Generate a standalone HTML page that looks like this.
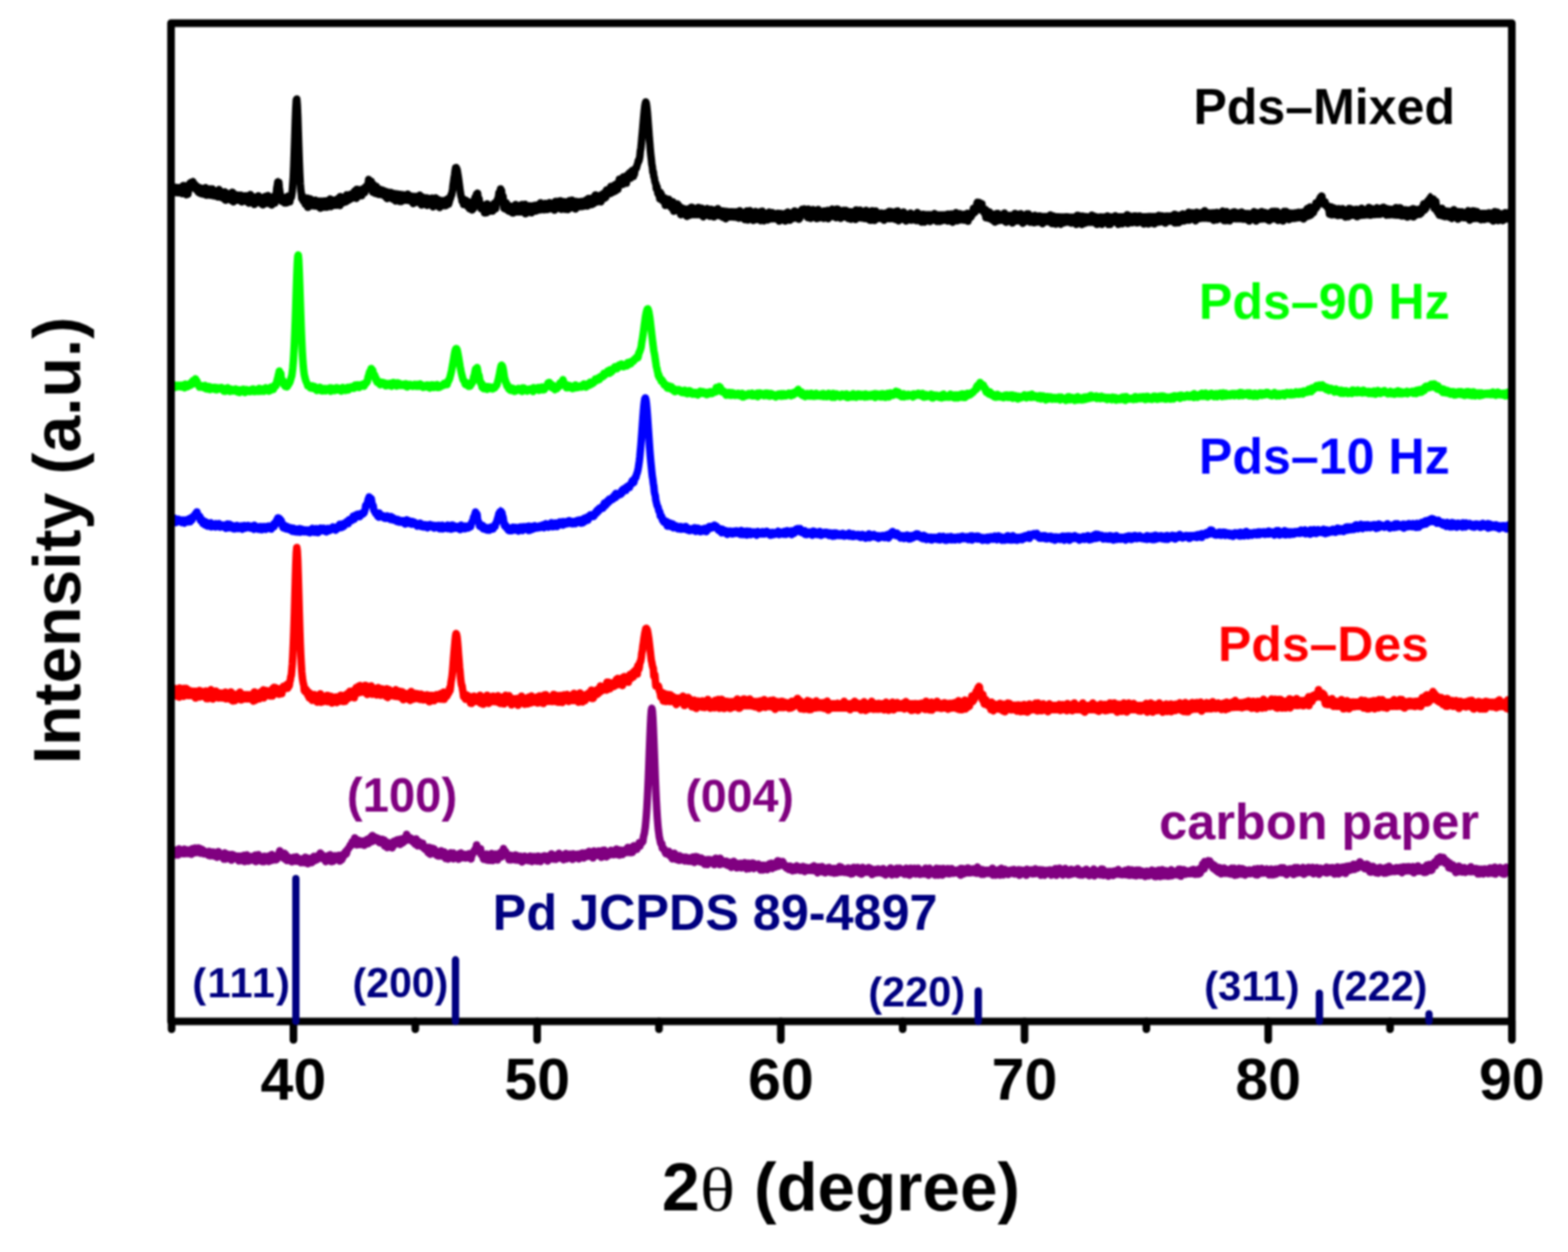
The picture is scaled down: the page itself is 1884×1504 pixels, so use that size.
<!DOCTYPE html>
<html><head><meta charset="utf-8"><title>XRD patterns</title>
<style>html,body{margin:0;padding:0;background:#fff;width:1884px;height:1504px;overflow:hidden}svg{display:block;filter:blur(1.0px)}</style>
</head><body>
<svg width="1884" height="1504" viewBox="0 0 1884 1504">
<rect width="1884" height="1504" fill="#ffffff"/>
<defs><clipPath id="pa"><rect x="206" y="27" width="1610.6" height="1200"/></clipPath></defs>
<g clip-path="url(#pa)">
<polygon fill="#800080" points="206.0,1017.4 207.2,1017.4 208.4,1017.5 209.6,1017.5 210.8,1017.5 212.0,1017.5 213.2,1017.5 214.4,1017.6 215.6,1017.6 216.8,1017.6 218.0,1017.6 219.2,1017.7 220.4,1017.7 221.6,1017.7 222.8,1017.7 224.0,1017.8 225.2,1017.8 226.4,1017.8 227.6,1017.8 228.8,1017.8 230.0,1017.7 231.2,1017.6 232.4,1017.4 233.6,1017.1 234.8,1016.6 236.0,1016.1 237.2,1015.5 238.4,1015.0 239.6,1014.7 240.8,1014.8 242.0,1015.2 243.2,1016.0 244.4,1016.8 245.6,1017.5 246.8,1018.2 248.0,1018.7 249.2,1019.1 250.4,1019.5 251.6,1019.7 252.8,1020.0 254.0,1020.1 255.2,1020.3 256.4,1020.4 257.6,1020.6 258.8,1020.7 260.0,1020.8 261.2,1021.0 262.4,1021.1 263.6,1021.2 264.8,1021.4 266.0,1021.5 267.2,1021.7 268.4,1021.8 269.6,1022.0 270.8,1022.2 272.0,1022.3 273.2,1022.5 274.4,1022.7 275.6,1022.8 276.8,1023.0 278.0,1023.1 279.2,1023.3 280.4,1023.4 281.6,1023.6 282.8,1023.7 284.0,1023.9 285.2,1024.0 286.4,1024.1 287.6,1024.3 288.8,1024.4 290.0,1024.5 291.2,1024.6 292.4,1024.7 293.6,1024.7 294.8,1024.8 296.0,1024.9 297.2,1024.9 298.4,1024.9 299.6,1024.9 300.8,1024.9 302.0,1024.9 303.2,1024.9 304.4,1024.9 305.6,1024.9 306.8,1024.9 308.0,1024.9 309.2,1024.9 310.4,1024.9 311.6,1024.9 312.8,1024.9 314.0,1024.9 315.2,1024.9 316.4,1024.9 317.6,1024.8 318.8,1024.8 320.0,1024.8 321.2,1024.8 322.4,1024.8 323.6,1024.7 324.8,1024.7 326.0,1024.7 327.2,1024.6 328.4,1024.5 329.6,1024.3 330.8,1023.9 332.0,1023.1 333.2,1021.8 334.4,1020.2 335.6,1018.5 336.8,1017.7 338.0,1018.2 339.2,1019.9 340.4,1021.8 341.6,1023.3 342.8,1024.4 344.0,1025.1 345.2,1025.5 346.4,1025.8 347.6,1026.0 348.8,1026.2 350.0,1026.3 351.2,1026.5 352.4,1026.6 353.6,1026.7 354.8,1026.8 356.0,1026.9 357.2,1027.0 358.4,1027.1 359.6,1027.2 360.8,1027.3 362.0,1027.4 363.2,1027.5 364.4,1027.6 365.6,1027.7 366.8,1027.7 368.0,1027.7 369.2,1027.8 370.4,1027.7 371.6,1027.7 372.8,1027.6 374.0,1027.5 375.2,1027.3 376.4,1027.1 377.6,1026.7 378.8,1026.2 380.0,1025.4 381.2,1024.5 382.4,1023.4 383.6,1022.4 384.8,1022.0 386.0,1022.2 387.2,1022.9 388.4,1023.7 389.6,1024.3 390.8,1024.8 392.0,1025.0 393.2,1025.1 394.4,1025.1 395.6,1025.1 396.8,1025.0 398.0,1024.9 399.2,1024.8 400.4,1024.7 401.6,1024.6 402.8,1024.5 404.0,1024.5 405.2,1024.4 406.4,1024.3 407.6,1024.2 408.8,1024.1 410.0,1024.0 411.2,1023.8 412.4,1023.5 413.6,1022.7 414.8,1021.3 416.0,1019.4 417.2,1017.3 418.4,1015.0 419.6,1012.6 420.8,1010.3 422.0,1008.3 423.2,1006.6 424.4,1005.3 425.6,1004.8 426.8,1005.0 428.0,1005.5 429.2,1006.1 430.4,1006.5 431.6,1006.7 432.8,1006.7 434.0,1006.5 435.2,1006.3 436.4,1006.1 437.6,1005.8 438.8,1005.4 440.0,1005.0 441.2,1004.5 442.4,1003.9 443.6,1003.2 444.8,1002.5 446.0,1001.7 447.2,1001.1 448.4,1000.7 449.6,1000.8 450.8,1001.1 452.0,1001.5 453.2,1002.0 454.4,1002.5 455.6,1002.9 456.8,1003.5 458.0,1004.3 459.2,1005.1 460.4,1006.1 461.6,1007.0 462.8,1007.9 464.0,1008.7 465.2,1009.3 466.4,1009.6 467.6,1009.6 468.8,1009.4 470.0,1008.9 471.2,1008.3 472.4,1007.7 473.6,1007.0 474.8,1006.3 476.0,1005.8 477.2,1005.4 478.4,1005.1 479.6,1004.9 480.8,1004.5 482.0,1003.9 483.2,1003.1 484.4,1002.2 485.6,1001.2 486.8,1000.3 488.0,999.7 489.2,999.7 490.4,1000.2 491.6,1001.1 492.8,1002.1 494.0,1003.0 495.2,1003.8 496.4,1004.4 497.6,1004.8 498.8,1005.1 500.0,1005.3 501.2,1005.7 502.4,1006.3 503.6,1007.3 504.8,1008.3 506.0,1009.5 507.2,1010.6 508.4,1011.7 509.6,1012.5 510.8,1013.2 512.0,1013.8 513.2,1014.4 514.4,1015.0 515.6,1015.5 516.8,1016.0 518.0,1016.5 519.2,1017.0 520.4,1017.4 521.6,1017.8 522.8,1018.2 524.0,1018.6 525.2,1018.9 526.4,1019.3 527.6,1019.6 528.8,1019.9 530.0,1020.3 531.2,1020.6 532.4,1020.9 533.6,1021.2 534.8,1021.5 536.0,1021.8 537.2,1022.0 538.4,1022.2 539.6,1022.4 540.8,1022.6 542.0,1022.7 543.2,1022.8 544.4,1022.8 545.6,1022.8 546.8,1022.8 548.0,1022.8 549.2,1022.8 550.4,1022.8 551.6,1022.8 552.8,1022.8 554.0,1022.8 555.2,1022.7 556.4,1022.7 557.6,1022.7 558.8,1022.6 560.0,1022.6 561.2,1022.5 562.4,1022.4 563.6,1022.3 564.8,1022.1 566.0,1021.8 567.2,1021.1 568.4,1020.0 569.6,1018.3 570.8,1015.9 572.0,1013.4 573.2,1011.6 574.4,1011.8 575.6,1013.9 576.8,1016.6 578.0,1018.9 579.2,1020.6 580.4,1021.7 581.6,1022.3 582.8,1022.7 584.0,1022.9 585.2,1023.1 586.4,1023.2 587.6,1023.3 588.8,1023.4 590.0,1023.5 591.2,1023.5 592.4,1023.6 593.6,1023.6 594.8,1023.6 596.0,1023.5 597.2,1023.4 598.4,1023.0 599.6,1022.4 600.8,1021.5 602.0,1020.3 603.2,1018.9 604.4,1017.8 605.6,1017.4 606.8,1018.1 608.0,1019.5 609.2,1021.1 610.4,1022.4 611.6,1023.5 612.8,1024.2 614.0,1024.6 615.2,1024.9 616.4,1025.1 617.6,1025.2 618.8,1025.3 620.0,1025.4 621.2,1025.4 622.4,1025.4 623.6,1025.4 624.8,1025.4 626.0,1025.4 627.2,1025.4 628.4,1025.4 629.6,1025.4 630.8,1025.4 632.0,1025.4 633.2,1025.4 634.4,1025.3 635.6,1025.3 636.8,1025.3 638.0,1025.2 639.2,1025.2 640.4,1025.1 641.6,1025.1 642.8,1025.0 644.0,1025.0 645.2,1024.9 646.4,1024.9 647.6,1024.8 648.8,1024.8 650.0,1024.7 651.2,1024.6 652.4,1024.6 653.6,1024.5 654.8,1024.4 656.0,1024.4 657.2,1024.3 658.4,1024.2 659.6,1024.1 660.8,1024.1 662.0,1024.0 663.2,1023.9 664.4,1023.8 665.6,1023.8 666.8,1023.7 668.0,1023.6 669.2,1023.5 670.4,1023.4 671.6,1023.3 672.8,1023.3 674.0,1023.2 675.2,1023.1 676.4,1023.0 677.6,1022.9 678.8,1022.8 680.0,1022.7 681.2,1022.7 682.4,1022.6 683.6,1022.5 684.8,1022.4 686.0,1022.3 687.2,1022.2 688.4,1022.1 689.6,1022.1 690.8,1022.0 692.0,1021.9 693.2,1021.8 694.4,1021.7 695.6,1021.6 696.8,1021.6 698.0,1021.5 699.2,1021.4 700.4,1021.3 701.6,1021.2 702.8,1021.2 704.0,1021.1 705.2,1021.0 706.4,1020.9 707.6,1020.9 708.8,1020.8 710.0,1020.7 711.2,1020.6 712.4,1020.6 713.6,1020.5 714.8,1020.4 716.0,1020.3 717.2,1020.3 718.4,1020.2 719.6,1020.1 720.8,1020.0 722.0,1019.9 723.2,1019.9 724.4,1019.8 725.6,1019.7 726.8,1019.6 728.0,1019.5 729.2,1019.4 730.4,1019.3 731.6,1019.2 732.8,1019.1 734.0,1019.0 735.2,1018.9 736.4,1018.8 737.6,1018.7 738.8,1018.6 740.0,1018.5 741.2,1018.4 742.4,1018.2 743.6,1018.1 744.8,1018.0 746.0,1017.8 747.2,1017.7 748.4,1017.5 749.6,1017.3 750.8,1017.1 752.0,1017.0 753.2,1016.8 754.4,1016.5 755.6,1016.3 756.8,1016.1 758.0,1015.8 759.2,1015.5 760.4,1015.2 761.6,1014.8 762.8,1014.4 764.0,1013.8 765.2,1013.2 766.4,1012.6 767.6,1011.9 768.8,1011.1 770.0,1010.2 771.2,1009.0 772.4,1007.3 773.6,1004.3 774.8,997.6 776.0,986.9 777.2,970.7 778.4,948.0 779.6,919.4 780.8,888.1 782.0,861.6 783.2,850.8 784.4,861.7 785.6,888.5 786.8,920.3 788.0,949.6 789.2,972.9 790.4,989.8 791.6,1001.2 792.8,1008.5 794.0,1012.1 795.2,1014.2 796.4,1015.8 797.6,1017.1 798.8,1018.2 800.0,1019.2 801.2,1020.1 802.4,1020.9 803.6,1021.5 804.8,1022.0 806.0,1022.5 807.2,1022.9 808.4,1023.2 809.6,1023.5 810.8,1023.8 812.0,1024.0 813.2,1024.2 814.4,1024.4 815.6,1024.6 816.8,1024.8 818.0,1025.0 819.2,1025.2 820.4,1025.4 821.6,1025.5 822.8,1025.7 824.0,1025.9 825.2,1026.0 826.4,1026.2 827.6,1026.3 828.8,1026.5 830.0,1026.6 831.2,1026.7 832.4,1026.9 833.6,1027.0 834.8,1027.1 836.0,1027.2 837.2,1027.4 838.4,1027.5 839.6,1027.6 840.8,1027.7 842.0,1027.8 843.2,1027.9 844.4,1028.1 845.6,1028.2 846.8,1028.3 848.0,1028.4 849.2,1028.5 850.4,1028.6 851.6,1028.8 852.8,1028.9 854.0,1029.0 855.2,1029.0 856.4,1029.1 857.6,1029.1 858.8,1029.1 860.0,1029.1 861.2,1029.0 862.4,1029.0 863.6,1029.0 864.8,1029.1 866.0,1029.3 867.2,1029.6 868.4,1030.0 869.6,1030.3 870.8,1030.6 872.0,1030.9 873.2,1031.1 874.4,1031.3 875.6,1031.5 876.8,1031.7 878.0,1031.9 879.2,1032.0 880.4,1032.2 881.6,1032.3 882.8,1032.4 884.0,1032.6 885.2,1032.7 886.4,1032.8 887.6,1033.0 888.8,1033.1 890.0,1033.2 891.2,1033.3 892.4,1033.4 893.6,1033.5 894.8,1033.6 896.0,1033.8 897.2,1033.8 898.4,1033.9 899.6,1034.0 900.8,1034.1 902.0,1034.2 903.2,1034.3 904.4,1034.4 905.6,1034.4 906.8,1034.5 908.0,1034.6 909.2,1034.7 910.4,1034.7 911.6,1034.8 912.8,1034.9 914.0,1035.0 915.2,1035.0 916.4,1035.1 917.6,1035.1 918.8,1035.2 920.0,1035.2 921.2,1035.3 922.4,1035.3 923.6,1035.3 924.8,1035.3 926.0,1035.2 927.2,1035.0 928.4,1034.7 929.6,1034.3 930.8,1033.7 932.0,1032.9 933.2,1032.0 934.4,1031.1 935.6,1030.4 936.8,1030.3 938.0,1030.7 939.2,1031.5 940.4,1032.5 941.6,1033.5 942.8,1034.4 944.0,1035.2 945.2,1035.7 946.4,1036.1 947.6,1036.4 948.8,1036.6 950.0,1036.7 951.2,1036.9 952.4,1037.0 953.6,1037.1 954.8,1037.2 956.0,1037.2 957.2,1037.3 958.4,1037.4 959.6,1037.4 960.8,1037.5 962.0,1037.6 963.2,1037.6 964.4,1037.7 965.6,1037.7 966.8,1037.8 968.0,1037.9 969.2,1037.9 970.4,1038.0 971.6,1038.0 972.8,1038.1 974.0,1038.1 975.2,1038.2 976.4,1038.2 977.6,1038.2 978.8,1038.3 980.0,1038.3 981.2,1038.4 982.4,1038.4 983.6,1038.5 984.8,1038.5 986.0,1038.5 987.2,1038.6 988.4,1038.6 989.6,1038.7 990.8,1038.7 992.0,1038.7 993.2,1038.8 994.4,1038.8 995.6,1038.9 996.8,1038.9 998.0,1039.0 999.2,1039.0 1000.4,1039.0 1001.6,1039.1 1002.8,1039.1 1004.0,1039.2 1005.2,1039.2 1006.4,1039.2 1007.6,1039.3 1008.8,1039.3 1010.0,1039.4 1011.2,1039.4 1012.4,1039.4 1013.6,1039.5 1014.8,1039.5 1016.0,1039.6 1017.2,1039.6 1018.4,1039.6 1019.6,1039.7 1020.8,1039.7 1022.0,1039.7 1023.2,1039.8 1024.4,1039.8 1025.6,1039.9 1026.8,1039.9 1028.0,1039.9 1029.2,1040.0 1030.4,1040.0 1031.6,1040.0 1032.8,1040.1 1034.0,1040.1 1035.2,1040.1 1036.4,1040.2 1037.6,1040.2 1038.8,1040.2 1040.0,1040.3 1041.2,1040.3 1042.4,1040.3 1043.6,1040.4 1044.8,1040.4 1046.0,1040.4 1047.2,1040.5 1048.4,1040.5 1049.6,1040.5 1050.8,1040.5 1052.0,1040.6 1053.2,1040.6 1054.4,1040.6 1055.6,1040.7 1056.8,1040.7 1058.0,1040.7 1059.2,1040.7 1060.4,1040.8 1061.6,1040.8 1062.8,1040.8 1064.0,1040.8 1065.2,1040.8 1066.4,1040.9 1067.6,1040.9 1068.8,1040.9 1070.0,1040.9 1071.2,1040.9 1072.4,1041.0 1073.6,1041.0 1074.8,1041.0 1076.0,1041.0 1077.2,1041.0 1078.4,1041.0 1079.6,1041.1 1080.8,1041.1 1082.0,1041.1 1083.2,1041.1 1084.4,1041.1 1085.6,1041.1 1086.8,1041.1 1088.0,1041.1 1089.2,1041.1 1090.4,1041.2 1091.6,1041.2 1092.8,1041.2 1094.0,1041.2 1095.2,1041.2 1096.4,1041.2 1097.6,1041.2 1098.8,1041.2 1100.0,1041.2 1101.2,1041.2 1102.4,1041.2 1103.6,1041.2 1104.8,1041.2 1106.0,1041.2 1107.2,1041.2 1108.4,1041.2 1109.6,1041.2 1110.8,1041.2 1112.0,1041.2 1113.2,1041.2 1114.4,1041.2 1115.6,1041.2 1116.8,1041.2 1118.0,1041.2 1119.2,1041.2 1120.4,1041.2 1121.6,1041.2 1122.8,1041.2 1124.0,1041.2 1125.2,1041.2 1126.4,1041.2 1127.6,1041.2 1128.8,1041.2 1130.0,1041.2 1131.2,1041.2 1132.4,1041.2 1133.6,1041.2 1134.8,1041.2 1136.0,1041.2 1137.2,1041.2 1138.4,1041.2 1139.6,1041.2 1140.8,1041.2 1142.0,1041.2 1143.2,1041.2 1144.4,1041.2 1145.6,1041.2 1146.8,1041.2 1148.0,1041.2 1149.2,1041.2 1150.4,1041.2 1151.6,1041.1 1152.8,1041.1 1154.0,1041.1 1155.2,1041.1 1156.4,1041.1 1157.6,1041.1 1158.8,1041.1 1160.0,1041.1 1161.2,1041.1 1162.4,1041.0 1163.6,1041.0 1164.8,1040.9 1166.0,1040.8 1167.2,1040.7 1168.4,1040.5 1169.6,1040.3 1170.8,1040.0 1172.0,1039.8 1173.2,1039.7 1174.4,1039.7 1175.6,1039.9 1176.8,1040.1 1178.0,1040.3 1179.2,1040.5 1180.4,1040.7 1181.6,1040.8 1182.8,1040.9 1184.0,1041.0 1185.2,1041.0 1186.4,1041.1 1187.6,1041.1 1188.8,1041.1 1190.0,1041.1 1191.2,1041.1 1192.4,1041.1 1193.6,1041.1 1194.8,1041.1 1196.0,1041.1 1197.2,1041.2 1198.4,1041.2 1199.6,1041.2 1200.8,1041.2 1202.0,1041.2 1203.2,1041.2 1204.4,1041.2 1205.6,1041.2 1206.8,1041.2 1208.0,1041.2 1209.2,1041.2 1210.4,1041.2 1211.6,1041.2 1212.8,1041.2 1214.0,1041.2 1215.2,1041.2 1216.4,1041.2 1217.6,1041.2 1218.8,1041.2 1220.0,1041.2 1221.2,1041.2 1222.4,1041.2 1223.6,1041.2 1224.8,1041.2 1226.0,1041.2 1227.2,1041.2 1228.4,1041.2 1229.6,1041.2 1230.8,1041.2 1232.0,1041.2 1233.2,1041.2 1234.4,1041.2 1235.6,1041.2 1236.8,1041.2 1238.0,1041.2 1239.2,1041.2 1240.4,1041.2 1241.6,1041.2 1242.8,1041.2 1244.0,1041.2 1245.2,1041.2 1246.4,1041.2 1247.6,1041.2 1248.8,1041.2 1250.0,1041.2 1251.2,1041.2 1252.4,1041.2 1253.6,1041.2 1254.8,1041.2 1256.0,1041.2 1257.2,1041.2 1258.4,1041.2 1259.6,1041.2 1260.8,1041.2 1262.0,1041.2 1263.2,1041.2 1264.4,1041.2 1265.6,1041.3 1266.8,1041.3 1268.0,1041.3 1269.2,1041.3 1270.4,1041.3 1271.6,1041.3 1272.8,1041.3 1274.0,1041.3 1275.2,1041.4 1276.4,1041.4 1277.6,1041.4 1278.8,1041.4 1280.0,1041.4 1281.2,1041.4 1282.4,1041.5 1283.6,1041.5 1284.8,1041.5 1286.0,1041.5 1287.2,1041.5 1288.4,1041.6 1289.6,1041.6 1290.8,1041.6 1292.0,1041.6 1293.2,1041.6 1294.4,1041.7 1295.6,1041.7 1296.8,1041.7 1298.0,1041.7 1299.2,1041.8 1300.4,1041.8 1301.6,1041.8 1302.8,1041.8 1304.0,1041.9 1305.2,1041.9 1306.4,1041.9 1307.6,1041.9 1308.8,1041.9 1310.0,1042.0 1311.2,1042.0 1312.4,1042.0 1313.6,1042.0 1314.8,1042.1 1316.0,1042.1 1317.2,1042.1 1318.4,1042.1 1319.6,1042.2 1320.8,1042.2 1322.0,1042.2 1323.2,1042.2 1324.4,1042.3 1325.6,1042.3 1326.8,1042.3 1328.0,1042.3 1329.2,1042.4 1330.4,1042.4 1331.6,1042.4 1332.8,1042.4 1334.0,1042.5 1335.2,1042.5 1336.4,1042.5 1337.6,1042.5 1338.8,1042.5 1340.0,1042.6 1341.2,1042.6 1342.4,1042.6 1343.6,1042.6 1344.8,1042.6 1346.0,1042.7 1347.2,1042.7 1348.4,1042.7 1349.6,1042.7 1350.8,1042.7 1352.0,1042.7 1353.2,1042.8 1354.4,1042.8 1355.6,1042.8 1356.8,1042.8 1358.0,1042.8 1359.2,1042.8 1360.4,1042.8 1361.6,1042.9 1362.8,1042.9 1364.0,1042.9 1365.2,1042.9 1366.4,1042.9 1367.6,1042.9 1368.8,1042.9 1370.0,1042.9 1371.2,1042.9 1372.4,1042.9 1373.6,1042.9 1374.8,1042.9 1376.0,1042.9 1377.2,1042.9 1378.4,1042.9 1379.6,1042.9 1380.8,1042.9 1382.0,1042.9 1383.2,1042.9 1384.4,1042.9 1385.6,1042.9 1386.8,1042.9 1388.0,1042.9 1389.2,1042.9 1390.4,1042.9 1391.6,1042.9 1392.8,1042.9 1394.0,1042.9 1395.2,1042.8 1396.4,1042.8 1397.6,1042.8 1398.8,1042.8 1400.0,1042.8 1401.2,1042.8 1402.4,1042.8 1403.6,1042.7 1404.8,1042.7 1406.0,1042.7 1407.2,1042.7 1408.4,1042.7 1409.6,1042.6 1410.8,1042.6 1412.0,1042.6 1413.2,1042.6 1414.4,1042.5 1415.6,1042.5 1416.8,1042.5 1418.0,1042.4 1419.2,1042.4 1420.4,1042.4 1421.6,1042.3 1422.8,1042.3 1424.0,1042.2 1425.2,1042.2 1426.4,1042.1 1427.6,1042.0 1428.8,1042.0 1430.0,1041.9 1431.2,1041.8 1432.4,1041.7 1433.6,1041.6 1434.8,1041.4 1436.0,1041.3 1437.2,1041.0 1438.4,1040.7 1439.6,1040.3 1440.8,1039.7 1442.0,1038.9 1443.2,1037.9 1444.4,1036.7 1445.6,1035.2 1446.8,1033.6 1448.0,1031.9 1449.2,1030.4 1450.4,1029.4 1451.6,1029.2 1452.8,1029.9 1454.0,1031.2 1455.2,1032.8 1456.4,1034.5 1457.6,1036.0 1458.8,1037.2 1460.0,1038.3 1461.2,1039.1 1462.4,1039.7 1463.6,1040.1 1464.8,1040.4 1466.0,1040.6 1467.2,1040.8 1468.4,1040.9 1469.6,1040.9 1470.8,1041.0 1472.0,1041.1 1473.2,1041.1 1474.4,1041.1 1475.6,1041.1 1476.8,1041.2 1478.0,1041.2 1479.2,1041.2 1480.4,1041.2 1481.6,1041.2 1482.8,1041.2 1484.0,1041.2 1485.2,1041.2 1486.4,1041.2 1487.6,1041.2 1488.8,1041.2 1490.0,1041.1 1491.2,1041.1 1492.4,1041.1 1493.6,1041.1 1494.8,1041.1 1496.0,1041.1 1497.2,1041.1 1498.4,1041.1 1499.6,1041.1 1500.8,1041.1 1502.0,1041.0 1503.2,1041.0 1504.4,1041.0 1505.6,1041.0 1506.8,1041.0 1508.0,1041.0 1509.2,1041.0 1510.4,1041.0 1511.6,1040.9 1512.8,1040.9 1514.0,1040.9 1515.2,1040.9 1516.4,1040.9 1517.6,1040.9 1518.8,1040.9 1520.0,1040.9 1521.2,1040.8 1522.4,1040.8 1523.6,1040.8 1524.8,1040.8 1526.0,1040.8 1527.2,1040.8 1528.4,1040.8 1529.6,1040.7 1530.8,1040.7 1532.0,1040.7 1533.2,1040.7 1534.4,1040.7 1535.6,1040.7 1536.8,1040.7 1538.0,1040.6 1539.2,1040.6 1540.4,1040.6 1541.6,1040.6 1542.8,1040.6 1544.0,1040.6 1545.2,1040.6 1546.4,1040.5 1547.6,1040.5 1548.8,1040.5 1550.0,1040.5 1551.2,1040.5 1552.4,1040.5 1553.6,1040.5 1554.8,1040.4 1556.0,1040.4 1557.2,1040.4 1558.4,1040.4 1559.6,1040.4 1560.8,1040.4 1562.0,1040.4 1563.2,1040.3 1564.4,1040.3 1565.6,1040.3 1566.8,1040.3 1568.0,1040.3 1569.2,1040.3 1570.4,1040.2 1571.6,1040.2 1572.8,1040.2 1574.0,1040.2 1575.2,1040.2 1576.4,1040.2 1577.6,1040.2 1578.8,1040.1 1580.0,1040.1 1581.2,1040.1 1582.4,1040.1 1583.6,1040.1 1584.8,1040.1 1586.0,1040.0 1587.2,1040.0 1588.4,1040.0 1589.6,1040.0 1590.8,1040.0 1592.0,1039.9 1593.2,1039.9 1594.4,1039.9 1595.6,1039.9 1596.8,1039.9 1598.0,1039.8 1599.2,1039.8 1600.4,1039.8 1601.6,1039.8 1602.8,1039.7 1604.0,1039.7 1605.2,1039.7 1606.4,1039.6 1607.6,1039.6 1608.8,1039.5 1610.0,1039.5 1611.2,1039.5 1612.4,1039.4 1613.6,1039.3 1614.8,1039.2 1616.0,1039.1 1617.2,1039.0 1618.4,1038.8 1619.6,1038.6 1620.8,1038.4 1622.0,1038.1 1623.2,1037.7 1624.4,1037.2 1625.6,1036.7 1626.8,1036.1 1628.0,1035.4 1629.2,1034.7 1630.4,1034.0 1631.6,1033.4 1632.8,1033.0 1634.0,1032.7 1635.2,1032.7 1636.4,1032.9 1637.6,1033.3 1638.8,1033.9 1640.0,1034.6 1641.2,1035.2 1642.4,1035.8 1643.6,1036.4 1644.8,1036.9 1646.0,1037.3 1647.2,1037.7 1648.4,1038.0 1649.6,1038.2 1650.8,1038.4 1652.0,1038.5 1653.2,1038.6 1654.4,1038.6 1655.6,1038.7 1656.8,1038.7 1658.0,1038.7 1659.2,1038.8 1660.4,1038.8 1661.6,1038.8 1662.8,1038.8 1664.0,1038.8 1665.2,1038.8 1666.4,1038.8 1667.6,1038.8 1668.8,1038.8 1670.0,1038.8 1671.2,1038.8 1672.4,1038.8 1673.6,1038.8 1674.8,1038.8 1676.0,1038.7 1677.2,1038.7 1678.4,1038.7 1679.6,1038.7 1680.8,1038.7 1682.0,1038.7 1683.2,1038.7 1684.4,1038.7 1685.6,1038.7 1686.8,1038.6 1688.0,1038.6 1689.2,1038.6 1690.4,1038.6 1691.6,1038.6 1692.8,1038.6 1694.0,1038.5 1695.2,1038.5 1696.4,1038.5 1697.6,1038.5 1698.8,1038.5 1700.0,1038.4 1701.2,1038.4 1702.4,1038.4 1703.6,1038.3 1704.8,1038.3 1706.0,1038.3 1707.2,1038.2 1708.4,1038.1 1709.6,1038.1 1710.8,1038.0 1712.0,1037.8 1713.2,1037.7 1714.4,1037.4 1715.6,1037.1 1716.8,1036.8 1718.0,1036.3 1719.2,1035.7 1720.4,1034.9 1721.6,1034.0 1722.8,1033.0 1724.0,1031.8 1725.2,1030.5 1726.4,1029.2 1727.6,1027.9 1728.8,1026.8 1730.0,1026.0 1731.2,1025.7 1732.4,1025.8 1733.6,1026.5 1734.8,1027.4 1736.0,1028.7 1737.2,1030.0 1738.4,1031.4 1739.6,1032.6 1740.8,1033.8 1742.0,1034.8 1743.2,1035.6 1744.4,1036.4 1745.6,1036.9 1746.8,1037.4 1748.0,1037.8 1749.2,1038.0 1750.4,1038.3 1751.6,1038.5 1752.8,1038.6 1754.0,1038.7 1755.2,1038.8 1756.4,1038.9 1757.6,1039.0 1758.8,1039.0 1760.0,1039.1 1761.2,1039.2 1762.4,1039.2 1763.6,1039.3 1764.8,1039.3 1766.0,1039.3 1767.2,1039.4 1768.4,1039.4 1769.6,1039.5 1770.8,1039.5 1772.0,1039.5 1773.2,1039.6 1774.4,1039.6 1775.6,1039.6 1776.8,1039.6 1778.0,1039.7 1779.2,1039.7 1780.4,1039.7 1781.6,1039.7 1782.8,1039.7 1784.0,1039.8 1785.2,1039.8 1786.4,1039.8 1787.6,1039.8 1788.8,1039.8 1790.0,1039.8 1791.2,1039.8 1792.4,1039.9 1793.6,1039.9 1794.8,1039.9 1796.0,1039.9 1797.2,1039.9 1798.4,1039.9 1799.6,1039.9 1800.8,1039.9 1802.0,1039.9 1803.2,1039.9 1804.4,1039.9 1805.6,1039.9 1806.8,1039.9 1808.0,1039.9 1809.2,1039.9 1810.4,1039.9 1811.6,1039.9 1812.8,1039.9 1814.0,1039.9 1815.2,1039.9 1816.4,1039.9 1816.4,1051.9 1815.2,1051.9 1814.0,1051.9 1812.8,1051.9 1811.6,1051.9 1810.4,1051.9 1809.2,1051.9 1808.0,1051.9 1806.8,1051.9 1805.6,1051.9 1804.4,1051.9 1803.2,1051.9 1802.0,1051.9 1800.8,1051.9 1799.6,1051.9 1798.4,1051.9 1797.2,1051.9 1796.0,1051.9 1794.8,1051.9 1793.6,1051.9 1792.4,1051.9 1791.2,1051.8 1790.0,1051.8 1788.8,1051.8 1787.6,1051.8 1786.4,1051.8 1785.2,1051.8 1784.0,1051.8 1782.8,1051.7 1781.6,1051.7 1780.4,1051.7 1779.2,1051.7 1778.0,1051.7 1776.8,1051.6 1775.6,1051.6 1774.4,1051.6 1773.2,1051.5 1772.0,1051.5 1770.8,1051.5 1769.6,1051.5 1768.4,1051.4 1767.2,1051.4 1766.0,1051.3 1764.8,1051.3 1763.6,1051.3 1762.4,1051.2 1761.2,1051.2 1760.0,1051.1 1758.8,1051.0 1757.6,1051.0 1756.4,1050.9 1755.2,1050.8 1754.0,1050.7 1752.8,1050.6 1751.6,1050.4 1750.4,1050.3 1749.2,1050.0 1748.0,1049.8 1746.8,1049.4 1745.6,1048.9 1744.4,1048.4 1743.2,1047.6 1742.0,1046.8 1740.8,1045.8 1739.6,1044.6 1738.4,1043.4 1737.2,1042.0 1736.0,1040.7 1734.8,1039.4 1733.6,1038.4 1732.4,1037.8 1731.2,1037.7 1730.0,1038.0 1728.8,1038.8 1727.6,1039.9 1726.4,1041.2 1725.2,1042.5 1724.0,1043.8 1722.8,1045.0 1721.6,1046.0 1720.4,1046.9 1719.2,1047.7 1718.0,1048.3 1716.8,1048.8 1715.6,1049.1 1714.4,1049.4 1713.2,1049.7 1712.0,1049.8 1710.8,1050.0 1709.6,1050.1 1708.4,1050.1 1707.2,1050.2 1706.0,1050.3 1704.8,1050.3 1703.6,1050.3 1702.4,1050.4 1701.2,1050.4 1700.0,1050.4 1698.8,1050.5 1697.6,1050.5 1696.4,1050.5 1695.2,1050.5 1694.0,1050.5 1692.8,1050.6 1691.6,1050.6 1690.4,1050.6 1689.2,1050.6 1688.0,1050.6 1686.8,1050.6 1685.6,1050.7 1684.4,1050.7 1683.2,1050.7 1682.0,1050.7 1680.8,1050.7 1679.6,1050.7 1678.4,1050.7 1677.2,1050.7 1676.0,1050.7 1674.8,1050.7 1673.6,1050.8 1672.4,1050.8 1671.2,1050.8 1670.0,1050.8 1668.8,1050.8 1667.6,1050.8 1666.4,1050.8 1665.2,1050.8 1664.0,1050.8 1662.8,1050.8 1661.6,1050.8 1660.4,1050.8 1659.2,1050.8 1658.0,1050.7 1656.8,1050.7 1655.6,1050.7 1654.4,1050.6 1653.2,1050.6 1652.0,1050.5 1650.8,1050.4 1649.6,1050.2 1648.4,1050.0 1647.2,1049.7 1646.0,1049.3 1644.8,1048.9 1643.6,1048.4 1642.4,1047.8 1641.2,1047.2 1640.0,1046.6 1638.8,1045.9 1637.6,1045.3 1636.4,1044.9 1635.2,1044.7 1634.0,1044.7 1632.8,1045.0 1631.6,1045.4 1630.4,1046.0 1629.2,1046.7 1628.0,1047.4 1626.8,1048.1 1625.6,1048.7 1624.4,1049.2 1623.2,1049.7 1622.0,1050.1 1620.8,1050.4 1619.6,1050.6 1618.4,1050.8 1617.2,1051.0 1616.0,1051.1 1614.8,1051.2 1613.6,1051.3 1612.4,1051.4 1611.2,1051.4 1610.0,1051.5 1608.8,1051.5 1607.6,1051.6 1606.4,1051.6 1605.2,1051.7 1604.0,1051.7 1602.8,1051.7 1601.6,1051.8 1600.4,1051.8 1599.2,1051.8 1598.0,1051.8 1596.8,1051.8 1595.6,1051.9 1594.4,1051.9 1593.2,1051.9 1592.0,1051.9 1590.8,1052.0 1589.6,1052.0 1588.4,1052.0 1587.2,1052.0 1586.0,1052.0 1584.8,1052.0 1583.6,1052.1 1582.4,1052.1 1581.2,1052.1 1580.0,1052.1 1578.8,1052.1 1577.6,1052.2 1576.4,1052.2 1575.2,1052.2 1574.0,1052.2 1572.8,1052.2 1571.6,1052.2 1570.4,1052.2 1569.2,1052.3 1568.0,1052.3 1566.8,1052.3 1565.6,1052.3 1564.4,1052.3 1563.2,1052.3 1562.0,1052.4 1560.8,1052.4 1559.6,1052.4 1558.4,1052.4 1557.2,1052.4 1556.0,1052.4 1554.8,1052.4 1553.6,1052.5 1552.4,1052.5 1551.2,1052.5 1550.0,1052.5 1548.8,1052.5 1547.6,1052.5 1546.4,1052.5 1545.2,1052.6 1544.0,1052.6 1542.8,1052.6 1541.6,1052.6 1540.4,1052.6 1539.2,1052.6 1538.0,1052.6 1536.8,1052.7 1535.6,1052.7 1534.4,1052.7 1533.2,1052.7 1532.0,1052.7 1530.8,1052.7 1529.6,1052.7 1528.4,1052.8 1527.2,1052.8 1526.0,1052.8 1524.8,1052.8 1523.6,1052.8 1522.4,1052.8 1521.2,1052.8 1520.0,1052.9 1518.8,1052.9 1517.6,1052.9 1516.4,1052.9 1515.2,1052.9 1514.0,1052.9 1512.8,1052.9 1511.6,1052.9 1510.4,1053.0 1509.2,1053.0 1508.0,1053.0 1506.8,1053.0 1505.6,1053.0 1504.4,1053.0 1503.2,1053.0 1502.0,1053.0 1500.8,1053.1 1499.6,1053.1 1498.4,1053.1 1497.2,1053.1 1496.0,1053.1 1494.8,1053.1 1493.6,1053.1 1492.4,1053.1 1491.2,1053.1 1490.0,1053.1 1488.8,1053.2 1487.6,1053.2 1486.4,1053.2 1485.2,1053.2 1484.0,1053.2 1482.8,1053.2 1481.6,1053.2 1480.4,1053.2 1479.2,1053.2 1478.0,1053.2 1476.8,1053.2 1475.6,1053.1 1474.4,1053.1 1473.2,1053.1 1472.0,1053.1 1470.8,1053.0 1469.6,1052.9 1468.4,1052.9 1467.2,1052.8 1466.0,1052.6 1464.8,1052.4 1463.6,1052.1 1462.4,1051.7 1461.2,1051.1 1460.0,1050.3 1458.8,1049.2 1457.6,1048.0 1456.4,1046.5 1455.2,1044.8 1454.0,1043.2 1452.8,1041.9 1451.6,1041.2 1450.4,1041.4 1449.2,1042.4 1448.0,1043.9 1446.8,1045.6 1445.6,1047.2 1444.4,1048.7 1443.2,1049.9 1442.0,1050.9 1440.8,1051.7 1439.6,1052.3 1438.4,1052.7 1437.2,1053.0 1436.0,1053.3 1434.8,1053.4 1433.6,1053.6 1432.4,1053.7 1431.2,1053.8 1430.0,1053.9 1428.8,1054.0 1427.6,1054.0 1426.4,1054.1 1425.2,1054.2 1424.0,1054.2 1422.8,1054.3 1421.6,1054.3 1420.4,1054.3 1419.2,1054.4 1418.0,1054.4 1416.8,1054.5 1415.6,1054.5 1414.4,1054.5 1413.2,1054.5 1412.0,1054.6 1410.8,1054.6 1409.6,1054.6 1408.4,1054.6 1407.2,1054.7 1406.0,1054.7 1404.8,1054.7 1403.6,1054.7 1402.4,1054.8 1401.2,1054.8 1400.0,1054.8 1398.8,1054.8 1397.6,1054.8 1396.4,1054.8 1395.2,1054.8 1394.0,1054.9 1392.8,1054.9 1391.6,1054.9 1390.4,1054.9 1389.2,1054.9 1388.0,1054.9 1386.8,1054.9 1385.6,1054.9 1384.4,1054.9 1383.2,1054.9 1382.0,1054.9 1380.8,1054.9 1379.6,1054.9 1378.4,1054.9 1377.2,1054.9 1376.0,1054.9 1374.8,1054.9 1373.6,1054.9 1372.4,1054.9 1371.2,1054.9 1370.0,1054.9 1368.8,1054.9 1367.6,1054.9 1366.4,1054.9 1365.2,1054.9 1364.0,1054.9 1362.8,1054.9 1361.6,1054.9 1360.4,1054.8 1359.2,1054.8 1358.0,1054.8 1356.8,1054.8 1355.6,1054.8 1354.4,1054.8 1353.2,1054.8 1352.0,1054.7 1350.8,1054.7 1349.6,1054.7 1348.4,1054.7 1347.2,1054.7 1346.0,1054.7 1344.8,1054.6 1343.6,1054.6 1342.4,1054.6 1341.2,1054.6 1340.0,1054.6 1338.8,1054.5 1337.6,1054.5 1336.4,1054.5 1335.2,1054.5 1334.0,1054.4 1332.8,1054.4 1331.6,1054.4 1330.4,1054.4 1329.2,1054.4 1328.0,1054.3 1326.8,1054.3 1325.6,1054.3 1324.4,1054.3 1323.2,1054.2 1322.0,1054.2 1320.8,1054.2 1319.6,1054.2 1318.4,1054.1 1317.2,1054.1 1316.0,1054.1 1314.8,1054.1 1313.6,1054.0 1312.4,1054.0 1311.2,1054.0 1310.0,1054.0 1308.8,1053.9 1307.6,1053.9 1306.4,1053.9 1305.2,1053.9 1304.0,1053.8 1302.8,1053.8 1301.6,1053.8 1300.4,1053.8 1299.2,1053.8 1298.0,1053.7 1296.8,1053.7 1295.6,1053.7 1294.4,1053.7 1293.2,1053.6 1292.0,1053.6 1290.8,1053.6 1289.6,1053.6 1288.4,1053.6 1287.2,1053.5 1286.0,1053.5 1284.8,1053.5 1283.6,1053.5 1282.4,1053.5 1281.2,1053.4 1280.0,1053.4 1278.8,1053.4 1277.6,1053.4 1276.4,1053.4 1275.2,1053.4 1274.0,1053.3 1272.8,1053.3 1271.6,1053.3 1270.4,1053.3 1269.2,1053.3 1268.0,1053.3 1266.8,1053.3 1265.6,1053.2 1264.4,1053.2 1263.2,1053.2 1262.0,1053.2 1260.8,1053.2 1259.6,1053.2 1258.4,1053.2 1257.2,1053.2 1256.0,1053.2 1254.8,1053.2 1253.6,1053.2 1252.4,1053.2 1251.2,1053.2 1250.0,1053.2 1248.8,1053.2 1247.6,1053.2 1246.4,1053.2 1245.2,1053.2 1244.0,1053.2 1242.8,1053.2 1241.6,1053.2 1240.4,1053.2 1239.2,1053.2 1238.0,1053.2 1236.8,1053.2 1235.6,1053.2 1234.4,1053.2 1233.2,1053.2 1232.0,1053.2 1230.8,1053.2 1229.6,1053.2 1228.4,1053.2 1227.2,1053.2 1226.0,1053.2 1224.8,1053.2 1223.6,1053.2 1222.4,1053.2 1221.2,1053.2 1220.0,1053.2 1218.8,1053.2 1217.6,1053.2 1216.4,1053.2 1215.2,1053.2 1214.0,1053.2 1212.8,1053.2 1211.6,1053.2 1210.4,1053.2 1209.2,1053.2 1208.0,1053.2 1206.8,1053.2 1205.6,1053.2 1204.4,1053.2 1203.2,1053.2 1202.0,1053.2 1200.8,1053.2 1199.6,1053.2 1198.4,1053.1 1197.2,1053.1 1196.0,1053.1 1194.8,1053.1 1193.6,1053.1 1192.4,1053.1 1191.2,1053.1 1190.0,1053.1 1188.8,1053.1 1187.6,1053.1 1186.4,1053.1 1185.2,1053.0 1184.0,1053.0 1182.8,1052.9 1181.6,1052.8 1180.4,1052.7 1179.2,1052.5 1178.0,1052.3 1176.8,1052.1 1175.6,1051.8 1174.4,1051.7 1173.2,1051.7 1172.0,1051.8 1170.8,1052.0 1169.6,1052.3 1168.4,1052.5 1167.2,1052.7 1166.0,1052.8 1164.8,1052.9 1163.6,1053.0 1162.4,1053.0 1161.2,1053.1 1160.0,1053.1 1158.8,1053.1 1157.6,1053.1 1156.4,1053.1 1155.2,1053.1 1154.0,1053.1 1152.8,1053.1 1151.6,1053.1 1150.4,1053.1 1149.2,1053.1 1148.0,1053.1 1146.8,1053.2 1145.6,1053.2 1144.4,1053.2 1143.2,1053.2 1142.0,1053.2 1140.8,1053.2 1139.6,1053.2 1138.4,1053.2 1137.2,1053.2 1136.0,1053.2 1134.8,1053.2 1133.6,1053.2 1132.4,1053.2 1131.2,1053.2 1130.0,1053.2 1128.8,1053.2 1127.6,1053.2 1126.4,1053.2 1125.2,1053.2 1124.0,1053.2 1122.8,1053.2 1121.6,1053.2 1120.4,1053.2 1119.2,1053.2 1118.0,1053.2 1116.8,1053.2 1115.6,1053.2 1114.4,1053.2 1113.2,1053.2 1112.0,1053.2 1110.8,1053.2 1109.6,1053.2 1108.4,1053.2 1107.2,1053.2 1106.0,1053.2 1104.8,1053.2 1103.6,1053.2 1102.4,1053.2 1101.2,1053.2 1100.0,1053.2 1098.8,1053.2 1097.6,1053.2 1096.4,1053.2 1095.2,1053.2 1094.0,1053.2 1092.8,1053.2 1091.6,1053.1 1090.4,1053.1 1089.2,1053.1 1088.0,1053.1 1086.8,1053.1 1085.6,1053.1 1084.4,1053.1 1083.2,1053.1 1082.0,1053.1 1080.8,1053.1 1079.6,1053.0 1078.4,1053.0 1077.2,1053.0 1076.0,1053.0 1074.8,1053.0 1073.6,1053.0 1072.4,1052.9 1071.2,1052.9 1070.0,1052.9 1068.8,1052.9 1067.6,1052.9 1066.4,1052.9 1065.2,1052.8 1064.0,1052.8 1062.8,1052.8 1061.6,1052.8 1060.4,1052.7 1059.2,1052.7 1058.0,1052.7 1056.8,1052.7 1055.6,1052.6 1054.4,1052.6 1053.2,1052.6 1052.0,1052.6 1050.8,1052.5 1049.6,1052.5 1048.4,1052.5 1047.2,1052.4 1046.0,1052.4 1044.8,1052.4 1043.6,1052.3 1042.4,1052.3 1041.2,1052.3 1040.0,1052.3 1038.8,1052.2 1037.6,1052.2 1036.4,1052.2 1035.2,1052.1 1034.0,1052.1 1032.8,1052.0 1031.6,1052.0 1030.4,1052.0 1029.2,1051.9 1028.0,1051.9 1026.8,1051.9 1025.6,1051.8 1024.4,1051.8 1023.2,1051.8 1022.0,1051.7 1020.8,1051.7 1019.6,1051.6 1018.4,1051.6 1017.2,1051.6 1016.0,1051.5 1014.8,1051.5 1013.6,1051.5 1012.4,1051.4 1011.2,1051.4 1010.0,1051.3 1008.8,1051.3 1007.6,1051.3 1006.4,1051.2 1005.2,1051.2 1004.0,1051.1 1002.8,1051.1 1001.6,1051.1 1000.4,1051.0 999.2,1051.0 998.0,1050.9 996.8,1050.9 995.6,1050.8 994.4,1050.8 993.2,1050.8 992.0,1050.7 990.8,1050.7 989.6,1050.6 988.4,1050.6 987.2,1050.6 986.0,1050.5 984.8,1050.5 983.6,1050.4 982.4,1050.4 981.2,1050.3 980.0,1050.3 978.8,1050.3 977.6,1050.2 976.4,1050.2 975.2,1050.1 974.0,1050.1 972.8,1050.0 971.6,1050.0 970.4,1049.9 969.2,1049.9 968.0,1049.8 966.8,1049.8 965.6,1049.7 964.4,1049.7 963.2,1049.6 962.0,1049.5 960.8,1049.5 959.6,1049.4 958.4,1049.3 957.2,1049.3 956.0,1049.2 954.8,1049.1 953.6,1049.0 952.4,1048.9 951.2,1048.8 950.0,1048.7 948.8,1048.5 947.6,1048.3 946.4,1048.0 945.2,1047.6 944.0,1047.1 942.8,1046.4 941.6,1045.5 940.4,1044.5 939.2,1043.5 938.0,1042.6 936.8,1042.2 935.6,1042.4 934.4,1043.0 933.2,1043.9 932.0,1044.8 930.8,1045.6 929.6,1046.2 928.4,1046.7 927.2,1046.9 926.0,1047.1 924.8,1047.2 923.6,1047.2 922.4,1047.2 921.2,1047.2 920.0,1047.2 918.8,1047.1 917.6,1047.1 916.4,1047.0 915.2,1046.9 914.0,1046.9 912.8,1046.8 911.6,1046.7 910.4,1046.7 909.2,1046.6 908.0,1046.5 906.8,1046.4 905.6,1046.4 904.4,1046.3 903.2,1046.2 902.0,1046.1 900.8,1046.0 899.6,1045.9 898.4,1045.8 897.2,1045.8 896.0,1045.7 894.8,1045.6 893.6,1045.4 892.4,1045.3 891.2,1045.2 890.0,1045.1 888.8,1045.0 887.6,1044.8 886.4,1044.7 885.2,1044.6 884.0,1044.5 882.8,1044.3 881.6,1044.2 880.4,1044.0 879.2,1043.9 878.0,1043.7 876.8,1043.6 875.6,1043.4 874.4,1043.2 873.2,1043.0 872.0,1042.7 870.8,1042.5 869.6,1042.2 868.4,1041.8 867.2,1041.5 866.0,1041.1 864.8,1040.9 863.6,1040.8 862.4,1040.8 861.2,1040.8 860.0,1040.9 858.8,1040.9 857.6,1040.9 856.4,1040.9 855.2,1040.8 854.0,1040.7 852.8,1040.6 851.6,1040.5 850.4,1040.4 849.2,1040.3 848.0,1040.1 846.8,1040.0 845.6,1039.9 844.4,1039.7 843.2,1039.6 842.0,1039.5 840.8,1039.3 839.6,1039.2 838.4,1039.1 837.2,1038.9 836.0,1038.8 834.8,1038.7 833.6,1038.5 832.4,1038.4 831.2,1038.2 830.0,1038.0 828.8,1037.9 827.6,1037.7 826.4,1037.5 825.2,1037.3 824.0,1037.1 822.8,1036.9 821.6,1036.7 820.4,1036.5 819.2,1036.3 818.0,1036.0 816.8,1035.8 815.6,1035.5 814.4,1035.2 813.2,1034.9 812.0,1034.6 810.8,1034.2 809.6,1033.8 808.4,1033.3 807.2,1032.8 806.0,1032.2 804.8,1031.5 803.6,1030.7 802.4,1029.7 801.2,1028.5 800.0,1027.2 798.8,1025.5 797.6,1023.7 796.4,1021.3 795.2,1018.4 794.0,1014.3 792.8,1008.5 791.6,1001.2 790.4,989.8 789.2,972.9 788.0,949.6 786.8,920.3 785.6,888.5 784.4,861.7 783.2,850.8 782.0,861.6 780.8,888.1 779.6,919.4 778.4,948.0 777.2,970.7 776.0,986.9 774.8,997.6 773.6,1004.3 772.4,1009.5 771.2,1013.2 770.0,1015.7 768.8,1017.6 767.6,1019.2 766.4,1020.5 765.2,1021.7 764.0,1022.7 762.8,1023.6 761.6,1024.3 760.4,1025.0 759.2,1025.5 758.0,1026.0 756.8,1026.4 755.6,1026.8 754.4,1027.1 753.2,1027.4 752.0,1027.7 750.8,1028.0 749.6,1028.3 748.4,1028.5 747.2,1028.7 746.0,1028.9 744.8,1029.1 743.6,1029.3 742.4,1029.5 741.2,1029.7 740.0,1029.8 738.8,1030.0 737.6,1030.1 736.4,1030.3 735.2,1030.4 734.0,1030.5 732.8,1030.7 731.6,1030.8 730.4,1030.9 729.2,1031.0 728.0,1031.1 726.8,1031.2 725.6,1031.3 724.4,1031.4 723.2,1031.5 722.0,1031.6 720.8,1031.7 719.6,1031.8 718.4,1031.9 717.2,1032.0 716.0,1032.1 714.8,1032.2 713.6,1032.2 712.4,1032.3 711.2,1032.4 710.0,1032.5 708.8,1032.6 707.6,1032.7 706.4,1032.7 705.2,1032.8 704.0,1032.9 702.8,1033.0 701.6,1033.1 700.4,1033.1 699.2,1033.2 698.0,1033.3 696.8,1033.4 695.6,1033.5 694.4,1033.6 693.2,1033.7 692.0,1033.7 690.8,1033.8 689.6,1033.9 688.4,1034.0 687.2,1034.1 686.0,1034.2 684.8,1034.3 683.6,1034.4 682.4,1034.5 681.2,1034.5 680.0,1034.6 678.8,1034.7 677.6,1034.8 676.4,1034.9 675.2,1035.0 674.0,1035.1 672.8,1035.2 671.6,1035.2 670.4,1035.3 669.2,1035.4 668.0,1035.5 666.8,1035.6 665.6,1035.7 664.4,1035.8 663.2,1035.8 662.0,1035.9 660.8,1036.0 659.6,1036.1 658.4,1036.1 657.2,1036.2 656.0,1036.3 654.8,1036.4 653.6,1036.4 652.4,1036.5 651.2,1036.6 650.0,1036.6 648.8,1036.7 647.6,1036.8 646.4,1036.8 645.2,1036.9 644.0,1036.9 642.8,1037.0 641.6,1037.0 640.4,1037.1 639.2,1037.1 638.0,1037.2 636.8,1037.2 635.6,1037.2 634.4,1037.3 633.2,1037.3 632.0,1037.3 630.8,1037.4 629.6,1037.4 628.4,1037.4 627.2,1037.4 626.0,1037.4 624.8,1037.4 623.6,1037.4 622.4,1037.4 621.2,1037.3 620.0,1037.3 618.8,1037.3 617.6,1037.2 616.4,1037.1 615.2,1036.9 614.0,1036.6 612.8,1036.1 611.6,1035.4 610.4,1034.4 609.2,1033.0 608.0,1031.5 606.8,1030.1 605.6,1029.4 604.4,1029.7 603.2,1030.9 602.0,1032.3 600.8,1033.5 599.6,1034.4 598.4,1035.0 597.2,1035.3 596.0,1035.5 594.8,1035.5 593.6,1035.5 592.4,1035.5 591.2,1035.5 590.0,1035.4 588.8,1035.4 587.6,1035.3 586.4,1035.2 585.2,1035.1 584.0,1034.9 582.8,1034.7 581.6,1034.3 580.4,1033.7 579.2,1032.6 578.0,1030.9 576.8,1028.5 575.6,1025.9 574.4,1023.8 573.2,1023.6 572.0,1025.3 570.8,1027.9 569.6,1030.3 568.4,1032.0 567.2,1033.1 566.0,1033.7 564.8,1034.1 563.6,1034.3 562.4,1034.4 561.2,1034.5 560.0,1034.5 558.8,1034.6 557.6,1034.6 556.4,1034.7 555.2,1034.7 554.0,1034.7 552.8,1034.7 551.6,1034.8 550.4,1034.8 549.2,1034.8 548.0,1034.8 546.8,1034.8 545.6,1034.8 544.4,1034.8 543.2,1034.8 542.0,1034.7 540.8,1034.6 539.6,1034.4 538.4,1034.2 537.2,1034.0 536.0,1033.8 534.8,1033.5 533.6,1033.2 532.4,1032.9 531.2,1032.6 530.0,1032.2 528.8,1031.9 527.6,1031.6 526.4,1031.2 525.2,1030.9 524.0,1030.6 522.8,1030.2 521.6,1029.8 520.4,1029.4 519.2,1029.0 518.0,1028.5 516.8,1028.0 515.6,1027.5 514.4,1026.9 513.2,1026.4 512.0,1025.8 510.8,1025.2 509.6,1024.5 508.4,1023.7 507.2,1022.6 506.0,1021.5 504.8,1020.3 503.6,1019.2 502.4,1018.3 501.2,1017.7 500.0,1017.3 498.8,1017.1 497.6,1016.8 496.4,1016.4 495.2,1015.8 494.0,1015.0 492.8,1014.1 491.6,1013.1 490.4,1012.2 489.2,1011.7 488.0,1011.7 486.8,1012.3 485.6,1013.2 484.4,1014.2 483.2,1015.1 482.0,1015.9 480.8,1016.4 479.6,1016.8 478.4,1017.1 477.2,1017.4 476.0,1017.8 474.8,1018.3 473.6,1019.0 472.4,1019.6 471.2,1020.3 470.0,1020.9 468.8,1021.4 467.6,1021.6 466.4,1021.6 465.2,1021.3 464.0,1020.7 462.8,1019.9 461.6,1019.0 460.4,1018.1 459.2,1017.1 458.0,1016.2 456.8,1015.5 455.6,1014.9 454.4,1014.4 453.2,1014.0 452.0,1013.5 450.8,1013.1 449.6,1012.7 448.4,1012.7 447.2,1013.1 446.0,1013.7 444.8,1014.5 443.6,1015.2 442.4,1015.9 441.2,1016.5 440.0,1017.0 438.8,1017.4 437.6,1017.8 436.4,1018.1 435.2,1018.3 434.0,1018.5 432.8,1018.7 431.6,1018.6 430.4,1018.5 429.2,1018.1 428.0,1017.5 426.8,1017.0 425.6,1016.8 424.4,1017.3 423.2,1018.6 422.0,1020.3 420.8,1022.3 419.6,1024.6 418.4,1027.0 417.2,1029.3 416.0,1031.4 414.8,1033.3 413.6,1034.7 412.4,1035.5 411.2,1035.8 410.0,1036.0 408.8,1036.1 407.6,1036.2 406.4,1036.3 405.2,1036.4 404.0,1036.5 402.8,1036.5 401.6,1036.6 400.4,1036.7 399.2,1036.8 398.0,1036.9 396.8,1037.0 395.6,1037.1 394.4,1037.1 393.2,1037.1 392.0,1037.0 390.8,1036.8 389.6,1036.3 388.4,1035.7 387.2,1034.9 386.0,1034.2 384.8,1034.0 383.6,1034.4 382.4,1035.4 381.2,1036.5 380.0,1037.4 378.8,1038.2 377.6,1038.7 376.4,1039.1 375.2,1039.3 374.0,1039.5 372.8,1039.6 371.6,1039.7 370.4,1039.7 369.2,1039.8 368.0,1039.7 366.8,1039.7 365.6,1039.6 364.4,1039.6 363.2,1039.5 362.0,1039.4 360.8,1039.3 359.6,1039.2 358.4,1039.1 357.2,1039.0 356.0,1038.9 354.8,1038.8 353.6,1038.7 352.4,1038.6 351.2,1038.4 350.0,1038.3 348.8,1038.2 347.6,1038.0 346.4,1037.8 345.2,1037.5 344.0,1037.1 342.8,1036.4 341.6,1035.3 340.4,1033.8 339.2,1031.9 338.0,1030.2 336.8,1029.7 335.6,1030.5 334.4,1032.2 333.2,1033.8 332.0,1035.0 330.8,1035.8 329.6,1036.3 328.4,1036.5 327.2,1036.6 326.0,1036.7 324.8,1036.7 323.6,1036.7 322.4,1036.8 321.2,1036.8 320.0,1036.8 318.8,1036.8 317.6,1036.8 316.4,1036.8 315.2,1036.9 314.0,1036.9 312.8,1036.9 311.6,1036.9 310.4,1036.9 309.2,1036.9 308.0,1036.9 306.8,1036.9 305.6,1036.9 304.4,1036.9 303.2,1036.9 302.0,1036.9 300.8,1036.9 299.6,1036.9 298.4,1036.9 297.2,1036.9 296.0,1036.9 294.8,1036.8 293.6,1036.7 292.4,1036.7 291.2,1036.6 290.0,1036.5 288.8,1036.4 287.6,1036.3 286.4,1036.1 285.2,1036.0 284.0,1035.9 282.8,1035.7 281.6,1035.6 280.4,1035.4 279.2,1035.3 278.0,1035.1 276.8,1035.0 275.6,1034.8 274.4,1034.6 273.2,1034.5 272.0,1034.3 270.8,1034.2 269.6,1034.0 268.4,1033.8 267.2,1033.7 266.0,1033.5 264.8,1033.4 263.6,1033.2 262.4,1033.1 261.2,1033.0 260.0,1032.8 258.8,1032.7 257.6,1032.6 256.4,1032.4 255.2,1032.3 254.0,1032.1 252.8,1031.9 251.6,1031.7 250.4,1031.5 249.2,1031.1 248.0,1030.7 246.8,1030.2 245.6,1029.5 244.4,1028.8 243.2,1028.0 242.0,1027.2 240.8,1026.8 239.6,1026.7 238.4,1027.0 237.2,1027.5 236.0,1028.1 234.8,1028.6 233.6,1029.1 232.4,1029.4 231.2,1029.6 230.0,1029.7 228.8,1029.8 227.6,1029.8 226.4,1029.8 225.2,1029.8 224.0,1029.8 222.8,1029.7 221.6,1029.7 220.4,1029.7 219.2,1029.7 218.0,1029.6 216.8,1029.6 215.6,1029.6 214.4,1029.5 213.2,1029.5 212.0,1029.5 210.8,1029.5 209.6,1029.5 208.4,1029.5 207.2,1029.4 206.0,1029.4"/>
<polyline fill="none" stroke="#800080" stroke-width="9.0" stroke-linejoin="round" stroke-linecap="round" points="206.0,1021.7 206.6,1020.5 207.2,1022.9 207.8,1024.4 208.4,1026.0 209.0,1023.7 209.6,1022.3 210.2,1021.8 210.8,1025.1 211.4,1027.1 212.0,1024.1 212.6,1020.8 213.2,1021.4 213.8,1027.1 214.4,1024.0 215.0,1019.8 215.6,1023.4 216.2,1021.0 216.8,1022.2 217.4,1022.5 218.0,1022.1 218.6,1024.9 219.2,1023.5 219.8,1022.4 220.4,1024.6 221.0,1025.5 221.6,1020.1 222.2,1023.2 222.8,1021.6 223.4,1023.4 224.0,1020.9 224.6,1023.8 225.2,1023.7 225.8,1023.1 226.4,1021.5 227.0,1022.9 227.6,1021.4 228.2,1020.8 228.8,1024.3 229.4,1021.3 230.0,1026.3 230.6,1025.2 231.2,1019.4 231.8,1024.1 232.4,1021.0 233.0,1023.3 233.6,1023.2 234.2,1018.7 234.8,1022.1 235.4,1021.8 236.0,1024.2 236.6,1019.2 237.2,1023.1 237.8,1018.8 238.4,1020.3 239.0,1019.0 239.6,1023.9 240.2,1021.9 240.8,1024.9 241.4,1022.4 242.0,1023.1 242.6,1023.4 243.2,1020.6 243.8,1022.2 244.4,1025.7 245.0,1022.3 245.6,1023.9 246.2,1023.8 246.8,1025.5 247.4,1023.7 248.0,1024.4 248.6,1025.5 249.2,1025.4 249.8,1023.4 250.4,1027.4 251.0,1022.8 251.6,1023.1 252.2,1023.0 252.8,1028.1 253.4,1025.2 254.0,1024.0 254.6,1023.7 255.2,1027.2 255.8,1024.0 256.4,1023.6 257.0,1027.9 257.6,1024.0 258.2,1025.9 258.8,1026.7 259.4,1025.8 260.0,1026.7 260.6,1029.9 261.2,1025.8 261.8,1024.3 262.4,1023.1 263.0,1026.7 263.6,1026.5 264.2,1027.9 264.8,1026.4 265.4,1026.4 266.0,1026.0 266.6,1026.5 267.2,1028.0 267.8,1026.9 268.4,1028.1 269.0,1032.1 269.6,1029.1 270.2,1024.6 270.8,1032.0 271.4,1029.0 272.0,1026.3 272.6,1030.4 273.2,1028.5 273.8,1027.2 274.4,1027.3 275.0,1026.5 275.6,1028.9 276.2,1031.2 276.8,1028.3 277.4,1030.0 278.0,1033.3 278.6,1026.5 279.2,1029.9 279.8,1028.7 280.4,1027.1 281.0,1027.3 281.6,1029.6 282.2,1030.6 282.8,1028.6 283.4,1029.9 284.0,1031.5 284.6,1030.6 285.2,1031.9 285.8,1031.1 286.4,1031.2 287.0,1034.2 287.6,1031.6 288.2,1030.6 288.8,1031.9 289.4,1028.4 290.0,1029.7 290.6,1032.3 291.2,1032.0 291.8,1034.0 292.4,1030.7 293.0,1027.5 293.6,1034.9 294.2,1033.2 294.8,1028.5 295.4,1033.9 296.0,1030.9 296.6,1026.9 297.2,1030.0 297.8,1029.8 298.4,1034.4 299.0,1029.2 299.6,1030.4 300.2,1030.3 300.8,1030.1 301.4,1028.9 302.0,1031.4 302.6,1033.3 303.2,1032.3 303.8,1028.9 304.4,1028.4 305.0,1031.2 305.6,1029.4 306.2,1029.5 306.8,1027.2 307.4,1035.1 308.0,1032.9 308.6,1028.8 309.2,1032.9 309.8,1033.9 310.4,1026.7 311.0,1029.7 311.6,1030.0 312.2,1032.3 312.8,1030.6 313.4,1030.4 314.0,1030.7 314.6,1034.9 315.2,1035.0 315.8,1029.7 316.4,1028.8 317.0,1035.0 317.6,1028.7 318.2,1029.6 318.8,1030.9 319.4,1031.9 320.0,1033.1 320.6,1031.6 321.2,1028.9 321.8,1031.9 322.4,1031.3 323.0,1034.9 323.6,1030.7 324.2,1027.8 324.8,1028.4 325.4,1033.9 326.0,1029.5 326.6,1026.5 327.2,1029.4 327.8,1030.6 328.4,1033.1 329.0,1028.2 329.6,1031.8 330.2,1031.9 330.8,1028.3 331.4,1029.1 332.0,1032.9 332.6,1032.3 333.2,1029.7 333.8,1027.8 334.4,1028.7 335.0,1025.0 335.6,1024.3 336.2,1022.0 336.8,1023.7 337.4,1023.6 338.0,1028.4 338.6,1024.6 339.2,1028.7 339.8,1029.7 340.4,1027.3 341.0,1031.2 341.6,1025.1 342.2,1030.1 342.8,1032.3 343.4,1026.6 344.0,1028.6 344.6,1033.7 345.2,1031.0 345.8,1029.3 346.4,1031.0 347.0,1030.7 347.6,1033.6 348.2,1033.1 348.8,1031.6 349.4,1030.8 350.0,1032.2 350.6,1035.3 351.2,1033.2 351.8,1033.9 352.4,1032.2 353.0,1029.8 353.6,1031.1 354.2,1034.1 354.8,1033.0 355.4,1030.8 356.0,1029.3 356.6,1033.1 357.2,1032.2 357.8,1032.2 358.4,1032.3 359.0,1033.7 359.6,1033.8 360.2,1035.3 360.8,1035.3 361.4,1036.3 362.0,1035.2 362.6,1032.7 363.2,1033.4 363.8,1034.6 364.4,1032.9 365.0,1034.8 365.6,1036.2 366.2,1031.9 366.8,1029.8 367.4,1036.4 368.0,1033.8 368.6,1035.3 369.2,1030.8 369.8,1037.6 370.4,1035.4 371.0,1033.4 371.6,1032.9 372.2,1033.9 372.8,1033.3 373.4,1033.0 374.0,1031.0 374.6,1036.2 375.2,1033.3 375.8,1033.4 376.4,1033.3 377.0,1028.7 377.6,1033.9 378.2,1031.8 378.8,1031.5 379.4,1032.0 380.0,1029.3 380.6,1032.8 381.2,1028.9 381.8,1027.9 382.4,1027.5 383.0,1029.2 383.6,1030.1 384.2,1026.8 384.8,1024.7 385.4,1030.4 386.0,1025.9 386.6,1031.2 387.2,1028.8 387.8,1027.8 388.4,1028.3 389.0,1031.1 389.6,1032.3 390.2,1030.2 390.8,1032.9 391.4,1035.1 392.0,1030.6 392.6,1028.6 393.2,1028.8 393.8,1028.1 394.4,1029.7 395.0,1029.5 395.6,1028.1 396.2,1032.2 396.8,1026.8 397.4,1028.0 398.0,1035.1 398.6,1033.1 399.2,1031.9 399.8,1031.7 400.4,1034.6 401.0,1031.8 401.6,1030.8 402.2,1027.9 402.8,1030.4 403.4,1028.9 404.0,1028.9 404.6,1028.9 405.2,1030.3 405.8,1029.6 406.4,1032.2 407.0,1027.4 407.6,1029.9 408.2,1034.3 408.8,1030.2 409.4,1032.7 410.0,1032.5 410.6,1032.8 411.2,1031.4 411.8,1026.6 412.4,1028.9 413.0,1028.4 413.6,1025.3 414.2,1027.0 414.8,1024.5 415.4,1022.7 416.0,1025.9 416.6,1024.3 417.2,1021.8 417.8,1020.1 418.4,1019.8 419.0,1018.9 419.6,1017.7 420.2,1017.3 420.8,1015.3 421.4,1016.1 422.0,1015.5 422.6,1014.2 423.2,1011.2 423.8,1010.6 424.4,1012.3 425.0,1010.5 425.6,1010.7 426.2,1006.6 426.8,1006.8 427.4,1012.0 428.0,1012.2 428.6,1014.9 429.2,1013.7 429.8,1012.8 430.4,1012.5 431.0,1009.4 431.6,1014.6 432.2,1011.3 432.8,1013.8 433.4,1013.0 434.0,1013.1 434.6,1014.4 435.2,1011.2 435.8,1011.3 436.4,1010.2 437.0,1011.1 437.6,1015.4 438.2,1010.8 438.8,1014.0 439.4,1013.0 440.0,1012.6 440.6,1012.6 441.2,1008.3 441.8,1011.1 442.4,1013.4 443.0,1008.1 443.6,1009.1 444.2,1007.3 444.8,1009.2 445.4,1005.7 446.0,1011.2 446.6,1006.5 447.2,1003.7 447.8,1010.8 448.4,1008.9 449.0,1007.8 449.6,1007.9 450.2,1006.1 450.8,1006.6 451.4,1008.9 452.0,1009.5 452.6,1009.8 453.2,1008.5 453.8,1007.2 454.4,1008.0 455.0,1011.1 455.6,1012.0 456.2,1008.4 456.8,1008.4 457.4,1012.6 458.0,1011.8 458.6,1012.2 459.2,1008.3 459.8,1010.8 460.4,1011.0 461.0,1013.0 461.6,1009.3 462.2,1016.3 462.8,1014.6 463.4,1015.3 464.0,1012.1 464.6,1015.0 465.2,1018.2 465.8,1012.0 466.4,1016.3 467.0,1017.2 467.6,1014.1 468.2,1017.3 468.8,1014.6 469.4,1017.9 470.0,1016.1 470.6,1015.1 471.2,1018.5 471.8,1015.8 472.4,1016.5 473.0,1010.7 473.6,1011.5 474.2,1014.5 474.8,1014.3 475.4,1011.9 476.0,1013.5 476.6,1009.2 477.2,1011.8 477.8,1008.7 478.4,1011.9 479.0,1009.9 479.6,1009.4 480.2,1010.8 480.8,1014.4 481.4,1008.0 482.0,1008.6 482.6,1011.9 483.2,1008.2 483.8,1012.6 484.4,1008.7 485.0,1007.9 485.6,1008.0 486.2,1010.6 486.8,1007.8 487.4,1007.1 488.0,1006.3 488.6,1002.2 489.2,1003.7 489.8,1009.1 490.4,1008.0 491.0,1007.7 491.6,1008.5 492.2,1006.4 492.8,1008.8 493.4,1006.6 494.0,1009.9 494.6,1007.8 495.2,1009.3 495.8,1011.1 496.4,1009.7 497.0,1012.0 497.6,1011.8 498.2,1011.8 498.8,1014.0 499.4,1008.0 500.0,1007.8 500.6,1012.8 501.2,1013.7 501.8,1016.1 502.4,1014.0 503.0,1014.6 503.6,1011.3 504.2,1015.4 504.8,1015.8 505.4,1012.6 506.0,1013.5 506.6,1015.8 507.2,1017.3 507.8,1013.0 508.4,1017.8 509.0,1018.6 509.6,1018.1 510.2,1019.5 510.8,1020.2 511.4,1017.3 512.0,1020.7 512.6,1019.5 513.2,1018.3 513.8,1021.1 514.4,1024.2 515.0,1018.0 515.6,1017.9 516.2,1018.1 516.8,1026.2 517.4,1021.7 518.0,1022.4 518.6,1021.0 519.2,1020.9 519.8,1019.0 520.4,1023.8 521.0,1024.2 521.6,1019.6 522.2,1021.7 522.8,1022.6 523.4,1024.3 524.0,1025.1 524.6,1027.2 525.2,1027.9 525.8,1027.4 526.4,1028.2 527.0,1022.9 527.6,1024.4 528.2,1028.3 528.8,1026.6 529.4,1026.1 530.0,1022.1 530.6,1022.3 531.2,1028.2 531.8,1027.5 532.4,1026.2 533.0,1026.1 533.6,1023.4 534.2,1028.2 534.8,1029.8 535.4,1031.2 536.0,1027.9 536.6,1027.4 537.2,1025.6 537.8,1030.8 538.4,1032.0 539.0,1027.0 539.6,1029.1 540.2,1028.7 540.8,1027.3 541.4,1024.5 542.0,1027.9 542.6,1030.1 543.2,1025.6 543.8,1027.0 544.4,1024.7 545.0,1031.7 545.6,1029.9 546.2,1028.9 546.8,1028.2 547.4,1027.4 548.0,1028.6 548.6,1028.1 549.2,1028.3 549.8,1028.7 550.4,1029.1 551.0,1032.2 551.6,1025.6 552.2,1029.3 552.8,1027.4 553.4,1026.2 554.0,1024.6 554.6,1030.1 555.2,1026.5 555.8,1027.0 556.4,1029.7 557.0,1026.3 557.6,1028.7 558.2,1028.4 558.8,1030.3 559.4,1030.8 560.0,1026.6 560.6,1030.5 561.2,1028.3 561.8,1028.7 562.4,1027.9 563.0,1030.0 563.6,1025.6 564.2,1028.8 564.8,1030.7 565.4,1027.3 566.0,1031.9 566.6,1025.8 567.2,1027.6 567.8,1025.6 568.4,1024.6 569.0,1022.8 569.6,1023.1 570.2,1023.0 570.8,1020.1 571.4,1022.5 572.0,1022.7 572.6,1014.9 573.2,1019.4 573.8,1017.8 574.4,1018.3 575.0,1022.9 575.6,1022.5 576.2,1021.9 576.8,1022.9 577.4,1019.6 578.0,1026.6 578.6,1024.2 579.2,1027.0 579.8,1027.4 580.4,1029.8 581.0,1032.2 581.6,1030.5 582.2,1031.3 582.8,1028.2 583.4,1029.8 584.0,1030.6 584.6,1025.9 585.2,1033.3 585.8,1027.6 586.4,1026.4 587.0,1032.9 587.6,1033.5 588.2,1027.8 588.8,1028.0 589.4,1033.6 590.0,1029.7 590.6,1025.3 591.2,1028.2 591.8,1033.7 592.4,1031.0 593.0,1031.2 593.6,1032.2 594.2,1031.0 594.8,1028.8 595.4,1026.0 596.0,1030.5 596.6,1027.0 597.2,1029.2 597.8,1033.1 598.4,1030.2 599.0,1028.9 599.6,1028.6 600.2,1029.6 600.8,1029.5 601.4,1024.0 602.0,1026.7 602.6,1029.4 603.2,1026.6 603.8,1022.6 604.4,1022.2 605.0,1019.3 605.6,1021.6 606.2,1027.1 606.8,1023.9 607.4,1022.9 608.0,1024.2 608.6,1026.1 609.2,1026.8 609.8,1027.0 610.4,1026.7 611.0,1030.4 611.6,1032.8 612.2,1028.6 612.8,1029.0 613.4,1033.0 614.0,1027.4 614.6,1029.5 615.2,1030.1 615.8,1031.4 616.4,1030.5 617.0,1029.2 617.6,1031.9 618.2,1028.6 618.8,1027.5 619.4,1027.1 620.0,1033.0 620.6,1027.5 621.2,1032.3 621.8,1032.9 622.4,1033.2 623.0,1031.0 623.6,1030.2 624.2,1031.6 624.8,1030.1 625.4,1028.6 626.0,1034.2 626.6,1029.5 627.2,1035.4 627.8,1032.5 628.4,1030.4 629.0,1032.4 629.6,1034.1 630.2,1028.4 630.8,1029.3 631.4,1029.1 632.0,1031.7 632.6,1032.2 633.2,1031.4 633.8,1029.7 634.4,1030.1 635.0,1033.9 635.6,1033.7 636.2,1031.5 636.8,1028.4 637.4,1032.6 638.0,1031.8 638.6,1031.7 639.2,1035.0 639.8,1032.9 640.4,1029.0 641.0,1029.0 641.6,1034.1 642.2,1031.5 642.8,1033.0 643.4,1030.8 644.0,1028.9 644.6,1031.6 645.2,1034.5 645.8,1031.8 646.4,1028.5 647.0,1030.3 647.6,1029.9 648.2,1031.3 648.8,1033.1 649.4,1034.9 650.0,1031.4 650.6,1029.9 651.2,1031.0 651.8,1030.8 652.4,1029.8 653.0,1030.8 653.6,1030.7 654.2,1028.1 654.8,1031.8 655.4,1029.8 656.0,1028.4 656.6,1031.6 657.2,1029.4 657.8,1034.3 658.4,1031.4 659.0,1030.5 659.6,1028.6 660.2,1029.4 660.8,1032.1 661.4,1028.7 662.0,1031.8 662.6,1025.8 663.2,1030.5 663.8,1031.8 664.4,1030.7 665.0,1029.9 665.6,1032.1 666.2,1028.0 666.8,1027.6 667.4,1030.0 668.0,1032.3 668.6,1030.6 669.2,1029.2 669.8,1030.2 670.4,1030.5 671.0,1026.8 671.6,1025.1 672.2,1027.2 672.8,1026.1 673.4,1028.1 674.0,1026.7 674.6,1027.3 675.2,1030.2 675.8,1029.4 676.4,1029.1 677.0,1032.7 677.6,1028.0 678.2,1028.2 678.8,1031.7 679.4,1026.5 680.0,1025.3 680.6,1031.7 681.2,1029.5 681.8,1030.1 682.4,1030.1 683.0,1030.7 683.6,1027.6 684.2,1028.4 684.8,1026.1 685.4,1028.8 686.0,1029.0 686.6,1027.4 687.2,1029.9 687.8,1032.3 688.4,1025.8 689.0,1030.1 689.6,1030.3 690.2,1030.5 690.8,1026.4 691.4,1030.7 692.0,1029.5 692.6,1027.8 693.2,1027.3 693.8,1028.5 694.4,1030.0 695.0,1029.8 695.6,1031.7 696.2,1027.1 696.8,1029.2 697.4,1026.8 698.0,1029.4 698.6,1028.0 699.2,1026.3 699.8,1024.7 700.4,1025.9 701.0,1028.1 701.6,1030.7 702.2,1029.1 702.8,1024.8 703.4,1026.3 704.0,1027.4 704.6,1027.0 705.2,1027.3 705.8,1028.8 706.4,1027.5 707.0,1025.5 707.6,1022.7 708.2,1026.1 708.8,1023.2 709.4,1026.4 710.0,1027.4 710.6,1023.7 711.2,1026.3 711.8,1025.8 712.4,1030.6 713.0,1027.4 713.6,1022.2 714.2,1027.2 714.8,1027.1 715.4,1025.7 716.0,1025.3 716.6,1027.4 717.2,1027.5 717.8,1026.9 718.4,1023.8 719.0,1025.3 719.6,1022.4 720.2,1022.5 720.8,1024.5 721.4,1023.4 722.0,1024.7 722.6,1029.9 723.2,1026.6 723.8,1023.5 724.4,1021.5 725.0,1023.5 725.6,1022.2 726.2,1021.3 726.8,1026.7 727.4,1024.1 728.0,1026.0 728.6,1029.4 729.2,1025.5 729.8,1025.2 730.4,1025.6 731.0,1024.2 731.6,1023.0 732.2,1024.2 732.8,1027.1 733.4,1024.0 734.0,1021.6 734.6,1021.8 735.2,1022.2 735.8,1024.4 736.4,1025.3 737.0,1025.3 737.6,1026.7 738.2,1023.7 738.8,1025.9 739.4,1024.7 740.0,1025.5 740.6,1020.0 741.2,1026.5 741.8,1020.5 742.4,1021.3 743.0,1025.3 743.6,1022.8 744.2,1027.3 744.8,1023.8 745.4,1021.2 746.0,1023.6 746.6,1022.4 747.2,1026.4 747.8,1026.5 748.4,1024.5 749.0,1022.0 749.6,1022.9 750.2,1024.9 750.8,1020.9 751.4,1020.8 752.0,1024.1 752.6,1023.7 753.2,1021.6 753.8,1021.4 754.4,1017.9 755.0,1024.1 755.6,1021.3 756.2,1018.4 756.8,1018.9 757.4,1019.2 758.0,1024.3 758.6,1022.1 759.2,1017.8 759.8,1024.0 760.4,1022.7 761.0,1017.8 761.6,1015.9 762.2,1021.2 762.8,1017.8 763.4,1018.4 764.0,1017.3 764.6,1020.2 765.2,1020.2 765.8,1018.5 766.4,1016.3 767.0,1016.5 767.6,1016.6 768.2,1012.2 768.8,1016.5 769.4,1013.2 770.0,1013.4 770.6,1012.3 771.2,1012.4 771.8,1011.4 772.4,1010.8 773.0,1006.2 773.6,1003.4 774.2,1001.4 774.8,997.3 775.4,993.1 776.0,986.7 776.6,979.6 777.2,971.0 777.8,960.5 778.4,948.1 779.0,934.8 779.6,919.8 780.2,903.1 780.8,888.2 781.4,873.6 782.0,861.5 782.6,853.4 783.2,850.8 783.8,853.8 784.4,861.8 785.0,874.3 785.6,888.9 786.2,904.2 786.8,920.1 787.4,935.9 788.0,949.4 788.6,962.1 789.2,973.1 789.8,982.5 790.4,990.0 791.0,996.6 791.6,1001.0 792.2,1005.8 792.8,1007.9 793.4,1011.3 794.0,1013.4 794.6,1013.7 795.2,1013.5 795.8,1019.0 796.4,1019.2 797.0,1019.8 797.6,1019.3 798.2,1020.7 798.8,1022.8 799.4,1022.7 800.0,1025.4 800.6,1024.1 801.2,1022.9 801.8,1026.0 802.4,1024.2 803.0,1026.2 803.6,1022.7 804.2,1025.9 804.8,1028.0 805.4,1025.9 806.0,1027.4 806.6,1028.8 807.2,1028.0 807.8,1031.7 808.4,1027.8 809.0,1028.1 809.6,1028.4 810.2,1024.9 810.8,1025.9 811.4,1030.3 812.0,1028.7 812.6,1032.4 813.2,1029.5 813.8,1029.4 814.4,1032.0 815.0,1030.6 815.6,1033.5 816.2,1028.0 816.8,1031.3 817.4,1031.9 818.0,1031.7 818.6,1033.1 819.2,1033.0 819.8,1031.0 820.4,1029.8 821.0,1033.2 821.6,1031.3 822.2,1033.4 822.8,1034.3 823.4,1032.0 824.0,1029.7 824.6,1031.2 825.2,1033.5 825.8,1031.4 826.4,1034.5 827.0,1032.2 827.6,1032.5 828.2,1030.9 828.8,1032.1 829.4,1034.8 830.0,1031.8 830.6,1031.9 831.2,1031.0 831.8,1034.4 832.4,1029.5 833.0,1031.4 833.6,1034.9 834.2,1036.0 834.8,1032.6 835.4,1035.2 836.0,1028.9 836.6,1034.9 837.2,1033.9 837.8,1030.7 838.4,1029.6 839.0,1032.4 839.6,1034.1 840.2,1034.4 840.8,1033.9 841.4,1035.4 842.0,1035.3 842.6,1030.8 843.2,1033.1 843.8,1032.9 844.4,1036.2 845.0,1033.0 845.6,1036.3 846.2,1034.4 846.8,1038.3 847.4,1034.2 848.0,1034.4 848.6,1034.2 849.2,1034.8 849.8,1038.6 850.4,1033.5 851.0,1032.8 851.6,1034.3 852.2,1036.3 852.8,1032.7 853.4,1036.6 854.0,1036.6 854.6,1034.6 855.2,1034.5 855.8,1033.3 856.4,1034.5 857.0,1033.4 857.6,1037.8 858.2,1038.7 858.8,1034.5 859.4,1035.0 860.0,1030.9 860.6,1033.9 861.2,1035.7 861.8,1035.6 862.4,1035.2 863.0,1036.8 863.6,1035.2 864.2,1034.1 864.8,1038.6 865.4,1031.0 866.0,1032.8 866.6,1033.8 867.2,1034.0 867.8,1034.1 868.4,1035.5 869.0,1034.6 869.6,1036.2 870.2,1037.7 870.8,1036.7 871.4,1037.0 872.0,1034.8 872.6,1034.5 873.2,1036.5 873.8,1039.2 874.4,1038.1 875.0,1039.8 875.6,1039.7 876.2,1040.0 876.8,1035.9 877.4,1040.4 878.0,1039.5 878.6,1042.0 879.2,1039.3 879.8,1038.8 880.4,1037.8 881.0,1038.5 881.6,1034.7 882.2,1037.8 882.8,1038.3 883.4,1040.6 884.0,1037.1 884.6,1038.9 885.2,1042.6 885.8,1037.6 886.4,1040.6 887.0,1037.7 887.6,1038.7 888.2,1040.0 888.8,1041.0 889.4,1038.0 890.0,1037.0 890.6,1042.5 891.2,1039.7 891.8,1041.1 892.4,1041.4 893.0,1041.1 893.6,1039.0 894.2,1039.3 894.8,1036.3 895.4,1040.1 896.0,1038.7 896.6,1039.7 897.2,1043.9 897.8,1041.4 898.4,1040.0 899.0,1037.0 899.6,1041.6 900.2,1043.4 900.8,1038.3 901.4,1041.1 902.0,1039.1 902.6,1039.9 903.2,1039.5 903.8,1036.8 904.4,1039.2 905.0,1036.9 905.6,1043.4 906.2,1042.7 906.8,1040.6 907.4,1041.1 908.0,1040.7 908.6,1041.1 909.2,1041.1 909.8,1040.2 910.4,1040.4 911.0,1037.9 911.6,1038.6 912.2,1039.5 912.8,1041.3 913.4,1040.1 914.0,1045.1 914.6,1040.6 915.2,1040.2 915.8,1042.0 916.4,1043.3 917.0,1045.1 917.6,1043.2 918.2,1039.9 918.8,1040.8 919.4,1043.5 920.0,1041.8 920.6,1043.0 921.2,1041.1 921.8,1044.7 922.4,1044.4 923.0,1043.7 923.6,1041.6 924.2,1037.8 924.8,1038.4 925.4,1041.9 926.0,1042.6 926.6,1036.9 927.2,1040.0 927.8,1043.4 928.4,1042.8 929.0,1039.5 929.6,1041.7 930.2,1040.1 930.8,1039.2 931.4,1041.7 932.0,1041.4 932.6,1037.3 933.2,1036.0 933.8,1034.8 934.4,1034.1 935.0,1039.6 935.6,1040.5 936.2,1036.8 936.8,1038.6 937.4,1035.0 938.0,1036.6 938.6,1039.1 939.2,1038.2 939.8,1038.0 940.4,1035.0 941.0,1036.0 941.6,1038.7 942.2,1038.9 942.8,1040.3 943.4,1039.5 944.0,1040.7 944.6,1041.6 945.2,1042.9 945.8,1042.1 946.4,1041.0 947.0,1041.7 947.6,1044.4 948.2,1042.1 948.8,1040.6 949.4,1040.6 950.0,1043.4 950.6,1044.1 951.2,1045.5 951.8,1042.3 952.4,1046.0 953.0,1042.3 953.6,1042.6 954.2,1041.9 954.8,1044.3 955.4,1045.5 956.0,1043.2 956.6,1042.2 957.2,1040.1 957.8,1043.7 958.4,1042.7 959.0,1043.0 959.6,1042.1 960.2,1041.6 960.8,1042.6 961.4,1044.5 962.0,1045.7 962.6,1043.6 963.2,1044.4 963.8,1043.3 964.4,1043.5 965.0,1040.8 965.6,1045.7 966.2,1045.1 966.8,1046.9 967.4,1042.6 968.0,1044.2 968.6,1041.9 969.2,1044.4 969.8,1043.7 970.4,1045.4 971.0,1043.7 971.6,1045.4 972.2,1043.0 972.8,1045.4 973.4,1043.5 974.0,1043.2 974.6,1044.3 975.2,1045.0 975.8,1041.2 976.4,1041.0 977.0,1044.7 977.6,1044.2 978.2,1040.1 978.8,1040.7 979.4,1042.7 980.0,1045.0 980.6,1044.8 981.2,1046.6 981.8,1046.9 982.4,1048.6 983.0,1041.4 983.6,1044.4 984.2,1046.8 984.8,1041.9 985.4,1041.6 986.0,1045.0 986.6,1046.9 987.2,1047.3 987.8,1040.9 988.4,1042.1 989.0,1044.5 989.6,1043.6 990.2,1045.4 990.8,1045.0 991.4,1048.5 992.0,1044.7 992.6,1045.2 993.2,1045.0 993.8,1047.2 994.4,1042.5 995.0,1045.7 995.6,1043.3 996.2,1041.9 996.8,1047.5 997.4,1046.1 998.0,1048.0 998.6,1045.6 999.2,1046.4 999.8,1045.4 1000.4,1046.3 1001.0,1044.3 1001.6,1048.8 1002.2,1043.3 1002.8,1048.9 1003.4,1044.8 1004.0,1047.1 1004.6,1045.6 1005.2,1046.2 1005.8,1048.5 1006.4,1045.6 1007.0,1043.3 1007.6,1045.9 1008.2,1046.8 1008.8,1041.1 1009.4,1047.5 1010.0,1047.8 1010.6,1041.7 1011.2,1045.2 1011.8,1047.3 1012.4,1043.1 1013.0,1044.7 1013.6,1044.9 1014.2,1046.8 1014.8,1048.0 1015.4,1045.6 1016.0,1045.8 1016.6,1047.7 1017.2,1046.9 1017.8,1045.5 1018.4,1048.6 1019.0,1042.7 1019.6,1046.1 1020.2,1044.9 1020.8,1044.7 1021.4,1046.3 1022.0,1045.9 1022.6,1049.9 1023.2,1047.3 1023.8,1046.7 1024.4,1049.5 1025.0,1048.1 1025.6,1041.9 1026.2,1046.2 1026.8,1047.6 1027.4,1044.7 1028.0,1046.7 1028.6,1045.1 1029.2,1046.9 1029.8,1042.5 1030.4,1041.9 1031.0,1044.9 1031.6,1046.6 1032.2,1049.0 1032.8,1045.5 1033.4,1044.5 1034.0,1048.2 1034.6,1046.3 1035.2,1050.1 1035.8,1046.0 1036.4,1042.0 1037.0,1044.5 1037.6,1044.2 1038.2,1043.3 1038.8,1044.6 1039.4,1044.8 1040.0,1045.7 1040.6,1045.2 1041.2,1047.2 1041.8,1047.3 1042.4,1046.8 1043.0,1046.8 1043.6,1042.3 1044.2,1042.8 1044.8,1044.5 1045.4,1047.0 1046.0,1043.3 1046.6,1045.6 1047.2,1047.0 1047.8,1050.6 1048.4,1047.1 1049.0,1045.4 1049.6,1048.9 1050.2,1047.0 1050.8,1045.9 1051.4,1049.0 1052.0,1044.6 1052.6,1047.0 1053.2,1046.8 1053.8,1048.6 1054.4,1044.1 1055.0,1043.8 1055.6,1045.8 1056.2,1046.1 1056.8,1046.8 1057.4,1045.9 1058.0,1047.6 1058.6,1048.2 1059.2,1047.2 1059.8,1044.4 1060.4,1049.3 1061.0,1043.4 1061.6,1046.3 1062.2,1048.7 1062.8,1045.4 1063.4,1049.6 1064.0,1051.0 1064.6,1050.2 1065.2,1047.8 1065.8,1049.0 1066.4,1045.7 1067.0,1047.7 1067.6,1047.9 1068.2,1047.1 1068.8,1047.2 1069.4,1046.4 1070.0,1042.7 1070.6,1047.8 1071.2,1047.6 1071.8,1051.1 1072.4,1048.5 1073.0,1047.1 1073.6,1048.9 1074.2,1048.3 1074.8,1046.9 1075.4,1046.1 1076.0,1043.8 1076.6,1047.3 1077.2,1050.6 1077.8,1042.9 1078.4,1044.9 1079.0,1048.7 1079.6,1047.5 1080.2,1048.0 1080.8,1043.0 1081.4,1045.8 1082.0,1048.2 1082.6,1048.4 1083.2,1047.7 1083.8,1045.1 1084.4,1048.3 1085.0,1044.5 1085.6,1045.0 1086.2,1044.5 1086.8,1050.3 1087.4,1046.2 1088.0,1047.2 1088.6,1043.0 1089.2,1049.5 1089.8,1048.1 1090.4,1043.5 1091.0,1043.6 1091.6,1050.8 1092.2,1045.1 1092.8,1051.2 1093.4,1046.1 1094.0,1043.0 1094.6,1049.6 1095.2,1048.2 1095.8,1048.6 1096.4,1046.0 1097.0,1046.7 1097.6,1049.2 1098.2,1045.3 1098.8,1043.0 1099.4,1049.1 1100.0,1045.8 1100.6,1049.9 1101.2,1046.1 1101.8,1046.2 1102.4,1046.6 1103.0,1043.0 1103.6,1049.7 1104.2,1045.8 1104.8,1046.7 1105.4,1050.4 1106.0,1047.4 1106.6,1049.1 1107.2,1047.9 1107.8,1048.8 1108.4,1047.7 1109.0,1049.7 1109.6,1046.7 1110.2,1048.2 1110.8,1045.6 1111.4,1049.7 1112.0,1043.0 1112.6,1047.6 1113.2,1047.9 1113.8,1047.9 1114.4,1047.1 1115.0,1050.1 1115.6,1051.4 1116.2,1045.8 1116.8,1043.0 1117.4,1044.8 1118.0,1045.4 1118.6,1046.8 1119.2,1047.0 1119.8,1049.5 1120.4,1046.2 1121.0,1047.1 1121.6,1047.4 1122.2,1045.2 1122.8,1046.4 1123.4,1051.3 1124.0,1046.9 1124.6,1045.0 1125.2,1043.0 1125.8,1049.4 1126.4,1046.4 1127.0,1045.7 1127.6,1051.3 1128.2,1050.3 1128.8,1043.4 1129.4,1046.4 1130.0,1049.3 1130.6,1049.0 1131.2,1044.7 1131.8,1051.0 1132.4,1051.2 1133.0,1044.7 1133.6,1043.3 1134.2,1044.1 1134.8,1048.6 1135.4,1049.5 1136.0,1047.5 1136.6,1045.8 1137.2,1046.9 1137.8,1048.4 1138.4,1044.5 1139.0,1043.4 1139.6,1046.9 1140.2,1049.8 1140.8,1047.5 1141.4,1047.5 1142.0,1045.6 1142.6,1049.1 1143.2,1043.4 1143.8,1047.0 1144.4,1045.8 1145.0,1046.8 1145.6,1045.1 1146.2,1048.7 1146.8,1046.9 1147.4,1045.8 1148.0,1048.2 1148.6,1047.0 1149.2,1045.9 1149.8,1045.8 1150.4,1048.8 1151.0,1045.0 1151.6,1046.6 1152.2,1046.5 1152.8,1047.8 1153.4,1046.6 1154.0,1051.3 1154.6,1043.2 1155.2,1048.4 1155.8,1047.0 1156.4,1049.5 1157.0,1043.5 1157.6,1049.7 1158.2,1044.0 1158.8,1048.5 1159.4,1048.1 1160.0,1047.1 1160.6,1045.4 1161.2,1045.2 1161.8,1047.2 1162.4,1045.3 1163.0,1042.8 1163.6,1042.9 1164.2,1048.6 1164.8,1048.6 1165.4,1047.9 1166.0,1046.8 1166.6,1047.5 1167.2,1047.7 1167.8,1047.1 1168.4,1044.7 1169.0,1044.7 1169.6,1043.7 1170.2,1046.4 1170.8,1043.8 1171.4,1045.5 1172.0,1048.7 1172.6,1044.9 1173.2,1047.8 1173.8,1049.1 1174.4,1041.6 1175.0,1042.6 1175.6,1046.8 1176.2,1044.4 1176.8,1047.2 1177.4,1047.7 1178.0,1045.1 1178.6,1048.2 1179.2,1050.3 1179.8,1048.7 1180.4,1044.8 1181.0,1046.4 1181.6,1045.6 1182.2,1050.3 1182.8,1046.5 1183.4,1045.4 1184.0,1047.1 1184.6,1048.2 1185.2,1046.2 1185.8,1047.3 1186.4,1047.1 1187.0,1048.7 1187.6,1049.2 1188.2,1047.7 1188.8,1046.1 1189.4,1048.0 1190.0,1045.2 1190.6,1049.5 1191.2,1047.9 1191.8,1047.7 1192.4,1043.0 1193.0,1051.3 1193.6,1050.4 1194.2,1050.0 1194.8,1047.5 1195.4,1048.7 1196.0,1051.3 1196.6,1045.7 1197.2,1048.9 1197.8,1048.5 1198.4,1047.5 1199.0,1048.0 1199.6,1045.1 1200.2,1048.7 1200.8,1044.4 1201.4,1051.3 1202.0,1049.0 1202.6,1045.4 1203.2,1043.0 1203.8,1047.5 1204.4,1048.4 1205.0,1045.1 1205.6,1051.0 1206.2,1047.9 1206.8,1046.3 1207.4,1044.3 1208.0,1047.1 1208.6,1046.9 1209.2,1048.8 1209.8,1049.6 1210.4,1047.4 1211.0,1048.4 1211.6,1050.5 1212.2,1048.7 1212.8,1046.8 1213.4,1048.7 1214.0,1046.2 1214.6,1048.3 1215.2,1047.5 1215.8,1044.9 1216.4,1048.7 1217.0,1047.5 1217.6,1049.0 1218.2,1044.4 1218.8,1049.8 1219.4,1049.9 1220.0,1046.6 1220.6,1047.1 1221.2,1047.4 1221.8,1047.3 1222.4,1049.2 1223.0,1045.8 1223.6,1044.8 1224.2,1046.8 1224.8,1051.4 1225.4,1046.5 1226.0,1045.1 1226.6,1045.3 1227.2,1047.7 1227.8,1049.9 1228.4,1045.7 1229.0,1047.7 1229.6,1047.7 1230.2,1048.3 1230.8,1047.6 1231.4,1049.6 1232.0,1048.8 1232.6,1045.9 1233.2,1051.4 1233.8,1044.3 1234.4,1044.4 1235.0,1049.5 1235.6,1047.7 1236.2,1046.7 1236.8,1047.7 1237.4,1048.8 1238.0,1046.3 1238.6,1045.9 1239.2,1045.0 1239.8,1045.4 1240.4,1045.5 1241.0,1049.8 1241.6,1047.9 1242.2,1048.4 1242.8,1046.0 1243.4,1049.6 1244.0,1043.8 1244.6,1048.3 1245.2,1048.8 1245.8,1046.0 1246.4,1045.0 1247.0,1048.4 1247.6,1045.7 1248.2,1045.3 1248.8,1047.2 1249.4,1044.8 1250.0,1046.9 1250.6,1051.4 1251.2,1046.3 1251.8,1049.2 1252.4,1044.9 1253.0,1047.4 1253.6,1046.6 1254.2,1046.9 1254.8,1048.9 1255.4,1051.4 1256.0,1047.0 1256.6,1050.1 1257.2,1048.0 1257.8,1048.9 1258.4,1046.2 1259.0,1045.7 1259.6,1046.8 1260.2,1045.6 1260.8,1047.2 1261.4,1044.9 1262.0,1047.3 1262.6,1047.7 1263.2,1051.3 1263.8,1051.1 1264.4,1048.4 1265.0,1046.2 1265.6,1048.6 1266.2,1049.1 1266.8,1046.9 1267.4,1045.4 1268.0,1043.4 1268.6,1047.2 1269.2,1051.5 1269.8,1046.9 1270.4,1048.2 1271.0,1048.2 1271.6,1048.4 1272.2,1049.1 1272.8,1043.1 1273.4,1047.0 1274.0,1048.2 1274.6,1047.2 1275.2,1050.1 1275.8,1046.6 1276.4,1049.5 1277.0,1051.3 1277.6,1046.9 1278.2,1047.5 1278.8,1046.8 1279.4,1049.2 1280.0,1043.2 1280.6,1044.3 1281.2,1046.9 1281.8,1049.4 1282.4,1048.8 1283.0,1045.7 1283.6,1051.1 1284.2,1047.8 1284.8,1046.2 1285.4,1048.8 1286.0,1050.5 1286.6,1047.5 1287.2,1044.3 1287.8,1046.4 1288.4,1047.9 1289.0,1049.7 1289.6,1045.5 1290.2,1048.3 1290.8,1045.1 1291.4,1047.9 1292.0,1044.8 1292.6,1046.7 1293.2,1044.4 1293.8,1045.6 1294.4,1044.3 1295.0,1043.5 1295.6,1050.5 1296.2,1050.4 1296.8,1048.9 1297.4,1047.0 1298.0,1051.1 1298.6,1047.2 1299.2,1048.8 1299.8,1050.4 1300.4,1048.4 1301.0,1051.2 1301.6,1047.6 1302.2,1047.6 1302.8,1048.2 1303.4,1045.4 1304.0,1045.6 1304.6,1049.7 1305.2,1044.2 1305.8,1050.5 1306.4,1048.6 1307.0,1050.7 1307.6,1049.7 1308.2,1049.4 1308.8,1051.9 1309.4,1047.9 1310.0,1047.9 1310.6,1050.6 1311.2,1046.7 1311.8,1050.7 1312.4,1049.7 1313.0,1047.1 1313.6,1045.4 1314.2,1043.9 1314.8,1052.2 1315.4,1044.9 1316.0,1045.6 1316.6,1050.2 1317.2,1049.3 1317.8,1048.7 1318.4,1048.5 1319.0,1047.4 1319.6,1046.3 1320.2,1046.7 1320.8,1049.6 1321.4,1050.7 1322.0,1050.9 1322.6,1048.3 1323.2,1044.1 1323.8,1049.5 1324.4,1048.0 1325.0,1044.1 1325.6,1051.5 1326.2,1048.9 1326.8,1048.3 1327.4,1048.9 1328.0,1048.7 1328.6,1049.0 1329.2,1048.7 1329.8,1048.5 1330.4,1049.8 1331.0,1049.3 1331.6,1052.6 1332.2,1048.9 1332.8,1047.4 1333.4,1047.3 1334.0,1049.5 1334.6,1048.9 1335.2,1049.2 1335.8,1048.2 1336.4,1048.3 1337.0,1050.3 1337.6,1051.7 1338.2,1049.5 1338.8,1048.5 1339.4,1046.2 1340.0,1046.2 1340.6,1048.8 1341.2,1048.2 1341.8,1048.5 1342.4,1046.3 1343.0,1048.5 1343.6,1044.5 1344.2,1046.1 1344.8,1047.0 1345.4,1050.1 1346.0,1047.4 1346.6,1046.7 1347.2,1049.4 1347.8,1048.5 1348.4,1050.8 1349.0,1049.5 1349.6,1049.2 1350.2,1048.4 1350.8,1050.2 1351.4,1047.2 1352.0,1045.4 1352.6,1050.8 1353.2,1047.7 1353.8,1048.9 1354.4,1050.2 1355.0,1051.0 1355.6,1044.6 1356.2,1046.5 1356.8,1051.5 1357.4,1045.1 1358.0,1049.9 1358.6,1048.0 1359.2,1046.9 1359.8,1048.5 1360.4,1045.1 1361.0,1049.7 1361.6,1051.4 1362.2,1045.7 1362.8,1047.4 1363.4,1051.5 1364.0,1049.7 1364.6,1048.2 1365.2,1052.0 1365.8,1045.2 1366.4,1048.3 1367.0,1049.1 1367.6,1048.2 1368.2,1050.7 1368.8,1045.2 1369.4,1049.0 1370.0,1047.2 1370.6,1051.6 1371.2,1051.2 1371.8,1047.3 1372.4,1046.5 1373.0,1048.8 1373.6,1047.0 1374.2,1047.7 1374.8,1049.9 1375.4,1047.9 1376.0,1052.9 1376.6,1049.1 1377.2,1047.8 1377.8,1046.4 1378.4,1047.8 1379.0,1051.4 1379.6,1050.1 1380.2,1052.1 1380.8,1051.8 1381.4,1050.1 1382.0,1047.4 1382.6,1048.6 1383.2,1049.1 1383.8,1045.3 1384.4,1049.6 1385.0,1046.6 1385.6,1048.7 1386.2,1047.8 1386.8,1050.2 1387.4,1053.1 1388.0,1046.2 1388.6,1048.8 1389.2,1053.1 1389.8,1046.8 1390.4,1048.4 1391.0,1048.6 1391.6,1049.6 1392.2,1045.3 1392.8,1049.5 1393.4,1050.2 1394.0,1053.0 1394.6,1048.7 1395.2,1047.6 1395.8,1049.1 1396.4,1044.7 1397.0,1049.6 1397.6,1052.3 1398.2,1048.7 1398.8,1048.7 1399.4,1048.3 1400.0,1049.1 1400.6,1046.0 1401.2,1052.2 1401.8,1047.8 1402.4,1047.8 1403.0,1052.4 1403.6,1048.8 1404.2,1047.8 1404.8,1052.4 1405.4,1049.1 1406.0,1050.8 1406.6,1047.5 1407.2,1044.8 1407.8,1049.1 1408.4,1051.9 1409.0,1047.7 1409.6,1049.5 1410.2,1050.3 1410.8,1049.2 1411.4,1048.8 1412.0,1050.3 1412.6,1049.1 1413.2,1047.4 1413.8,1050.9 1414.4,1050.4 1415.0,1049.4 1415.6,1050.2 1416.2,1044.3 1416.8,1049.1 1417.4,1048.6 1418.0,1044.2 1418.6,1052.6 1419.2,1049.2 1419.8,1047.5 1420.4,1047.6 1421.0,1049.0 1421.6,1048.4 1422.2,1044.8 1422.8,1047.5 1423.4,1049.3 1424.0,1049.7 1424.6,1050.2 1425.2,1045.9 1425.8,1046.8 1426.4,1049.0 1427.0,1046.8 1427.6,1048.6 1428.2,1046.3 1428.8,1049.4 1429.4,1048.2 1430.0,1049.3 1430.6,1048.1 1431.2,1046.2 1431.8,1045.2 1432.4,1047.9 1433.0,1046.4 1433.6,1044.4 1434.2,1046.5 1434.8,1049.3 1435.4,1050.2 1436.0,1049.1 1436.6,1050.3 1437.2,1046.4 1437.8,1046.7 1438.4,1044.8 1439.0,1045.0 1439.6,1050.0 1440.2,1047.1 1440.8,1047.3 1441.4,1049.5 1442.0,1049.1 1442.6,1042.7 1443.2,1046.3 1443.8,1041.9 1444.4,1045.1 1445.0,1038.0 1445.6,1039.3 1446.2,1038.6 1446.8,1043.8 1447.4,1035.0 1448.0,1040.5 1448.6,1039.7 1449.2,1036.8 1449.8,1037.8 1450.4,1039.6 1451.0,1036.0 1451.6,1034.8 1452.2,1038.7 1452.8,1037.9 1453.4,1034.2 1454.0,1037.9 1454.6,1038.9 1455.2,1036.5 1455.8,1037.8 1456.4,1039.2 1457.0,1038.8 1457.6,1043.3 1458.2,1043.5 1458.8,1039.1 1459.4,1043.0 1460.0,1044.8 1460.6,1041.9 1461.2,1044.6 1461.8,1046.2 1462.4,1042.0 1463.0,1045.4 1463.6,1041.9 1464.2,1048.1 1464.8,1044.9 1465.4,1043.4 1466.0,1042.6 1466.6,1043.1 1467.2,1049.7 1467.8,1045.0 1468.4,1045.7 1469.0,1046.1 1469.6,1043.7 1470.2,1048.7 1470.8,1042.8 1471.4,1049.1 1472.0,1045.4 1472.6,1047.2 1473.2,1047.8 1473.8,1049.0 1474.4,1044.4 1475.0,1048.5 1475.6,1047.0 1476.2,1046.8 1476.8,1046.5 1477.4,1049.7 1478.0,1048.2 1478.6,1050.0 1479.2,1049.2 1479.8,1043.0 1480.4,1047.0 1481.0,1049.4 1481.6,1045.2 1482.2,1043.4 1482.8,1043.0 1483.4,1051.4 1484.0,1045.1 1484.6,1047.5 1485.2,1044.8 1485.8,1048.1 1486.4,1050.9 1487.0,1043.9 1487.6,1047.0 1488.2,1045.4 1488.8,1043.0 1489.4,1045.1 1490.0,1047.2 1490.6,1049.9 1491.2,1050.0 1491.8,1047.1 1492.4,1043.4 1493.0,1048.6 1493.6,1047.1 1494.2,1047.1 1494.8,1044.5 1495.4,1046.7 1496.0,1051.3 1496.6,1050.4 1497.2,1049.9 1497.8,1048.6 1498.4,1046.2 1499.0,1047.1 1499.6,1047.4 1500.2,1047.9 1500.8,1046.3 1501.4,1045.1 1502.0,1049.6 1502.6,1046.2 1503.2,1048.9 1503.8,1046.6 1504.4,1048.5 1505.0,1048.2 1505.6,1048.7 1506.2,1048.6 1506.8,1044.9 1507.4,1043.9 1508.0,1046.9 1508.6,1050.7 1509.2,1045.1 1509.8,1044.9 1510.4,1051.1 1511.0,1043.5 1511.6,1045.7 1512.2,1046.0 1512.8,1045.4 1513.4,1045.5 1514.0,1049.3 1514.6,1047.4 1515.2,1047.3 1515.8,1043.2 1516.4,1048.7 1517.0,1047.3 1517.6,1047.2 1518.2,1048.7 1518.8,1047.6 1519.4,1046.8 1520.0,1047.8 1520.6,1045.3 1521.2,1044.8 1521.8,1043.8 1522.4,1049.0 1523.0,1045.4 1523.6,1047.2 1524.2,1049.3 1524.8,1050.9 1525.4,1046.0 1526.0,1047.2 1526.6,1047.0 1527.2,1043.9 1527.8,1045.7 1528.4,1050.9 1529.0,1046.6 1529.6,1050.7 1530.2,1048.5 1530.8,1050.7 1531.4,1049.7 1532.0,1047.2 1532.6,1044.0 1533.2,1049.9 1533.8,1048.3 1534.4,1047.8 1535.0,1048.6 1535.6,1044.9 1536.2,1047.0 1536.8,1046.7 1537.4,1043.3 1538.0,1044.0 1538.6,1046.4 1539.2,1042.5 1539.8,1048.3 1540.4,1048.4 1541.0,1046.4 1541.6,1047.2 1542.2,1042.5 1542.8,1047.0 1543.4,1048.3 1544.0,1047.7 1544.6,1048.6 1545.2,1046.4 1545.8,1050.7 1546.4,1047.5 1547.0,1048.3 1547.6,1048.9 1548.2,1044.8 1548.8,1044.0 1549.4,1048.2 1550.0,1043.7 1550.6,1045.1 1551.2,1048.7 1551.8,1044.0 1552.4,1044.3 1553.0,1043.7 1553.6,1044.1 1554.2,1050.6 1554.8,1047.7 1555.4,1048.6 1556.0,1042.2 1556.6,1042.2 1557.2,1043.8 1557.8,1048.7 1558.4,1049.0 1559.0,1042.2 1559.6,1042.4 1560.2,1047.8 1560.8,1046.9 1561.4,1047.3 1562.0,1047.8 1562.6,1044.0 1563.2,1046.6 1563.8,1045.7 1564.4,1049.0 1565.0,1045.6 1565.6,1042.1 1566.2,1049.1 1566.8,1050.3 1567.4,1048.4 1568.0,1045.5 1568.6,1044.1 1569.2,1048.5 1569.8,1045.0 1570.4,1047.4 1571.0,1047.9 1571.6,1045.9 1572.2,1042.0 1572.8,1047.3 1573.4,1043.9 1574.0,1042.6 1574.6,1046.0 1575.2,1046.4 1575.8,1045.9 1576.4,1047.5 1577.0,1042.0 1577.6,1047.4 1578.2,1049.7 1578.8,1045.9 1579.4,1044.9 1580.0,1045.7 1580.6,1048.8 1581.2,1045.6 1581.8,1044.2 1582.4,1042.2 1583.0,1049.2 1583.6,1049.2 1584.2,1046.0 1584.8,1050.2 1585.4,1045.1 1586.0,1047.6 1586.6,1043.0 1587.2,1043.7 1587.8,1045.9 1588.4,1047.0 1589.0,1047.3 1589.6,1043.9 1590.2,1044.7 1590.8,1045.7 1591.4,1045.3 1592.0,1045.3 1592.6,1047.7 1593.2,1048.5 1593.8,1041.7 1594.4,1048.8 1595.0,1046.3 1595.6,1046.6 1596.2,1046.6 1596.8,1047.9 1597.4,1047.4 1598.0,1042.4 1598.6,1047.7 1599.2,1043.3 1599.8,1046.6 1600.4,1046.2 1601.0,1042.3 1601.6,1045.8 1602.2,1045.2 1602.8,1044.2 1603.4,1049.9 1604.0,1046.0 1604.6,1044.8 1605.2,1049.5 1605.8,1045.6 1606.4,1045.3 1607.0,1041.4 1607.6,1046.9 1608.2,1047.8 1608.8,1049.7 1609.4,1043.3 1610.0,1047.8 1610.6,1048.6 1611.2,1047.1 1611.8,1045.4 1612.4,1041.7 1613.0,1045.8 1613.6,1044.1 1614.2,1041.4 1614.8,1046.6 1615.4,1044.9 1616.0,1044.6 1616.6,1049.3 1617.2,1043.8 1617.8,1040.8 1618.4,1040.7 1619.0,1045.9 1619.6,1044.1 1620.2,1042.8 1620.8,1040.2 1621.4,1042.4 1622.0,1041.5 1622.6,1043.6 1623.2,1041.7 1623.8,1041.5 1624.4,1043.1 1625.0,1041.2 1625.6,1043.4 1626.2,1038.2 1626.8,1039.3 1627.4,1044.4 1628.0,1041.8 1628.6,1038.6 1629.2,1040.2 1629.8,1039.0 1630.4,1039.1 1631.0,1042.8 1631.6,1038.4 1632.2,1039.6 1632.8,1037.0 1633.4,1037.1 1634.0,1035.2 1634.6,1037.1 1635.2,1037.7 1635.8,1038.0 1636.4,1038.9 1637.0,1039.2 1637.6,1040.7 1638.2,1039.1 1638.8,1042.8 1639.4,1041.5 1640.0,1043.6 1640.6,1040.7 1641.2,1043.8 1641.8,1041.7 1642.4,1038.1 1643.0,1042.0 1643.6,1041.9 1644.2,1039.4 1644.8,1040.6 1645.4,1041.7 1646.0,1047.5 1646.6,1044.1 1647.2,1047.7 1647.8,1045.9 1648.4,1046.3 1649.0,1045.8 1649.6,1040.8 1650.2,1047.0 1650.8,1042.1 1651.4,1045.4 1652.0,1044.2 1652.6,1048.1 1653.2,1047.2 1653.8,1048.6 1654.4,1045.7 1655.0,1044.7 1655.6,1046.4 1656.2,1048.9 1656.8,1045.9 1657.4,1044.8 1658.0,1042.0 1658.6,1043.1 1659.2,1044.6 1659.8,1046.3 1660.4,1046.1 1661.0,1044.5 1661.6,1045.1 1662.2,1048.2 1662.8,1048.9 1663.4,1047.4 1664.0,1048.2 1664.6,1047.5 1665.2,1048.8 1665.8,1042.0 1666.4,1043.7 1667.0,1045.3 1667.6,1045.6 1668.2,1047.8 1668.8,1040.7 1669.4,1045.1 1670.0,1045.4 1670.6,1043.3 1671.2,1044.5 1671.8,1047.0 1672.4,1045.8 1673.0,1044.5 1673.6,1045.2 1674.2,1044.5 1674.8,1046.8 1675.4,1044.5 1676.0,1046.9 1676.6,1043.5 1677.2,1044.7 1677.8,1042.3 1678.4,1044.3 1679.0,1046.6 1679.6,1042.5 1680.2,1044.0 1680.8,1045.0 1681.4,1043.9 1682.0,1046.6 1682.6,1042.0 1683.2,1046.6 1683.8,1047.6 1684.4,1048.4 1685.0,1044.6 1685.6,1042.9 1686.2,1041.2 1686.8,1046.2 1687.4,1046.5 1688.0,1045.3 1688.6,1045.4 1689.2,1046.1 1689.8,1043.9 1690.4,1041.4 1691.0,1041.5 1691.6,1042.9 1692.2,1042.6 1692.8,1041.1 1693.4,1043.6 1694.0,1042.3 1694.6,1046.0 1695.2,1044.4 1695.8,1046.3 1696.4,1041.6 1697.0,1042.1 1697.6,1041.0 1698.2,1045.2 1698.8,1048.6 1699.4,1045.0 1700.0,1043.5 1700.6,1044.9 1701.2,1044.4 1701.8,1046.6 1702.4,1044.4 1703.0,1042.5 1703.6,1040.2 1704.2,1045.2 1704.8,1046.6 1705.4,1044.7 1706.0,1042.3 1706.6,1043.3 1707.2,1043.5 1707.8,1045.5 1708.4,1044.1 1709.0,1046.7 1709.6,1043.7 1710.2,1042.6 1710.8,1048.1 1711.4,1041.7 1712.0,1042.1 1712.6,1047.9 1713.2,1044.3 1713.8,1047.6 1714.4,1039.2 1715.0,1046.1 1715.6,1043.2 1716.2,1043.2 1716.8,1043.9 1717.4,1038.4 1718.0,1040.3 1718.6,1043.0 1719.2,1045.8 1719.8,1039.7 1720.4,1045.1 1721.0,1041.9 1721.6,1042.3 1722.2,1037.4 1722.8,1040.4 1723.4,1036.5 1724.0,1035.2 1724.6,1040.0 1725.2,1035.0 1725.8,1034.8 1726.4,1036.8 1727.0,1032.8 1727.6,1031.2 1728.2,1033.9 1728.8,1033.5 1729.4,1035.8 1730.0,1029.6 1730.6,1033.4 1731.2,1033.3 1731.8,1030.8 1732.4,1031.5 1733.0,1032.2 1733.6,1030.2 1734.2,1030.0 1734.8,1035.1 1735.4,1031.7 1736.0,1032.6 1736.6,1037.1 1737.2,1034.8 1737.8,1035.8 1738.4,1034.3 1739.0,1035.3 1739.6,1035.6 1740.2,1036.2 1740.8,1042.5 1741.4,1038.2 1742.0,1036.6 1742.6,1038.8 1743.2,1043.2 1743.8,1039.4 1744.4,1042.2 1745.0,1040.5 1745.6,1039.0 1746.2,1041.9 1746.8,1041.0 1747.4,1043.9 1748.0,1045.2 1748.6,1043.7 1749.2,1048.2 1749.8,1041.7 1750.4,1047.2 1751.0,1045.2 1751.6,1047.5 1752.2,1045.6 1752.8,1040.4 1753.4,1043.9 1754.0,1046.9 1754.6,1044.7 1755.2,1041.8 1755.8,1043.5 1756.4,1045.5 1757.0,1047.5 1757.6,1043.5 1758.2,1045.1 1758.8,1042.8 1759.4,1042.3 1760.0,1043.8 1760.6,1048.0 1761.2,1046.6 1761.8,1044.4 1762.4,1045.0 1763.0,1046.3 1763.6,1044.8 1764.2,1044.1 1764.8,1044.5 1765.4,1046.6 1766.0,1044.3 1766.6,1046.9 1767.2,1041.2 1767.8,1043.5 1768.4,1044.3 1769.0,1046.5 1769.6,1043.2 1770.2,1044.1 1770.8,1046.0 1771.4,1045.1 1772.0,1043.8 1772.6,1044.6 1773.2,1043.3 1773.8,1047.1 1774.4,1046.3 1775.0,1047.3 1775.6,1049.8 1776.2,1048.2 1776.8,1046.6 1777.4,1045.3 1778.0,1049.8 1778.6,1046.1 1779.2,1045.1 1779.8,1048.5 1780.4,1046.6 1781.0,1045.1 1781.6,1046.7 1782.2,1049.9 1782.8,1046.1 1783.4,1046.7 1784.0,1043.9 1784.6,1044.8 1785.2,1047.9 1785.8,1045.7 1786.4,1046.2 1787.0,1048.4 1787.6,1045.3 1788.2,1049.4 1788.8,1044.6 1789.4,1044.4 1790.0,1044.3 1790.6,1042.7 1791.2,1047.3 1791.8,1046.1 1792.4,1049.1 1793.0,1044.4 1793.6,1047.7 1794.2,1049.0 1794.8,1045.5 1795.4,1045.7 1796.0,1041.7 1796.6,1050.1 1797.2,1045.7 1797.8,1047.5 1798.4,1044.9 1799.0,1046.8 1799.6,1043.5 1800.2,1047.7 1800.8,1046.2 1801.4,1045.2 1802.0,1047.0 1802.6,1042.1 1803.2,1046.4 1803.8,1045.0 1804.4,1049.2 1805.0,1047.7 1805.6,1045.6 1806.2,1045.4 1806.8,1050.1 1807.4,1043.8 1808.0,1050.1 1808.6,1048.0 1809.2,1047.7 1809.8,1041.8 1810.4,1047.8 1811.0,1044.9 1811.6,1044.0 1812.2,1047.3 1812.8,1044.4 1813.4,1047.2 1814.0,1043.9 1814.6,1047.3 1815.2,1046.9 1815.8,1044.1 1816.4,1043.8"/>
<polygon fill="#ff0000" points="206.0,824.6 207.2,824.6 208.4,824.7 209.6,824.7 210.8,824.8 212.0,824.9 213.2,824.9 214.4,825.0 215.6,825.0 216.8,825.1 218.0,825.2 219.2,825.2 220.4,825.3 221.6,825.3 222.8,825.4 224.0,825.5 225.2,825.5 226.4,825.6 227.6,825.7 228.8,825.7 230.0,825.8 231.2,825.9 232.4,825.9 233.6,826.0 234.8,826.1 236.0,826.1 237.2,826.2 238.4,826.3 239.6,826.3 240.8,826.4 242.0,826.5 243.2,826.5 244.4,826.6 245.6,826.7 246.8,826.8 248.0,826.8 249.2,826.9 250.4,827.0 251.6,827.1 252.8,827.1 254.0,827.2 255.2,827.3 256.4,827.4 257.6,827.5 258.8,827.6 260.0,827.7 261.2,827.8 262.4,827.9 263.6,828.0 264.8,828.1 266.0,828.2 267.2,828.3 268.4,828.5 269.6,828.6 270.8,828.7 272.0,828.8 273.2,828.9 274.4,829.0 275.6,829.1 276.8,829.2 278.0,829.3 279.2,829.4 280.4,829.5 281.6,829.6 282.8,829.7 284.0,829.8 285.2,829.8 286.4,829.9 287.6,830.0 288.8,830.1 290.0,830.1 291.2,830.2 292.4,830.2 293.6,830.3 294.8,830.3 296.0,830.3 297.2,830.3 298.4,830.3 299.6,830.3 300.8,830.3 302.0,830.3 303.2,830.2 304.4,830.0 305.6,829.9 306.8,829.7 308.0,829.5 309.2,829.2 310.4,829.0 311.6,828.7 312.8,828.4 314.0,828.1 315.2,827.8 316.4,827.5 317.6,827.2 318.8,826.9 320.0,826.6 321.2,826.3 322.4,826.0 323.6,825.8 324.8,825.5 326.0,825.3 327.2,825.1 328.4,824.8 329.6,824.5 330.8,824.3 332.0,824.0 333.2,823.7 334.4,823.4 335.6,823.2 336.8,822.9 338.0,822.7 339.2,822.4 340.4,822.2 341.6,821.9 342.8,821.7 344.0,821.3 345.2,820.9 346.4,820.3 347.6,819.3 348.8,817.4 350.0,810.8 351.2,797.6 352.4,774.5 353.6,739.9 354.8,697.9 356.0,663.8 357.2,660.9 358.4,692.1 359.6,734.9 360.8,772.0 362.0,797.7 363.2,813.1 364.4,821.5 365.6,824.2 366.8,825.9 368.0,827.1 369.2,828.1 370.4,828.8 371.6,829.5 372.8,830.0 374.0,830.5 375.2,830.9 376.4,831.2 377.6,831.4 378.8,831.6 380.0,831.8 381.2,832.0 382.4,832.1 383.6,832.3 384.8,832.4 386.0,832.5 387.2,832.6 388.4,832.7 389.6,832.8 390.8,832.9 392.0,833.0 393.2,833.1 394.4,833.1 395.6,833.2 396.8,833.2 398.0,833.3 399.2,833.3 400.4,833.3 401.6,833.3 402.8,833.3 404.0,833.2 405.2,833.0 406.4,832.8 407.6,832.6 408.8,832.3 410.0,832.0 411.2,831.7 412.4,831.3 413.6,830.9 414.8,830.6 416.0,830.2 417.2,829.8 418.4,829.4 419.6,829.0 420.8,828.6 422.0,828.0 423.2,827.4 424.4,826.7 425.6,826.0 426.8,825.2 428.0,824.5 429.2,823.8 430.4,823.1 431.6,822.6 432.8,822.2 434.0,822.0 435.2,821.9 436.4,821.9 437.6,821.9 438.8,822.0 440.0,822.1 441.2,822.1 442.4,822.2 443.6,822.3 444.8,822.4 446.0,822.5 447.2,822.6 448.4,822.8 449.6,822.9 450.8,823.0 452.0,823.1 453.2,823.3 454.4,823.4 455.6,823.6 456.8,823.8 458.0,824.0 459.2,824.2 460.4,824.4 461.6,824.7 462.8,824.9 464.0,825.1 465.2,825.4 466.4,825.6 467.6,825.8 468.8,826.0 470.0,826.3 471.2,826.5 472.4,826.7 473.6,826.9 474.8,827.0 476.0,827.2 477.2,827.3 478.4,827.5 479.6,827.6 480.8,827.8 482.0,827.9 483.2,828.1 484.4,828.2 485.6,828.4 486.8,828.5 488.0,828.7 489.2,828.8 490.4,828.9 491.6,829.1 492.8,829.2 494.0,829.3 495.2,829.4 496.4,829.6 497.6,829.7 498.8,829.8 500.0,829.9 501.2,830.0 502.4,830.1 503.6,830.2 504.8,830.3 506.0,830.4 507.2,830.5 508.4,830.6 509.6,830.7 510.8,830.8 512.0,830.8 513.2,830.9 514.4,831.0 515.6,831.0 516.8,831.1 518.0,831.1 519.2,831.1 520.4,831.2 521.6,831.2 522.8,831.2 524.0,831.2 525.2,831.2 526.4,831.1 527.6,831.1 528.8,831.1 530.0,831.0 531.2,830.9 532.4,830.8 533.6,830.7 534.8,830.5 536.0,830.3 537.2,829.9 538.4,829.2 539.6,828.1 540.8,826.0 542.0,820.7 543.2,811.1 544.4,798.1 545.6,782.8 546.8,768.7 548.0,761.4 549.2,765.4 550.4,778.2 551.6,793.8 552.8,808.0 554.0,819.0 555.2,826.4 556.4,829.0 557.6,830.6 558.8,831.6 560.0,832.2 561.2,832.7 562.4,833.0 563.6,833.3 564.8,833.5 566.0,833.6 567.2,833.8 568.4,833.9 569.6,834.0 570.8,834.0 572.0,834.1 573.2,834.1 574.4,834.1 575.6,834.1 576.8,834.1 578.0,834.1 579.2,834.0 580.4,834.0 581.6,834.0 582.8,833.9 584.0,833.9 585.2,833.8 586.4,833.8 587.6,833.7 588.8,833.7 590.0,833.6 591.2,833.6 592.4,833.6 593.6,833.5 594.8,833.5 596.0,833.5 597.2,833.5 598.4,833.5 599.6,833.5 600.8,833.5 602.0,833.5 603.2,833.6 604.4,833.6 605.6,833.7 606.8,833.9 608.0,834.0 609.2,834.1 610.4,834.2 611.6,834.4 612.8,834.5 614.0,834.6 615.2,834.7 616.4,834.8 617.6,834.9 618.8,834.9 620.0,834.9 621.2,834.9 622.4,834.9 623.6,834.9 624.8,834.9 626.0,834.8 627.2,834.8 628.4,834.8 629.6,834.7 630.8,834.7 632.0,834.6 633.2,834.6 634.4,834.5 635.6,834.5 636.8,834.4 638.0,834.3 639.2,834.2 640.4,834.2 641.6,834.1 642.8,834.0 644.0,833.9 645.2,833.9 646.4,833.8 647.6,833.7 648.8,833.6 650.0,833.5 651.2,833.5 652.4,833.4 653.6,833.3 654.8,833.2 656.0,833.2 657.2,833.1 658.4,833.0 659.6,833.0 660.8,832.9 662.0,832.8 663.2,832.8 664.4,832.7 665.6,832.7 666.8,832.6 668.0,832.6 669.2,832.5 670.4,832.5 671.6,832.4 672.8,832.4 674.0,832.3 675.2,832.3 676.4,832.2 677.6,832.2 678.8,832.1 680.0,832.1 681.2,832.0 682.4,832.0 683.6,831.9 684.8,831.9 686.0,831.8 687.2,831.7 688.4,831.7 689.6,831.6 690.8,831.5 692.0,831.4 693.2,831.3 694.4,831.2 695.6,831.1 696.8,831.0 698.0,830.9 699.2,830.8 700.4,830.7 701.6,830.5 702.8,830.3 704.0,830.0 705.2,829.6 706.4,829.2 707.6,828.8 708.8,828.3 710.0,827.8 711.2,827.3 712.4,826.7 713.6,826.1 714.8,825.5 716.0,824.8 717.2,824.2 718.4,823.5 719.6,822.9 720.8,822.3 722.0,821.6 723.2,821.0 724.4,820.4 725.6,819.8 726.8,819.2 728.0,818.7 729.2,818.2 730.4,817.7 731.6,817.3 732.8,816.8 734.0,816.4 735.2,816.0 736.4,815.6 737.6,815.2 738.8,814.8 740.0,814.4 741.2,814.0 742.4,813.6 743.6,813.1 744.8,812.7 746.0,812.3 747.2,811.8 748.4,811.3 749.6,810.8 750.8,810.2 752.0,809.6 753.2,809.0 754.4,808.4 755.6,807.7 756.8,807.0 758.0,806.3 759.2,805.5 760.4,804.8 761.6,804.0 762.8,803.1 764.0,802.1 765.2,801.0 766.4,799.6 767.6,797.8 768.8,795.6 770.0,791.8 771.2,785.0 772.4,776.8 773.6,768.2 774.8,760.5 776.0,755.5 777.2,755.1 778.4,759.8 779.6,768.0 780.8,777.9 782.0,787.6 783.2,796.2 784.4,802.1 785.6,806.5 786.8,810.8 788.0,814.6 789.2,817.8 790.4,820.2 791.6,822.4 792.8,824.5 794.0,826.4 795.2,828.2 796.4,829.8 797.6,831.1 798.8,832.0 800.0,832.5 801.2,832.8 802.4,833.0 803.6,833.2 804.8,833.4 806.0,833.5 807.2,833.7 808.4,833.8 809.6,833.9 810.8,834.0 812.0,834.1 813.2,834.2 814.4,834.3 815.6,834.4 816.8,834.5 818.0,834.6 819.2,834.7 820.4,834.9 821.6,835.1 822.8,835.3 824.0,835.6 825.2,835.9 826.4,836.2 827.6,836.6 828.8,836.9 830.0,837.2 831.2,837.5 832.4,837.8 833.6,838.1 834.8,838.4 836.0,838.6 837.2,838.7 838.4,838.9 839.6,838.9 840.8,838.9 842.0,838.9 843.2,838.9 844.4,838.9 845.6,838.9 846.8,838.9 848.0,838.9 849.2,838.9 850.4,838.9 851.6,838.9 852.8,838.9 854.0,838.8 855.2,838.8 856.4,838.8 857.6,838.8 858.8,838.8 860.0,838.8 861.2,838.7 862.4,838.7 863.6,838.7 864.8,838.7 866.0,838.7 867.2,838.7 868.4,838.6 869.6,838.6 870.8,838.6 872.0,838.6 873.2,838.5 874.4,838.5 875.6,838.5 876.8,838.5 878.0,838.5 879.2,838.5 880.4,838.4 881.6,838.4 882.8,838.4 884.0,838.4 885.2,838.4 886.4,838.4 887.6,838.3 888.8,838.3 890.0,838.3 891.2,838.3 892.4,838.3 893.6,838.3 894.8,838.3 896.0,838.3 897.2,838.3 898.4,838.3 899.6,838.3 900.8,838.3 902.0,838.3 903.2,838.3 904.4,838.3 905.6,838.3 906.8,838.4 908.0,838.4 909.2,838.5 910.4,838.5 911.6,838.6 912.8,838.6 914.0,838.7 915.2,838.8 916.4,838.8 917.6,838.9 918.8,839.0 920.0,839.0 921.2,839.1 922.4,839.2 923.6,839.2 924.8,839.3 926.0,839.4 927.2,839.4 928.4,839.5 929.6,839.6 930.8,839.6 932.0,839.7 933.2,839.7 934.4,839.8 935.6,839.8 936.8,839.8 938.0,839.9 939.2,839.9 940.4,839.9 941.6,839.9 942.8,839.9 944.0,839.9 945.2,839.9 946.4,839.9 947.6,839.8 948.8,839.8 950.0,839.6 951.2,839.3 952.4,838.8 953.6,837.8 954.8,836.6 956.0,835.3 957.2,835.0 958.4,835.9 959.6,837.3 960.8,838.4 962.0,839.2 963.2,839.6 964.4,839.8 965.6,839.9 966.8,840.0 968.0,840.1 969.2,840.1 970.4,840.1 971.6,840.2 972.8,840.2 974.0,840.2 975.2,840.2 976.4,840.3 977.6,840.3 978.8,840.3 980.0,840.3 981.2,840.4 982.4,840.4 983.6,840.4 984.8,840.5 986.0,840.5 987.2,840.6 988.4,840.6 989.6,840.7 990.8,840.7 992.0,840.8 993.2,840.8 994.4,840.9 995.6,840.9 996.8,840.9 998.0,840.9 999.2,841.0 1000.4,841.0 1001.6,841.0 1002.8,841.0 1004.0,841.0 1005.2,841.0 1006.4,841.0 1007.6,841.0 1008.8,841.0 1010.0,841.0 1011.2,841.0 1012.4,841.0 1013.6,841.0 1014.8,841.0 1016.0,841.0 1017.2,841.0 1018.4,841.0 1019.6,841.0 1020.8,841.0 1022.0,841.0 1023.2,841.0 1024.4,841.0 1025.6,841.0 1026.8,841.0 1028.0,841.0 1029.2,841.0 1030.4,841.0 1031.6,841.0 1032.8,841.0 1034.0,841.0 1035.2,841.0 1036.4,841.0 1037.6,841.0 1038.8,841.0 1040.0,841.0 1041.2,841.0 1042.4,841.0 1043.6,841.0 1044.8,841.0 1046.0,841.0 1047.2,841.0 1048.4,841.0 1049.6,841.0 1050.8,841.0 1052.0,841.0 1053.2,841.0 1054.4,841.0 1055.6,841.0 1056.8,841.0 1058.0,841.0 1059.2,841.0 1060.4,841.0 1061.6,841.0 1062.8,841.0 1064.0,841.0 1065.2,841.0 1066.4,841.0 1067.6,841.0 1068.8,841.0 1070.0,841.0 1071.2,841.0 1072.4,840.9 1073.6,840.9 1074.8,840.9 1076.0,840.9 1077.2,840.9 1078.4,840.9 1079.6,840.9 1080.8,840.9 1082.0,840.9 1083.2,840.9 1084.4,840.9 1085.6,840.9 1086.8,840.9 1088.0,840.9 1089.2,840.9 1090.4,840.9 1091.6,840.9 1092.8,840.9 1094.0,840.9 1095.2,840.9 1096.4,840.9 1097.6,840.9 1098.8,840.9 1100.0,840.9 1101.2,840.9 1102.4,840.9 1103.6,840.9 1104.8,840.9 1106.0,840.9 1107.2,840.9 1108.4,840.9 1109.6,840.9 1110.8,840.9 1112.0,840.9 1113.2,840.9 1114.4,840.9 1115.6,840.9 1116.8,840.9 1118.0,840.9 1119.2,840.9 1120.4,840.8 1121.6,840.8 1122.8,840.8 1124.0,840.8 1125.2,840.8 1126.4,840.8 1127.6,840.8 1128.8,840.8 1130.0,840.8 1131.2,840.8 1132.4,840.8 1133.6,840.7 1134.8,840.7 1136.0,840.7 1137.2,840.7 1138.4,840.7 1139.6,840.7 1140.8,840.6 1142.0,840.6 1143.2,840.6 1144.4,840.6 1145.6,840.5 1146.8,840.5 1148.0,840.4 1149.2,840.4 1150.4,840.3 1151.6,840.3 1152.8,840.2 1154.0,840.1 1155.2,840.0 1156.4,839.9 1157.6,839.8 1158.8,839.6 1160.0,839.4 1161.2,839.1 1162.4,838.8 1163.6,838.3 1164.8,837.6 1166.0,836.6 1167.2,835.4 1168.4,833.8 1169.6,831.8 1170.8,829.4 1172.0,826.8 1173.2,824.3 1174.4,822.2 1175.6,821.1 1176.8,821.5 1178.0,823.1 1179.2,825.5 1180.4,828.3 1181.6,831.0 1182.8,833.4 1184.0,835.4 1185.2,837.1 1186.4,838.3 1187.6,839.3 1188.8,840.0 1190.0,840.6 1191.2,841.0 1192.4,841.3 1193.6,841.5 1194.8,841.7 1196.0,841.9 1197.2,842.0 1198.4,842.2 1199.6,842.2 1200.8,842.3 1202.0,842.4 1203.2,842.4 1204.4,842.5 1205.6,842.5 1206.8,842.5 1208.0,842.6 1209.2,842.6 1210.4,842.6 1211.6,842.7 1212.8,842.7 1214.0,842.7 1215.2,842.7 1216.4,842.7 1217.6,842.7 1218.8,842.8 1220.0,842.8 1221.2,842.8 1222.4,842.8 1223.6,842.8 1224.8,842.8 1226.0,842.8 1227.2,842.8 1228.4,842.8 1229.6,842.8 1230.8,842.8 1232.0,842.9 1233.2,842.9 1234.4,842.9 1235.6,842.9 1236.8,842.9 1238.0,842.9 1239.2,842.9 1240.4,842.9 1241.6,842.9 1242.8,842.9 1244.0,842.9 1245.2,842.9 1246.4,842.9 1247.6,842.9 1248.8,842.9 1250.0,842.9 1251.2,842.9 1252.4,842.9 1253.6,842.9 1254.8,842.9 1256.0,842.9 1257.2,842.9 1258.4,842.9 1259.6,842.9 1260.8,842.9 1262.0,842.9 1263.2,842.9 1264.4,842.9 1265.6,842.9 1266.8,842.9 1268.0,842.9 1269.2,842.9 1270.4,842.9 1271.6,842.9 1272.8,842.9 1274.0,842.9 1275.2,842.9 1276.4,842.9 1277.6,842.9 1278.8,842.9 1280.0,843.0 1281.2,843.0 1282.4,843.0 1283.6,843.0 1284.8,843.0 1286.0,843.0 1287.2,843.0 1288.4,843.0 1289.6,843.0 1290.8,843.0 1292.0,843.0 1293.2,843.0 1294.4,843.0 1295.6,843.0 1296.8,843.0 1298.0,843.0 1299.2,843.0 1300.4,843.0 1301.6,843.0 1302.8,843.0 1304.0,843.0 1305.2,843.0 1306.4,843.0 1307.6,843.0 1308.8,843.0 1310.0,843.0 1311.2,843.0 1312.4,843.0 1313.6,843.0 1314.8,843.0 1316.0,843.0 1317.2,843.0 1318.4,843.0 1319.6,843.0 1320.8,843.0 1322.0,843.0 1323.2,843.0 1324.4,843.0 1325.6,843.0 1326.8,843.0 1328.0,843.0 1329.2,843.0 1330.4,843.0 1331.6,843.0 1332.8,843.0 1334.0,843.0 1335.2,843.0 1336.4,843.0 1337.6,843.0 1338.8,843.0 1340.0,843.0 1341.2,843.0 1342.4,843.0 1343.6,843.0 1344.8,843.0 1346.0,843.0 1347.2,843.0 1348.4,843.0 1349.6,843.0 1350.8,843.0 1352.0,843.0 1353.2,843.0 1354.4,843.0 1355.6,843.0 1356.8,843.0 1358.0,843.0 1359.2,843.0 1360.4,843.0 1361.6,843.0 1362.8,843.0 1364.0,843.0 1365.2,843.0 1366.4,843.0 1367.6,843.0 1368.8,843.0 1370.0,843.0 1371.2,843.0 1372.4,843.0 1373.6,843.0 1374.8,843.0 1376.0,843.0 1377.2,843.0 1378.4,843.0 1379.6,843.0 1380.8,843.0 1382.0,843.0 1383.2,843.0 1384.4,843.0 1385.6,843.0 1386.8,843.0 1388.0,843.0 1389.2,843.0 1390.4,843.0 1391.6,843.0 1392.8,843.0 1394.0,843.0 1395.2,843.0 1396.4,843.0 1397.6,843.0 1398.8,843.0 1400.0,843.0 1401.2,843.0 1402.4,843.0 1403.6,843.0 1404.8,843.0 1406.0,843.0 1407.2,842.9 1408.4,842.9 1409.6,842.9 1410.8,842.9 1412.0,842.9 1413.2,842.9 1414.4,842.8 1415.6,842.8 1416.8,842.8 1418.0,842.8 1419.2,842.8 1420.4,842.7 1421.6,842.7 1422.8,842.7 1424.0,842.6 1425.2,842.6 1426.4,842.6 1427.6,842.5 1428.8,842.5 1430.0,842.5 1431.2,842.4 1432.4,842.4 1433.6,842.4 1434.8,842.3 1436.0,842.3 1437.2,842.2 1438.4,842.2 1439.6,842.1 1440.8,842.1 1442.0,842.0 1443.2,842.0 1444.4,842.0 1445.6,841.9 1446.8,841.9 1448.0,841.8 1449.2,841.8 1450.4,841.7 1451.6,841.7 1452.8,841.6 1454.0,841.5 1455.2,841.5 1456.4,841.4 1457.6,841.4 1458.8,841.3 1460.0,841.3 1461.2,841.2 1462.4,841.2 1463.6,841.1 1464.8,841.0 1466.0,841.0 1467.2,840.9 1468.4,840.9 1469.6,840.8 1470.8,840.8 1472.0,840.7 1473.2,840.6 1474.4,840.6 1475.6,840.5 1476.8,840.5 1478.0,840.4 1479.2,840.4 1480.4,840.3 1481.6,840.2 1482.8,840.2 1484.0,840.1 1485.2,840.1 1486.4,840.0 1487.6,839.9 1488.8,839.9 1490.0,839.8 1491.2,839.8 1492.4,839.7 1493.6,839.7 1494.8,839.6 1496.0,839.6 1497.2,839.5 1498.4,839.4 1499.6,839.4 1500.8,839.3 1502.0,839.3 1503.2,839.2 1504.4,839.2 1505.6,839.1 1506.8,839.1 1508.0,839.0 1509.2,839.0 1510.4,838.9 1511.6,838.9 1512.8,838.9 1514.0,838.8 1515.2,838.8 1516.4,838.7 1517.6,838.7 1518.8,838.6 1520.0,838.6 1521.2,838.6 1522.4,838.5 1523.6,838.5 1524.8,838.4 1526.0,838.4 1527.2,838.4 1528.4,838.3 1529.6,838.3 1530.8,838.3 1532.0,838.2 1533.2,838.2 1534.4,838.2 1535.6,838.1 1536.8,838.1 1538.0,838.1 1539.2,838.1 1540.4,838.0 1541.6,838.0 1542.8,838.0 1544.0,838.0 1545.2,838.0 1546.4,837.9 1547.6,837.9 1548.8,837.9 1550.0,837.9 1551.2,837.9 1552.4,837.8 1553.6,837.8 1554.8,837.8 1556.0,837.8 1557.2,837.8 1558.4,837.7 1559.6,837.7 1560.8,837.7 1562.0,837.6 1563.2,837.6 1564.4,837.5 1565.6,837.4 1566.8,837.2 1568.0,837.0 1569.2,836.7 1570.4,836.3 1571.6,835.9 1572.8,835.3 1574.0,834.5 1575.2,833.7 1576.4,832.7 1577.6,831.6 1578.8,830.4 1580.0,829.3 1581.2,828.3 1582.4,827.5 1583.6,827.0 1584.8,827.0 1586.0,827.5 1587.2,828.3 1588.4,829.4 1589.6,830.6 1590.8,831.8 1592.0,832.9 1593.2,834.0 1594.4,835.0 1595.6,835.8 1596.8,836.5 1598.0,837.0 1599.2,837.5 1600.4,837.8 1601.6,838.1 1602.8,838.3 1604.0,838.4 1605.2,838.5 1606.4,838.6 1607.6,838.7 1608.8,838.8 1610.0,838.8 1611.2,838.9 1612.4,838.9 1613.6,838.9 1614.8,839.0 1616.0,839.0 1617.2,839.0 1618.4,839.0 1619.6,839.0 1620.8,839.0 1622.0,839.1 1623.2,839.1 1624.4,839.1 1625.6,839.1 1626.8,839.1 1628.0,839.1 1629.2,839.1 1630.4,839.1 1631.6,839.1 1632.8,839.1 1634.0,839.1 1635.2,839.1 1636.4,839.1 1637.6,839.1 1638.8,839.1 1640.0,839.1 1641.2,839.1 1642.4,839.1 1643.6,839.1 1644.8,839.1 1646.0,839.1 1647.2,839.1 1648.4,839.0 1649.6,839.0 1650.8,839.0 1652.0,839.0 1653.2,839.0 1654.4,839.0 1655.6,839.0 1656.8,839.0 1658.0,839.0 1659.2,839.0 1660.4,839.0 1661.6,839.0 1662.8,839.0 1664.0,838.9 1665.2,838.9 1666.4,838.9 1667.6,838.9 1668.8,838.9 1670.0,838.9 1671.2,838.9 1672.4,838.9 1673.6,838.9 1674.8,838.8 1676.0,838.8 1677.2,838.8 1678.4,838.8 1679.6,838.8 1680.8,838.8 1682.0,838.8 1683.2,838.7 1684.4,838.7 1685.6,838.7 1686.8,838.7 1688.0,838.7 1689.2,838.6 1690.4,838.6 1691.6,838.6 1692.8,838.5 1694.0,838.5 1695.2,838.5 1696.4,838.4 1697.6,838.4 1698.8,838.3 1700.0,838.2 1701.2,838.1 1702.4,838.0 1703.6,837.8 1704.8,837.6 1706.0,837.3 1707.2,836.9 1708.4,836.5 1709.6,836.0 1710.8,835.5 1712.0,834.8 1713.2,834.1 1714.4,833.2 1715.6,832.4 1716.8,831.6 1718.0,830.8 1719.2,830.1 1720.4,829.6 1721.6,829.3 1722.8,829.3 1724.0,829.6 1725.2,830.2 1726.4,830.9 1727.6,831.7 1728.8,832.6 1730.0,833.5 1731.2,834.3 1732.4,835.0 1733.6,835.7 1734.8,836.2 1736.0,836.7 1737.2,837.1 1738.4,837.5 1739.6,837.7 1740.8,838.0 1742.0,838.1 1743.2,838.3 1744.4,838.4 1745.6,838.5 1746.8,838.6 1748.0,838.6 1749.2,838.7 1750.4,838.7 1751.6,838.8 1752.8,838.8 1754.0,838.8 1755.2,838.9 1756.4,838.9 1757.6,838.9 1758.8,839.0 1760.0,839.0 1761.2,839.0 1762.4,839.0 1763.6,839.0 1764.8,839.1 1766.0,839.1 1767.2,839.1 1768.4,839.1 1769.6,839.1 1770.8,839.1 1772.0,839.2 1773.2,839.2 1774.4,839.2 1775.6,839.2 1776.8,839.2 1778.0,839.2 1779.2,839.2 1780.4,839.2 1781.6,839.2 1782.8,839.3 1784.0,839.3 1785.2,839.3 1786.4,839.3 1787.6,839.3 1788.8,839.3 1790.0,839.3 1791.2,839.3 1792.4,839.3 1793.6,839.3 1794.8,839.3 1796.0,839.3 1797.2,839.3 1798.4,839.3 1799.6,839.3 1800.8,839.3 1802.0,839.3 1803.2,839.3 1804.4,839.3 1805.6,839.3 1806.8,839.3 1808.0,839.3 1809.2,839.3 1810.4,839.3 1811.6,839.3 1812.8,839.3 1814.0,839.3 1815.2,839.3 1816.4,839.3 1816.4,853.3 1815.2,853.3 1814.0,853.3 1812.8,853.3 1811.6,853.3 1810.4,853.3 1809.2,853.3 1808.0,853.3 1806.8,853.3 1805.6,853.3 1804.4,853.3 1803.2,853.3 1802.0,853.3 1800.8,853.3 1799.6,853.3 1798.4,853.3 1797.2,853.3 1796.0,853.3 1794.8,853.3 1793.6,853.3 1792.4,853.3 1791.2,853.3 1790.0,853.3 1788.8,853.3 1787.6,853.3 1786.4,853.3 1785.2,853.3 1784.0,853.3 1782.8,853.3 1781.6,853.2 1780.4,853.2 1779.2,853.2 1778.0,853.2 1776.8,853.2 1775.6,853.2 1774.4,853.2 1773.2,853.2 1772.0,853.2 1770.8,853.1 1769.6,853.1 1768.4,853.1 1767.2,853.1 1766.0,853.1 1764.8,853.1 1763.6,853.0 1762.4,853.0 1761.2,853.0 1760.0,853.0 1758.8,853.0 1757.6,852.9 1756.4,852.9 1755.2,852.9 1754.0,852.8 1752.8,852.8 1751.6,852.8 1750.4,852.7 1749.2,852.7 1748.0,852.6 1746.8,852.6 1745.6,852.5 1744.4,852.4 1743.2,852.3 1742.0,852.1 1740.8,852.0 1739.6,851.7 1738.4,851.5 1737.2,851.1 1736.0,850.7 1734.8,850.2 1733.6,849.7 1732.4,849.0 1731.2,848.3 1730.0,847.5 1728.8,846.6 1727.6,845.7 1726.4,844.9 1725.2,844.2 1724.0,843.6 1722.8,843.3 1721.6,843.3 1720.4,843.6 1719.2,844.1 1718.0,844.7 1716.8,845.6 1715.6,846.4 1714.4,847.2 1713.2,848.1 1712.0,848.8 1710.8,849.5 1709.6,850.0 1708.4,850.5 1707.2,850.9 1706.0,851.3 1704.8,851.6 1703.6,851.8 1702.4,852.0 1701.2,852.1 1700.0,852.2 1698.8,852.3 1697.6,852.4 1696.4,852.4 1695.2,852.5 1694.0,852.5 1692.8,852.5 1691.6,852.6 1690.4,852.6 1689.2,852.6 1688.0,852.7 1686.8,852.7 1685.6,852.7 1684.4,852.7 1683.2,852.7 1682.0,852.8 1680.8,852.8 1679.6,852.8 1678.4,852.8 1677.2,852.8 1676.0,852.8 1674.8,852.8 1673.6,852.9 1672.4,852.9 1671.2,852.9 1670.0,852.9 1668.8,852.9 1667.6,852.9 1666.4,852.9 1665.2,852.9 1664.0,852.9 1662.8,853.0 1661.6,853.0 1660.4,853.0 1659.2,853.0 1658.0,853.0 1656.8,853.0 1655.6,853.0 1654.4,853.0 1653.2,853.0 1652.0,853.0 1650.8,853.0 1649.6,853.0 1648.4,853.0 1647.2,853.1 1646.0,853.1 1644.8,853.1 1643.6,853.1 1642.4,853.1 1641.2,853.1 1640.0,853.1 1638.8,853.1 1637.6,853.1 1636.4,853.1 1635.2,853.1 1634.0,853.1 1632.8,853.1 1631.6,853.1 1630.4,853.1 1629.2,853.1 1628.0,853.1 1626.8,853.1 1625.6,853.1 1624.4,853.1 1623.2,853.1 1622.0,853.1 1620.8,853.0 1619.6,853.0 1618.4,853.0 1617.2,853.0 1616.0,853.0 1614.8,853.0 1613.6,852.9 1612.4,852.9 1611.2,852.9 1610.0,852.8 1608.8,852.8 1607.6,852.7 1606.4,852.6 1605.2,852.5 1604.0,852.4 1602.8,852.3 1601.6,852.1 1600.4,851.8 1599.2,851.5 1598.0,851.0 1596.8,850.5 1595.6,849.8 1594.4,849.0 1593.2,848.0 1592.0,846.9 1590.8,845.8 1589.6,844.5 1588.4,843.4 1587.2,842.3 1586.0,841.5 1584.8,841.0 1583.6,841.0 1582.4,841.5 1581.2,842.3 1580.0,843.3 1578.8,844.4 1577.6,845.6 1576.4,846.7 1575.2,847.7 1574.0,848.5 1572.8,849.3 1571.6,849.9 1570.4,850.3 1569.2,850.7 1568.0,851.0 1566.8,851.2 1565.6,851.4 1564.4,851.5 1563.2,851.6 1562.0,851.6 1560.8,851.7 1559.6,851.7 1558.4,851.7 1557.2,851.8 1556.0,851.8 1554.8,851.8 1553.6,851.8 1552.4,851.8 1551.2,851.8 1550.0,851.9 1548.8,851.9 1547.6,851.9 1546.4,851.9 1545.2,852.0 1544.0,852.0 1542.8,852.0 1541.6,852.0 1540.4,852.0 1539.2,852.1 1538.0,852.1 1536.8,852.1 1535.6,852.1 1534.4,852.2 1533.2,852.2 1532.0,852.2 1530.8,852.3 1529.6,852.3 1528.4,852.3 1527.2,852.4 1526.0,852.4 1524.8,852.4 1523.6,852.5 1522.4,852.5 1521.2,852.6 1520.0,852.6 1518.8,852.6 1517.6,852.7 1516.4,852.7 1515.2,852.8 1514.0,852.8 1512.8,852.8 1511.6,852.9 1510.4,852.9 1509.2,853.0 1508.0,853.0 1506.8,853.1 1505.6,853.1 1504.4,853.2 1503.2,853.2 1502.0,853.3 1500.8,853.3 1499.6,853.4 1498.4,853.4 1497.2,853.5 1496.0,853.6 1494.8,853.6 1493.6,853.7 1492.4,853.7 1491.2,853.8 1490.0,853.8 1488.8,853.9 1487.6,853.9 1486.4,854.0 1485.2,854.1 1484.0,854.1 1482.8,854.2 1481.6,854.2 1480.4,854.3 1479.2,854.3 1478.0,854.4 1476.8,854.5 1475.6,854.5 1474.4,854.6 1473.2,854.6 1472.0,854.7 1470.8,854.8 1469.6,854.8 1468.4,854.9 1467.2,854.9 1466.0,855.0 1464.8,855.0 1463.6,855.1 1462.4,855.2 1461.2,855.2 1460.0,855.3 1458.8,855.3 1457.6,855.4 1456.4,855.4 1455.2,855.5 1454.0,855.5 1452.8,855.6 1451.6,855.6 1450.4,855.7 1449.2,855.8 1448.0,855.8 1446.8,855.9 1445.6,855.9 1444.4,856.0 1443.2,856.0 1442.0,856.0 1440.8,856.1 1439.6,856.1 1438.4,856.2 1437.2,856.2 1436.0,856.3 1434.8,856.3 1433.6,856.4 1432.4,856.4 1431.2,856.4 1430.0,856.5 1428.8,856.5 1427.6,856.5 1426.4,856.6 1425.2,856.6 1424.0,856.6 1422.8,856.7 1421.6,856.7 1420.4,856.7 1419.2,856.8 1418.0,856.8 1416.8,856.8 1415.6,856.8 1414.4,856.8 1413.2,856.9 1412.0,856.9 1410.8,856.9 1409.6,856.9 1408.4,856.9 1407.2,856.9 1406.0,856.9 1404.8,857.0 1403.6,857.0 1402.4,857.0 1401.2,857.0 1400.0,857.0 1398.8,857.0 1397.6,857.0 1396.4,857.0 1395.2,857.0 1394.0,857.0 1392.8,857.0 1391.6,857.0 1390.4,857.0 1389.2,857.0 1388.0,857.0 1386.8,857.0 1385.6,857.0 1384.4,857.0 1383.2,857.0 1382.0,857.0 1380.8,857.0 1379.6,857.0 1378.4,857.0 1377.2,857.0 1376.0,857.0 1374.8,857.0 1373.6,857.0 1372.4,857.0 1371.2,857.0 1370.0,857.0 1368.8,857.0 1367.6,857.0 1366.4,857.0 1365.2,857.0 1364.0,857.0 1362.8,857.0 1361.6,857.0 1360.4,857.0 1359.2,857.0 1358.0,857.0 1356.8,857.0 1355.6,857.0 1354.4,857.0 1353.2,857.0 1352.0,857.0 1350.8,857.0 1349.6,857.0 1348.4,857.0 1347.2,857.0 1346.0,857.0 1344.8,857.0 1343.6,857.0 1342.4,857.0 1341.2,857.0 1340.0,857.0 1338.8,857.0 1337.6,857.0 1336.4,857.0 1335.2,857.0 1334.0,857.0 1332.8,857.0 1331.6,857.0 1330.4,857.0 1329.2,857.0 1328.0,857.0 1326.8,857.0 1325.6,857.0 1324.4,857.0 1323.2,857.0 1322.0,857.0 1320.8,857.0 1319.6,857.0 1318.4,857.0 1317.2,857.0 1316.0,857.0 1314.8,857.0 1313.6,857.0 1312.4,857.0 1311.2,857.0 1310.0,857.0 1308.8,857.0 1307.6,857.0 1306.4,857.0 1305.2,857.0 1304.0,857.0 1302.8,857.0 1301.6,857.0 1300.4,857.0 1299.2,857.0 1298.0,857.0 1296.8,857.0 1295.6,857.0 1294.4,857.0 1293.2,857.0 1292.0,857.0 1290.8,857.0 1289.6,857.0 1288.4,857.0 1287.2,857.0 1286.0,857.0 1284.8,856.9 1283.6,856.9 1282.4,856.9 1281.2,856.9 1280.0,856.9 1278.8,856.9 1277.6,856.9 1276.4,856.9 1275.2,856.9 1274.0,856.9 1272.8,856.9 1271.6,856.9 1270.4,856.9 1269.2,856.9 1268.0,856.9 1266.8,856.9 1265.6,856.9 1264.4,856.9 1263.2,856.9 1262.0,856.9 1260.8,856.9 1259.6,856.9 1258.4,856.9 1257.2,856.9 1256.0,856.9 1254.8,856.9 1253.6,856.9 1252.4,856.9 1251.2,856.9 1250.0,856.9 1248.8,856.9 1247.6,856.9 1246.4,856.9 1245.2,856.9 1244.0,856.9 1242.8,856.9 1241.6,856.9 1240.4,856.9 1239.2,856.9 1238.0,856.9 1236.8,856.9 1235.6,856.9 1234.4,856.9 1233.2,856.9 1232.0,856.8 1230.8,856.8 1229.6,856.8 1228.4,856.8 1227.2,856.8 1226.0,856.8 1224.8,856.8 1223.6,856.8 1222.4,856.8 1221.2,856.8 1220.0,856.8 1218.8,856.7 1217.6,856.7 1216.4,856.7 1215.2,856.7 1214.0,856.7 1212.8,856.7 1211.6,856.6 1210.4,856.6 1209.2,856.6 1208.0,856.6 1206.8,856.5 1205.6,856.5 1204.4,856.5 1203.2,856.4 1202.0,856.4 1200.8,856.3 1199.6,856.2 1198.4,856.1 1197.2,856.0 1196.0,855.9 1194.8,855.7 1193.6,855.5 1192.4,855.3 1191.2,855.0 1190.0,854.6 1188.8,854.0 1187.6,853.3 1186.4,852.3 1185.2,851.1 1184.0,849.4 1182.8,847.4 1181.6,845.0 1180.4,842.3 1179.2,839.5 1178.0,837.1 1176.8,835.5 1175.6,835.1 1174.4,836.2 1173.2,838.3 1172.0,840.8 1170.8,843.4 1169.6,845.7 1168.4,847.8 1167.2,849.4 1166.0,850.6 1164.8,851.6 1163.6,852.3 1162.4,852.8 1161.2,853.1 1160.0,853.4 1158.8,853.6 1157.6,853.8 1156.4,853.9 1155.2,854.0 1154.0,854.1 1152.8,854.2 1151.6,854.3 1150.4,854.3 1149.2,854.4 1148.0,854.4 1146.8,854.5 1145.6,854.5 1144.4,854.6 1143.2,854.6 1142.0,854.6 1140.8,854.6 1139.6,854.7 1138.4,854.7 1137.2,854.7 1136.0,854.7 1134.8,854.7 1133.6,854.7 1132.4,854.8 1131.2,854.8 1130.0,854.8 1128.8,854.8 1127.6,854.8 1126.4,854.8 1125.2,854.8 1124.0,854.8 1122.8,854.8 1121.6,854.8 1120.4,854.8 1119.2,854.8 1118.0,854.9 1116.8,854.9 1115.6,854.9 1114.4,854.9 1113.2,854.9 1112.0,854.9 1110.8,854.9 1109.6,854.9 1108.4,854.9 1107.2,854.9 1106.0,854.9 1104.8,854.9 1103.6,854.9 1102.4,854.9 1101.2,854.9 1100.0,854.9 1098.8,854.9 1097.6,854.9 1096.4,854.9 1095.2,854.9 1094.0,854.9 1092.8,854.9 1091.6,854.9 1090.4,854.9 1089.2,854.9 1088.0,854.9 1086.8,854.9 1085.6,854.9 1084.4,854.9 1083.2,854.9 1082.0,854.9 1080.8,854.9 1079.6,854.9 1078.4,854.9 1077.2,854.9 1076.0,854.9 1074.8,854.9 1073.6,854.9 1072.4,854.9 1071.2,854.9 1070.0,854.9 1068.8,854.9 1067.6,854.9 1066.4,854.9 1065.2,854.9 1064.0,854.9 1062.8,854.9 1061.6,854.9 1060.4,854.9 1059.2,854.9 1058.0,854.9 1056.8,854.9 1055.6,854.9 1054.4,854.9 1053.2,854.9 1052.0,854.9 1050.8,855.0 1049.6,855.0 1048.4,855.0 1047.2,855.0 1046.0,855.0 1044.8,855.0 1043.6,855.0 1042.4,855.0 1041.2,855.0 1040.0,855.0 1038.8,855.0 1037.6,855.0 1036.4,855.0 1035.2,855.0 1034.0,855.0 1032.8,855.0 1031.6,855.0 1030.4,855.0 1029.2,855.0 1028.0,855.0 1026.8,855.0 1025.6,855.0 1024.4,855.0 1023.2,855.0 1022.0,855.0 1020.8,855.0 1019.6,855.0 1018.4,855.0 1017.2,855.0 1016.0,855.0 1014.8,855.0 1013.6,855.0 1012.4,855.0 1011.2,855.0 1010.0,855.0 1008.8,855.0 1007.6,855.0 1006.4,855.0 1005.2,855.0 1004.0,855.0 1002.8,854.9 1001.6,854.9 1000.4,854.9 999.2,854.9 998.0,854.9 996.8,854.9 995.6,854.9 994.4,854.8 993.2,854.8 992.0,854.8 990.8,854.7 989.6,854.7 988.4,854.6 987.2,854.6 986.0,854.5 984.8,854.5 983.6,854.4 982.4,854.4 981.2,854.3 980.0,854.3 978.8,854.3 977.6,854.3 976.4,854.2 975.2,854.2 974.0,854.2 972.8,854.2 971.6,854.1 970.4,854.1 969.2,854.1 968.0,854.0 966.8,854.0 965.6,853.9 964.4,853.8 963.2,853.6 962.0,853.2 960.8,852.4 959.6,851.2 958.4,849.9 957.2,849.0 956.0,849.3 954.8,850.5 953.6,851.8 952.4,852.8 951.2,853.3 950.0,853.6 948.8,853.7 947.6,853.8 946.4,853.8 945.2,853.9 944.0,853.9 942.8,853.9 941.6,853.9 940.4,853.9 939.2,853.9 938.0,853.8 936.8,853.8 935.6,853.8 934.4,853.7 933.2,853.7 932.0,853.7 930.8,853.6 929.6,853.5 928.4,853.5 927.2,853.4 926.0,853.3 924.8,853.3 923.6,853.2 922.4,853.1 921.2,853.1 920.0,853.0 918.8,852.9 917.6,852.9 916.4,852.8 915.2,852.7 914.0,852.7 912.8,852.6 911.6,852.5 910.4,852.5 909.2,852.4 908.0,852.4 906.8,852.3 905.6,852.3 904.4,852.3 903.2,852.3 902.0,852.2 900.8,852.2 899.6,852.2 898.4,852.2 897.2,852.2 896.0,852.2 894.8,852.2 893.6,852.2 892.4,852.2 891.2,852.3 890.0,852.3 888.8,852.3 887.6,852.3 886.4,852.3 885.2,852.3 884.0,852.3 882.8,852.3 881.6,852.4 880.4,852.4 879.2,852.4 878.0,852.4 876.8,852.4 875.6,852.5 874.4,852.5 873.2,852.5 872.0,852.5 870.8,852.5 869.6,852.5 868.4,852.6 867.2,852.6 866.0,852.6 864.8,852.6 863.6,852.6 862.4,852.7 861.2,852.7 860.0,852.7 858.8,852.7 857.6,852.7 856.4,852.7 855.2,852.7 854.0,852.8 852.8,852.8 851.6,852.8 850.4,852.8 849.2,852.8 848.0,852.8 846.8,852.8 845.6,852.8 844.4,852.8 843.2,852.8 842.0,852.8 840.8,852.8 839.6,852.8 838.4,852.7 837.2,852.6 836.0,852.4 834.8,852.2 833.6,852.0 832.4,851.7 831.2,851.4 830.0,851.0 828.8,850.7 827.6,850.4 826.4,850.0 825.2,849.7 824.0,849.4 822.8,849.1 821.6,848.9 820.4,848.6 819.2,848.5 818.0,848.3 816.8,848.2 815.6,848.0 814.4,847.9 813.2,847.8 812.0,847.7 810.8,847.6 809.6,847.4 808.4,847.3 807.2,847.1 806.0,847.0 804.8,846.8 803.6,846.5 802.4,846.3 801.2,846.0 800.0,845.6 798.8,845.0 797.6,844.0 796.4,842.6 795.2,840.9 794.0,838.9 792.8,836.7 791.6,834.3 790.4,831.7 789.2,828.7 788.0,824.5 786.8,819.2 785.6,812.6 784.4,804.6 783.2,796.2 782.0,787.6 780.8,777.9 779.6,768.0 778.4,759.8 777.2,755.1 776.0,755.5 774.8,760.5 773.6,768.2 772.4,776.8 771.2,785.0 770.0,791.8 768.8,798.8 767.6,804.4 766.4,808.3 765.2,811.1 764.0,813.1 762.8,814.7 761.6,816.0 760.4,817.1 759.2,818.0 758.0,818.9 756.8,819.8 755.6,820.6 754.4,821.4 753.2,822.2 752.0,822.9 750.8,823.5 749.6,824.1 748.4,824.7 747.2,825.2 746.0,825.7 744.8,826.2 743.6,826.7 742.4,827.1 741.2,827.6 740.0,828.0 738.8,828.4 737.6,828.8 736.4,829.3 735.2,829.7 734.0,830.1 732.8,830.5 731.6,831.0 730.4,831.5 729.2,831.9 728.0,832.5 726.8,833.0 725.6,833.6 724.4,834.2 723.2,834.8 722.0,835.4 720.8,836.1 719.6,836.7 718.4,837.4 717.2,838.0 716.0,838.7 714.8,839.3 713.6,839.9 712.4,840.5 711.2,841.1 710.0,841.7 708.8,842.2 707.6,842.7 706.4,843.1 705.2,843.5 704.0,843.9 702.8,844.2 701.6,844.4 700.4,844.6 699.2,844.7 698.0,844.8 696.8,844.9 695.6,845.0 694.4,845.1 693.2,845.2 692.0,845.3 690.8,845.4 689.6,845.5 688.4,845.6 687.2,845.6 686.0,845.7 684.8,845.8 683.6,845.8 682.4,845.9 681.2,845.9 680.0,846.0 678.8,846.0 677.6,846.1 676.4,846.1 675.2,846.2 674.0,846.2 672.8,846.3 671.6,846.3 670.4,846.4 669.2,846.4 668.0,846.5 666.8,846.5 665.6,846.6 664.4,846.6 663.2,846.7 662.0,846.8 660.8,846.8 659.6,846.9 658.4,846.9 657.2,847.0 656.0,847.1 654.8,847.1 653.6,847.2 652.4,847.3 651.2,847.4 650.0,847.5 648.8,847.5 647.6,847.6 646.4,847.7 645.2,847.8 644.0,847.8 642.8,847.9 641.6,848.0 640.4,848.1 639.2,848.1 638.0,848.2 636.8,848.3 635.6,848.3 634.4,848.4 633.2,848.5 632.0,848.5 630.8,848.6 629.6,848.6 628.4,848.6 627.2,848.7 626.0,848.7 624.8,848.7 623.6,848.8 622.4,848.8 621.2,848.8 620.0,848.8 618.8,848.7 617.6,848.7 616.4,848.6 615.2,848.5 614.0,848.4 612.8,848.3 611.6,848.2 610.4,848.1 609.2,847.9 608.0,847.8 606.8,847.7 605.6,847.5 604.4,847.4 603.2,847.3 602.0,847.3 600.8,847.2 599.6,847.2 598.4,847.2 597.2,847.2 596.0,847.2 594.8,847.2 593.6,847.2 592.4,847.2 591.2,847.3 590.0,847.3 588.8,847.3 587.6,847.3 586.4,847.3 585.2,847.4 584.0,847.4 582.8,847.4 581.6,847.4 580.4,847.4 579.2,847.4 578.0,847.4 576.8,847.3 575.6,847.3 574.4,847.2 573.2,847.1 572.0,847.0 570.8,846.9 569.6,846.7 568.4,846.5 567.2,846.2 566.0,845.8 564.8,845.4 563.6,844.9 562.4,844.2 561.2,843.4 560.0,842.3 558.8,840.6 557.6,838.1 556.4,833.8 555.2,826.8 554.0,819.0 552.8,808.0 551.6,793.8 550.4,778.2 549.2,765.4 548.0,761.4 546.8,768.7 545.6,782.8 544.4,798.1 543.2,811.1 542.0,820.7 540.8,828.2 539.6,834.0 538.4,837.3 537.2,839.3 536.0,840.6 534.8,841.5 533.6,842.1 532.4,842.6 531.2,843.0 530.0,843.3 528.8,843.5 527.6,843.7 526.4,843.9 525.2,844.0 524.0,844.1 522.8,844.2 521.6,844.3 520.4,844.4 519.2,844.4 518.0,844.4 516.8,844.4 515.6,844.4 514.4,844.4 513.2,844.4 512.0,844.3 510.8,844.3 509.6,844.3 508.4,844.2 507.2,844.1 506.0,844.1 504.8,844.0 503.6,843.9 502.4,843.8 501.2,843.7 500.0,843.6 498.8,843.5 497.6,843.4 496.4,843.3 495.2,843.2 494.0,843.1 492.8,842.9 491.6,842.8 490.4,842.7 489.2,842.6 488.0,842.4 486.8,842.3 485.6,842.2 484.4,842.0 483.2,841.9 482.0,841.7 480.8,841.6 479.6,841.5 478.4,841.3 477.2,841.2 476.0,841.0 474.8,840.9 473.6,840.7 472.4,840.5 471.2,840.3 470.0,840.1 468.8,839.9 467.6,839.7 466.4,839.4 465.2,839.2 464.0,839.0 462.8,838.7 461.6,838.5 460.4,838.3 459.2,838.1 458.0,837.8 456.8,837.6 455.6,837.5 454.4,837.3 453.2,837.1 452.0,837.0 450.8,836.8 449.6,836.7 448.4,836.6 447.2,836.5 446.0,836.4 444.8,836.2 443.6,836.1 442.4,836.0 441.2,836.0 440.0,835.9 438.8,835.8 437.6,835.8 436.4,835.7 435.2,835.7 434.0,835.8 432.8,836.0 431.6,836.4 430.4,836.9 429.2,837.6 428.0,838.2 426.8,839.0 425.6,839.7 424.4,840.5 423.2,841.2 422.0,841.8 420.8,842.3 419.6,842.7 418.4,843.1 417.2,843.5 416.0,843.9 414.8,844.3 413.6,844.6 412.4,845.0 411.2,845.3 410.0,845.7 408.8,846.0 407.6,846.2 406.4,846.4 405.2,846.6 404.0,846.8 402.8,846.8 401.6,846.9 400.4,846.8 399.2,846.8 398.0,846.7 396.8,846.7 395.6,846.6 394.4,846.5 393.2,846.4 392.0,846.3 390.8,846.1 389.6,846.0 388.4,845.9 387.2,845.7 386.0,845.5 384.8,845.3 383.6,845.1 382.4,844.8 381.2,844.5 380.0,844.2 378.8,843.9 377.6,843.5 376.4,843.0 375.2,842.4 374.0,841.7 372.8,840.8 371.6,839.7 370.4,838.4 369.2,836.8 368.0,834.8 366.8,832.0 365.6,828.0 364.4,821.5 363.2,813.1 362.0,797.7 360.8,772.0 359.6,734.9 358.4,692.1 357.2,660.9 356.0,663.8 354.8,697.9 353.6,739.9 352.4,774.5 351.2,797.6 350.0,810.8 348.8,818.1 347.6,823.5 346.4,826.7 345.2,828.7 344.0,830.2 342.8,831.4 341.6,832.3 340.4,833.0 339.2,833.7 338.0,834.2 336.8,834.8 335.6,835.2 334.4,835.7 333.2,836.1 332.0,836.6 330.8,837.0 329.6,837.4 328.4,837.7 327.2,838.1 326.0,838.4 324.8,838.7 323.6,839.0 322.4,839.3 321.2,839.6 320.0,839.9 318.8,840.3 317.6,840.6 316.4,840.9 315.2,841.3 314.0,841.6 312.8,841.9 311.6,842.2 310.4,842.5 309.2,842.8 308.0,843.1 306.8,843.3 305.6,843.5 304.4,843.7 303.2,843.9 302.0,844.0 300.8,844.0 299.6,844.1 298.4,844.1 297.2,844.1 296.0,844.1 294.8,844.0 293.6,844.0 292.4,844.0 291.2,844.0 290.0,843.9 288.8,843.9 287.6,843.8 286.4,843.7 285.2,843.7 284.0,843.6 282.8,843.5 281.6,843.4 280.4,843.3 279.2,843.3 278.0,843.2 276.8,843.1 275.6,843.0 274.4,842.9 273.2,842.8 272.0,842.7 270.8,842.5 269.6,842.4 268.4,842.3 267.2,842.2 266.0,842.1 264.8,842.0 263.6,841.9 262.4,841.8 261.2,841.7 260.0,841.6 258.8,841.5 257.6,841.4 256.4,841.3 255.2,841.2 254.0,841.1 252.8,841.0 251.6,841.0 250.4,840.9 249.2,840.8 248.0,840.7 246.8,840.7 245.6,840.6 244.4,840.5 243.2,840.5 242.0,840.4 240.8,840.3 239.6,840.3 238.4,840.2 237.2,840.1 236.0,840.1 234.8,840.0 233.6,839.9 232.4,839.9 231.2,839.8 230.0,839.7 228.8,839.7 227.6,839.6 226.4,839.5 225.2,839.5 224.0,839.4 222.8,839.4 221.6,839.3 220.4,839.2 219.2,839.2 218.0,839.1 216.8,839.0 215.6,839.0 214.4,838.9 213.2,838.9 212.0,838.8 210.8,838.8 209.6,838.7 208.4,838.6 207.2,838.6 206.0,838.5"/>
<polyline fill="none" stroke="#ff0000" stroke-width="9.0" stroke-linejoin="round" stroke-linecap="round" points="206.0,829.7 206.6,831.1 207.2,836.4 207.8,833.5 208.4,826.9 209.0,831.7 209.6,829.9 210.2,832.2 210.8,827.1 211.4,832.5 212.0,832.5 212.6,836.4 213.2,832.8 213.8,833.4 214.4,827.6 215.0,837.5 215.6,826.5 216.2,835.2 216.8,831.1 217.4,829.6 218.0,830.2 218.6,830.2 219.2,833.3 219.8,831.9 220.4,836.5 221.0,827.0 221.6,832.3 222.2,829.8 222.8,834.6 223.4,826.9 224.0,831.5 224.6,833.1 225.2,828.2 225.8,835.4 226.4,833.1 227.0,835.5 227.6,835.4 228.2,829.8 228.8,830.4 229.4,832.1 230.0,834.9 230.6,835.3 231.2,830.8 231.8,831.1 232.4,830.6 233.0,831.2 233.6,832.3 234.2,832.6 234.8,838.5 235.4,831.6 236.0,832.3 236.6,834.5 237.2,830.4 237.8,832.1 238.4,833.3 239.0,835.5 239.6,829.5 240.2,837.3 240.8,832.4 241.4,833.9 242.0,835.9 242.6,835.4 243.2,836.6 243.8,834.0 244.4,833.5 245.0,834.5 245.6,830.8 246.2,837.2 246.8,831.5 247.4,830.1 248.0,839.3 248.6,833.4 249.2,830.5 249.8,839.3 250.4,833.0 251.0,837.0 251.6,831.6 252.2,833.3 252.8,829.2 253.4,828.6 254.0,831.3 254.6,834.0 255.2,836.6 255.8,839.8 256.4,831.4 257.0,837.3 257.6,832.7 258.2,834.1 258.8,830.3 259.4,830.3 260.0,832.4 260.6,831.2 261.2,834.7 261.8,832.8 262.4,838.5 263.0,835.3 263.6,835.4 264.2,838.3 264.8,836.6 265.4,835.0 266.0,834.9 266.6,834.9 267.2,838.4 267.8,837.6 268.4,836.4 269.0,837.8 269.6,833.9 270.2,837.0 270.8,831.5 271.4,839.6 272.0,836.0 272.6,836.3 273.2,837.6 273.8,835.8 274.4,835.2 275.0,839.4 275.6,836.4 276.2,833.4 276.8,837.4 277.4,831.3 278.0,841.0 278.6,835.8 279.2,836.5 279.8,841.9 280.4,841.9 281.0,836.8 281.6,838.3 282.2,839.7 282.8,841.4 283.4,836.3 284.0,837.1 284.6,840.2 285.2,837.5 285.8,839.0 286.4,838.6 287.0,833.6 287.6,834.4 288.2,831.5 288.8,836.2 289.4,840.8 290.0,833.8 290.6,840.6 291.2,839.9 291.8,836.9 292.4,837.1 293.0,837.4 293.6,834.7 294.2,836.3 294.8,837.0 295.4,838.9 296.0,839.5 296.6,835.1 297.2,839.6 297.8,835.0 298.4,836.7 299.0,838.3 299.6,837.1 300.2,836.8 300.8,838.0 301.4,835.6 302.0,835.2 302.6,836.5 303.2,839.8 303.8,836.7 304.4,842.3 305.0,837.4 305.6,831.3 306.2,835.3 306.8,841.3 307.4,836.4 308.0,835.0 308.6,833.6 309.2,839.8 309.8,838.7 310.4,837.7 311.0,836.8 311.6,839.6 312.2,837.7 312.8,831.6 313.4,837.2 314.0,835.3 314.6,834.4 315.2,836.7 315.8,834.4 316.4,828.8 317.0,838.5 317.6,836.8 318.2,833.4 318.8,832.5 319.4,834.0 320.0,829.6 320.6,834.0 321.2,832.3 321.8,831.8 322.4,830.0 323.0,830.6 323.6,835.5 324.2,836.0 324.8,833.5 325.4,831.9 326.0,829.4 326.6,833.7 327.2,836.1 327.8,826.9 328.4,834.5 329.0,825.8 329.6,830.0 330.2,831.8 330.8,826.8 331.4,826.3 332.0,830.8 332.6,832.5 333.2,828.6 333.8,833.4 334.4,827.5 335.0,834.1 335.6,829.5 336.2,829.7 336.8,830.5 337.4,829.5 338.0,833.3 338.6,833.2 339.2,829.5 339.8,827.4 340.4,824.6 341.0,825.4 341.6,827.1 342.2,826.6 342.8,826.4 343.4,826.2 344.0,827.0 344.6,822.2 345.2,822.5 345.8,826.7 346.4,825.2 347.0,821.5 347.6,823.8 348.2,818.7 348.8,817.4 349.4,812.7 350.0,811.5 350.6,805.2 351.2,798.0 351.8,787.8 352.4,774.5 353.0,758.6 353.6,740.4 354.2,719.1 354.8,697.8 355.4,678.4 356.0,664.1 356.6,657.8 357.2,661.7 357.8,673.4 358.4,692.7 359.0,713.2 359.6,735.2 360.2,754.8 360.8,772.8 361.4,786.6 362.0,797.6 362.6,806.8 363.2,813.3 363.8,817.6 364.4,821.1 365.0,822.7 365.6,829.6 366.2,828.1 366.8,831.1 367.4,827.6 368.0,828.6 368.6,831.5 369.2,832.2 369.8,835.1 370.4,831.3 371.0,835.6 371.6,838.5 372.2,832.8 372.8,837.9 373.4,833.4 374.0,837.1 374.6,837.4 375.2,841.3 375.8,835.2 376.4,837.7 377.0,840.2 377.6,834.4 378.2,837.7 378.8,835.5 379.4,836.1 380.0,840.0 380.6,840.2 381.2,843.5 381.8,842.3 382.4,842.2 383.0,838.3 383.6,838.0 384.2,839.3 384.8,833.6 385.4,843.7 386.0,837.3 386.6,836.2 387.2,838.0 387.8,841.8 388.4,842.9 389.0,838.4 389.6,840.7 390.2,839.4 390.8,836.8 391.4,840.2 392.0,839.8 392.6,835.4 393.2,842.9 393.8,835.4 394.4,840.5 395.0,836.9 395.6,837.6 396.2,838.0 396.8,842.0 397.4,836.5 398.0,839.5 398.6,844.5 399.2,838.1 399.8,840.0 400.4,842.0 401.0,838.5 401.6,841.5 402.2,838.3 402.8,842.1 403.4,840.2 404.0,837.3 404.6,844.0 405.2,839.6 405.8,839.0 406.4,837.0 407.0,838.2 407.6,839.2 408.2,839.8 408.8,842.3 409.4,835.3 410.0,837.9 410.6,842.1 411.2,839.1 411.8,839.5 412.4,842.8 413.0,839.0 413.6,839.2 414.2,837.5 414.8,842.5 415.4,840.3 416.0,835.0 416.6,838.4 417.2,833.4 417.8,839.6 418.4,838.2 419.0,835.6 419.6,834.7 420.2,830.5 420.8,837.7 421.4,834.9 422.0,834.0 422.6,836.7 423.2,832.4 423.8,832.3 424.4,831.6 425.0,829.3 425.6,838.3 426.2,831.9 426.8,831.1 427.4,834.3 428.0,825.9 428.6,830.9 429.2,830.7 429.8,827.5 430.4,831.3 431.0,824.3 431.6,829.5 432.2,831.8 432.8,823.6 433.4,824.7 434.0,828.2 434.6,828.6 435.2,826.7 435.8,829.6 436.4,829.2 437.0,824.6 437.6,828.2 438.2,824.8 438.8,823.4 439.4,823.5 440.0,831.5 440.6,828.2 441.2,834.2 441.8,824.4 442.4,827.6 443.0,829.7 443.6,828.3 444.2,830.2 444.8,829.3 445.4,827.1 446.0,824.0 446.6,826.3 447.2,834.1 447.8,831.4 448.4,833.2 449.0,827.6 449.6,828.8 450.2,826.9 450.8,830.6 451.4,829.8 452.0,831.0 452.6,834.8 453.2,827.4 453.8,832.0 454.4,825.9 455.0,833.3 455.6,828.9 456.2,830.1 456.8,830.8 457.4,835.2 458.0,830.5 458.6,829.2 459.2,827.4 459.8,831.7 460.4,828.5 461.0,829.7 461.6,831.2 462.2,833.3 462.8,829.4 463.4,833.5 464.0,836.8 464.6,827.5 465.2,835.9 465.8,837.9 466.4,830.5 467.0,834.1 467.6,828.4 468.2,833.5 468.8,831.7 469.4,833.6 470.0,830.2 470.6,830.6 471.2,831.7 471.8,831.1 472.4,831.4 473.0,832.7 473.6,830.2 474.2,833.0 474.8,834.9 475.4,828.6 476.0,834.3 476.6,831.6 477.2,830.6 477.8,830.0 478.4,831.5 479.0,831.9 479.6,835.1 480.2,830.5 480.8,837.2 481.4,831.9 482.0,836.3 482.6,837.6 483.2,831.0 483.8,837.7 484.4,840.6 485.0,833.6 485.6,836.6 486.2,834.7 486.8,835.4 487.4,834.7 488.0,833.9 488.6,837.5 489.2,838.0 489.8,835.6 490.4,840.0 491.0,838.9 491.6,837.8 492.2,833.8 492.8,841.4 493.4,839.8 494.0,830.7 494.6,833.0 495.2,834.9 495.8,839.0 496.4,840.0 497.0,835.6 497.6,837.2 498.2,838.6 498.8,833.0 499.4,838.4 500.0,835.9 500.6,837.3 501.2,836.7 501.8,833.5 502.4,834.1 503.0,837.1 503.6,837.4 504.2,836.4 504.8,840.2 505.4,836.2 506.0,833.8 506.6,836.3 507.2,836.8 507.8,837.0 508.4,840.7 509.0,838.9 509.6,840.5 510.2,839.3 510.8,837.1 511.4,840.5 512.0,836.9 512.6,838.3 513.2,834.8 513.8,838.0 514.4,836.8 515.0,838.8 515.6,842.9 516.2,843.1 516.8,840.7 517.4,837.7 518.0,840.1 518.6,838.4 519.2,836.1 519.8,837.6 520.4,837.1 521.0,836.1 521.6,841.7 522.2,836.2 522.8,836.3 523.4,839.7 524.0,835.7 524.6,834.5 525.2,835.3 525.8,838.9 526.4,838.6 527.0,838.3 527.6,836.2 528.2,834.9 528.8,839.8 529.4,833.3 530.0,836.6 530.6,833.5 531.2,835.9 531.8,836.5 532.4,840.0 533.0,831.5 533.6,840.0 534.2,834.0 534.8,836.8 535.4,837.8 536.0,833.6 536.6,834.9 537.2,835.9 537.8,833.8 538.4,831.7 539.0,832.8 539.6,831.3 540.2,826.6 540.8,829.4 541.4,824.6 542.0,818.8 542.6,815.9 543.2,811.9 543.8,805.7 544.4,798.2 545.0,789.9 545.6,782.7 546.2,775.8 546.8,768.9 547.4,763.7 548.0,761.1 548.6,762.3 549.2,765.3 549.8,771.2 550.4,778.4 551.0,786.7 551.6,793.9 552.2,801.4 552.8,807.2 553.4,814.5 554.0,819.7 554.6,823.2 555.2,823.8 555.8,828.4 556.4,831.6 557.0,837.0 557.6,835.7 558.2,837.3 558.8,838.2 559.4,840.1 560.0,834.5 560.6,835.6 561.2,835.1 561.8,837.7 562.4,837.8 563.0,839.2 563.6,836.5 564.2,839.6 564.8,837.2 565.4,844.7 566.0,838.4 566.6,845.0 567.2,844.5 567.8,836.9 568.4,842.9 569.0,842.0 569.6,836.2 570.2,842.2 570.8,840.3 571.4,841.5 572.0,838.2 572.6,840.5 573.2,841.8 573.8,840.2 574.4,839.0 575.0,840.3 575.6,838.0 576.2,841.7 576.8,835.3 577.4,845.0 578.0,841.0 578.6,842.1 579.2,843.2 579.8,837.3 580.4,846.1 581.0,837.6 581.6,842.1 582.2,841.7 582.8,844.5 583.4,840.7 584.0,836.7 584.6,841.6 585.2,835.2 585.8,840.1 586.4,839.3 587.0,845.1 587.6,839.8 588.2,839.3 588.8,838.4 589.4,838.1 590.0,838.9 590.6,842.2 591.2,836.7 591.8,839.9 592.4,836.2 593.0,839.9 593.6,840.9 594.2,836.8 594.8,838.7 595.4,840.7 596.0,842.6 596.6,843.1 597.2,840.0 597.8,837.5 598.4,835.7 599.0,842.6 599.6,844.3 600.2,841.4 600.8,844.9 601.4,839.1 602.0,839.3 602.6,844.9 603.2,837.5 603.8,842.2 604.4,841.7 605.0,841.0 605.6,845.6 606.2,838.2 606.8,839.5 607.4,835.3 608.0,837.8 608.6,839.5 609.2,839.9 609.8,840.5 610.4,842.0 611.0,839.3 611.6,835.8 612.2,841.8 612.8,842.6 613.4,838.1 614.0,839.2 614.6,846.7 615.2,844.6 615.8,844.8 616.4,843.6 617.0,842.2 617.6,840.3 618.2,843.5 618.8,841.2 619.4,840.6 620.0,841.8 620.6,841.6 621.2,844.4 621.8,839.1 622.4,847.3 623.0,838.9 623.6,840.6 624.2,844.5 624.8,839.4 625.4,840.4 626.0,841.9 626.6,836.3 627.2,840.3 627.8,838.9 628.4,841.0 629.0,843.1 629.6,843.5 630.2,846.0 630.8,845.8 631.4,844.6 632.0,841.5 632.6,844.6 633.2,838.6 633.8,841.2 634.4,845.6 635.0,843.7 635.6,837.3 636.2,839.6 636.8,844.0 637.4,843.1 638.0,844.4 638.6,836.1 639.2,837.5 639.8,840.4 640.4,838.3 641.0,841.0 641.6,841.1 642.2,842.1 642.8,840.6 643.4,842.6 644.0,843.2 644.6,841.4 645.2,837.3 645.8,844.6 646.4,841.4 647.0,842.0 647.6,841.2 648.2,836.0 648.8,842.3 649.4,838.7 650.0,837.0 650.6,844.3 651.2,839.6 651.8,841.3 652.4,843.0 653.0,845.1 653.6,835.0 654.2,838.1 654.8,842.2 655.4,838.3 656.0,834.6 656.6,840.6 657.2,840.8 657.8,842.4 658.4,840.7 659.0,838.7 659.6,840.6 660.2,839.8 660.8,838.4 661.4,840.6 662.0,840.9 662.6,836.9 663.2,842.8 663.8,842.2 664.4,842.0 665.0,834.2 665.6,840.0 666.2,839.3 666.8,836.7 667.4,841.3 668.0,835.2 668.6,843.1 669.2,840.7 669.8,838.0 670.4,843.6 671.0,840.8 671.6,840.4 672.2,835.6 672.8,840.9 673.4,843.5 674.0,842.5 674.6,835.5 675.2,843.3 675.8,843.9 676.4,841.7 677.0,838.1 677.6,834.8 678.2,836.5 678.8,837.4 679.4,839.9 680.0,840.6 680.6,836.8 681.2,834.2 681.8,837.7 682.4,835.0 683.0,842.7 683.6,835.2 684.2,840.2 684.8,841.1 685.4,835.8 686.0,841.6 686.6,838.2 687.2,836.3 687.8,835.8 688.4,838.8 689.0,841.6 689.6,833.0 690.2,840.1 690.8,837.9 691.4,836.1 692.0,837.9 692.6,838.1 693.2,838.0 693.8,840.5 694.4,835.4 695.0,843.6 695.6,840.6 696.2,836.2 696.8,832.5 697.4,837.7 698.0,836.6 698.6,839.9 699.2,839.8 699.8,843.2 700.4,837.2 701.0,839.8 701.6,836.1 702.2,836.2 702.8,841.6 703.4,836.6 704.0,836.5 704.6,835.7 705.2,837.5 705.8,838.1 706.4,835.8 707.0,832.6 707.6,836.7 708.2,833.1 708.8,834.2 709.4,835.6 710.0,835.5 710.6,829.0 711.2,839.1 711.8,836.2 712.4,839.1 713.0,838.8 713.6,830.3 714.2,831.0 714.8,833.1 715.4,834.8 716.0,830.2 716.6,830.5 717.2,834.2 717.8,828.2 718.4,831.0 719.0,833.2 719.6,829.0 720.2,831.7 720.8,828.7 721.4,824.1 722.0,826.8 722.6,827.5 723.2,826.8 723.8,827.5 724.4,828.3 725.0,827.6 725.6,827.0 726.2,824.9 726.8,825.3 727.4,824.5 728.0,823.6 728.6,829.0 729.2,819.6 729.8,825.2 730.4,819.5 731.0,822.3 731.6,826.1 732.2,822.7 732.8,827.4 733.4,820.3 734.0,822.0 734.6,820.8 735.2,822.4 735.8,821.3 736.4,820.9 737.0,822.0 737.6,824.7 738.2,821.7 738.8,821.2 739.4,820.0 740.0,818.6 740.6,816.2 741.2,817.2 741.8,820.0 742.4,814.9 743.0,821.4 743.6,818.0 744.2,816.3 744.8,817.2 745.4,820.4 746.0,819.4 746.6,818.8 747.2,822.9 747.8,823.6 748.4,813.8 749.0,819.7 749.6,814.8 750.2,812.8 750.8,814.9 751.4,819.1 752.0,815.0 752.6,814.3 753.2,819.3 753.8,816.4 754.4,814.5 755.0,819.5 755.6,815.4 756.2,811.6 756.8,810.3 757.4,811.8 758.0,813.0 758.6,814.8 759.2,814.1 759.8,811.7 760.4,807.8 761.0,813.0 761.6,810.3 762.2,806.6 762.8,805.6 763.4,808.9 764.0,808.5 764.6,808.9 765.2,802.9 765.8,809.7 766.4,799.6 767.0,802.5 767.6,803.9 768.2,801.3 768.8,795.4 769.4,795.6 770.0,793.4 770.6,789.3 771.2,784.3 771.8,781.7 772.4,776.1 773.0,772.5 773.6,767.7 774.2,763.9 774.8,760.3 775.4,757.7 776.0,755.0 776.6,754.8 777.2,755.7 777.8,756.9 778.4,760.0 779.0,763.7 779.6,767.7 780.2,772.7 780.8,777.9 781.4,783.0 782.0,788.6 782.6,793.4 783.2,795.6 783.8,799.3 784.4,801.5 785.0,803.0 785.6,812.1 786.2,813.4 786.8,810.6 787.4,817.2 788.0,824.2 788.6,822.6 789.2,824.4 789.8,825.1 790.4,823.8 791.0,823.9 791.6,825.9 792.2,829.7 792.8,829.8 793.4,833.4 794.0,837.4 794.6,835.2 795.2,836.8 795.8,834.3 796.4,832.4 797.0,842.2 797.6,839.5 798.2,841.3 798.8,837.3 799.4,833.9 800.0,842.7 800.6,833.9 801.2,838.8 801.8,837.9 802.4,840.2 803.0,842.0 803.6,842.1 804.2,834.6 804.8,842.8 805.4,834.8 806.0,842.1 806.6,839.0 807.2,837.0 807.8,838.8 808.4,836.6 809.0,840.5 809.6,843.3 810.2,842.9 810.8,840.8 811.4,843.9 812.0,842.2 812.6,846.4 813.2,842.4 813.8,839.2 814.4,840.1 815.0,838.8 815.6,840.2 816.2,840.7 816.8,843.2 817.4,843.6 818.0,841.5 818.6,842.7 819.2,839.4 819.8,840.0 820.4,836.3 821.0,839.5 821.6,840.4 822.2,847.6 822.8,838.2 823.4,842.5 824.0,841.4 824.6,837.9 825.2,843.5 825.8,842.9 826.4,838.8 827.0,837.8 827.6,843.2 828.2,839.3 828.8,845.7 829.4,843.1 830.0,845.6 830.6,843.3 831.2,848.9 831.8,846.6 832.4,849.2 833.0,845.2 833.6,842.0 834.2,841.0 834.8,843.8 835.4,846.2 836.0,843.6 836.6,851.1 837.2,845.5 837.8,847.1 838.4,846.0 839.0,842.1 839.6,849.0 840.2,847.8 840.8,848.4 841.4,843.1 842.0,846.0 842.6,845.8 843.2,849.4 843.8,841.9 844.4,847.9 845.0,849.7 845.6,844.7 846.2,843.5 846.8,849.9 847.4,846.7 848.0,849.3 848.6,848.2 849.2,849.1 849.8,845.4 850.4,840.3 851.0,847.7 851.6,843.9 852.2,847.8 852.8,844.4 853.4,850.8 854.0,845.2 854.6,848.4 855.2,849.2 855.8,845.7 856.4,846.9 857.0,845.9 857.6,843.2 858.2,850.3 858.8,843.2 859.4,841.2 860.0,844.4 860.6,846.2 861.2,846.0 861.8,844.8 862.4,844.5 863.0,840.2 863.6,847.6 864.2,850.9 864.8,843.6 865.4,840.4 866.0,848.0 866.6,845.2 867.2,840.1 867.8,843.5 868.4,841.4 869.0,842.2 869.6,851.1 870.2,848.6 870.8,845.2 871.4,845.7 872.0,850.4 872.6,842.4 873.2,847.9 873.8,843.8 874.4,848.1 875.0,846.3 875.6,843.4 876.2,848.8 876.8,847.2 877.4,851.0 878.0,844.4 878.6,846.0 879.2,843.5 879.8,849.2 880.4,843.3 881.0,845.5 881.6,849.5 882.2,847.1 882.8,846.4 883.4,846.3 884.0,846.5 884.6,847.4 885.2,844.6 885.8,839.8 886.4,849.5 887.0,842.3 887.6,850.8 888.2,846.3 888.8,850.8 889.4,849.0 890.0,846.7 890.6,848.2 891.2,841.2 891.8,845.9 892.4,844.3 893.0,845.4 893.6,839.8 894.2,839.8 894.8,847.5 895.4,845.5 896.0,844.0 896.6,845.0 897.2,843.3 897.8,843.8 898.4,847.3 899.0,844.6 899.6,847.4 900.2,843.1 900.8,839.8 901.4,843.3 902.0,844.8 902.6,841.9 903.2,844.1 903.8,843.8 904.4,848.1 905.0,847.8 905.6,848.6 906.2,843.0 906.8,846.3 907.4,849.2 908.0,845.9 908.6,845.2 909.2,843.1 909.8,847.9 910.4,846.0 911.0,848.5 911.6,845.1 912.2,851.1 912.8,845.5 913.4,841.9 914.0,846.2 914.6,847.1 915.2,849.6 915.8,844.3 916.4,844.1 917.0,845.0 917.6,844.7 918.2,840.4 918.8,848.1 919.4,849.7 920.0,843.7 920.6,843.0 921.2,845.6 921.8,843.6 922.4,848.5 923.0,844.3 923.6,848.0 924.2,842.5 924.8,842.0 925.4,841.6 926.0,842.1 926.6,847.7 927.2,849.0 927.8,846.9 928.4,847.1 929.0,841.0 929.6,849.9 930.2,842.9 930.8,850.5 931.4,852.1 932.0,846.8 932.6,848.6 933.2,848.6 933.8,842.8 934.4,843.4 935.0,844.7 935.6,847.3 936.2,849.3 936.8,847.2 937.4,850.1 938.0,845.3 938.6,842.6 939.2,847.0 939.8,846.7 940.4,842.6 941.0,850.0 941.6,844.0 942.2,844.7 942.8,847.6 943.4,843.7 944.0,848.7 944.6,848.1 945.2,848.2 945.8,846.9 946.4,845.5 947.0,844.6 947.6,847.8 948.2,850.9 948.8,849.1 949.4,847.8 950.0,849.7 950.6,850.5 951.2,842.6 951.8,846.0 952.4,849.5 953.0,843.5 953.6,843.5 954.2,846.1 954.8,843.0 955.4,846.6 956.0,841.5 956.6,843.9 957.2,847.5 957.8,845.9 958.4,839.0 959.0,840.6 959.6,841.4 960.2,844.9 960.8,841.4 961.4,847.6 962.0,851.4 962.6,851.2 963.2,844.4 963.8,846.0 964.4,846.0 965.0,844.5 965.6,852.1 966.2,845.0 966.8,843.8 967.4,848.2 968.0,848.1 968.6,851.7 969.2,851.7 969.8,846.6 970.4,841.6 971.0,849.2 971.6,849.6 972.2,852.6 972.8,842.6 973.4,843.8 974.0,851.9 974.6,852.1 975.2,851.1 975.8,847.2 976.4,851.1 977.0,845.6 977.6,843.6 978.2,847.1 978.8,847.6 979.4,849.7 980.0,850.5 980.6,842.1 981.2,848.1 981.8,848.8 982.4,843.6 983.0,846.6 983.6,847.5 984.2,848.7 984.8,844.8 985.4,845.6 986.0,844.2 986.6,848.5 987.2,846.5 987.8,845.7 988.4,849.4 989.0,847.0 989.6,844.0 990.2,851.0 990.8,850.5 991.4,849.0 992.0,844.6 992.6,851.0 993.2,846.0 993.8,842.3 994.4,847.4 995.0,853.1 995.6,846.4 996.2,849.5 996.8,851.8 997.4,848.4 998.0,846.9 998.6,847.9 999.2,849.5 999.8,846.3 1000.4,848.9 1001.0,849.5 1001.6,846.7 1002.2,850.0 1002.8,849.5 1003.4,846.9 1004.0,847.3 1004.6,848.2 1005.2,847.4 1005.8,847.2 1006.4,844.8 1007.0,848.2 1007.6,850.0 1008.2,849.7 1008.8,845.4 1009.4,849.5 1010.0,849.6 1010.6,845.2 1011.2,849.4 1011.8,847.3 1012.4,846.8 1013.0,848.5 1013.6,847.2 1014.2,842.5 1014.8,848.5 1015.4,844.6 1016.0,847.6 1016.6,849.8 1017.2,847.2 1017.8,846.5 1018.4,848.2 1019.0,849.3 1019.6,845.4 1020.2,846.0 1020.8,849.3 1021.4,852.5 1022.0,847.8 1022.6,850.4 1023.2,845.7 1023.8,847.9 1024.4,848.0 1025.0,844.1 1025.6,847.8 1026.2,847.3 1026.8,842.5 1027.4,847.5 1028.0,848.6 1028.6,848.5 1029.2,848.7 1029.8,844.5 1030.4,845.6 1031.0,847.2 1031.6,845.2 1032.2,846.4 1032.8,851.3 1033.4,845.2 1034.0,846.7 1034.6,853.0 1035.2,847.4 1035.8,844.9 1036.4,848.5 1037.0,848.3 1037.6,848.2 1038.2,843.0 1038.8,848.6 1039.4,848.9 1040.0,853.5 1040.6,849.8 1041.2,846.6 1041.8,848.8 1042.4,849.8 1043.0,847.5 1043.6,847.8 1044.2,851.9 1044.8,849.4 1045.4,849.4 1046.0,845.2 1046.6,849.2 1047.2,842.6 1047.8,851.6 1048.4,846.7 1049.0,849.9 1049.6,852.1 1050.2,845.0 1050.8,851.4 1051.4,848.8 1052.0,851.4 1052.6,847.1 1053.2,846.2 1053.8,851.9 1054.4,849.4 1055.0,848.3 1055.6,844.9 1056.2,851.9 1056.8,847.2 1057.4,847.5 1058.0,846.2 1058.6,848.2 1059.2,849.9 1059.8,848.0 1060.4,847.9 1061.0,846.6 1061.6,852.4 1062.2,852.8 1062.8,847.3 1063.4,845.6 1064.0,848.9 1064.6,843.5 1065.2,848.8 1065.8,848.9 1066.4,848.6 1067.0,852.7 1067.6,853.3 1068.2,849.4 1068.8,847.1 1069.4,851.0 1070.0,851.4 1070.6,844.7 1071.2,846.0 1071.8,847.4 1072.4,843.4 1073.0,844.9 1073.6,852.8 1074.2,844.5 1074.8,850.5 1075.4,845.8 1076.0,850.9 1076.6,849.0 1077.2,850.7 1077.8,844.1 1078.4,848.9 1079.0,846.5 1079.6,850.3 1080.2,850.1 1080.8,848.6 1081.4,847.7 1082.0,848.1 1082.6,848.8 1083.2,846.6 1083.8,846.8 1084.4,846.2 1085.0,845.1 1085.6,851.0 1086.2,844.3 1086.8,851.8 1087.4,850.1 1088.0,843.2 1088.6,842.8 1089.2,848.1 1089.8,845.0 1090.4,848.5 1091.0,850.8 1091.6,849.1 1092.2,847.4 1092.8,847.5 1093.4,852.3 1094.0,847.0 1094.6,853.0 1095.2,853.4 1095.8,847.0 1096.4,848.9 1097.0,853.0 1097.6,846.1 1098.2,849.3 1098.8,851.1 1099.4,845.2 1100.0,849.2 1100.6,848.5 1101.2,846.7 1101.8,852.6 1102.4,847.8 1103.0,853.4 1103.6,850.2 1104.2,846.2 1104.8,848.9 1105.4,846.0 1106.0,850.5 1106.6,850.1 1107.2,844.8 1107.8,847.0 1108.4,849.5 1109.0,848.3 1109.6,845.4 1110.2,851.3 1110.8,852.0 1111.4,843.9 1112.0,852.3 1112.6,842.4 1113.2,847.7 1113.8,846.2 1114.4,846.5 1115.0,848.6 1115.6,844.8 1116.2,847.8 1116.8,852.8 1117.4,849.3 1118.0,852.3 1118.6,850.5 1119.2,843.4 1119.8,853.1 1120.4,850.5 1121.0,849.9 1121.6,847.0 1122.2,846.6 1122.8,845.1 1123.4,847.6 1124.0,848.3 1124.6,847.6 1125.2,847.6 1125.8,842.5 1126.4,845.9 1127.0,845.8 1127.6,848.8 1128.2,846.7 1128.8,846.7 1129.4,848.2 1130.0,846.6 1130.6,847.1 1131.2,851.0 1131.8,847.5 1132.4,845.3 1133.0,849.6 1133.6,850.2 1134.2,849.7 1134.8,844.2 1135.4,850.5 1136.0,848.0 1136.6,848.2 1137.2,848.1 1137.8,849.1 1138.4,849.2 1139.0,852.0 1139.6,848.5 1140.2,847.6 1140.8,849.6 1141.4,847.5 1142.0,850.9 1142.6,848.2 1143.2,849.9 1143.8,846.3 1144.4,850.5 1145.0,849.5 1145.6,845.3 1146.2,846.6 1146.8,847.9 1147.4,844.0 1148.0,844.6 1148.6,849.0 1149.2,849.0 1149.8,851.3 1150.4,843.9 1151.0,846.5 1151.6,841.8 1152.2,852.3 1152.8,843.7 1153.4,846.6 1154.0,852.6 1154.6,851.2 1155.2,844.8 1155.8,852.5 1156.4,848.3 1157.0,844.1 1157.6,847.7 1158.2,848.6 1158.8,848.5 1159.4,841.0 1160.0,851.7 1160.6,841.9 1161.2,845.6 1161.8,850.1 1162.4,847.0 1163.0,845.5 1163.6,843.7 1164.2,846.7 1164.8,848.5 1165.4,842.7 1166.0,844.9 1166.6,842.1 1167.2,841.3 1167.8,836.1 1168.4,841.6 1169.0,842.6 1169.6,838.5 1170.2,840.7 1170.8,837.0 1171.4,838.7 1172.0,834.4 1172.6,831.7 1173.2,830.1 1173.8,830.6 1174.4,830.2 1175.0,826.5 1175.6,827.9 1176.2,824.6 1176.8,824.9 1177.4,831.1 1178.0,831.3 1178.6,833.9 1179.2,833.1 1179.8,834.8 1180.4,840.7 1181.0,834.6 1181.6,839.0 1182.2,843.9 1182.8,845.9 1183.4,843.3 1184.0,842.3 1184.6,840.6 1185.2,843.8 1185.8,845.4 1186.4,845.6 1187.0,847.5 1187.6,848.1 1188.2,845.6 1188.8,844.7 1189.4,846.7 1190.0,849.0 1190.6,852.5 1191.2,843.6 1191.8,851.3 1192.4,847.7 1193.0,851.6 1193.6,853.9 1194.2,850.2 1194.8,845.7 1195.4,847.8 1196.0,850.1 1196.6,848.2 1197.2,849.0 1197.8,847.1 1198.4,848.7 1199.0,847.6 1199.6,851.7 1200.2,850.2 1200.8,851.5 1201.4,844.9 1202.0,848.2 1202.6,847.4 1203.2,848.3 1203.8,847.1 1204.4,847.6 1205.0,854.0 1205.6,848.9 1206.2,846.1 1206.8,848.8 1207.4,855.1 1208.0,851.6 1208.6,847.1 1209.2,849.0 1209.8,849.5 1210.4,849.8 1211.0,844.6 1211.6,847.1 1212.2,849.3 1212.8,845.0 1213.4,849.3 1214.0,850.0 1214.6,851.9 1215.2,852.7 1215.8,849.3 1216.4,850.4 1217.0,851.7 1217.6,852.6 1218.2,850.0 1218.8,847.8 1219.4,851.5 1220.0,852.2 1220.6,850.3 1221.2,851.4 1221.8,854.3 1222.4,848.5 1223.0,847.9 1223.6,846.9 1224.2,850.9 1224.8,852.5 1225.4,848.5 1226.0,854.9 1226.6,848.3 1227.2,850.7 1227.8,849.6 1228.4,853.8 1229.0,848.2 1229.6,854.5 1230.2,849.5 1230.8,846.3 1231.4,848.4 1232.0,849.5 1232.6,854.6 1233.2,848.6 1233.8,850.0 1234.4,855.4 1235.0,850.4 1235.6,848.2 1236.2,847.9 1236.8,845.7 1237.4,851.0 1238.0,853.3 1238.6,849.0 1239.2,847.0 1239.8,850.7 1240.4,850.0 1241.0,849.6 1241.6,851.2 1242.2,850.0 1242.8,848.9 1243.4,852.7 1244.0,844.8 1244.6,846.8 1245.2,849.1 1245.8,846.1 1246.4,854.1 1247.0,844.4 1247.6,851.8 1248.2,851.5 1248.8,850.8 1249.4,851.1 1250.0,848.3 1250.6,847.9 1251.2,853.8 1251.8,849.5 1252.4,845.8 1253.0,846.4 1253.6,845.6 1254.2,850.6 1254.8,853.0 1255.4,849.0 1256.0,850.3 1256.6,848.5 1257.2,852.3 1257.8,852.3 1258.4,852.5 1259.0,854.9 1259.6,846.5 1260.2,852.2 1260.8,845.6 1261.4,852.0 1262.0,852.2 1262.6,852.0 1263.2,852.2 1263.8,849.7 1264.4,848.3 1265.0,852.2 1265.6,848.3 1266.2,852.0 1266.8,847.7 1267.4,851.0 1268.0,850.9 1268.6,847.8 1269.2,849.2 1269.8,852.6 1270.4,850.2 1271.0,851.5 1271.6,848.6 1272.2,850.4 1272.8,846.1 1273.4,848.0 1274.0,853.6 1274.6,851.6 1275.2,850.2 1275.8,850.5 1276.4,846.4 1277.0,851.3 1277.6,846.7 1278.2,848.1 1278.8,852.0 1279.4,848.1 1280.0,848.7 1280.6,849.8 1281.2,850.3 1281.8,853.7 1282.4,845.3 1283.0,848.9 1283.6,851.6 1284.2,848.7 1284.8,848.9 1285.4,847.8 1286.0,849.2 1286.6,851.8 1287.2,853.4 1287.8,851.0 1288.4,853.8 1289.0,850.3 1289.6,845.4 1290.2,852.1 1290.8,844.4 1291.4,849.8 1292.0,850.0 1292.6,846.9 1293.2,849.4 1293.8,848.5 1294.4,850.4 1295.0,849.2 1295.6,851.7 1296.2,848.9 1296.8,851.7 1297.4,850.0 1298.0,850.7 1298.6,850.3 1299.2,848.7 1299.8,853.1 1300.4,851.6 1301.0,844.5 1301.6,846.6 1302.2,854.7 1302.8,849.2 1303.4,855.5 1304.0,851.2 1304.6,851.2 1305.2,848.7 1305.8,849.4 1306.4,850.4 1307.0,852.5 1307.6,850.3 1308.2,849.9 1308.8,847.3 1309.4,848.7 1310.0,848.8 1310.6,849.6 1311.2,847.9 1311.8,846.9 1312.4,849.1 1313.0,844.5 1313.6,845.7 1314.2,847.6 1314.8,850.9 1315.4,847.9 1316.0,846.8 1316.6,851.6 1317.2,849.4 1317.8,853.4 1318.4,849.1 1319.0,847.8 1319.6,848.7 1320.2,854.5 1320.8,853.8 1321.4,850.1 1322.0,852.5 1322.6,845.8 1323.2,853.0 1323.8,850.6 1324.4,849.4 1325.0,849.7 1325.6,850.3 1326.2,848.4 1326.8,848.5 1327.4,846.3 1328.0,853.8 1328.6,847.1 1329.2,849.1 1329.8,852.3 1330.4,852.8 1331.0,853.3 1331.6,847.8 1332.2,848.2 1332.8,849.2 1333.4,844.5 1334.0,851.7 1334.6,844.8 1335.2,848.9 1335.8,851.7 1336.4,851.5 1337.0,848.0 1337.6,851.7 1338.2,852.2 1338.8,844.6 1339.4,848.5 1340.0,851.0 1340.6,850.4 1341.2,848.6 1341.8,848.9 1342.4,855.5 1343.0,848.2 1343.6,852.1 1344.2,846.0 1344.8,850.7 1345.4,852.1 1346.0,848.1 1346.6,847.6 1347.2,854.4 1347.8,848.8 1348.4,852.2 1349.0,845.5 1349.6,854.1 1350.2,844.5 1350.8,847.0 1351.4,847.9 1352.0,849.4 1352.6,850.1 1353.2,854.0 1353.8,855.3 1354.4,854.8 1355.0,851.9 1355.6,850.3 1356.2,844.5 1356.8,849.5 1357.4,848.2 1358.0,851.5 1358.6,847.0 1359.2,847.5 1359.8,847.7 1360.4,851.5 1361.0,850.2 1361.6,847.0 1362.2,845.1 1362.8,848.2 1363.4,848.0 1364.0,848.3 1364.6,850.0 1365.2,851.8 1365.8,851.9 1366.4,848.0 1367.0,847.7 1367.6,853.9 1368.2,849.2 1368.8,851.8 1369.4,850.4 1370.0,850.9 1370.6,854.2 1371.2,849.2 1371.8,852.9 1372.4,851.3 1373.0,849.5 1373.6,848.6 1374.2,848.5 1374.8,853.1 1375.4,852.7 1376.0,847.6 1376.6,851.0 1377.2,845.0 1377.8,850.1 1378.4,855.5 1379.0,846.7 1379.6,850.8 1380.2,848.3 1380.8,850.2 1381.4,847.1 1382.0,850.5 1382.6,844.5 1383.2,849.2 1383.8,849.1 1384.4,849.7 1385.0,855.5 1385.6,846.7 1386.2,848.0 1386.8,846.2 1387.4,851.3 1388.0,849.9 1388.6,846.7 1389.2,852.5 1389.8,850.6 1390.4,853.8 1391.0,852.0 1391.6,850.1 1392.2,847.7 1392.8,844.5 1393.4,848.2 1394.0,853.0 1394.6,849.2 1395.2,847.5 1395.8,850.5 1396.4,851.8 1397.0,855.5 1397.6,847.1 1398.2,848.8 1398.8,846.7 1399.4,847.8 1400.0,852.3 1400.6,849.5 1401.2,845.7 1401.8,853.5 1402.4,854.7 1403.0,851.9 1403.6,847.0 1404.2,846.8 1404.8,853.3 1405.4,846.9 1406.0,848.1 1406.6,845.7 1407.2,855.0 1407.8,847.8 1408.4,849.2 1409.0,847.6 1409.6,847.8 1410.2,846.4 1410.8,852.7 1411.4,847.7 1412.0,853.6 1412.6,846.0 1413.2,850.9 1413.8,852.2 1414.4,846.3 1415.0,850.2 1415.6,847.9 1416.2,846.4 1416.8,848.3 1417.4,844.3 1418.0,848.6 1418.6,845.1 1419.2,851.2 1419.8,853.6 1420.4,853.3 1421.0,847.3 1421.6,848.9 1422.2,854.8 1422.8,852.9 1423.4,851.1 1424.0,844.1 1424.6,848.3 1425.2,855.1 1425.8,850.5 1426.4,848.0 1427.0,849.5 1427.6,855.1 1428.2,852.8 1428.8,845.6 1429.4,846.0 1430.0,849.3 1430.6,852.8 1431.2,847.0 1431.8,847.5 1432.4,843.9 1433.0,847.3 1433.6,850.7 1434.2,850.7 1434.8,844.8 1435.4,851.1 1436.0,846.5 1436.6,844.8 1437.2,850.2 1437.8,844.1 1438.4,847.3 1439.0,846.1 1439.6,848.2 1440.2,849.2 1440.8,847.2 1441.4,846.1 1442.0,847.0 1442.6,843.5 1443.2,848.1 1443.8,854.2 1444.4,849.4 1445.0,851.7 1445.6,848.5 1446.2,848.5 1446.8,849.7 1447.4,850.4 1448.0,850.3 1448.6,846.1 1449.2,848.5 1449.8,844.1 1450.4,851.3 1451.0,848.3 1451.6,847.5 1452.2,844.7 1452.8,849.6 1453.4,851.1 1454.0,849.7 1454.6,851.4 1455.2,846.0 1455.8,850.8 1456.4,848.2 1457.0,842.9 1457.6,848.9 1458.2,845.3 1458.8,847.7 1459.4,846.2 1460.0,845.6 1460.6,851.1 1461.2,846.5 1461.8,848.5 1462.4,850.0 1463.0,846.9 1463.6,844.4 1464.2,848.1 1464.8,847.7 1465.4,845.4 1466.0,848.2 1466.6,851.6 1467.2,850.7 1467.8,852.3 1468.4,851.8 1469.0,848.4 1469.6,847.9 1470.2,844.7 1470.8,851.2 1471.4,846.1 1472.0,849.4 1472.6,852.5 1473.2,848.0 1473.8,843.4 1474.4,844.7 1475.0,846.6 1475.6,851.4 1476.2,846.6 1476.8,847.1 1477.4,844.4 1478.0,848.4 1478.6,847.7 1479.2,849.7 1479.8,844.6 1480.4,849.0 1481.0,843.2 1481.6,845.3 1482.2,845.6 1482.8,846.5 1483.4,848.2 1484.0,841.6 1484.6,846.8 1485.2,845.8 1485.8,843.1 1486.4,846.0 1487.0,848.2 1487.6,845.5 1488.2,845.4 1488.8,848.8 1489.4,844.6 1490.0,849.8 1490.6,847.8 1491.2,848.0 1491.8,848.4 1492.4,850.3 1493.0,844.6 1493.6,849.9 1494.2,844.1 1494.8,847.7 1495.4,848.3 1496.0,847.0 1496.6,843.3 1497.2,843.0 1497.8,843.3 1498.4,846.3 1499.0,846.9 1499.6,848.0 1500.2,842.0 1500.8,847.3 1501.4,849.3 1502.0,846.8 1502.6,846.3 1503.2,848.6 1503.8,850.8 1504.4,850.5 1505.0,850.6 1505.6,842.6 1506.2,850.3 1506.8,845.3 1507.4,848.6 1508.0,844.4 1508.6,847.2 1509.2,844.5 1509.8,845.3 1510.4,851.5 1511.0,842.6 1511.6,848.8 1512.2,846.2 1512.8,842.8 1513.4,849.7 1514.0,846.1 1514.6,844.3 1515.2,846.9 1515.8,843.6 1516.4,850.7 1517.0,841.6 1517.6,844.4 1518.2,840.1 1518.8,846.5 1519.4,848.1 1520.0,848.4 1520.6,850.2 1521.2,845.7 1521.8,844.4 1522.4,848.4 1523.0,844.0 1523.6,846.7 1524.2,844.3 1524.8,843.6 1525.4,845.5 1526.0,848.9 1526.6,848.2 1527.2,846.0 1527.8,839.8 1528.4,845.6 1529.0,846.7 1529.6,847.2 1530.2,843.5 1530.8,848.5 1531.4,846.5 1532.0,840.1 1532.6,847.7 1533.2,850.2 1533.8,846.3 1534.4,843.2 1535.0,850.7 1535.6,848.4 1536.2,840.2 1536.8,848.5 1537.4,846.6 1538.0,846.2 1538.6,840.3 1539.2,840.5 1539.8,845.8 1540.4,850.6 1541.0,845.8 1541.6,845.5 1542.2,843.5 1542.8,844.1 1543.4,848.2 1544.0,843.0 1544.6,850.5 1545.2,846.5 1545.8,846.0 1546.4,844.7 1547.0,842.9 1547.6,844.3 1548.2,840.8 1548.8,845.1 1549.4,839.4 1550.0,850.4 1550.6,844.6 1551.2,840.3 1551.8,845.5 1552.4,845.0 1553.0,843.1 1553.6,845.4 1554.2,842.3 1554.8,844.2 1555.4,844.0 1556.0,846.0 1556.6,842.9 1557.2,845.4 1557.8,839.2 1558.4,847.6 1559.0,845.0 1559.6,846.1 1560.2,843.8 1560.8,847.0 1561.4,844.4 1562.0,845.1 1562.6,844.7 1563.2,842.9 1563.8,841.8 1564.4,845.9 1565.0,846.1 1565.6,844.1 1566.2,847.8 1566.8,844.5 1567.4,845.5 1568.0,847.1 1568.6,845.9 1569.2,843.1 1569.8,840.4 1570.4,841.1 1571.0,840.0 1571.6,845.1 1572.2,837.1 1572.8,847.8 1573.4,839.3 1574.0,844.6 1574.6,842.0 1575.2,842.2 1575.8,836.4 1576.4,842.6 1577.0,838.9 1577.6,840.4 1578.2,835.3 1578.8,837.3 1579.4,834.8 1580.0,837.2 1580.6,837.8 1581.2,834.6 1581.8,836.1 1582.4,836.0 1583.0,834.0 1583.6,833.3 1584.2,828.5 1584.8,837.1 1585.4,834.7 1586.0,833.8 1586.6,835.5 1587.2,833.8 1587.8,834.9 1588.4,837.8 1589.0,832.6 1589.6,836.7 1590.2,838.9 1590.8,834.3 1591.4,836.3 1592.0,843.6 1592.6,846.0 1593.2,842.0 1593.8,843.5 1594.4,839.6 1595.0,846.4 1595.6,842.7 1596.2,843.5 1596.8,844.8 1597.4,842.2 1598.0,842.1 1598.6,844.3 1599.2,841.5 1599.8,843.1 1600.4,839.3 1601.0,842.1 1601.6,846.5 1602.2,848.4 1602.8,847.1 1603.4,843.0 1604.0,845.7 1604.6,842.8 1605.2,842.5 1605.8,848.5 1606.4,844.6 1607.0,844.8 1607.6,846.3 1608.2,848.5 1608.8,846.2 1609.4,845.2 1610.0,846.9 1610.6,845.7 1611.2,845.1 1611.8,840.4 1612.4,843.5 1613.0,845.7 1613.6,843.2 1614.2,851.5 1614.8,851.5 1615.4,851.1 1616.0,843.7 1616.6,847.7 1617.2,847.5 1617.8,847.3 1618.4,841.8 1619.0,849.0 1619.6,851.2 1620.2,848.7 1620.8,851.6 1621.4,845.6 1622.0,848.4 1622.6,850.2 1623.2,843.9 1623.8,846.2 1624.4,844.4 1625.0,849.1 1625.6,843.3 1626.2,847.4 1626.8,845.0 1627.4,849.1 1628.0,845.1 1628.6,846.1 1629.2,847.3 1629.8,844.4 1630.4,845.3 1631.0,845.9 1631.6,845.1 1632.2,847.3 1632.8,844.3 1633.4,846.7 1634.0,845.6 1634.6,844.6 1635.2,843.2 1635.8,841.0 1636.4,844.3 1637.0,847.8 1637.6,845.3 1638.2,850.5 1638.8,843.4 1639.4,845.1 1640.0,841.6 1640.6,849.3 1641.2,842.3 1641.8,847.3 1642.4,846.9 1643.0,851.6 1643.6,849.9 1644.2,848.3 1644.8,846.5 1645.4,851.4 1646.0,845.1 1646.6,842.6 1647.2,848.6 1647.8,845.9 1648.4,844.1 1649.0,847.1 1649.6,847.5 1650.2,841.7 1650.8,848.9 1651.4,851.5 1652.0,845.0 1652.6,841.8 1653.2,846.8 1653.8,845.7 1654.4,848.3 1655.0,848.7 1655.6,845.7 1656.2,850.4 1656.8,840.6 1657.4,844.1 1658.0,846.6 1658.6,847.2 1659.2,845.8 1659.8,847.4 1660.4,842.4 1661.0,840.5 1661.6,848.4 1662.2,849.9 1662.8,846.1 1663.4,842.7 1664.0,844.1 1664.6,847.8 1665.2,846.7 1665.8,849.9 1666.4,850.8 1667.0,849.6 1667.6,845.4 1668.2,849.1 1668.8,847.5 1669.4,846.7 1670.0,846.6 1670.6,845.8 1671.2,843.1 1671.8,847.1 1672.4,843.8 1673.0,845.9 1673.6,848.3 1674.2,848.2 1674.8,840.6 1675.4,844.0 1676.0,842.8 1676.6,846.7 1677.2,843.8 1677.8,848.6 1678.4,844.6 1679.0,847.2 1679.6,843.0 1680.2,843.7 1680.8,845.0 1681.4,847.0 1682.0,840.2 1682.6,846.0 1683.2,841.6 1683.8,846.2 1684.4,840.5 1685.0,844.4 1685.6,849.1 1686.2,849.8 1686.8,842.7 1687.4,850.5 1688.0,844.3 1688.6,845.6 1689.2,847.0 1689.8,845.8 1690.4,846.5 1691.0,846.0 1691.6,847.9 1692.2,846.0 1692.8,844.1 1693.4,842.5 1694.0,842.3 1694.6,845.1 1695.2,847.3 1695.8,846.2 1696.4,844.3 1697.0,846.4 1697.6,843.5 1698.2,845.4 1698.8,846.4 1699.4,843.9 1700.0,848.8 1700.6,848.1 1701.2,844.0 1701.8,846.6 1702.4,845.3 1703.0,845.6 1703.6,845.5 1704.2,848.2 1704.8,845.3 1705.4,845.1 1706.0,846.8 1706.6,846.6 1707.2,848.7 1707.8,841.4 1708.4,845.4 1709.0,838.0 1709.6,843.1 1710.2,839.1 1710.8,838.7 1711.4,841.8 1712.0,838.7 1712.6,840.6 1713.2,835.5 1713.8,844.5 1714.4,834.7 1715.0,837.9 1715.6,844.2 1716.2,835.1 1716.8,843.4 1717.4,841.3 1718.0,837.5 1718.6,836.3 1719.2,836.2 1719.8,837.6 1720.4,839.3 1721.0,840.2 1721.6,830.8 1722.2,838.8 1722.8,838.1 1723.4,833.0 1724.0,839.2 1724.6,839.6 1725.2,839.8 1725.8,837.4 1726.4,840.2 1727.0,841.8 1727.6,836.9 1728.2,837.8 1728.8,838.0 1729.4,843.4 1730.0,840.5 1730.6,838.8 1731.2,838.4 1731.8,838.0 1732.4,842.6 1733.0,844.7 1733.6,846.3 1734.2,840.1 1734.8,840.5 1735.4,840.8 1736.0,841.3 1736.6,839.6 1737.2,848.5 1737.8,845.6 1738.4,843.0 1739.0,839.1 1739.6,848.5 1740.2,847.0 1740.8,845.2 1741.4,847.0 1742.0,843.1 1742.6,846.9 1743.2,843.6 1743.8,846.5 1744.4,844.8 1745.0,841.6 1745.6,842.3 1746.2,848.5 1746.8,848.3 1747.4,844.9 1748.0,843.5 1748.6,844.2 1749.2,846.6 1749.8,841.6 1750.4,848.3 1751.0,843.3 1751.6,842.4 1752.2,845.6 1752.8,851.1 1753.4,843.7 1754.0,844.6 1754.6,842.4 1755.2,846.4 1755.8,846.5 1756.4,845.7 1757.0,844.7 1757.6,846.8 1758.2,848.1 1758.8,844.5 1759.4,845.1 1760.0,844.0 1760.6,844.2 1761.2,849.2 1761.8,843.0 1762.4,846.3 1763.0,848.8 1763.6,844.4 1764.2,847.5 1764.8,848.0 1765.4,841.7 1766.0,848.6 1766.6,843.0 1767.2,846.2 1767.8,841.5 1768.4,841.3 1769.0,845.2 1769.6,850.5 1770.2,851.6 1770.8,851.7 1771.4,849.8 1772.0,849.4 1772.6,848.2 1773.2,847.9 1773.8,845.0 1774.4,844.8 1775.0,847.3 1775.6,847.4 1776.2,844.3 1776.8,842.7 1777.4,844.0 1778.0,851.7 1778.6,844.1 1779.2,850.3 1779.8,849.6 1780.4,849.2 1781.0,844.4 1781.6,851.8 1782.2,847.0 1782.8,844.4 1783.4,844.1 1784.0,845.8 1784.6,851.8 1785.2,842.5 1785.8,844.2 1786.4,846.2 1787.0,847.6 1787.6,843.1 1788.2,843.3 1788.8,844.6 1789.4,848.1 1790.0,845.7 1790.6,845.5 1791.2,846.7 1791.8,846.5 1792.4,848.9 1793.0,844.1 1793.6,846.2 1794.2,844.3 1794.8,848.3 1795.4,848.6 1796.0,845.5 1796.6,849.6 1797.2,845.7 1797.8,850.2 1798.4,845.1 1799.0,845.0 1799.6,841.9 1800.2,843.3 1800.8,845.1 1801.4,840.8 1802.0,846.1 1802.6,848.7 1803.2,847.8 1803.8,846.8 1804.4,848.1 1805.0,844.6 1805.6,844.8 1806.2,848.6 1806.8,845.8 1807.4,849.1 1808.0,844.8 1808.6,848.2 1809.2,849.8 1809.8,846.0 1810.4,851.1 1811.0,850.7 1811.6,840.8 1812.2,851.9 1812.8,841.6 1813.4,851.9 1814.0,843.7 1814.6,840.8 1815.2,842.3 1815.8,847.6 1816.4,843.3"/>
<polygon fill="#0000ff" points="206.0,619.9 207.2,619.9 208.4,620.0 209.6,620.1 210.8,620.1 212.0,620.2 213.2,620.2 214.4,620.3 215.6,620.4 216.8,620.5 218.0,620.5 219.2,620.6 220.4,620.6 221.6,620.7 222.8,620.8 224.0,620.8 225.2,620.8 226.4,620.7 227.6,620.5 228.8,620.1 230.0,619.2 231.2,617.8 232.4,615.9 233.6,613.7 234.8,611.8 236.0,611.0 237.2,611.9 238.4,614.2 239.6,616.8 240.8,619.1 242.0,621.0 243.2,622.3 244.4,623.2 245.6,623.8 246.8,624.2 248.0,624.6 249.2,624.8 250.4,625.1 251.6,625.3 252.8,625.4 254.0,625.6 255.2,625.7 256.4,625.9 257.6,626.0 258.8,626.1 260.0,626.2 261.2,626.3 262.4,626.4 263.6,626.5 264.8,626.6 266.0,626.7 267.2,626.8 268.4,626.9 269.6,626.9 270.8,627.0 272.0,627.1 273.2,627.2 274.4,627.2 275.6,627.3 276.8,627.4 278.0,627.5 279.2,627.5 280.4,627.6 281.6,627.6 282.8,627.7 284.0,627.8 285.2,627.8 286.4,627.9 287.6,627.9 288.8,628.0 290.0,628.0 291.2,628.1 292.4,628.1 293.6,628.2 294.8,628.2 296.0,628.3 297.2,628.3 298.4,628.3 299.6,628.4 300.8,628.4 302.0,628.4 303.2,628.5 304.4,628.5 305.6,628.5 306.8,628.5 308.0,628.6 309.2,628.6 310.4,628.6 311.6,628.6 312.8,628.6 314.0,628.6 315.2,628.6 316.4,628.6 317.6,628.6 318.8,628.6 320.0,628.6 321.2,628.6 322.4,628.6 323.6,628.6 324.8,628.5 326.0,628.3 327.2,628.0 328.4,627.3 329.6,626.2 330.8,624.3 332.0,621.8 333.2,619.2 334.4,617.5 335.6,617.9 336.8,620.3 338.0,623.2 339.2,625.6 340.4,627.4 341.6,628.6 342.8,629.3 344.0,629.7 345.2,630.0 346.4,630.2 347.6,630.3 348.8,630.5 350.0,630.6 351.2,630.8 352.4,630.9 353.6,631.0 354.8,631.2 356.0,631.3 357.2,631.5 358.4,631.6 359.6,631.7 360.8,631.8 362.0,632.0 363.2,632.1 364.4,632.1 365.6,632.2 366.8,632.3 368.0,632.3 369.2,632.4 370.4,632.4 371.6,632.4 372.8,632.4 374.0,632.4 375.2,632.3 376.4,632.3 377.6,632.3 378.8,632.3 380.0,632.3 381.2,632.2 382.4,632.2 383.6,632.2 384.8,632.1 386.0,632.1 387.2,632.0 388.4,632.0 389.6,631.9 390.8,631.9 392.0,631.8 393.2,631.7 394.4,631.5 395.6,631.3 396.8,631.1 398.0,630.8 399.2,630.5 400.4,630.1 401.6,629.8 402.8,629.4 404.0,629.0 405.2,628.6 406.4,628.1 407.6,627.7 408.8,627.2 410.0,626.7 411.2,626.2 412.4,625.6 413.6,624.8 414.8,624.0 416.0,623.2 417.2,622.3 418.4,621.5 419.6,620.6 420.8,619.8 422.0,619.0 423.2,618.3 424.4,617.5 425.6,616.8 426.8,615.9 428.0,615.2 429.2,614.5 430.4,613.9 431.6,613.4 432.8,613.1 434.0,612.5 435.2,611.8 436.4,610.5 437.6,608.8 438.8,606.3 440.0,603.0 441.2,599.3 442.4,595.6 443.6,593.2 444.8,593.2 446.0,595.7 447.2,599.5 448.4,603.3 449.6,606.7 450.8,609.3 452.0,611.1 453.2,612.4 454.4,613.3 455.6,613.9 456.8,614.3 458.0,614.7 459.2,615.0 460.4,615.3 461.6,615.6 462.8,615.9 464.0,616.3 465.2,616.6 466.4,617.0 467.6,617.4 468.8,617.8 470.0,618.1 471.2,618.5 472.4,618.8 473.6,619.1 474.8,619.4 476.0,619.7 477.2,619.9 478.4,620.2 479.6,620.4 480.8,620.7 482.0,620.9 483.2,621.1 484.4,621.4 485.6,621.6 486.8,621.8 488.0,622.1 489.2,622.3 490.4,622.5 491.6,622.8 492.8,623.0 494.0,623.2 495.2,623.4 496.4,623.7 497.6,623.9 498.8,624.1 500.0,624.3 501.2,624.5 502.4,624.7 503.6,624.9 504.8,625.1 506.0,625.3 507.2,625.5 508.4,625.7 509.6,625.8 510.8,626.0 512.0,626.2 513.2,626.3 514.4,626.5 515.6,626.6 516.8,626.8 518.0,626.9 519.2,627.1 520.4,627.2 521.6,627.3 522.8,627.4 524.0,627.5 525.2,627.6 526.4,627.7 527.6,627.8 528.8,627.8 530.0,627.9 531.2,628.0 532.4,628.0 533.6,628.1 534.8,628.1 536.0,628.2 537.2,628.2 538.4,628.2 539.6,628.3 540.8,628.3 542.0,628.3 543.2,628.4 544.4,628.4 545.6,628.4 546.8,628.4 548.0,628.4 549.2,628.5 550.4,628.5 551.6,628.5 552.8,628.5 554.0,628.5 555.2,628.5 556.4,628.5 557.6,628.5 558.8,628.5 560.0,628.4 561.2,628.3 562.4,628.1 563.6,627.7 564.8,626.9 566.0,625.4 567.2,622.9 568.4,619.5 569.6,615.5 570.8,612.5 572.0,612.3 573.2,615.1 574.4,619.2 575.6,623.0 576.8,625.7 578.0,627.5 579.2,628.6 580.4,629.1 581.6,629.5 582.8,629.7 584.0,629.8 585.2,629.9 586.4,629.9 587.6,629.9 588.8,629.8 590.0,629.6 591.2,629.4 592.4,629.0 593.6,628.3 594.8,627.1 596.0,624.8 597.2,621.4 598.4,616.7 599.6,611.8 600.8,608.6 602.0,609.3 603.2,613.4 604.4,618.4 605.6,622.7 606.8,625.8 608.0,627.7 609.2,628.8 610.4,629.4 611.6,629.7 612.8,630.0 614.0,630.1 615.2,630.2 616.4,630.3 617.6,630.4 618.8,630.5 620.0,630.5 621.2,630.6 622.4,630.6 623.6,630.6 624.8,630.5 626.0,630.5 627.2,630.4 628.4,630.4 629.6,630.3 630.8,630.2 632.0,630.0 633.2,629.9 634.4,629.8 635.6,629.6 636.8,629.4 638.0,629.3 639.2,629.1 640.4,628.9 641.6,628.7 642.8,628.6 644.0,628.4 645.2,628.2 646.4,628.0 647.6,627.8 648.8,627.6 650.0,627.4 651.2,627.2 652.4,627.0 653.6,626.8 654.8,626.6 656.0,626.4 657.2,626.3 658.4,626.1 659.6,625.9 660.8,625.8 662.0,625.6 663.2,625.5 664.4,625.4 665.6,625.2 666.8,625.1 668.0,625.0 669.2,624.8 670.4,624.7 671.6,624.6 672.8,624.5 674.0,624.3 675.2,624.2 676.4,624.1 677.6,624.0 678.8,623.8 680.0,623.7 681.2,623.5 682.4,623.4 683.6,623.3 684.8,623.1 686.0,622.9 687.2,622.8 688.4,622.6 689.6,622.4 690.8,622.2 692.0,622.0 693.2,621.8 694.4,621.6 695.6,621.4 696.8,621.2 698.0,620.9 699.2,620.6 700.4,620.4 701.6,620.0 702.8,619.6 704.0,619.1 705.2,618.6 706.4,617.9 707.6,617.3 708.8,616.5 710.0,615.7 711.2,614.9 712.4,614.0 713.6,613.1 714.8,612.2 716.0,611.2 717.2,610.1 718.4,609.1 719.6,608.0 720.8,607.0 722.0,605.9 723.2,604.8 724.4,603.7 725.6,602.6 726.8,601.4 728.0,600.3 729.2,599.3 730.4,598.2 731.6,597.1 732.8,596.1 734.0,595.1 735.2,594.1 736.4,593.1 737.6,592.2 738.8,591.3 740.0,590.5 741.2,589.7 742.4,589.0 743.6,588.2 744.8,587.5 746.0,586.7 747.2,586.0 748.4,585.2 749.6,584.4 750.8,583.5 752.0,582.6 753.2,581.6 754.4,580.6 755.6,579.6 756.8,578.6 758.0,577.5 759.2,576.4 760.4,575.3 761.6,573.9 762.8,572.4 764.0,570.5 765.2,568.0 766.4,564.5 767.6,557.8 768.8,548.0 770.0,535.0 771.2,519.4 772.4,502.6 773.6,487.7 774.8,479.0 776.0,479.8 777.2,490.0 778.4,506.2 779.6,524.1 780.8,540.9 782.0,555.2 783.2,566.3 784.4,575.3 785.6,582.8 786.8,589.9 788.0,596.4 789.2,601.7 790.4,605.6 791.6,608.9 792.8,612.0 794.0,614.9 795.2,617.5 796.4,619.8 797.6,621.7 798.8,623.1 800.0,624.0 801.2,624.7 802.4,625.2 803.6,625.8 804.8,626.2 806.0,626.6 807.2,627.0 808.4,627.4 809.6,627.7 810.8,628.0 812.0,628.3 813.2,628.5 814.4,628.7 815.6,628.9 816.8,629.1 818.0,629.3 819.2,629.5 820.4,629.7 821.6,629.9 822.8,630.1 824.0,630.2 825.2,630.4 826.4,630.5 827.6,630.7 828.8,630.8 830.0,630.9 831.2,631.1 832.4,631.2 833.6,631.3 834.8,631.4 836.0,631.5 837.2,631.6 838.4,631.7 839.6,631.8 840.8,631.8 842.0,631.9 843.2,631.9 844.4,632.0 845.6,632.0 846.8,631.9 848.0,631.8 849.2,631.5 850.4,631.1 851.6,630.5 852.8,629.7 854.0,628.7 855.2,627.7 856.4,626.8 857.6,626.4 858.8,626.6 860.0,627.4 861.2,628.6 862.4,629.8 863.6,631.0 864.8,631.9 866.0,632.6 867.2,633.2 868.4,633.6 869.6,633.8 870.8,634.0 872.0,634.2 873.2,634.3 874.4,634.4 875.6,634.5 876.8,634.6 878.0,634.7 879.2,634.7 880.4,634.8 881.6,634.8 882.8,634.8 884.0,634.9 885.2,634.9 886.4,634.9 887.6,635.0 888.8,635.0 890.0,635.0 891.2,635.0 892.4,635.0 893.6,635.1 894.8,635.1 896.0,635.1 897.2,635.1 898.4,635.1 899.6,635.2 900.8,635.2 902.0,635.2 903.2,635.2 904.4,635.2 905.6,635.2 906.8,635.2 908.0,635.3 909.2,635.3 910.4,635.3 911.6,635.3 912.8,635.3 914.0,635.3 915.2,635.3 916.4,635.3 917.6,635.3 918.8,635.4 920.0,635.4 921.2,635.4 922.4,635.4 923.6,635.4 924.8,635.4 926.0,635.4 927.2,635.4 928.4,635.4 929.6,635.4 930.8,635.4 932.0,635.4 933.2,635.4 934.4,635.4 935.6,635.4 936.8,635.4 938.0,635.4 939.2,635.4 940.4,635.3 941.6,635.3 942.8,635.3 944.0,635.3 945.2,635.2 946.4,635.2 947.6,635.1 948.8,635.0 950.0,634.8 951.2,634.5 952.4,634.1 953.6,633.4 954.8,632.5 956.0,631.6 957.2,630.9 958.4,630.8 959.6,631.3 960.8,632.2 962.0,633.1 963.2,633.9 964.4,634.4 965.6,634.8 966.8,635.0 968.0,635.1 969.2,635.2 970.4,635.2 971.6,635.3 972.8,635.3 974.0,635.3 975.2,635.3 976.4,635.4 977.6,635.4 978.8,635.4 980.0,635.4 981.2,635.4 982.4,635.4 983.6,635.5 984.8,635.5 986.0,635.5 987.2,635.6 988.4,635.7 989.6,635.7 990.8,635.8 992.0,635.9 993.2,635.9 994.4,636.0 995.6,636.1 996.8,636.2 998.0,636.3 999.2,636.4 1000.4,636.5 1001.6,636.6 1002.8,636.7 1004.0,636.8 1005.2,636.9 1006.4,637.0 1007.6,637.1 1008.8,637.2 1010.0,637.3 1011.2,637.4 1012.4,637.5 1013.6,637.6 1014.8,637.7 1016.0,637.7 1017.2,637.8 1018.4,637.9 1019.6,637.9 1020.8,638.0 1022.0,638.0 1023.2,638.1 1024.4,638.1 1025.6,638.2 1026.8,638.3 1028.0,638.3 1029.2,638.4 1030.4,638.4 1031.6,638.5 1032.8,638.5 1034.0,638.6 1035.2,638.6 1036.4,638.7 1037.6,638.7 1038.8,638.8 1040.0,638.8 1041.2,638.9 1042.4,638.9 1043.6,639.0 1044.8,639.0 1046.0,639.1 1047.2,639.1 1048.4,639.2 1049.6,639.2 1050.8,639.2 1052.0,639.3 1053.2,639.3 1054.4,639.4 1055.6,639.4 1056.8,639.4 1058.0,639.5 1059.2,639.5 1060.4,639.5 1061.6,639.5 1062.8,639.5 1064.0,639.5 1065.2,639.5 1066.4,639.3 1067.6,639.1 1068.8,638.6 1070.0,638.0 1071.2,637.2 1072.4,636.3 1073.6,635.7 1074.8,635.6 1076.0,636.2 1077.2,637.1 1078.4,638.0 1079.6,638.8 1080.8,639.4 1082.0,639.7 1083.2,640.0 1084.4,640.1 1085.6,640.2 1086.8,640.3 1088.0,640.3 1089.2,640.4 1090.4,640.4 1091.6,640.4 1092.8,640.3 1094.0,640.1 1095.2,639.8 1096.4,639.3 1097.6,638.6 1098.8,637.8 1100.0,637.1 1101.2,636.8 1102.4,637.1 1103.6,637.8 1104.8,638.7 1106.0,639.4 1107.2,640.0 1108.4,640.4 1109.6,640.7 1110.8,640.8 1112.0,641.0 1113.2,641.0 1114.4,641.1 1115.6,641.1 1116.8,641.2 1118.0,641.2 1119.2,641.2 1120.4,641.2 1121.6,641.3 1122.8,641.3 1124.0,641.3 1125.2,641.3 1126.4,641.3 1127.6,641.3 1128.8,641.3 1130.0,641.3 1131.2,641.3 1132.4,641.3 1133.6,641.3 1134.8,641.3 1136.0,641.3 1137.2,641.3 1138.4,641.3 1139.6,641.4 1140.8,641.4 1142.0,641.4 1143.2,641.4 1144.4,641.4 1145.6,641.4 1146.8,641.4 1148.0,641.4 1149.2,641.4 1150.4,641.4 1151.6,641.4 1152.8,641.4 1154.0,641.4 1155.2,641.4 1156.4,641.4 1157.6,641.4 1158.8,641.4 1160.0,641.4 1161.2,641.4 1162.4,641.4 1163.6,641.4 1164.8,641.4 1166.0,641.4 1167.2,641.4 1168.4,641.4 1169.6,641.4 1170.8,641.4 1172.0,641.4 1173.2,641.4 1174.4,641.4 1175.6,641.4 1176.8,641.4 1178.0,641.4 1179.2,641.4 1180.4,641.4 1181.6,641.4 1182.8,641.4 1184.0,641.4 1185.2,641.4 1186.4,641.4 1187.6,641.4 1188.8,641.4 1190.0,641.4 1191.2,641.4 1192.4,641.4 1193.6,641.4 1194.8,641.3 1196.0,641.3 1197.2,641.3 1198.4,641.3 1199.6,641.3 1200.8,641.3 1202.0,641.3 1203.2,641.3 1204.4,641.3 1205.6,641.3 1206.8,641.3 1208.0,641.3 1209.2,641.3 1210.4,641.3 1211.6,641.3 1212.8,641.3 1214.0,641.3 1215.2,641.3 1216.4,641.3 1217.6,641.3 1218.8,641.3 1220.0,641.2 1221.2,641.2 1222.4,641.2 1223.6,641.2 1224.8,641.2 1226.0,641.1 1227.2,641.1 1228.4,641.1 1229.6,641.0 1230.8,640.9 1232.0,640.8 1233.2,640.6 1234.4,640.3 1235.6,639.9 1236.8,639.5 1238.0,639.0 1239.2,638.4 1240.4,637.8 1241.6,637.3 1242.8,637.0 1244.0,636.9 1245.2,637.1 1246.4,637.6 1247.6,638.1 1248.8,638.7 1250.0,639.3 1251.2,639.7 1252.4,640.1 1253.6,640.4 1254.8,640.7 1256.0,640.8 1257.2,640.9 1258.4,641.0 1259.6,641.1 1260.8,641.1 1262.0,641.2 1263.2,641.2 1264.4,641.2 1265.6,641.2 1266.8,641.2 1268.0,641.2 1269.2,641.3 1270.4,641.3 1271.6,641.3 1272.8,641.3 1274.0,641.3 1275.2,641.3 1276.4,641.3 1277.6,641.3 1278.8,641.3 1280.0,641.3 1281.2,641.3 1282.4,641.3 1283.6,641.3 1284.8,641.3 1286.0,641.3 1287.2,641.3 1288.4,641.3 1289.6,641.3 1290.8,641.3 1292.0,641.3 1293.2,641.3 1294.4,641.3 1295.6,641.3 1296.8,641.3 1298.0,641.3 1299.2,641.3 1300.4,641.3 1301.6,641.2 1302.8,641.2 1304.0,641.2 1305.2,641.2 1306.4,641.1 1307.6,641.0 1308.8,640.9 1310.0,640.8 1311.2,640.6 1312.4,640.4 1313.6,640.1 1314.8,639.8 1316.0,639.5 1317.2,639.2 1318.4,639.0 1319.6,638.9 1320.8,639.0 1322.0,639.2 1323.2,639.5 1324.4,639.8 1325.6,640.1 1326.8,640.3 1328.0,640.6 1329.2,640.7 1330.4,640.9 1331.6,640.9 1332.8,641.0 1334.0,641.0 1335.2,641.1 1336.4,641.1 1337.6,641.1 1338.8,641.1 1340.0,641.1 1341.2,641.1 1342.4,641.1 1343.6,641.1 1344.8,641.1 1346.0,641.1 1347.2,641.1 1348.4,641.1 1349.6,641.1 1350.8,641.1 1352.0,641.1 1353.2,641.0 1354.4,641.0 1355.6,641.0 1356.8,641.0 1358.0,641.0 1359.2,641.0 1360.4,641.0 1361.6,641.0 1362.8,641.0 1364.0,640.9 1365.2,640.9 1366.4,640.9 1367.6,640.9 1368.8,640.9 1370.0,640.9 1371.2,640.9 1372.4,640.9 1373.6,640.8 1374.8,640.8 1376.0,640.8 1377.2,640.8 1378.4,640.8 1379.6,640.8 1380.8,640.8 1382.0,640.7 1383.2,640.7 1384.4,640.7 1385.6,640.7 1386.8,640.7 1388.0,640.6 1389.2,640.6 1390.4,640.6 1391.6,640.6 1392.8,640.5 1394.0,640.5 1395.2,640.5 1396.4,640.4 1397.6,640.4 1398.8,640.4 1400.0,640.3 1401.2,640.3 1402.4,640.3 1403.6,640.2 1404.8,640.2 1406.0,640.1 1407.2,640.1 1408.4,640.1 1409.6,640.0 1410.8,640.0 1412.0,639.9 1413.2,639.9 1414.4,639.8 1415.6,639.8 1416.8,639.7 1418.0,639.7 1419.2,639.6 1420.4,639.6 1421.6,639.5 1422.8,639.5 1424.0,639.4 1425.2,639.3 1426.4,639.3 1427.6,639.2 1428.8,639.2 1430.0,639.1 1431.2,639.0 1432.4,639.0 1433.6,638.9 1434.8,638.8 1436.0,638.7 1437.2,638.7 1438.4,638.6 1439.6,638.5 1440.8,638.4 1442.0,638.2 1443.2,638.1 1444.4,637.8 1445.6,637.6 1446.8,637.2 1448.0,636.8 1449.2,636.3 1450.4,635.8 1451.6,635.3 1452.8,634.9 1454.0,634.6 1455.2,634.5 1456.4,634.6 1457.6,634.9 1458.8,635.3 1460.0,635.7 1461.2,636.1 1462.4,636.4 1463.6,636.6 1464.8,636.8 1466.0,636.9 1467.2,637.0 1468.4,637.0 1469.6,637.0 1470.8,637.0 1472.0,637.0 1473.2,636.9 1474.4,636.9 1475.6,636.9 1476.8,636.8 1478.0,636.8 1479.2,636.7 1480.4,636.7 1481.6,636.6 1482.8,636.6 1484.0,636.5 1485.2,636.5 1486.4,636.4 1487.6,636.4 1488.8,636.4 1490.0,636.3 1491.2,636.3 1492.4,636.2 1493.6,636.2 1494.8,636.1 1496.0,636.1 1497.2,636.1 1498.4,636.0 1499.6,636.0 1500.8,635.9 1502.0,635.9 1503.2,635.9 1504.4,635.8 1505.6,635.8 1506.8,635.7 1508.0,635.7 1509.2,635.7 1510.4,635.6 1511.6,635.6 1512.8,635.6 1514.0,635.6 1515.2,635.5 1516.4,635.5 1517.6,635.5 1518.8,635.4 1520.0,635.4 1521.2,635.4 1522.4,635.3 1523.6,635.3 1524.8,635.3 1526.0,635.3 1527.2,635.2 1528.4,635.2 1529.6,635.2 1530.8,635.2 1532.0,635.1 1533.2,635.1 1534.4,635.1 1535.6,635.1 1536.8,635.0 1538.0,635.0 1539.2,635.0 1540.4,635.0 1541.6,634.9 1542.8,634.9 1544.0,634.9 1545.2,634.9 1546.4,634.8 1547.6,634.8 1548.8,634.8 1550.0,634.7 1551.2,634.7 1552.4,634.7 1553.6,634.7 1554.8,634.6 1556.0,634.6 1557.2,634.6 1558.4,634.6 1559.6,634.5 1560.8,634.5 1562.0,634.5 1563.2,634.4 1564.4,634.4 1565.6,634.4 1566.8,634.3 1568.0,634.3 1569.2,634.3 1570.4,634.2 1571.6,634.2 1572.8,634.1 1574.0,634.1 1575.2,634.1 1576.4,634.0 1577.6,634.0 1578.8,633.9 1580.0,633.9 1581.2,633.8 1582.4,633.8 1583.6,633.8 1584.8,633.7 1586.0,633.7 1587.2,633.6 1588.4,633.6 1589.6,633.5 1590.8,633.4 1592.0,633.4 1593.2,633.3 1594.4,633.3 1595.6,633.2 1596.8,633.1 1598.0,633.1 1599.2,633.0 1600.4,633.0 1601.6,632.9 1602.8,632.8 1604.0,632.6 1605.2,632.5 1606.4,632.3 1607.6,632.1 1608.8,631.9 1610.0,631.7 1611.2,631.5 1612.4,631.2 1613.6,631.0 1614.8,630.8 1616.0,630.5 1617.2,630.3 1618.4,630.0 1619.6,629.8 1620.8,629.5 1622.0,629.3 1623.2,629.0 1624.4,628.8 1625.6,628.6 1626.8,628.4 1628.0,628.2 1629.2,628.0 1630.4,627.9 1631.6,627.7 1632.8,627.6 1634.0,627.5 1635.2,627.4 1636.4,627.4 1637.6,627.3 1638.8,627.3 1640.0,627.3 1641.2,627.3 1642.4,627.3 1643.6,627.2 1644.8,627.2 1646.0,627.2 1647.2,627.2 1648.4,627.2 1649.6,627.2 1650.8,627.2 1652.0,627.1 1653.2,627.1 1654.4,627.1 1655.6,627.1 1656.8,627.1 1658.0,627.1 1659.2,627.1 1660.4,627.1 1661.6,627.1 1662.8,627.0 1664.0,627.0 1665.2,627.0 1666.4,627.0 1667.6,627.0 1668.8,627.0 1670.0,627.0 1671.2,627.0 1672.4,626.9 1673.6,626.9 1674.8,626.9 1676.0,626.9 1677.2,626.9 1678.4,626.9 1679.6,626.8 1680.8,626.8 1682.0,626.8 1683.2,626.8 1684.4,626.8 1685.6,626.7 1686.8,626.7 1688.0,626.7 1689.2,626.6 1690.4,626.6 1691.6,626.6 1692.8,626.5 1694.0,626.5 1695.2,626.4 1696.4,626.4 1697.6,626.3 1698.8,626.2 1700.0,626.1 1701.2,626.0 1702.4,625.9 1703.6,625.7 1704.8,625.5 1706.0,625.3 1707.2,625.0 1708.4,624.7 1709.6,624.4 1710.8,624.0 1712.0,623.6 1713.2,623.1 1714.4,622.6 1715.6,622.1 1716.8,621.7 1718.0,621.2 1719.2,620.8 1720.4,620.6 1721.6,620.4 1722.8,620.4 1724.0,620.5 1725.2,620.8 1726.4,621.2 1727.6,621.6 1728.8,622.0 1730.0,622.5 1731.2,622.9 1732.4,623.3 1733.6,623.7 1734.8,624.1 1736.0,624.4 1737.2,624.6 1738.4,624.8 1739.6,625.0 1740.8,625.2 1742.0,625.3 1743.2,625.4 1744.4,625.5 1745.6,625.5 1746.8,625.6 1748.0,625.6 1749.2,625.7 1750.4,625.7 1751.6,625.7 1752.8,625.7 1754.0,625.7 1755.2,625.8 1756.4,625.8 1757.6,625.8 1758.8,625.8 1760.0,625.8 1761.2,625.8 1762.4,625.8 1763.6,625.8 1764.8,625.9 1766.0,625.9 1767.2,625.9 1768.4,625.9 1769.6,626.0 1770.8,626.0 1772.0,626.0 1773.2,626.1 1774.4,626.1 1775.6,626.2 1776.8,626.2 1778.0,626.2 1779.2,626.3 1780.4,626.3 1781.6,626.4 1782.8,626.5 1784.0,626.5 1785.2,626.6 1786.4,626.6 1787.6,626.7 1788.8,626.8 1790.0,626.8 1791.2,626.9 1792.4,626.9 1793.6,627.0 1794.8,627.1 1796.0,627.2 1797.2,627.2 1798.4,627.3 1799.6,627.4 1800.8,627.5 1802.0,627.5 1803.2,627.6 1804.4,627.7 1805.6,627.8 1806.8,627.9 1808.0,627.9 1809.2,628.0 1810.4,628.1 1811.6,628.2 1812.8,628.3 1814.0,628.4 1815.2,628.4 1816.4,628.5 1816.4,638.5 1815.2,638.4 1814.0,638.4 1812.8,638.3 1811.6,638.2 1810.4,638.1 1809.2,638.0 1808.0,637.9 1806.8,637.9 1805.6,637.8 1804.4,637.7 1803.2,637.6 1802.0,637.5 1800.8,637.5 1799.6,637.4 1798.4,637.3 1797.2,637.2 1796.0,637.2 1794.8,637.1 1793.6,637.0 1792.4,636.9 1791.2,636.9 1790.0,636.8 1788.8,636.7 1787.6,636.7 1786.4,636.6 1785.2,636.6 1784.0,636.5 1782.8,636.5 1781.6,636.4 1780.4,636.3 1779.2,636.3 1778.0,636.2 1776.8,636.2 1775.6,636.2 1774.4,636.1 1773.2,636.1 1772.0,636.0 1770.8,636.0 1769.6,636.0 1768.4,635.9 1767.2,635.9 1766.0,635.9 1764.8,635.9 1763.6,635.8 1762.4,635.8 1761.2,635.8 1760.0,635.8 1758.8,635.8 1757.6,635.8 1756.4,635.8 1755.2,635.8 1754.0,635.7 1752.8,635.7 1751.6,635.7 1750.4,635.7 1749.2,635.7 1748.0,635.6 1746.8,635.6 1745.6,635.5 1744.4,635.5 1743.2,635.4 1742.0,635.3 1740.8,635.2 1739.6,635.0 1738.4,634.8 1737.2,634.6 1736.0,634.4 1734.8,634.1 1733.6,633.7 1732.4,633.3 1731.2,632.9 1730.0,632.5 1728.8,632.0 1727.6,631.6 1726.4,631.2 1725.2,630.8 1724.0,630.5 1722.8,630.4 1721.6,630.4 1720.4,630.6 1719.2,630.8 1718.0,631.2 1716.8,631.7 1715.6,632.1 1714.4,632.6 1713.2,633.1 1712.0,633.6 1710.8,634.0 1709.6,634.4 1708.4,634.7 1707.2,635.0 1706.0,635.3 1704.8,635.5 1703.6,635.7 1702.4,635.9 1701.2,636.0 1700.0,636.1 1698.8,636.2 1697.6,636.3 1696.4,636.4 1695.2,636.4 1694.0,636.5 1692.8,636.5 1691.6,636.6 1690.4,636.6 1689.2,636.6 1688.0,636.7 1686.8,636.7 1685.6,636.7 1684.4,636.7 1683.2,636.8 1682.0,636.8 1680.8,636.8 1679.6,636.8 1678.4,636.9 1677.2,636.9 1676.0,636.9 1674.8,636.9 1673.6,636.9 1672.4,636.9 1671.2,637.0 1670.0,637.0 1668.8,637.0 1667.6,637.0 1666.4,637.0 1665.2,637.0 1664.0,637.0 1662.8,637.0 1661.6,637.1 1660.4,637.1 1659.2,637.1 1658.0,637.1 1656.8,637.1 1655.6,637.1 1654.4,637.1 1653.2,637.1 1652.0,637.1 1650.8,637.2 1649.6,637.2 1648.4,637.2 1647.2,637.2 1646.0,637.2 1644.8,637.2 1643.6,637.2 1642.4,637.3 1641.2,637.3 1640.0,637.3 1638.8,637.3 1637.6,637.3 1636.4,637.4 1635.2,637.4 1634.0,637.5 1632.8,637.6 1631.6,637.7 1630.4,637.9 1629.2,638.0 1628.0,638.2 1626.8,638.4 1625.6,638.6 1624.4,638.8 1623.2,639.0 1622.0,639.3 1620.8,639.5 1619.6,639.8 1618.4,640.0 1617.2,640.3 1616.0,640.5 1614.8,640.8 1613.6,641.0 1612.4,641.2 1611.2,641.5 1610.0,641.7 1608.8,641.9 1607.6,642.1 1606.4,642.3 1605.2,642.5 1604.0,642.6 1602.8,642.8 1601.6,642.9 1600.4,642.9 1599.2,643.0 1598.0,643.1 1596.8,643.1 1595.6,643.2 1594.4,643.3 1593.2,643.3 1592.0,643.4 1590.8,643.4 1589.6,643.5 1588.4,643.6 1587.2,643.6 1586.0,643.7 1584.8,643.7 1583.6,643.8 1582.4,643.8 1581.2,643.8 1580.0,643.9 1578.8,643.9 1577.6,644.0 1576.4,644.0 1575.2,644.1 1574.0,644.1 1572.8,644.1 1571.6,644.2 1570.4,644.2 1569.2,644.3 1568.0,644.3 1566.8,644.3 1565.6,644.4 1564.4,644.4 1563.2,644.4 1562.0,644.5 1560.8,644.5 1559.6,644.5 1558.4,644.6 1557.2,644.6 1556.0,644.6 1554.8,644.6 1553.6,644.7 1552.4,644.7 1551.2,644.7 1550.0,644.7 1548.8,644.8 1547.6,644.8 1546.4,644.8 1545.2,644.9 1544.0,644.9 1542.8,644.9 1541.6,644.9 1540.4,645.0 1539.2,645.0 1538.0,645.0 1536.8,645.0 1535.6,645.1 1534.4,645.1 1533.2,645.1 1532.0,645.1 1530.8,645.2 1529.6,645.2 1528.4,645.2 1527.2,645.2 1526.0,645.3 1524.8,645.3 1523.6,645.3 1522.4,645.3 1521.2,645.4 1520.0,645.4 1518.8,645.4 1517.6,645.5 1516.4,645.5 1515.2,645.5 1514.0,645.6 1512.8,645.6 1511.6,645.6 1510.4,645.6 1509.2,645.7 1508.0,645.7 1506.8,645.7 1505.6,645.8 1504.4,645.8 1503.2,645.9 1502.0,645.9 1500.8,645.9 1499.6,646.0 1498.4,646.0 1497.2,646.1 1496.0,646.1 1494.8,646.1 1493.6,646.2 1492.4,646.2 1491.2,646.3 1490.0,646.3 1488.8,646.4 1487.6,646.4 1486.4,646.4 1485.2,646.5 1484.0,646.5 1482.8,646.6 1481.6,646.6 1480.4,646.7 1479.2,646.7 1478.0,646.8 1476.8,646.8 1475.6,646.8 1474.4,646.9 1473.2,646.9 1472.0,647.0 1470.8,647.0 1469.6,647.0 1468.4,647.0 1467.2,647.0 1466.0,646.9 1464.8,646.8 1463.6,646.6 1462.4,646.4 1461.2,646.1 1460.0,645.7 1458.8,645.3 1457.6,644.9 1456.4,644.6 1455.2,644.5 1454.0,644.6 1452.8,644.9 1451.6,645.3 1450.4,645.8 1449.2,646.3 1448.0,646.8 1446.8,647.2 1445.6,647.6 1444.4,647.8 1443.2,648.0 1442.0,648.2 1440.8,648.4 1439.6,648.5 1438.4,648.6 1437.2,648.7 1436.0,648.7 1434.8,648.8 1433.6,648.9 1432.4,649.0 1431.2,649.0 1430.0,649.1 1428.8,649.2 1427.6,649.2 1426.4,649.3 1425.2,649.3 1424.0,649.4 1422.8,649.5 1421.6,649.5 1420.4,649.6 1419.2,649.6 1418.0,649.7 1416.8,649.7 1415.6,649.8 1414.4,649.8 1413.2,649.9 1412.0,649.9 1410.8,650.0 1409.6,650.0 1408.4,650.1 1407.2,650.1 1406.0,650.1 1404.8,650.2 1403.6,650.2 1402.4,650.3 1401.2,650.3 1400.0,650.3 1398.8,650.4 1397.6,650.4 1396.4,650.4 1395.2,650.5 1394.0,650.5 1392.8,650.5 1391.6,650.6 1390.4,650.6 1389.2,650.6 1388.0,650.6 1386.8,650.7 1385.6,650.7 1384.4,650.7 1383.2,650.7 1382.0,650.7 1380.8,650.8 1379.6,650.8 1378.4,650.8 1377.2,650.8 1376.0,650.8 1374.8,650.8 1373.6,650.8 1372.4,650.9 1371.2,650.9 1370.0,650.9 1368.8,650.9 1367.6,650.9 1366.4,650.9 1365.2,650.9 1364.0,650.9 1362.8,651.0 1361.6,651.0 1360.4,651.0 1359.2,651.0 1358.0,651.0 1356.8,651.0 1355.6,651.0 1354.4,651.0 1353.2,651.0 1352.0,651.1 1350.8,651.1 1349.6,651.1 1348.4,651.1 1347.2,651.1 1346.0,651.1 1344.8,651.1 1343.6,651.1 1342.4,651.1 1341.2,651.1 1340.0,651.1 1338.8,651.1 1337.6,651.1 1336.4,651.1 1335.2,651.1 1334.0,651.0 1332.8,651.0 1331.6,650.9 1330.4,650.8 1329.2,650.7 1328.0,650.6 1326.8,650.3 1325.6,650.1 1324.4,649.8 1323.2,649.5 1322.0,649.2 1320.8,648.9 1319.6,648.9 1318.4,649.0 1317.2,649.2 1316.0,649.5 1314.8,649.8 1313.6,650.1 1312.4,650.4 1311.2,650.6 1310.0,650.8 1308.8,650.9 1307.6,651.0 1306.4,651.1 1305.2,651.2 1304.0,651.2 1302.8,651.2 1301.6,651.2 1300.4,651.3 1299.2,651.3 1298.0,651.3 1296.8,651.3 1295.6,651.3 1294.4,651.3 1293.2,651.3 1292.0,651.3 1290.8,651.3 1289.6,651.3 1288.4,651.3 1287.2,651.3 1286.0,651.3 1284.8,651.3 1283.6,651.3 1282.4,651.3 1281.2,651.3 1280.0,651.3 1278.8,651.3 1277.6,651.3 1276.4,651.3 1275.2,651.3 1274.0,651.3 1272.8,651.3 1271.6,651.3 1270.4,651.3 1269.2,651.3 1268.0,651.2 1266.8,651.2 1265.6,651.2 1264.4,651.2 1263.2,651.2 1262.0,651.2 1260.8,651.1 1259.6,651.1 1258.4,651.0 1257.2,650.9 1256.0,650.8 1254.8,650.7 1253.6,650.4 1252.4,650.1 1251.2,649.7 1250.0,649.3 1248.8,648.7 1247.6,648.1 1246.4,647.6 1245.2,647.1 1244.0,646.9 1242.8,647.0 1241.6,647.3 1240.4,647.8 1239.2,648.4 1238.0,649.0 1236.8,649.5 1235.6,649.9 1234.4,650.3 1233.2,650.6 1232.0,650.8 1230.8,650.9 1229.6,651.0 1228.4,651.1 1227.2,651.1 1226.0,651.1 1224.8,651.2 1223.6,651.2 1222.4,651.2 1221.2,651.2 1220.0,651.2 1218.8,651.3 1217.6,651.3 1216.4,651.3 1215.2,651.3 1214.0,651.3 1212.8,651.3 1211.6,651.3 1210.4,651.3 1209.2,651.3 1208.0,651.3 1206.8,651.3 1205.6,651.3 1204.4,651.3 1203.2,651.3 1202.0,651.3 1200.8,651.3 1199.6,651.3 1198.4,651.3 1197.2,651.3 1196.0,651.3 1194.8,651.3 1193.6,651.3 1192.4,651.3 1191.2,651.3 1190.0,651.4 1188.8,651.4 1187.6,651.4 1186.4,651.4 1185.2,651.4 1184.0,651.4 1182.8,651.4 1181.6,651.4 1180.4,651.4 1179.2,651.4 1178.0,651.4 1176.8,651.4 1175.6,651.4 1174.4,651.4 1173.2,651.4 1172.0,651.4 1170.8,651.4 1169.6,651.4 1168.4,651.4 1167.2,651.4 1166.0,651.4 1164.8,651.4 1163.6,651.4 1162.4,651.4 1161.2,651.4 1160.0,651.4 1158.8,651.4 1157.6,651.4 1156.4,651.4 1155.2,651.4 1154.0,651.4 1152.8,651.4 1151.6,651.4 1150.4,651.4 1149.2,651.4 1148.0,651.4 1146.8,651.4 1145.6,651.4 1144.4,651.4 1143.2,651.3 1142.0,651.3 1140.8,651.3 1139.6,651.3 1138.4,651.3 1137.2,651.3 1136.0,651.3 1134.8,651.3 1133.6,651.3 1132.4,651.3 1131.2,651.3 1130.0,651.3 1128.8,651.3 1127.6,651.3 1126.4,651.3 1125.2,651.3 1124.0,651.3 1122.8,651.3 1121.6,651.3 1120.4,651.2 1119.2,651.2 1118.0,651.2 1116.8,651.2 1115.6,651.1 1114.4,651.1 1113.2,651.0 1112.0,650.9 1110.8,650.8 1109.6,650.7 1108.4,650.4 1107.2,650.0 1106.0,649.4 1104.8,648.7 1103.6,647.8 1102.4,647.1 1101.2,646.8 1100.0,647.1 1098.8,647.8 1097.6,648.6 1096.4,649.3 1095.2,649.8 1094.0,650.1 1092.8,650.3 1091.6,650.3 1090.4,650.4 1089.2,650.4 1088.0,650.3 1086.8,650.3 1085.6,650.2 1084.4,650.1 1083.2,650.0 1082.0,649.7 1080.8,649.3 1079.6,648.8 1078.4,648.0 1077.2,647.1 1076.0,646.1 1074.8,645.6 1073.6,645.7 1072.4,646.3 1071.2,647.2 1070.0,648.0 1068.8,648.6 1067.6,649.1 1066.4,649.3 1065.2,649.5 1064.0,649.5 1062.8,649.5 1061.6,649.5 1060.4,649.5 1059.2,649.5 1058.0,649.5 1056.8,649.4 1055.6,649.4 1054.4,649.4 1053.2,649.3 1052.0,649.3 1050.8,649.2 1049.6,649.2 1048.4,649.2 1047.2,649.1 1046.0,649.1 1044.8,649.0 1043.6,649.0 1042.4,648.9 1041.2,648.9 1040.0,648.8 1038.8,648.8 1037.6,648.7 1036.4,648.7 1035.2,648.6 1034.0,648.6 1032.8,648.5 1031.6,648.5 1030.4,648.4 1029.2,648.3 1028.0,648.3 1026.8,648.2 1025.6,648.2 1024.4,648.1 1023.2,648.1 1022.0,648.0 1020.8,648.0 1019.6,647.9 1018.4,647.9 1017.2,647.8 1016.0,647.7 1014.8,647.7 1013.6,647.6 1012.4,647.5 1011.2,647.4 1010.0,647.3 1008.8,647.2 1007.6,647.1 1006.4,647.0 1005.2,646.9 1004.0,646.8 1002.8,646.7 1001.6,646.6 1000.4,646.5 999.2,646.4 998.0,646.3 996.8,646.2 995.6,646.1 994.4,646.0 993.2,645.9 992.0,645.9 990.8,645.8 989.6,645.7 988.4,645.6 987.2,645.6 986.0,645.5 984.8,645.5 983.6,645.4 982.4,645.4 981.2,645.4 980.0,645.4 978.8,645.4 977.6,645.4 976.4,645.3 975.2,645.3 974.0,645.3 972.8,645.3 971.6,645.3 970.4,645.2 969.2,645.2 968.0,645.1 966.8,645.0 965.6,644.7 964.4,644.4 963.2,643.8 962.0,643.1 960.8,642.2 959.6,641.3 958.4,640.8 957.2,640.9 956.0,641.6 954.8,642.5 953.6,643.4 952.4,644.0 951.2,644.5 950.0,644.8 948.8,645.0 947.6,645.1 946.4,645.2 945.2,645.2 944.0,645.3 942.8,645.3 941.6,645.3 940.4,645.3 939.2,645.3 938.0,645.3 936.8,645.3 935.6,645.4 934.4,645.4 933.2,645.4 932.0,645.4 930.8,645.4 929.6,645.4 928.4,645.4 927.2,645.4 926.0,645.4 924.8,645.4 923.6,645.3 922.4,645.3 921.2,645.3 920.0,645.3 918.8,645.3 917.6,645.3 916.4,645.3 915.2,645.3 914.0,645.3 912.8,645.3 911.6,645.3 910.4,645.3 909.2,645.2 908.0,645.2 906.8,645.2 905.6,645.2 904.4,645.2 903.2,645.2 902.0,645.2 900.8,645.1 899.6,645.1 898.4,645.1 897.2,645.1 896.0,645.1 894.8,645.0 893.6,645.0 892.4,645.0 891.2,645.0 890.0,645.0 888.8,644.9 887.6,644.9 886.4,644.9 885.2,644.9 884.0,644.8 882.8,644.8 881.6,644.8 880.4,644.7 879.2,644.7 878.0,644.6 876.8,644.6 875.6,644.5 874.4,644.4 873.2,644.3 872.0,644.1 870.8,644.0 869.6,643.8 868.4,643.5 867.2,643.1 866.0,642.5 864.8,641.8 863.6,640.9 862.4,639.8 861.2,638.5 860.0,637.4 858.8,636.5 857.6,636.3 856.4,636.8 855.2,637.6 854.0,638.6 852.8,639.6 851.6,640.4 850.4,641.0 849.2,641.4 848.0,641.7 846.8,641.8 845.6,641.8 844.4,641.8 843.2,641.8 842.0,641.8 840.8,641.7 839.6,641.6 838.4,641.5 837.2,641.4 836.0,641.3 834.8,641.2 833.6,641.1 832.4,641.0 831.2,640.9 830.0,640.7 828.8,640.6 827.6,640.5 826.4,640.3 825.2,640.1 824.0,640.0 822.8,639.8 821.6,639.6 820.4,639.4 819.2,639.2 818.0,639.0 816.8,638.8 815.6,638.6 814.4,638.3 813.2,638.1 812.0,637.8 810.8,637.5 809.6,637.2 808.4,636.9 807.2,636.5 806.0,636.0 804.8,635.6 803.6,635.0 802.4,634.5 801.2,633.8 800.0,633.1 798.8,632.1 797.6,630.5 796.4,628.5 795.2,626.1 794.0,623.3 792.8,620.2 791.6,616.8 790.4,613.2 789.2,608.9 788.0,602.9 786.8,595.4 785.6,586.7 784.4,576.6 783.2,566.3 782.0,555.2 780.8,540.9 779.6,524.1 778.4,506.2 777.2,490.0 776.0,479.8 774.8,479.0 773.6,487.7 772.4,502.6 771.2,519.4 770.0,535.0 768.8,548.0 767.6,557.8 766.4,565.2 765.2,571.5 764.0,575.8 762.8,578.8 761.6,581.0 760.4,582.8 759.2,584.3 758.0,585.7 756.8,587.0 755.6,588.2 754.4,589.4 753.2,590.5 752.0,591.5 750.8,592.6 749.6,593.5 748.4,594.4 747.2,595.2 746.0,596.1 744.8,596.9 743.6,597.6 742.4,598.4 741.2,599.2 740.0,600.0 738.8,600.9 737.6,601.8 736.4,602.8 735.2,603.7 734.0,604.7 732.8,605.8 731.6,606.8 730.4,607.9 729.2,609.0 728.0,610.1 726.8,611.2 725.6,612.3 724.4,613.4 723.2,614.6 722.0,615.7 720.8,616.8 719.6,617.9 718.4,618.9 717.2,620.0 716.0,621.0 714.8,622.0 713.6,623.0 712.4,623.9 711.2,624.8 710.0,625.6 708.8,626.4 707.6,627.1 706.4,627.8 705.2,628.4 704.0,629.0 702.8,629.5 701.6,629.9 700.4,630.3 699.2,630.5 698.0,630.8 696.8,631.1 695.6,631.3 694.4,631.5 693.2,631.8 692.0,632.0 690.8,632.2 689.6,632.4 688.4,632.5 687.2,632.7 686.0,632.9 684.8,633.0 683.6,633.2 682.4,633.3 681.2,633.5 680.0,633.6 678.8,633.8 677.6,633.9 676.4,634.0 675.2,634.1 674.0,634.3 672.8,634.4 671.6,634.5 670.4,634.7 669.2,634.8 668.0,634.9 666.8,635.0 665.6,635.2 664.4,635.3 663.2,635.5 662.0,635.6 660.8,635.7 659.6,635.9 658.4,636.1 657.2,636.2 656.0,636.4 654.8,636.6 653.6,636.8 652.4,637.0 651.2,637.2 650.0,637.3 648.8,637.5 647.6,637.7 646.4,637.9 645.2,638.1 644.0,638.3 642.8,638.5 641.6,638.7 640.4,638.9 639.2,639.1 638.0,639.3 636.8,639.4 635.6,639.6 634.4,639.7 633.2,639.9 632.0,640.0 630.8,640.1 629.6,640.2 628.4,640.3 627.2,640.4 626.0,640.5 624.8,640.5 623.6,640.6 622.4,640.6 621.2,640.5 620.0,640.5 618.8,640.5 617.6,640.4 616.4,640.3 615.2,640.2 614.0,640.1 612.8,639.9 611.6,639.7 610.4,639.4 609.2,638.8 608.0,637.7 606.8,635.8 605.6,632.7 604.4,628.4 603.2,623.4 602.0,619.3 600.8,618.6 599.6,621.8 598.4,626.7 597.2,631.4 596.0,634.8 594.8,637.0 593.6,638.3 592.4,639.0 591.2,639.4 590.0,639.6 588.8,639.8 587.6,639.8 586.4,639.9 585.2,639.9 584.0,639.8 582.8,639.7 581.6,639.5 580.4,639.1 579.2,638.5 578.0,637.5 576.8,635.7 575.6,632.9 574.4,629.2 573.2,625.1 572.0,622.2 570.8,622.4 569.6,625.5 568.4,629.4 567.2,632.9 566.0,635.3 564.8,636.8 563.6,637.7 562.4,638.1 561.2,638.3 560.0,638.4 558.8,638.4 557.6,638.5 556.4,638.5 555.2,638.5 554.0,638.5 552.8,638.5 551.6,638.5 550.4,638.5 549.2,638.4 548.0,638.4 546.8,638.4 545.6,638.4 544.4,638.4 543.2,638.3 542.0,638.3 540.8,638.3 539.6,638.3 538.4,638.2 537.2,638.2 536.0,638.2 534.8,638.1 533.6,638.1 532.4,638.0 531.2,638.0 530.0,637.9 528.8,637.8 527.6,637.8 526.4,637.7 525.2,637.6 524.0,637.5 522.8,637.4 521.6,637.3 520.4,637.2 519.2,637.0 518.0,636.9 516.8,636.8 515.6,636.6 514.4,636.5 513.2,636.3 512.0,636.2 510.8,636.0 509.6,635.8 508.4,635.6 507.2,635.5 506.0,635.3 504.8,635.1 503.6,634.9 502.4,634.7 501.2,634.5 500.0,634.3 498.8,634.1 497.6,633.9 496.4,633.6 495.2,633.4 494.0,633.2 492.8,633.0 491.6,632.8 490.4,632.5 489.2,632.3 488.0,632.1 486.8,631.8 485.6,631.6 484.4,631.4 483.2,631.1 482.0,630.9 480.8,630.7 479.6,630.4 478.4,630.2 477.2,629.9 476.0,629.7 474.8,629.4 473.6,629.1 472.4,628.8 471.2,628.5 470.0,628.1 468.8,627.8 467.6,627.4 466.4,627.0 465.2,626.6 464.0,626.3 462.8,625.9 461.6,625.6 460.4,625.3 459.2,625.0 458.0,624.7 456.8,624.3 455.6,623.9 454.4,623.3 453.2,622.4 452.0,621.1 450.8,619.3 449.6,616.7 448.4,613.3 447.2,609.5 446.0,605.7 444.8,603.2 443.6,603.2 442.4,605.6 441.2,609.3 440.0,613.0 438.8,616.3 437.6,618.8 436.4,620.5 435.2,621.7 434.0,622.5 432.8,623.1 431.6,623.4 430.4,623.9 429.2,624.5 428.0,625.2 426.8,625.9 425.6,626.7 424.4,627.5 423.2,628.3 422.0,629.0 420.8,629.8 419.6,630.6 418.4,631.5 417.2,632.3 416.0,633.2 414.8,634.0 413.6,634.8 412.4,635.6 411.2,636.2 410.0,636.7 408.8,637.2 407.6,637.7 406.4,638.1 405.2,638.6 404.0,639.0 402.8,639.4 401.6,639.8 400.4,640.1 399.2,640.5 398.0,640.8 396.8,641.1 395.6,641.3 394.4,641.5 393.2,641.7 392.0,641.8 390.8,641.9 389.6,641.9 388.4,642.0 387.2,642.0 386.0,642.1 384.8,642.1 383.6,642.2 382.4,642.2 381.2,642.2 380.0,642.3 378.8,642.3 377.6,642.3 376.4,642.3 375.2,642.3 374.0,642.4 372.8,642.4 371.6,642.4 370.4,642.4 369.2,642.4 368.0,642.3 366.8,642.3 365.6,642.2 364.4,642.1 363.2,642.1 362.0,641.9 360.8,641.8 359.6,641.7 358.4,641.6 357.2,641.4 356.0,641.3 354.8,641.2 353.6,641.0 352.4,640.9 351.2,640.8 350.0,640.6 348.8,640.5 347.6,640.3 346.4,640.2 345.2,640.0 344.0,639.7 342.8,639.2 341.6,638.6 340.4,637.4 339.2,635.6 338.0,633.2 336.8,630.3 335.6,627.9 334.4,627.5 333.2,629.2 332.0,631.8 330.8,634.3 329.6,636.2 328.4,637.3 327.2,638.0 326.0,638.3 324.8,638.5 323.6,638.6 322.4,638.6 321.2,638.6 320.0,638.6 318.8,638.6 317.6,638.6 316.4,638.6 315.2,638.6 314.0,638.6 312.8,638.6 311.6,638.6 310.4,638.6 309.2,638.6 308.0,638.6 306.8,638.5 305.6,638.5 304.4,638.5 303.2,638.5 302.0,638.4 300.8,638.4 299.6,638.4 298.4,638.3 297.2,638.3 296.0,638.3 294.8,638.2 293.6,638.2 292.4,638.1 291.2,638.1 290.0,638.0 288.8,638.0 287.6,637.9 286.4,637.9 285.2,637.8 284.0,637.8 282.8,637.7 281.6,637.6 280.4,637.6 279.2,637.5 278.0,637.5 276.8,637.4 275.6,637.3 274.4,637.2 273.2,637.2 272.0,637.1 270.8,637.0 269.6,636.9 268.4,636.9 267.2,636.8 266.0,636.7 264.8,636.6 263.6,636.5 262.4,636.4 261.2,636.3 260.0,636.2 258.8,636.1 257.6,636.0 256.4,635.9 255.2,635.7 254.0,635.6 252.8,635.4 251.6,635.3 250.4,635.1 249.2,634.8 248.0,634.6 246.8,634.2 245.6,633.8 244.4,633.2 243.2,632.3 242.0,631.0 240.8,629.1 239.6,626.8 238.4,624.2 237.2,621.9 236.0,621.0 234.8,621.8 233.6,623.7 232.4,625.9 231.2,627.8 230.0,629.2 228.8,630.1 227.6,630.5 226.4,630.7 225.2,630.8 224.0,630.8 222.8,630.8 221.6,630.7 220.4,630.6 219.2,630.6 218.0,630.5 216.8,630.5 215.6,630.4 214.4,630.3 213.2,630.2 212.0,630.2 210.8,630.1 209.6,630.1 208.4,630.0 207.2,629.9 206.0,629.9"/>
<polyline fill="none" stroke="#0000ff" stroke-width="9.0" stroke-linejoin="round" stroke-linecap="round" points="206.0,627.5 206.6,622.2 207.2,625.5 207.8,624.2 208.4,624.4 209.0,624.7 209.6,622.4 210.2,624.8 210.8,623.9 211.4,627.8 212.0,625.5 212.6,624.7 213.2,624.9 213.8,624.3 214.4,623.8 215.0,624.8 215.6,626.1 216.2,625.1 216.8,626.8 217.4,625.2 218.0,625.6 218.6,627.7 219.2,626.3 219.8,624.9 220.4,625.4 221.0,626.4 221.6,628.4 222.2,625.4 222.8,625.4 223.4,627.2 224.0,624.6 224.6,625.4 225.2,627.0 225.8,626.6 226.4,625.9 227.0,626.6 227.6,622.9 228.2,626.8 228.8,623.7 229.4,622.3 230.0,624.6 230.6,624.6 231.2,622.2 231.8,620.4 232.4,621.0 233.0,619.8 233.6,620.7 234.2,618.7 234.8,617.1 235.4,617.7 236.0,615.7 236.6,614.9 237.2,617.7 237.8,618.8 238.4,618.9 239.0,619.4 239.6,622.1 240.2,620.4 240.8,625.1 241.4,625.8 242.0,623.7 242.6,626.8 243.2,625.9 243.8,628.9 244.4,625.5 245.0,627.2 245.6,629.8 246.2,630.6 246.8,626.6 247.4,628.7 248.0,630.0 248.6,628.8 249.2,632.1 249.8,628.3 250.4,630.6 251.0,628.7 251.6,632.2 252.2,630.3 252.8,629.9 253.4,628.1 254.0,632.9 254.6,631.7 255.2,631.8 255.8,632.4 256.4,631.3 257.0,630.0 257.6,629.9 258.2,629.9 258.8,633.0 259.4,629.1 260.0,630.4 260.6,630.8 261.2,631.6 261.8,632.2 262.4,629.7 263.0,629.0 263.6,631.5 264.2,633.2 264.8,632.6 265.4,631.9 266.0,631.2 266.6,632.1 267.2,631.4 267.8,633.0 268.4,630.7 269.0,632.1 269.6,631.8 270.2,632.7 270.8,632.3 271.4,634.7 272.0,634.2 272.6,634.2 273.2,629.5 273.8,631.7 274.4,631.4 275.0,633.0 275.6,629.7 276.2,634.0 276.8,633.9 277.4,630.6 278.0,631.1 278.6,631.4 279.2,632.6 279.8,633.5 280.4,635.2 281.0,632.3 281.6,633.7 282.2,632.9 282.8,635.2 283.4,633.8 284.0,634.7 284.6,631.3 285.2,632.6 285.8,631.7 286.4,635.0 287.0,633.8 287.6,632.5 288.2,632.3 288.8,633.7 289.4,632.0 290.0,631.7 290.6,633.7 291.2,635.7 291.8,632.8 292.4,632.4 293.0,631.5 293.6,631.3 294.2,633.9 294.8,634.4 295.4,633.3 296.0,633.7 296.6,633.4 297.2,633.5 297.8,631.2 298.4,632.7 299.0,633.5 299.6,632.3 300.2,632.7 300.8,632.3 301.4,633.0 302.0,634.6 302.6,632.9 303.2,633.3 303.8,634.6 304.4,634.4 305.0,635.9 305.6,630.9 306.2,634.7 306.8,632.9 307.4,633.7 308.0,634.7 308.6,635.1 309.2,635.0 309.8,633.8 310.4,635.8 311.0,633.2 311.6,633.4 312.2,634.7 312.8,632.8 313.4,636.3 314.0,635.0 314.6,636.3 315.2,633.6 315.8,633.1 316.4,633.9 317.0,634.7 317.6,632.8 318.2,634.2 318.8,633.6 319.4,635.9 320.0,632.7 320.6,635.1 321.2,632.7 321.8,632.3 322.4,632.6 323.0,631.9 323.6,633.8 324.2,635.0 324.8,633.7 325.4,634.3 326.0,635.6 326.6,633.5 327.2,633.3 327.8,632.3 328.4,630.1 329.0,632.9 329.6,628.7 330.2,631.2 330.8,629.3 331.4,629.7 332.0,626.7 332.6,624.3 333.2,624.7 333.8,622.3 334.4,622.2 335.0,622.5 335.6,622.8 336.2,623.7 336.8,624.1 337.4,626.5 338.0,625.5 338.6,629.3 339.2,629.0 339.8,633.2 340.4,634.2 341.0,630.4 341.6,633.8 342.2,633.8 342.8,632.8 343.4,635.2 344.0,634.0 344.6,632.3 345.2,634.6 345.8,634.9 346.4,635.3 347.0,633.5 347.6,636.2 348.2,636.5 348.8,633.9 349.4,634.6 350.0,635.5 350.6,634.9 351.2,638.2 351.8,636.1 352.4,634.5 353.0,634.9 353.6,636.0 354.2,638.8 354.8,635.9 355.4,636.4 356.0,637.0 356.6,636.3 357.2,639.1 357.8,635.8 358.4,637.6 359.0,636.9 359.6,637.6 360.2,635.1 360.8,639.3 361.4,636.7 362.0,637.0 362.6,635.7 363.2,636.0 363.8,637.9 364.4,638.5 365.0,638.2 365.6,638.9 366.2,638.3 366.8,637.3 367.4,638.5 368.0,638.2 368.6,637.2 369.2,638.4 369.8,639.2 370.4,637.7 371.0,636.9 371.6,638.4 372.2,640.0 372.8,637.1 373.4,637.2 374.0,637.2 374.6,639.1 375.2,634.8 375.8,637.9 376.4,639.0 377.0,636.2 377.6,639.4 378.2,638.0 378.8,636.5 379.4,637.6 380.0,635.1 380.6,636.5 381.2,639.8 381.8,636.0 382.4,639.8 383.0,637.1 383.6,638.5 384.2,637.2 384.8,634.5 385.4,636.3 386.0,637.3 386.6,635.4 387.2,635.1 387.8,637.5 388.4,636.1 389.0,634.6 389.6,636.0 390.2,638.1 390.8,636.2 391.4,638.1 392.0,638.9 392.6,636.8 393.2,635.1 393.8,634.8 394.4,636.5 395.0,637.7 395.6,636.7 396.2,637.0 396.8,635.4 397.4,636.4 398.0,635.1 398.6,635.2 399.2,633.7 399.8,633.1 400.4,634.5 401.0,633.4 401.6,633.4 402.2,635.5 402.8,634.2 403.4,636.9 404.0,635.3 404.6,632.9 405.2,634.6 405.8,633.8 406.4,632.2 407.0,634.4 407.6,631.6 408.2,629.8 408.8,633.3 409.4,631.1 410.0,633.8 410.6,630.6 411.2,629.6 411.8,633.1 412.4,629.1 413.0,630.5 413.6,631.9 414.2,629.6 414.8,628.9 415.4,628.8 416.0,629.4 416.6,626.6 417.2,628.2 417.8,627.7 418.4,629.1 419.0,625.5 419.6,624.3 420.2,626.2 420.8,624.2 421.4,624.8 422.0,624.2 422.6,625.3 423.2,622.4 423.8,622.8 424.4,619.9 425.0,620.9 425.6,623.9 426.2,620.4 426.8,620.0 427.4,618.8 428.0,621.0 428.6,620.1 429.2,617.8 429.8,620.1 430.4,619.2 431.0,619.7 431.6,617.5 432.2,620.7 432.8,618.6 433.4,617.7 434.0,616.8 434.6,616.8 435.2,618.0 435.8,615.8 436.4,617.1 437.0,615.5 437.6,615.6 438.2,613.7 438.8,611.2 439.4,607.1 440.0,608.4 440.6,607.3 441.2,604.5 441.8,603.1 442.4,599.9 443.0,598.6 443.6,596.9 444.2,599.8 444.8,598.5 445.4,598.5 446.0,598.9 446.6,602.3 447.2,606.5 447.8,607.1 448.4,607.3 449.0,612.1 449.6,613.7 450.2,614.4 450.8,615.4 451.4,616.9 452.0,616.9 452.6,617.9 453.2,616.3 453.8,620.0 454.4,618.6 455.0,621.3 455.6,616.2 456.2,620.1 456.8,620.7 457.4,619.0 458.0,620.3 458.6,620.9 459.2,620.8 459.8,619.4 460.4,620.1 461.0,621.9 461.6,622.4 462.2,620.9 462.8,621.0 463.4,621.4 464.0,622.7 464.6,620.0 465.2,619.8 465.8,622.0 466.4,620.5 467.0,621.4 467.6,622.5 468.2,623.2 468.8,621.3 469.4,624.1 470.0,620.6 470.6,624.1 471.2,621.3 471.8,621.9 472.4,624.7 473.0,623.4 473.6,623.0 474.2,623.7 474.8,625.1 475.4,624.5 476.0,624.7 476.6,626.3 477.2,623.9 477.8,624.4 478.4,624.4 479.0,626.9 479.6,626.8 480.2,627.3 480.8,625.6 481.4,625.6 482.0,627.1 482.6,625.5 483.2,627.3 483.8,627.3 484.4,625.4 485.0,626.4 485.6,626.4 486.2,629.1 486.8,629.5 487.4,626.8 488.0,627.1 488.6,624.5 489.2,627.6 489.8,627.4 490.4,626.0 491.0,628.7 491.6,625.6 492.2,627.6 492.8,628.2 493.4,626.4 494.0,629.4 494.6,629.8 495.2,626.5 495.8,626.6 496.4,629.5 497.0,628.7 497.6,627.2 498.2,628.6 498.8,628.9 499.4,629.0 500.0,630.4 500.6,629.9 501.2,632.0 501.8,631.5 502.4,630.6 503.0,631.3 503.6,631.8 504.2,631.0 504.8,628.4 505.4,631.4 506.0,630.4 506.6,632.6 507.2,630.6 507.8,631.3 508.4,631.1 509.0,633.1 509.6,631.1 510.2,630.5 510.8,631.4 511.4,630.5 512.0,631.4 512.6,631.2 513.2,631.7 513.8,634.1 514.4,630.9 515.0,631.6 515.6,631.4 516.2,632.7 516.8,630.1 517.4,630.9 518.0,631.9 518.6,632.8 519.2,632.0 519.8,631.4 520.4,631.0 521.0,633.0 521.6,634.3 522.2,632.8 522.8,632.7 523.4,633.1 524.0,631.2 524.6,632.1 525.2,632.2 525.8,633.1 526.4,632.6 527.0,631.0 527.6,634.3 528.2,635.2 528.8,632.5 529.4,633.4 530.0,633.3 530.6,634.0 531.2,630.9 531.8,635.3 532.4,632.4 533.0,634.8 533.6,633.2 534.2,632.5 534.8,632.9 535.4,634.4 536.0,631.9 536.6,632.7 537.2,632.5 537.8,630.8 538.4,635.1 539.0,634.1 539.6,633.2 540.2,634.9 540.8,632.0 541.4,633.2 542.0,635.7 542.6,634.7 543.2,630.7 543.8,630.7 544.4,631.9 545.0,634.9 545.6,632.7 546.2,633.1 546.8,634.3 547.4,632.2 548.0,633.7 548.6,634.6 549.2,634.1 549.8,634.0 550.4,632.6 551.0,634.2 551.6,632.9 552.2,635.3 552.8,636.2 553.4,632.5 554.0,630.8 554.6,632.9 555.2,634.0 555.8,635.0 556.4,635.0 557.0,632.4 557.6,632.4 558.2,635.2 558.8,631.9 559.4,635.0 560.0,633.1 560.6,634.4 561.2,634.3 561.8,634.3 562.4,634.2 563.0,631.5 563.6,633.1 564.2,632.3 564.8,632.3 565.4,632.9 566.0,630.0 566.6,628.3 567.2,626.9 567.8,625.9 568.4,625.5 569.0,621.3 569.6,622.1 570.2,619.1 570.8,617.1 571.4,615.0 572.0,617.6 572.6,619.4 573.2,617.6 573.8,623.8 574.4,626.5 575.0,626.6 575.6,628.6 576.2,632.1 576.8,632.4 577.4,630.5 578.0,632.5 578.6,632.9 579.2,633.3 579.8,631.2 580.4,635.2 581.0,633.4 581.6,634.7 582.2,634.4 582.8,635.9 583.4,634.3 584.0,633.7 584.6,635.6 585.2,636.8 585.8,634.4 586.4,636.8 587.0,635.2 587.6,634.1 588.2,636.9 588.8,633.6 589.4,636.1 590.0,633.9 590.6,635.2 591.2,632.7 591.8,633.1 592.4,635.5 593.0,634.0 593.6,633.4 594.2,632.2 594.8,632.7 595.4,629.1 596.0,628.3 596.6,628.0 597.2,625.2 597.8,623.2 598.4,621.6 599.0,619.0 599.6,616.5 600.2,617.1 600.8,615.0 601.4,615.1 602.0,614.3 602.6,615.4 603.2,616.4 603.8,620.4 604.4,620.8 605.0,624.9 605.6,628.8 606.2,631.7 606.8,632.1 607.4,630.7 608.0,633.4 608.6,632.2 609.2,634.9 609.8,634.0 610.4,635.6 611.0,637.2 611.6,636.0 612.2,637.5 612.8,635.2 613.4,634.6 614.0,637.0 614.6,637.6 615.2,634.5 615.8,635.4 616.4,633.3 617.0,635.1 617.6,636.7 618.2,635.3 618.8,634.7 619.4,633.5 620.0,636.0 620.6,636.7 621.2,636.4 621.8,635.9 622.4,633.8 623.0,638.0 623.6,635.5 624.2,635.3 624.8,636.6 625.4,632.9 626.0,635.4 626.6,635.3 627.2,635.9 627.8,637.3 628.4,636.0 629.0,632.7 629.6,634.8 630.2,635.5 630.8,635.3 631.4,633.3 632.0,632.7 632.6,635.7 633.2,635.4 633.8,634.8 634.4,632.3 635.0,637.2 635.6,631.9 636.2,634.0 636.8,637.1 637.4,634.1 638.0,634.6 638.6,632.5 639.2,636.0 639.8,632.2 640.4,634.3 641.0,634.0 641.6,632.3 642.2,634.9 642.8,631.6 643.4,632.5 644.0,633.3 644.6,632.7 645.2,633.8 645.8,634.3 646.4,632.5 647.0,632.1 647.6,632.0 648.2,632.2 648.8,633.7 649.4,632.2 650.0,632.9 650.6,632.1 651.2,631.0 651.8,633.3 652.4,630.5 653.0,631.9 653.6,633.9 654.2,630.2 654.8,631.5 655.4,629.3 656.0,630.7 656.6,629.3 657.2,630.7 657.8,630.4 658.4,631.3 659.0,633.2 659.6,631.3 660.2,631.8 660.8,630.7 661.4,630.4 662.0,629.5 662.6,628.0 663.2,630.6 663.8,632.7 664.4,631.0 665.0,629.5 665.6,632.5 666.2,629.5 666.8,629.2 667.4,628.3 668.0,628.6 668.6,629.5 669.2,632.5 669.8,629.5 670.4,628.2 671.0,628.8 671.6,629.2 672.2,627.1 672.8,629.6 673.4,630.3 674.0,629.8 674.6,630.1 675.2,627.4 675.8,626.7 676.4,630.8 677.0,630.5 677.6,626.8 678.2,629.1 678.8,628.8 679.4,629.5 680.0,628.9 680.6,627.9 681.2,628.8 681.8,628.7 682.4,628.3 683.0,625.7 683.6,625.6 684.2,627.0 684.8,625.8 685.4,628.3 686.0,628.9 686.6,628.2 687.2,627.2 687.8,627.8 688.4,629.2 689.0,626.5 689.6,628.7 690.2,628.3 690.8,627.6 691.4,629.1 692.0,626.0 692.6,628.2 693.2,625.5 693.8,625.6 694.4,625.1 695.0,627.1 695.6,625.0 696.2,626.3 696.8,624.5 697.4,627.5 698.0,628.4 698.6,626.0 699.2,627.9 699.8,626.2 700.4,628.0 701.0,625.3 701.6,622.8 702.2,626.8 702.8,624.4 703.4,622.9 704.0,623.1 704.6,621.5 705.2,623.3 705.8,621.7 706.4,624.9 707.0,623.5 707.6,619.9 708.2,619.7 708.8,620.7 709.4,618.4 710.0,620.5 710.6,620.2 711.2,618.8 711.8,618.6 712.4,619.6 713.0,620.5 713.6,620.1 714.2,617.6 714.8,618.3 715.4,615.6 716.0,616.7 716.6,614.2 717.2,616.1 717.8,612.8 718.4,612.7 719.0,613.5 719.6,613.7 720.2,610.4 720.8,611.1 721.4,611.5 722.0,611.1 722.6,609.1 723.2,609.8 723.8,608.7 724.4,610.5 725.0,608.8 725.6,605.6 726.2,604.3 726.8,606.5 727.4,607.4 728.0,605.5 728.6,605.9 729.2,603.5 729.8,601.7 730.4,604.1 731.0,602.6 731.6,602.9 732.2,599.5 732.8,601.2 733.4,599.5 734.0,601.0 734.6,598.6 735.2,598.1 735.8,597.6 736.4,599.7 737.0,597.5 737.6,596.0 738.2,595.2 738.8,594.7 739.4,597.7 740.0,592.8 740.6,593.7 741.2,595.3 741.8,595.7 742.4,593.5 743.0,594.4 743.6,594.0 744.2,593.9 744.8,592.2 745.4,594.0 746.0,591.7 746.6,593.1 747.2,589.1 747.8,591.5 748.4,588.1 749.0,587.4 749.6,589.6 750.2,587.4 750.8,588.7 751.4,586.2 752.0,589.2 752.6,586.6 753.2,584.6 753.8,585.8 754.4,586.2 755.0,583.5 755.6,584.6 756.2,585.8 756.8,583.9 757.4,582.2 758.0,580.9 758.6,581.8 759.2,578.5 759.8,577.4 760.4,578.3 761.0,577.0 761.6,579.6 762.2,576.8 762.8,574.5 763.4,573.2 764.0,573.7 764.6,570.8 765.2,569.2 765.8,567.5 766.4,565.0 767.0,561.7 767.6,557.9 768.2,553.6 768.8,548.4 769.4,541.6 770.0,535.4 770.6,527.5 771.2,519.6 771.8,510.8 772.4,502.7 773.0,494.7 773.6,487.8 774.2,482.5 774.8,479.1 775.4,477.9 776.0,479.8 776.6,484.0 777.2,490.2 777.8,497.6 778.4,506.1 779.0,515.1 779.6,523.9 780.2,532.5 780.8,541.3 781.4,548.4 782.0,555.2 782.6,560.9 783.2,567.0 783.8,572.4 784.4,575.8 785.0,580.9 785.6,584.1 786.2,590.7 786.8,593.7 787.4,595.4 788.0,601.1 788.6,603.2 789.2,605.9 789.8,608.1 790.4,608.7 791.0,610.6 791.6,613.7 792.2,614.5 792.8,615.0 793.4,620.0 794.0,618.9 794.6,619.8 795.2,621.0 795.8,624.0 796.4,625.5 797.0,625.6 797.6,627.3 798.2,625.0 798.8,627.2 799.4,627.6 800.0,628.7 800.6,629.7 801.2,626.7 801.8,632.1 802.4,628.8 803.0,630.7 803.6,631.6 804.2,631.9 804.8,631.3 805.4,628.5 806.0,629.9 806.6,632.7 807.2,630.6 807.8,630.6 808.4,629.5 809.0,634.0 809.6,633.2 810.2,631.5 810.8,632.6 811.4,632.8 812.0,631.6 812.6,632.8 813.2,633.7 813.8,634.2 814.4,635.3 815.0,633.7 815.6,633.2 816.2,634.4 816.8,633.1 817.4,632.4 818.0,635.8 818.6,633.8 819.2,634.6 819.8,635.4 820.4,633.1 821.0,635.6 821.6,635.4 822.2,634.7 822.8,635.5 823.4,634.0 824.0,632.5 824.6,634.8 825.2,634.0 825.8,636.6 826.4,635.8 827.0,634.8 827.6,635.7 828.2,637.5 828.8,637.3 829.4,636.3 830.0,636.5 830.6,635.5 831.2,635.8 831.8,636.9 832.4,635.9 833.0,636.6 833.6,634.7 834.2,634.0 834.8,634.0 835.4,635.8 836.0,638.3 836.6,638.1 837.2,635.2 837.8,634.4 838.4,637.7 839.0,637.3 839.6,634.8 840.2,638.2 840.8,637.0 841.4,638.7 842.0,637.3 842.6,638.1 843.2,637.3 843.8,635.6 844.4,636.6 845.0,636.0 845.6,638.1 846.2,635.5 846.8,634.7 847.4,637.8 848.0,638.3 848.6,638.6 849.2,638.0 849.8,634.2 850.4,635.1 851.0,635.0 851.6,635.4 852.2,632.4 852.8,634.7 853.4,634.6 854.0,632.4 854.6,633.4 855.2,634.3 855.8,632.3 856.4,633.3 857.0,632.9 857.6,632.0 858.2,631.9 858.8,631.1 859.4,633.7 860.0,631.8 860.6,632.0 861.2,634.6 861.8,633.2 862.4,635.4 863.0,636.9 863.6,636.0 864.2,636.6 864.8,638.1 865.4,638.3 866.0,635.4 866.6,636.1 867.2,640.0 867.8,638.9 868.4,635.9 869.0,636.8 869.6,638.9 870.2,637.6 870.8,639.7 871.4,639.2 872.0,639.9 872.6,637.6 873.2,640.2 873.8,642.0 874.4,638.3 875.0,641.3 875.6,640.9 876.2,640.5 876.8,639.5 877.4,638.0 878.0,638.5 878.6,640.8 879.2,641.1 879.8,641.5 880.4,641.1 881.0,641.1 881.6,639.2 882.2,638.1 882.8,640.1 883.4,640.6 884.0,640.0 884.6,637.8 885.2,639.2 885.8,637.9 886.4,640.1 887.0,638.5 887.6,639.7 888.2,640.4 888.8,640.2 889.4,641.9 890.0,638.5 890.6,637.3 891.2,641.4 891.8,642.0 892.4,642.1 893.0,640.5 893.6,640.8 894.2,640.3 894.8,638.3 895.4,639.3 896.0,640.8 896.6,639.3 897.2,642.8 897.8,638.0 898.4,639.6 899.0,641.7 899.6,639.3 900.2,638.6 900.8,638.3 901.4,639.2 902.0,642.3 902.6,640.8 903.2,641.0 903.8,639.5 904.4,641.4 905.0,640.4 905.6,639.0 906.2,639.6 906.8,640.6 907.4,641.9 908.0,640.2 908.6,641.0 909.2,642.9 909.8,639.2 910.4,638.6 911.0,641.7 911.6,640.9 912.2,640.2 912.8,640.7 913.4,639.9 914.0,641.1 914.6,639.9 915.2,641.5 915.8,638.7 916.4,639.2 917.0,640.5 917.6,639.7 918.2,641.4 918.8,640.3 919.4,639.6 920.0,640.7 920.6,639.7 921.2,638.2 921.8,638.8 922.4,639.3 923.0,639.8 923.6,640.6 924.2,641.7 924.8,641.2 925.4,642.9 926.0,642.2 926.6,640.2 927.2,642.7 927.8,642.1 928.4,639.8 929.0,640.9 929.6,642.0 930.2,640.8 930.8,641.9 931.4,641.0 932.0,641.4 932.6,640.0 933.2,641.0 933.8,639.9 934.4,641.4 935.0,638.1 935.6,640.9 936.2,642.2 936.8,641.2 937.4,640.4 938.0,641.2 938.6,639.2 939.2,639.2 939.8,639.9 940.4,640.2 941.0,641.7 941.6,639.1 942.2,641.8 942.8,638.2 943.4,639.2 944.0,640.3 944.6,641.9 945.2,639.4 945.8,637.6 946.4,640.8 947.0,640.2 947.6,638.7 948.2,638.7 948.8,639.1 949.4,640.1 950.0,640.8 950.6,637.7 951.2,642.2 951.8,639.3 952.4,638.6 953.0,639.7 953.6,638.6 954.2,640.6 954.8,639.1 955.4,636.6 956.0,636.1 956.6,635.6 957.2,635.5 957.8,636.8 958.4,635.0 959.0,638.3 959.6,636.3 960.2,636.6 960.8,638.6 961.4,635.0 962.0,636.9 962.6,639.4 963.2,638.9 963.8,639.2 964.4,640.0 965.0,638.8 965.6,639.6 966.2,638.0 966.8,637.4 967.4,641.9 968.0,638.9 968.6,639.2 969.2,642.2 969.8,641.8 970.4,639.6 971.0,639.6 971.6,640.2 972.2,639.0 972.8,641.1 973.4,640.6 974.0,640.6 974.6,641.4 975.2,641.4 975.8,643.0 976.4,642.5 977.0,638.0 977.6,641.7 978.2,638.9 978.8,638.4 979.4,641.4 980.0,639.5 980.6,640.0 981.2,641.9 981.8,639.5 982.4,639.2 983.0,640.9 983.6,642.2 984.2,641.3 984.8,638.4 985.4,639.7 986.0,640.4 986.6,643.2 987.2,641.9 987.8,641.9 988.4,642.4 989.0,640.3 989.6,641.4 990.2,641.5 990.8,639.5 991.4,640.9 992.0,641.7 992.6,639.4 993.2,642.1 993.8,642.1 994.4,642.5 995.0,640.0 995.6,641.3 996.2,643.3 996.8,642.4 997.4,640.2 998.0,641.7 998.6,643.4 999.2,641.4 999.8,642.0 1000.4,644.2 1001.0,641.6 1001.6,641.5 1002.2,640.3 1002.8,640.8 1003.4,643.9 1004.0,641.7 1004.6,640.3 1005.2,640.7 1005.8,642.0 1006.4,643.1 1007.0,641.1 1007.6,643.2 1008.2,641.5 1008.8,642.8 1009.4,643.0 1010.0,643.2 1010.6,641.8 1011.2,642.2 1011.8,643.2 1012.4,640.7 1013.0,642.8 1013.6,643.3 1014.2,644.1 1014.8,642.6 1015.4,642.5 1016.0,643.0 1016.6,641.8 1017.2,642.5 1017.8,643.4 1018.4,643.3 1019.0,641.4 1019.6,642.5 1020.2,640.3 1020.8,644.1 1021.4,642.3 1022.0,643.4 1022.6,641.5 1023.2,643.0 1023.8,643.7 1024.4,644.5 1025.0,641.3 1025.6,644.4 1026.2,643.0 1026.8,642.1 1027.4,643.9 1028.0,642.9 1028.6,642.9 1029.2,642.3 1029.8,643.7 1030.4,643.4 1031.0,643.2 1031.6,642.1 1032.2,642.7 1032.8,644.0 1033.4,645.3 1034.0,643.5 1034.6,645.5 1035.2,643.6 1035.8,642.1 1036.4,644.5 1037.0,642.3 1037.6,644.2 1038.2,645.2 1038.8,643.3 1039.4,643.6 1040.0,646.5 1040.6,644.1 1041.2,644.2 1041.8,645.0 1042.4,643.7 1043.0,643.8 1043.6,644.5 1044.2,641.3 1044.8,646.0 1045.4,642.5 1046.0,642.5 1046.6,644.8 1047.2,644.1 1047.8,642.4 1048.4,644.4 1049.0,642.6 1049.6,643.2 1050.2,642.1 1050.8,643.1 1051.4,644.8 1052.0,644.4 1052.6,644.7 1053.2,645.6 1053.8,644.3 1054.4,643.4 1055.0,644.0 1055.6,646.7 1056.2,644.4 1056.8,644.9 1057.4,644.3 1058.0,644.8 1058.6,645.1 1059.2,644.5 1059.8,644.3 1060.4,643.4 1061.0,643.3 1061.6,645.1 1062.2,645.6 1062.8,645.8 1063.4,644.6 1064.0,643.3 1064.6,645.3 1065.2,645.3 1065.8,642.3 1066.4,645.4 1067.0,645.0 1067.6,646.4 1068.2,642.3 1068.8,641.8 1069.4,644.4 1070.0,640.5 1070.6,641.6 1071.2,640.6 1071.8,640.3 1072.4,638.6 1073.0,640.6 1073.6,642.0 1074.2,641.1 1074.8,641.2 1075.4,640.3 1076.0,643.2 1076.6,642.3 1077.2,643.5 1077.8,640.4 1078.4,643.5 1079.0,641.8 1079.6,644.2 1080.2,644.4 1080.8,642.8 1081.4,644.8 1082.0,646.3 1082.6,645.6 1083.2,645.8 1083.8,643.9 1084.4,644.2 1085.0,643.6 1085.6,645.4 1086.2,646.9 1086.8,645.9 1087.4,645.3 1088.0,643.8 1088.6,646.0 1089.2,645.0 1089.8,642.7 1090.4,643.0 1091.0,644.9 1091.6,644.1 1092.2,647.6 1092.8,645.3 1093.4,643.7 1094.0,644.4 1094.6,647.2 1095.2,643.5 1095.8,645.6 1096.4,644.9 1097.0,646.0 1097.6,644.4 1098.2,642.7 1098.8,643.6 1099.4,642.6 1100.0,643.5 1100.6,641.8 1101.2,644.5 1101.8,641.8 1102.4,642.7 1103.0,641.5 1103.6,643.0 1104.2,643.3 1104.8,643.9 1105.4,645.3 1106.0,643.7 1106.6,643.6 1107.2,646.6 1107.8,644.9 1108.4,644.5 1109.0,647.2 1109.6,646.8 1110.2,643.1 1110.8,645.3 1111.4,647.0 1112.0,647.1 1112.6,645.3 1113.2,648.2 1113.8,645.0 1114.4,645.8 1115.0,646.3 1115.6,646.1 1116.2,647.3 1116.8,647.6 1117.4,646.1 1118.0,648.2 1118.6,645.3 1119.2,645.9 1119.8,648.7 1120.4,646.4 1121.0,647.8 1121.6,645.7 1122.2,645.9 1122.8,646.2 1123.4,646.6 1124.0,645.9 1124.6,646.4 1125.2,647.3 1125.8,648.0 1126.4,646.5 1127.0,647.3 1127.6,647.6 1128.2,644.9 1128.8,644.2 1129.4,648.6 1130.0,648.2 1130.6,646.5 1131.2,646.9 1131.8,645.1 1132.4,644.5 1133.0,646.8 1133.6,644.3 1134.2,647.7 1134.8,645.4 1135.4,646.8 1136.0,649.0 1136.6,649.0 1137.2,646.0 1137.8,647.9 1138.4,645.0 1139.0,645.6 1139.6,646.9 1140.2,648.3 1140.8,645.6 1141.4,647.1 1142.0,646.5 1142.6,644.6 1143.2,646.2 1143.8,648.5 1144.4,646.3 1145.0,647.1 1145.6,647.5 1146.2,645.4 1146.8,648.1 1147.4,648.5 1148.0,648.6 1148.6,648.2 1149.2,645.7 1149.8,645.6 1150.4,645.3 1151.0,645.1 1151.6,645.3 1152.2,647.8 1152.8,648.4 1153.4,645.5 1154.0,647.5 1154.6,644.6 1155.2,645.9 1155.8,645.0 1156.4,644.1 1157.0,646.5 1157.6,646.5 1158.2,645.8 1158.8,645.7 1159.4,645.0 1160.0,646.2 1160.6,645.5 1161.2,646.7 1161.8,644.7 1162.4,646.7 1163.0,647.1 1163.6,648.1 1164.2,647.8 1164.8,646.6 1165.4,645.4 1166.0,643.8 1166.6,646.4 1167.2,648.4 1167.8,648.7 1168.4,643.7 1169.0,645.3 1169.6,645.9 1170.2,644.9 1170.8,646.6 1171.4,646.4 1172.0,645.6 1172.6,646.3 1173.2,644.1 1173.8,645.0 1174.4,645.1 1175.0,647.6 1175.6,644.1 1176.2,646.1 1176.8,647.5 1177.4,646.3 1178.0,647.5 1178.6,645.5 1179.2,647.0 1179.8,647.6 1180.4,649.0 1181.0,647.4 1181.6,648.4 1182.2,646.4 1182.8,646.5 1183.4,648.6 1184.0,647.2 1184.6,648.4 1185.2,647.4 1185.8,649.0 1186.4,649.0 1187.0,645.2 1187.6,649.0 1188.2,647.0 1188.8,647.0 1189.4,646.2 1190.0,647.4 1190.6,644.8 1191.2,645.4 1191.8,645.3 1192.4,646.8 1193.0,647.7 1193.6,647.4 1194.2,646.9 1194.8,645.6 1195.4,643.9 1196.0,646.9 1196.6,646.6 1197.2,646.9 1197.8,648.4 1198.4,646.1 1199.0,646.1 1199.6,643.7 1200.2,647.2 1200.8,646.3 1201.4,645.3 1202.0,646.9 1202.6,644.9 1203.2,645.6 1203.8,649.0 1204.4,647.4 1205.0,647.7 1205.6,647.4 1206.2,647.3 1206.8,646.6 1207.4,649.0 1208.0,646.3 1208.6,647.4 1209.2,646.0 1209.8,645.9 1210.4,643.7 1211.0,643.6 1211.6,648.5 1212.2,648.4 1212.8,645.7 1213.4,646.3 1214.0,647.2 1214.6,644.9 1215.2,648.8 1215.8,644.9 1216.4,645.3 1217.0,643.6 1217.6,648.4 1218.2,646.4 1218.8,648.6 1219.4,644.9 1220.0,646.7 1220.6,646.4 1221.2,646.5 1221.8,648.9 1222.4,648.9 1223.0,648.2 1223.6,645.7 1224.2,647.5 1224.8,648.1 1225.4,647.0 1226.0,647.0 1226.6,646.8 1227.2,644.9 1227.8,646.4 1228.4,648.3 1229.0,644.6 1229.6,646.1 1230.2,647.1 1230.8,644.0 1231.4,645.6 1232.0,643.4 1232.6,644.8 1233.2,643.6 1233.8,644.2 1234.4,644.6 1235.0,644.8 1235.6,644.7 1236.2,642.1 1236.8,646.7 1237.4,643.9 1238.0,642.5 1238.6,642.8 1239.2,643.9 1239.8,641.7 1240.4,642.3 1241.0,641.9 1241.6,643.1 1242.2,641.1 1242.8,642.6 1243.4,642.4 1244.0,641.7 1244.6,643.7 1245.2,642.1 1245.8,640.7 1246.4,643.0 1247.0,643.0 1247.6,643.1 1248.2,643.7 1248.8,646.4 1249.4,644.3 1250.0,644.9 1250.6,644.2 1251.2,646.6 1251.8,644.9 1252.4,644.0 1253.0,643.6 1253.6,646.2 1254.2,646.6 1254.8,643.4 1255.4,644.7 1256.0,646.7 1256.6,647.3 1257.2,644.1 1257.8,645.4 1258.4,647.2 1259.0,645.3 1259.6,645.4 1260.2,645.3 1260.8,644.3 1261.4,646.2 1262.0,646.6 1262.6,644.2 1263.2,646.3 1263.8,647.7 1264.4,646.5 1265.0,647.5 1265.6,645.4 1266.2,648.1 1266.8,645.1 1267.4,648.9 1268.0,645.6 1268.6,645.2 1269.2,645.0 1269.8,645.7 1270.4,645.6 1271.0,645.3 1271.6,645.8 1272.2,647.2 1272.8,647.5 1273.4,645.8 1274.0,648.0 1274.6,644.9 1275.2,644.8 1275.8,644.7 1276.4,647.1 1277.0,644.1 1277.6,644.3 1278.2,648.1 1278.8,648.7 1279.4,648.2 1280.0,644.2 1280.6,646.3 1281.2,647.5 1281.8,646.4 1282.4,644.0 1283.0,645.8 1283.6,643.9 1284.2,644.6 1284.8,649.0 1285.4,647.2 1286.0,644.2 1286.6,644.2 1287.2,646.9 1287.8,645.4 1288.4,647.1 1289.0,645.4 1289.6,646.0 1290.2,646.6 1290.8,644.8 1291.4,643.6 1292.0,644.6 1292.6,645.3 1293.2,646.0 1293.8,646.2 1294.4,646.2 1295.0,647.0 1295.6,645.0 1296.2,648.2 1296.8,648.9 1297.4,646.8 1298.0,646.5 1298.6,648.0 1299.2,647.2 1299.8,646.5 1300.4,646.0 1301.0,645.2 1301.6,644.6 1302.2,647.1 1302.8,647.9 1303.4,644.7 1304.0,646.1 1304.6,646.5 1305.2,645.5 1305.8,645.0 1306.4,645.5 1307.0,643.4 1307.6,645.9 1308.2,645.6 1308.8,648.6 1309.4,647.2 1310.0,645.3 1310.6,645.7 1311.2,648.0 1311.8,647.7 1312.4,645.6 1313.0,645.1 1313.6,643.1 1314.2,644.5 1314.8,644.5 1315.4,643.6 1316.0,646.9 1316.6,641.7 1317.2,644.0 1317.8,644.6 1318.4,644.5 1319.0,646.2 1319.6,641.9 1320.2,642.8 1320.8,644.1 1321.4,644.2 1322.0,643.6 1322.6,643.2 1323.2,645.9 1323.8,643.1 1324.4,643.9 1325.0,646.9 1325.6,647.5 1326.2,646.4 1326.8,644.1 1327.4,644.2 1328.0,644.3 1328.6,644.0 1329.2,645.1 1329.8,647.5 1330.4,646.1 1331.0,644.8 1331.6,644.8 1332.2,644.3 1332.8,647.7 1333.4,643.4 1334.0,646.4 1334.6,644.0 1335.2,644.6 1335.8,644.0 1336.4,647.4 1337.0,645.9 1337.6,648.8 1338.2,644.6 1338.8,644.5 1339.4,646.9 1340.0,646.8 1340.6,645.7 1341.2,643.4 1341.8,648.1 1342.4,646.8 1343.0,646.6 1343.6,645.2 1344.2,646.9 1344.8,645.3 1345.4,646.1 1346.0,645.8 1346.6,647.8 1347.2,645.4 1347.8,645.5 1348.4,647.6 1349.0,646.3 1349.6,646.0 1350.2,645.7 1350.8,647.3 1351.4,645.1 1352.0,646.6 1352.6,648.7 1353.2,646.5 1353.8,644.9 1354.4,644.3 1355.0,646.2 1355.6,644.2 1356.2,643.7 1356.8,644.9 1357.4,644.4 1358.0,647.1 1358.6,643.9 1359.2,648.1 1359.8,644.8 1360.4,646.1 1361.0,646.8 1361.6,646.2 1362.2,646.9 1362.8,644.5 1363.4,643.3 1364.0,645.6 1364.6,643.5 1365.2,645.0 1365.8,647.1 1366.4,645.5 1367.0,645.0 1367.6,644.2 1368.2,645.4 1368.8,645.5 1369.4,643.6 1370.0,646.2 1370.6,644.3 1371.2,646.1 1371.8,645.1 1372.4,647.1 1373.0,646.9 1373.6,645.7 1374.2,645.6 1374.8,646.3 1375.4,647.6 1376.0,647.2 1376.6,645.9 1377.2,646.1 1377.8,647.9 1378.4,643.4 1379.0,646.5 1379.6,644.4 1380.2,647.6 1380.8,645.0 1381.4,645.5 1382.0,644.2 1382.6,645.7 1383.2,646.8 1383.8,648.0 1384.4,643.9 1385.0,645.0 1385.6,648.3 1386.2,647.0 1386.8,645.6 1387.4,646.4 1388.0,643.0 1388.6,647.9 1389.2,645.8 1389.8,643.6 1390.4,647.2 1391.0,644.7 1391.6,644.1 1392.2,646.3 1392.8,646.1 1393.4,644.9 1394.0,645.4 1394.6,643.6 1395.2,643.4 1395.8,646.7 1396.4,647.3 1397.0,646.0 1397.6,645.9 1398.2,644.8 1398.8,645.2 1399.4,644.0 1400.0,647.8 1400.6,644.5 1401.2,645.9 1401.8,645.3 1402.4,643.3 1403.0,647.9 1403.6,644.7 1404.2,644.1 1404.8,645.3 1405.4,643.9 1406.0,645.2 1406.6,643.8 1407.2,645.9 1407.8,645.2 1408.4,643.1 1409.0,646.5 1409.6,645.3 1410.2,643.4 1410.8,645.5 1411.4,645.5 1412.0,647.5 1412.6,643.7 1413.2,646.1 1413.8,644.7 1414.4,645.7 1415.0,644.4 1415.6,644.7 1416.2,645.5 1416.8,643.1 1417.4,642.0 1418.0,644.7 1418.6,644.0 1419.2,644.8 1419.8,645.5 1420.4,644.3 1421.0,646.2 1421.6,644.5 1422.2,644.7 1422.8,645.6 1423.4,645.3 1424.0,644.3 1424.6,644.6 1425.2,643.3 1425.8,643.5 1426.4,644.5 1427.0,645.4 1427.6,643.6 1428.2,645.4 1428.8,646.8 1429.4,646.8 1430.0,644.2 1430.6,645.6 1431.2,644.9 1431.8,645.2 1432.4,645.2 1433.0,644.7 1433.6,645.1 1434.2,644.2 1434.8,643.5 1435.4,644.2 1436.0,644.5 1436.6,645.5 1437.2,644.3 1437.8,644.7 1438.4,645.7 1439.0,642.3 1439.6,643.2 1440.2,644.3 1440.8,643.5 1441.4,642.0 1442.0,644.7 1442.6,643.1 1443.2,641.7 1443.8,645.6 1444.4,641.1 1445.0,642.8 1445.6,641.7 1446.2,642.6 1446.8,643.1 1447.4,640.9 1448.0,641.7 1448.6,641.5 1449.2,640.0 1449.8,642.8 1450.4,641.1 1451.0,640.2 1451.6,639.4 1452.2,639.7 1452.8,640.1 1453.4,639.1 1454.0,641.4 1454.6,636.8 1455.2,636.8 1455.8,639.2 1456.4,637.1 1457.0,639.7 1457.6,639.1 1458.2,641.0 1458.8,641.0 1459.4,642.4 1460.0,642.1 1460.6,642.7 1461.2,641.9 1461.8,642.8 1462.4,642.2 1463.0,640.8 1463.6,639.9 1464.2,640.1 1464.8,642.5 1465.4,639.2 1466.0,642.2 1466.6,640.9 1467.2,643.1 1467.8,642.3 1468.4,641.0 1469.0,642.1 1469.6,639.3 1470.2,642.4 1470.8,642.7 1471.4,639.5 1472.0,643.2 1472.6,641.8 1473.2,642.2 1473.8,640.0 1474.4,642.8 1475.0,642.8 1475.6,641.9 1476.2,640.5 1476.8,642.9 1477.4,643.6 1478.0,642.4 1478.6,643.2 1479.2,641.0 1479.8,642.0 1480.4,642.3 1481.0,641.9 1481.6,644.3 1482.2,642.3 1482.8,640.9 1483.4,642.8 1484.0,640.1 1484.6,642.1 1485.2,642.7 1485.8,640.9 1486.4,641.1 1487.0,640.2 1487.6,641.7 1488.2,640.6 1488.8,643.9 1489.4,642.4 1490.0,641.1 1490.6,639.4 1491.2,643.9 1491.8,643.2 1492.4,642.0 1493.0,641.6 1493.6,641.6 1494.2,640.6 1494.8,643.8 1495.4,641.5 1496.0,639.2 1496.6,640.3 1497.2,638.4 1497.8,642.1 1498.4,642.2 1499.0,643.6 1499.6,643.6 1500.2,640.0 1500.8,641.7 1501.4,642.5 1502.0,642.1 1502.6,640.3 1503.2,642.1 1503.8,641.7 1504.4,642.9 1505.0,640.9 1505.6,640.6 1506.2,640.2 1506.8,640.4 1507.4,639.8 1508.0,640.4 1508.6,641.5 1509.2,641.4 1509.8,642.6 1510.4,642.3 1511.0,641.6 1511.6,639.1 1512.2,641.5 1512.8,642.3 1513.4,638.9 1514.0,639.1 1514.6,639.3 1515.2,639.2 1515.8,640.2 1516.4,639.3 1517.0,641.1 1517.6,638.9 1518.2,640.4 1518.8,639.8 1519.4,639.1 1520.0,641.9 1520.6,640.5 1521.2,641.2 1521.8,640.0 1522.4,641.4 1523.0,641.3 1523.6,640.2 1524.2,637.9 1524.8,641.5 1525.4,641.3 1526.0,640.6 1526.6,640.7 1527.2,640.5 1527.8,640.6 1528.4,638.9 1529.0,640.2 1529.6,640.7 1530.2,639.4 1530.8,638.9 1531.4,642.8 1532.0,641.1 1532.6,639.8 1533.2,639.5 1533.8,637.4 1534.4,638.2 1535.0,639.8 1535.6,641.9 1536.2,637.4 1536.8,639.1 1537.4,642.7 1538.0,641.0 1538.6,640.7 1539.2,641.7 1539.8,639.9 1540.4,639.8 1541.0,641.0 1541.6,641.2 1542.2,638.5 1542.8,642.1 1543.4,637.5 1544.0,639.0 1544.6,642.5 1545.2,639.2 1545.8,640.8 1546.4,638.5 1547.0,639.5 1547.6,638.9 1548.2,639.3 1548.8,640.8 1549.4,642.3 1550.0,641.1 1550.6,642.0 1551.2,639.1 1551.8,641.8 1552.4,640.6 1553.0,641.7 1553.6,639.2 1554.2,639.4 1554.8,641.6 1555.4,640.6 1556.0,639.8 1556.6,638.7 1557.2,639.5 1557.8,640.3 1558.4,640.6 1559.0,638.8 1559.6,639.1 1560.2,640.2 1560.8,638.0 1561.4,640.8 1562.0,639.5 1562.6,639.3 1563.2,636.8 1563.8,637.2 1564.4,638.0 1565.0,638.6 1565.6,637.8 1566.2,639.9 1566.8,639.5 1567.4,638.9 1568.0,636.6 1568.6,641.2 1569.2,638.9 1569.8,640.1 1570.4,638.3 1571.0,639.2 1571.6,640.2 1572.2,639.5 1572.8,640.5 1573.4,638.9 1574.0,641.8 1574.6,636.4 1575.2,638.3 1575.8,640.4 1576.4,638.7 1577.0,638.4 1577.6,636.5 1578.2,640.6 1578.8,636.3 1579.4,639.6 1580.0,639.2 1580.6,640.1 1581.2,640.9 1581.8,637.8 1582.4,637.6 1583.0,638.3 1583.6,636.3 1584.2,639.9 1584.8,638.1 1585.4,638.9 1586.0,637.0 1586.6,638.6 1587.2,637.7 1587.8,638.4 1588.4,637.0 1589.0,639.9 1589.6,637.5 1590.2,635.8 1590.8,639.3 1591.4,637.9 1592.0,637.1 1592.6,641.0 1593.2,638.2 1593.8,636.4 1594.4,637.4 1595.0,638.7 1595.6,637.8 1596.2,639.9 1596.8,639.6 1597.4,636.9 1598.0,638.1 1598.6,638.9 1599.2,637.4 1599.8,637.3 1600.4,639.1 1601.0,638.5 1601.6,635.8 1602.2,637.0 1602.8,637.1 1603.4,637.5 1604.0,636.6 1604.6,639.4 1605.2,636.1 1605.8,635.8 1606.4,637.5 1607.0,634.5 1607.6,635.6 1608.2,637.8 1608.8,635.0 1609.4,635.6 1610.0,638.2 1610.6,637.2 1611.2,636.5 1611.8,636.7 1612.4,635.2 1613.0,636.5 1613.6,635.7 1614.2,638.5 1614.8,636.5 1615.4,635.1 1616.0,635.4 1616.6,635.4 1617.2,633.3 1617.8,633.9 1618.4,637.1 1619.0,632.9 1619.6,633.9 1620.2,636.0 1620.8,636.6 1621.4,632.9 1622.0,636.3 1622.6,633.6 1623.2,636.3 1623.8,634.6 1624.4,633.4 1625.0,634.7 1625.6,634.4 1626.2,632.4 1626.8,636.0 1627.4,632.8 1628.0,634.8 1628.6,632.4 1629.2,630.4 1629.8,631.3 1630.4,632.7 1631.0,633.7 1631.6,635.2 1632.2,632.7 1632.8,632.2 1633.4,630.8 1634.0,632.4 1634.6,632.9 1635.2,629.8 1635.8,634.2 1636.4,633.9 1637.0,635.0 1637.6,631.0 1638.2,632.4 1638.8,632.3 1639.4,630.4 1640.0,631.1 1640.6,630.9 1641.2,633.0 1641.8,632.9 1642.4,634.1 1643.0,631.7 1643.6,630.3 1644.2,632.8 1644.8,632.7 1645.4,633.1 1646.0,633.9 1646.6,631.4 1647.2,633.3 1647.8,630.8 1648.4,632.4 1649.0,633.1 1649.6,632.0 1650.2,632.4 1650.8,630.2 1651.4,631.2 1652.0,632.3 1652.6,630.4 1653.2,630.9 1653.8,634.8 1654.4,632.4 1655.0,630.9 1655.6,630.6 1656.2,634.0 1656.8,629.4 1657.4,631.5 1658.0,632.8 1658.6,631.2 1659.2,632.7 1659.8,630.5 1660.4,631.9 1661.0,632.0 1661.6,631.9 1662.2,632.1 1662.8,631.9 1663.4,633.4 1664.0,631.5 1664.6,631.0 1665.2,631.5 1665.8,631.4 1666.4,629.7 1667.0,629.3 1667.6,629.9 1668.2,632.2 1668.8,630.9 1669.4,631.2 1670.0,634.6 1670.6,633.4 1671.2,631.5 1671.8,630.9 1672.4,633.7 1673.0,630.7 1673.6,633.5 1674.2,632.6 1674.8,633.7 1675.4,630.7 1676.0,633.0 1676.6,629.2 1677.2,631.5 1677.8,633.2 1678.4,632.6 1679.0,629.2 1679.6,632.6 1680.2,632.3 1680.8,631.5 1681.4,630.6 1682.0,631.2 1682.6,630.8 1683.2,632.9 1683.8,632.2 1684.4,633.1 1685.0,632.5 1685.6,629.7 1686.2,631.7 1686.8,634.4 1687.4,629.9 1688.0,631.9 1688.6,630.4 1689.2,630.2 1689.8,631.7 1690.4,632.7 1691.0,632.5 1691.6,632.0 1692.2,632.7 1692.8,629.0 1693.4,632.4 1694.0,631.8 1694.6,631.0 1695.2,631.2 1695.8,630.0 1696.4,632.8 1697.0,630.1 1697.6,629.0 1698.2,631.0 1698.8,630.2 1699.4,630.9 1700.0,633.0 1700.6,630.7 1701.2,631.0 1701.8,633.6 1702.4,628.7 1703.0,631.1 1703.6,632.2 1704.2,632.6 1704.8,633.2 1705.4,629.3 1706.0,631.0 1706.6,629.9 1707.2,629.2 1707.8,628.7 1708.4,627.5 1709.0,629.9 1709.6,630.3 1710.2,627.5 1710.8,629.9 1711.4,627.8 1712.0,627.0 1712.6,625.7 1713.2,629.5 1713.8,628.7 1714.4,627.0 1715.0,626.7 1715.6,625.1 1716.2,627.4 1716.8,626.4 1717.4,627.0 1718.0,626.3 1718.6,623.9 1719.2,623.5 1719.8,626.1 1720.4,623.0 1721.0,625.7 1721.6,626.5 1722.2,623.4 1722.8,626.2 1723.4,625.4 1724.0,626.2 1724.6,624.6 1725.2,625.6 1725.8,626.4 1726.4,628.6 1727.0,627.3 1727.6,627.2 1728.2,624.9 1728.8,627.4 1729.4,626.2 1730.0,627.3 1730.6,628.0 1731.2,629.2 1731.8,628.9 1732.4,628.5 1733.0,628.4 1733.6,630.6 1734.2,627.6 1734.8,629.0 1735.4,631.1 1736.0,629.0 1736.6,630.6 1737.2,630.8 1737.8,632.4 1738.4,631.4 1739.0,627.6 1739.6,630.0 1740.2,630.5 1740.8,631.3 1741.4,630.7 1742.0,632.9 1742.6,631.8 1743.2,628.7 1743.8,629.5 1744.4,627.8 1745.0,632.9 1745.6,630.3 1746.2,630.2 1746.8,628.2 1747.4,629.8 1748.0,631.1 1748.6,629.9 1749.2,629.9 1749.8,629.6 1750.4,633.3 1751.0,629.7 1751.6,628.4 1752.2,629.8 1752.8,630.0 1753.4,630.4 1754.0,630.2 1754.6,628.9 1755.2,630.2 1755.8,631.1 1756.4,628.5 1757.0,633.3 1757.6,632.9 1758.2,628.1 1758.8,630.0 1759.4,632.0 1760.0,632.4 1760.6,633.1 1761.2,628.2 1761.8,629.0 1762.4,629.8 1763.0,631.4 1763.6,629.1 1764.2,631.2 1764.8,631.3 1765.4,631.6 1766.0,628.8 1766.6,630.9 1767.2,630.8 1767.8,630.1 1768.4,632.6 1769.0,630.3 1769.6,632.8 1770.2,629.9 1770.8,633.2 1771.4,633.2 1772.0,629.7 1772.6,631.3 1773.2,631.3 1773.8,629.5 1774.4,632.1 1775.0,631.8 1775.6,629.8 1776.2,631.2 1776.8,632.3 1777.4,630.9 1778.0,630.1 1778.6,633.5 1779.2,629.8 1779.8,631.7 1780.4,632.8 1781.0,632.4 1781.6,628.7 1782.2,630.9 1782.8,631.2 1783.4,631.1 1784.0,632.3 1784.6,632.2 1785.2,631.7 1785.8,631.9 1786.4,633.0 1787.0,633.4 1787.6,629.0 1788.2,634.4 1788.8,630.9 1789.4,632.8 1790.0,629.5 1790.6,631.1 1791.2,630.1 1791.8,633.4 1792.4,633.2 1793.0,632.0 1793.6,631.7 1794.2,632.6 1794.8,630.7 1795.4,631.2 1796.0,631.0 1796.6,633.3 1797.2,632.2 1797.8,630.4 1798.4,632.8 1799.0,633.1 1799.6,634.3 1800.2,631.6 1800.8,633.0 1801.4,635.2 1802.0,632.1 1802.6,632.0 1803.2,633.3 1803.8,631.9 1804.4,632.7 1805.0,632.0 1805.6,631.6 1806.2,634.0 1806.8,632.3 1807.4,631.4 1808.0,632.5 1808.6,632.7 1809.2,633.4 1809.8,634.4 1810.4,635.6 1811.0,631.4 1811.6,632.8 1812.2,630.6 1812.8,633.5 1813.4,634.0 1814.0,632.4 1814.6,632.0 1815.2,632.0 1815.8,631.3 1816.4,634.4"/>
<polygon fill="#00ff00" points="206.0,459.4 207.2,459.4 208.4,459.4 209.6,459.4 210.8,459.3 212.0,459.3 213.2,459.3 214.4,459.3 215.6,459.3 216.8,459.3 218.0,459.2 219.2,459.2 220.4,459.2 221.6,459.1 222.8,459.1 224.0,459.0 225.2,458.8 226.4,458.5 227.6,458.0 228.8,457.2 230.0,456.1 231.2,454.7 232.4,453.3 233.6,452.6 234.8,452.8 236.0,454.1 237.2,455.6 238.4,457.1 239.6,458.3 240.8,459.2 242.0,459.8 243.2,460.2 244.4,460.5 245.6,460.7 246.8,460.8 248.0,461.0 249.2,461.1 250.4,461.2 251.6,461.3 252.8,461.5 254.0,461.6 255.2,461.7 256.4,461.8 257.6,461.9 258.8,462.0 260.0,462.2 261.2,462.3 262.4,462.4 263.6,462.5 264.8,462.7 266.0,462.8 267.2,462.9 268.4,463.1 269.6,463.2 270.8,463.3 272.0,463.4 273.2,463.6 274.4,463.7 275.6,463.8 276.8,463.9 278.0,464.1 279.2,464.2 280.4,464.3 281.6,464.4 282.8,464.5 284.0,464.6 285.2,464.7 286.4,464.7 287.6,464.8 288.8,464.9 290.0,465.0 291.2,465.0 292.4,465.1 293.6,465.1 294.8,465.1 296.0,465.2 297.2,465.2 298.4,465.2 299.6,465.2 300.8,465.2 302.0,465.1 303.2,465.1 304.4,465.0 305.6,465.0 306.8,464.9 308.0,464.8 309.2,464.7 310.4,464.6 311.6,464.5 312.8,464.3 314.0,464.2 315.2,464.1 316.4,464.0 317.6,463.9 318.8,463.8 320.0,463.7 321.2,463.6 322.4,463.4 323.6,463.3 324.8,463.2 326.0,462.9 327.2,462.6 328.4,462.1 329.6,461.3 330.8,459.6 332.0,456.5 333.2,451.9 334.4,446.5 335.6,442.9 336.8,444.0 338.0,448.7 339.2,453.6 340.4,457.1 341.6,459.0 342.8,459.8 344.0,459.9 345.2,459.6 346.4,459.1 347.6,458.1 348.8,456.6 350.0,454.0 351.2,447.2 352.4,434.8 353.6,414.2 354.8,384.5 356.0,348.5 357.2,316.6 358.4,306.4 359.6,325.8 360.8,360.8 362.0,395.5 363.2,422.3 364.4,439.9 365.6,450.3 366.8,455.4 368.0,457.7 369.2,459.1 370.4,460.0 371.6,460.7 372.8,461.3 374.0,461.7 375.2,462.1 376.4,462.4 377.6,462.6 378.8,462.8 380.0,463.0 381.2,463.1 382.4,463.2 383.6,463.3 384.8,463.4 386.0,463.5 387.2,463.5 388.4,463.6 389.6,463.6 390.8,463.6 392.0,463.6 393.2,463.6 394.4,463.6 395.6,463.6 396.8,463.6 398.0,463.6 399.2,463.6 400.4,463.5 401.6,463.5 402.8,463.5 404.0,463.4 405.2,463.4 406.4,463.3 407.6,463.3 408.8,463.2 410.0,463.2 411.2,463.1 412.4,463.1 413.6,463.0 414.8,462.8 416.0,462.6 417.2,462.4 418.4,462.2 419.6,462.0 420.8,461.7 422.0,461.5 423.2,461.2 424.4,460.9 425.6,460.7 426.8,460.4 428.0,460.2 429.2,459.9 430.4,459.7 431.6,459.5 432.8,459.2 434.0,458.9 435.2,458.5 436.4,458.0 437.6,457.3 438.8,456.3 440.0,454.6 441.2,452.3 442.4,449.1 443.6,445.4 444.8,441.8 446.0,439.8 447.2,440.3 448.4,443.0 449.6,446.5 450.8,449.8 452.0,452.3 453.2,454.1 454.4,455.1 455.6,455.8 456.8,456.1 458.0,456.4 459.2,456.5 460.4,456.6 461.6,456.7 462.8,456.8 464.0,456.9 465.2,457.0 466.4,457.0 467.6,457.1 468.8,457.2 470.0,457.2 471.2,457.3 472.4,457.3 473.6,457.4 474.8,457.5 476.0,457.5 477.2,457.6 478.4,457.6 479.6,457.7 480.8,457.8 482.0,457.8 483.2,457.9 484.4,457.9 485.6,458.0 486.8,458.0 488.0,458.1 489.2,458.2 490.4,458.2 491.6,458.3 492.8,458.3 494.0,458.4 495.2,458.5 496.4,458.5 497.6,458.6 498.8,458.7 500.0,458.8 501.2,458.9 502.4,458.9 503.6,459.0 504.8,459.1 506.0,459.2 507.2,459.3 508.4,459.3 509.6,459.4 510.8,459.5 512.0,459.6 513.2,459.6 514.4,459.7 515.6,459.7 516.8,459.8 518.0,459.8 519.2,459.9 520.4,459.9 521.6,459.9 522.8,459.9 524.0,459.9 525.2,459.9 526.4,459.9 527.6,459.8 528.8,459.8 530.0,459.7 531.2,459.5 532.4,459.4 533.6,459.1 534.8,458.8 536.0,458.3 537.2,457.5 538.4,456.4 539.6,454.7 540.8,452.3 542.0,448.2 543.2,442.2 544.4,435.2 545.6,427.8 546.8,421.5 548.0,418.5 549.2,420.1 550.4,425.5 551.6,432.8 552.8,440.1 554.0,446.5 555.2,451.6 556.4,454.2 557.6,456.1 558.8,457.4 560.0,458.2 561.2,458.7 562.4,458.9 563.6,458.9 564.8,458.5 566.0,457.6 567.2,455.7 568.4,452.5 569.6,448.0 570.8,443.0 572.0,439.3 573.2,439.4 574.4,443.3 575.6,448.5 576.8,453.2 578.0,456.7 579.2,458.8 580.4,460.1 581.6,460.8 582.8,461.2 584.0,461.5 585.2,461.7 586.4,461.8 587.6,461.9 588.8,462.0 590.0,462.0 591.2,462.0 592.4,461.9 593.6,461.7 594.8,461.2 596.0,460.4 597.2,458.8 598.4,456.2 599.6,452.1 600.8,445.6 602.0,440.1 603.2,438.7 604.4,442.7 605.6,449.2 606.8,454.9 608.0,458.3 609.2,460.5 610.4,461.8 611.6,462.5 612.8,462.9 614.0,463.2 615.2,463.4 616.4,463.6 617.6,463.7 618.8,463.8 620.0,463.9 621.2,463.9 622.4,463.9 623.6,464.0 624.8,464.0 626.0,464.0 627.2,464.0 628.4,464.0 629.6,464.0 630.8,463.9 632.0,463.9 633.2,463.9 634.4,463.9 635.6,463.8 636.8,463.8 638.0,463.7 639.2,463.7 640.4,463.6 641.6,463.5 642.8,463.5 644.0,463.4 645.2,463.3 646.4,463.3 647.6,463.2 648.8,463.1 650.0,462.9 651.2,462.8 652.4,462.5 653.6,462.1 654.8,461.4 656.0,460.1 657.2,458.3 658.4,456.4 659.6,455.4 660.8,456.2 662.0,458.0 663.2,459.6 664.4,460.7 665.6,461.3 666.8,461.4 668.0,461.4 669.2,461.1 670.4,460.4 671.6,459.1 672.8,457.2 674.0,455.0 675.2,453.4 676.4,453.9 677.6,455.8 678.8,457.9 680.0,459.3 681.2,460.2 682.4,460.5 683.6,460.7 684.8,460.7 686.0,460.7 687.2,460.6 688.4,460.6 689.6,460.5 690.8,460.4 692.0,460.2 693.2,460.1 694.4,460.0 695.6,459.9 696.8,459.7 698.0,459.6 699.2,459.4 700.4,459.2 701.6,459.0 702.8,458.7 704.0,458.4 705.2,458.0 706.4,457.6 707.6,457.1 708.8,456.5 710.0,455.9 711.2,455.3 712.4,454.6 713.6,454.0 714.8,453.2 716.0,452.5 717.2,451.7 718.4,451.0 719.6,450.2 720.8,449.4 722.0,448.5 723.2,447.7 724.4,446.9 725.6,446.1 726.8,445.3 728.0,444.5 729.2,443.7 730.4,442.9 731.6,442.1 732.8,441.4 734.0,440.7 735.2,440.0 736.4,439.3 737.6,438.7 738.8,438.1 740.0,437.6 741.2,437.1 742.4,436.6 743.6,436.2 744.8,435.8 746.0,435.4 747.2,435.0 748.4,434.6 749.6,434.3 750.8,433.9 752.0,433.5 753.2,433.1 754.4,432.7 755.6,432.2 756.8,431.7 758.0,431.2 759.2,430.6 760.4,429.8 761.6,429.0 762.8,428.2 764.0,427.2 765.2,426.2 766.4,424.9 767.6,423.2 768.8,420.7 770.0,417.3 771.2,411.3 772.4,403.6 773.6,395.0 774.8,386.0 776.0,378.1 777.2,372.7 778.4,371.2 779.6,374.6 780.8,382.0 782.0,391.7 783.2,402.1 784.4,412.1 785.6,421.0 786.8,428.0 788.0,433.8 789.2,439.2 790.4,443.9 791.6,447.5 792.8,449.9 794.0,452.0 795.2,453.8 796.4,455.3 797.6,456.7 798.8,457.8 800.0,458.7 801.2,459.5 802.4,460.2 803.6,460.8 804.8,461.5 806.0,462.0 807.2,462.6 808.4,463.1 809.6,463.6 810.8,464.0 812.0,464.4 813.2,464.8 814.4,465.1 815.6,465.4 816.8,465.7 818.0,465.9 819.2,466.1 820.4,466.3 821.6,466.4 822.8,466.6 824.0,466.7 825.2,466.8 826.4,466.9 827.6,467.0 828.8,467.1 830.0,467.2 831.2,467.3 832.4,467.4 833.6,467.5 834.8,467.5 836.0,467.6 837.2,467.7 838.4,467.7 839.6,467.8 840.8,467.8 842.0,467.9 843.2,467.9 844.4,468.0 845.6,468.0 846.8,468.0 848.0,468.0 849.2,468.1 850.4,468.1 851.6,468.1 852.8,468.0 854.0,467.9 855.2,467.7 856.4,467.2 857.6,466.5 858.8,465.5 860.0,464.1 861.2,462.5 862.4,461.3 863.6,460.9 864.8,461.8 866.0,463.3 867.2,464.9 868.4,466.3 869.6,467.4 870.8,468.1 872.0,468.6 873.2,468.9 874.4,469.1 875.6,469.2 876.8,469.3 878.0,469.4 879.2,469.5 880.4,469.6 881.6,469.6 882.8,469.7 884.0,469.7 885.2,469.8 886.4,469.8 887.6,469.9 888.8,469.9 890.0,470.0 891.2,470.0 892.4,470.0 893.6,470.0 894.8,470.1 896.0,470.1 897.2,470.1 898.4,470.1 899.6,470.1 900.8,470.1 902.0,470.1 903.2,470.1 904.4,470.1 905.6,470.1 906.8,470.1 908.0,470.1 909.2,470.1 910.4,470.1 911.6,470.1 912.8,470.1 914.0,470.1 915.2,470.1 916.4,470.1 917.6,470.1 918.8,470.1 920.0,470.1 921.2,470.1 922.4,470.1 923.6,470.1 924.8,470.1 926.0,470.1 927.2,470.1 928.4,470.1 929.6,470.1 930.8,470.1 932.0,470.1 933.2,470.1 934.4,470.1 935.6,470.1 936.8,470.1 938.0,470.1 939.2,470.1 940.4,470.1 941.6,470.1 942.8,470.1 944.0,470.1 945.2,470.0 946.4,470.0 947.6,470.0 948.8,470.0 950.0,469.9 951.2,469.8 952.4,469.6 953.6,469.3 954.8,468.7 956.0,467.7 957.2,466.4 958.4,465.3 959.6,465.3 960.8,466.4 962.0,467.7 963.2,468.7 964.4,469.3 965.6,469.6 966.8,469.8 968.0,469.9 969.2,470.0 970.4,470.0 971.6,470.0 972.8,470.0 974.0,470.1 975.2,470.1 976.4,470.1 977.6,470.1 978.8,470.1 980.0,470.1 981.2,470.1 982.4,470.1 983.6,470.1 984.8,470.2 986.0,470.2 987.2,470.2 988.4,470.2 989.6,470.2 990.8,470.3 992.0,470.3 993.2,470.3 994.4,470.4 995.6,470.4 996.8,470.4 998.0,470.4 999.2,470.4 1000.4,470.4 1001.6,470.5 1002.8,470.5 1004.0,470.5 1005.2,470.5 1006.4,470.5 1007.6,470.5 1008.8,470.5 1010.0,470.5 1011.2,470.5 1012.4,470.6 1013.6,470.6 1014.8,470.6 1016.0,470.6 1017.2,470.6 1018.4,470.6 1019.6,470.6 1020.8,470.6 1022.0,470.6 1023.2,470.6 1024.4,470.6 1025.6,470.7 1026.8,470.7 1028.0,470.7 1029.2,470.7 1030.4,470.7 1031.6,470.7 1032.8,470.7 1034.0,470.7 1035.2,470.7 1036.4,470.7 1037.6,470.7 1038.8,470.7 1040.0,470.7 1041.2,470.7 1042.4,470.7 1043.6,470.7 1044.8,470.7 1046.0,470.7 1047.2,470.7 1048.4,470.7 1049.6,470.8 1050.8,470.8 1052.0,470.7 1053.2,470.7 1054.4,470.7 1055.6,470.7 1056.8,470.7 1058.0,470.7 1059.2,470.7 1060.4,470.7 1061.6,470.7 1062.8,470.6 1064.0,470.6 1065.2,470.5 1066.4,470.3 1067.6,470.1 1068.8,469.8 1070.0,469.4 1071.2,469.0 1072.4,468.4 1073.6,467.9 1074.8,467.6 1076.0,467.5 1077.2,467.8 1078.4,468.3 1079.6,468.8 1080.8,469.3 1082.0,469.8 1083.2,470.1 1084.4,470.4 1085.6,470.5 1086.8,470.6 1088.0,470.7 1089.2,470.8 1090.4,470.8 1091.6,470.8 1092.8,470.8 1094.0,470.8 1095.2,470.8 1096.4,470.7 1097.6,470.6 1098.8,470.5 1100.0,470.3 1101.2,470.1 1102.4,470.0 1103.6,469.8 1104.8,469.8 1106.0,469.8 1107.2,470.0 1108.4,470.2 1109.6,470.4 1110.8,470.6 1112.0,470.8 1113.2,470.9 1114.4,471.0 1115.6,471.1 1116.8,471.1 1118.0,471.1 1119.2,471.2 1120.4,471.2 1121.6,471.2 1122.8,471.2 1124.0,471.2 1125.2,471.2 1126.4,471.2 1127.6,471.3 1128.8,471.3 1130.0,471.3 1131.2,471.3 1132.4,471.3 1133.6,471.3 1134.8,471.3 1136.0,471.3 1137.2,471.3 1138.4,471.3 1139.6,471.3 1140.8,471.3 1142.0,471.3 1143.2,471.3 1144.4,471.3 1145.6,471.3 1146.8,471.3 1148.0,471.2 1149.2,471.2 1150.4,471.2 1151.6,471.2 1152.8,471.1 1154.0,471.1 1155.2,471.0 1156.4,471.0 1157.6,470.9 1158.8,470.8 1160.0,470.7 1161.2,470.5 1162.4,470.3 1163.6,470.0 1164.8,469.6 1166.0,469.1 1167.2,468.4 1168.4,467.5 1169.6,466.5 1170.8,465.2 1172.0,463.7 1173.2,462.1 1174.4,460.5 1175.6,458.9 1176.8,457.7 1178.0,457.1 1179.2,457.2 1180.4,458.1 1181.6,459.5 1182.8,461.1 1184.0,462.8 1185.2,464.4 1186.4,465.9 1187.6,467.1 1188.8,468.2 1190.0,469.0 1191.2,469.6 1192.4,470.2 1193.6,470.5 1194.8,470.8 1196.0,471.1 1197.2,471.3 1198.4,471.4 1199.6,471.5 1200.8,471.6 1202.0,471.7 1203.2,471.8 1204.4,471.9 1205.6,472.0 1206.8,472.0 1208.0,472.1 1209.2,472.1 1210.4,472.2 1211.6,472.2 1212.8,472.3 1214.0,472.3 1215.2,472.4 1216.4,472.4 1217.6,472.4 1218.8,472.5 1220.0,472.5 1221.2,472.5 1222.4,472.5 1223.6,472.5 1224.8,472.5 1226.0,472.5 1227.2,472.4 1228.4,472.4 1229.6,472.3 1230.8,472.1 1232.0,471.9 1233.2,471.7 1234.4,471.5 1235.6,471.3 1236.8,471.2 1238.0,471.1 1239.2,471.1 1240.4,471.2 1241.6,471.4 1242.8,471.6 1244.0,471.9 1245.2,472.2 1246.4,472.5 1247.6,472.7 1248.8,472.9 1250.0,473.1 1251.2,473.2 1252.4,473.3 1253.6,473.4 1254.8,473.5 1256.0,473.6 1257.2,473.6 1258.4,473.7 1259.6,473.7 1260.8,473.8 1262.0,473.8 1263.2,473.8 1264.4,473.9 1265.6,473.9 1266.8,473.9 1268.0,474.0 1269.2,474.0 1270.4,474.0 1271.6,474.1 1272.8,474.1 1274.0,474.1 1275.2,474.1 1276.4,474.2 1277.6,474.2 1278.8,474.2 1280.0,474.2 1281.2,474.2 1282.4,474.2 1283.6,474.3 1284.8,474.3 1286.0,474.3 1287.2,474.3 1288.4,474.3 1289.6,474.3 1290.8,474.3 1292.0,474.3 1293.2,474.3 1294.4,474.3 1295.6,474.3 1296.8,474.3 1298.0,474.3 1299.2,474.3 1300.4,474.2 1301.6,474.2 1302.8,474.1 1304.0,474.0 1305.2,473.9 1306.4,473.7 1307.6,473.6 1308.8,473.3 1310.0,473.1 1311.2,472.8 1312.4,472.6 1313.6,472.4 1314.8,472.2 1316.0,472.2 1317.2,472.2 1318.4,472.4 1319.6,472.6 1320.8,472.8 1322.0,473.1 1323.2,473.3 1324.4,473.5 1325.6,473.7 1326.8,473.8 1328.0,474.0 1329.2,474.0 1330.4,474.1 1331.6,474.1 1332.8,474.2 1334.0,474.2 1335.2,474.2 1336.4,474.2 1337.6,474.2 1338.8,474.2 1340.0,474.2 1341.2,474.2 1342.4,474.2 1343.6,474.2 1344.8,474.2 1346.0,474.2 1347.2,474.2 1348.4,474.2 1349.6,474.2 1350.8,474.2 1352.0,474.2 1353.2,474.2 1354.4,474.2 1355.6,474.2 1356.8,474.2 1358.0,474.2 1359.2,474.2 1360.4,474.1 1361.6,474.1 1362.8,474.1 1364.0,474.1 1365.2,474.1 1366.4,474.1 1367.6,474.1 1368.8,474.1 1370.0,474.1 1371.2,474.0 1372.4,474.0 1373.6,474.0 1374.8,474.0 1376.0,474.0 1377.2,474.0 1378.4,474.0 1379.6,474.0 1380.8,473.9 1382.0,473.9 1383.2,473.9 1384.4,473.9 1385.6,473.8 1386.8,473.8 1388.0,473.8 1389.2,473.7 1390.4,473.7 1391.6,473.6 1392.8,473.6 1394.0,473.5 1395.2,473.4 1396.4,473.4 1397.6,473.3 1398.8,473.2 1400.0,473.2 1401.2,473.1 1402.4,473.0 1403.6,472.9 1404.8,472.8 1406.0,472.8 1407.2,472.7 1408.4,472.6 1409.6,472.5 1410.8,472.4 1412.0,472.3 1413.2,472.2 1414.4,472.1 1415.6,472.0 1416.8,472.0 1418.0,471.9 1419.2,471.8 1420.4,471.7 1421.6,471.6 1422.8,471.5 1424.0,471.4 1425.2,471.3 1426.4,471.2 1427.6,471.2 1428.8,471.1 1430.0,471.0 1431.2,470.9 1432.4,470.8 1433.6,470.8 1434.8,470.7 1436.0,470.6 1437.2,470.6 1438.4,470.5 1439.6,470.4 1440.8,470.4 1442.0,470.3 1443.2,470.3 1444.4,470.2 1445.6,470.2 1446.8,470.1 1448.0,470.1 1449.2,470.1 1450.4,470.0 1451.6,470.0 1452.8,470.0 1454.0,470.0 1455.2,470.0 1456.4,469.9 1457.6,469.9 1458.8,469.9 1460.0,469.9 1461.2,469.8 1462.4,469.8 1463.6,469.8 1464.8,469.8 1466.0,469.8 1467.2,469.8 1468.4,469.7 1469.6,469.7 1470.8,469.7 1472.0,469.7 1473.2,469.7 1474.4,469.7 1475.6,469.6 1476.8,469.6 1478.0,469.6 1479.2,469.6 1480.4,469.6 1481.6,469.6 1482.8,469.6 1484.0,469.6 1485.2,469.5 1486.4,469.5 1487.6,469.5 1488.8,469.5 1490.0,469.5 1491.2,469.5 1492.4,469.5 1493.6,469.5 1494.8,469.4 1496.0,469.4 1497.2,469.4 1498.4,469.4 1499.6,469.4 1500.8,469.4 1502.0,469.4 1503.2,469.4 1504.4,469.4 1505.6,469.3 1506.8,469.3 1508.0,469.3 1509.2,469.3 1510.4,469.3 1511.6,469.3 1512.8,469.3 1514.0,469.3 1515.2,469.2 1516.4,469.2 1517.6,469.2 1518.8,469.2 1520.0,469.2 1521.2,469.2 1522.4,469.2 1523.6,469.1 1524.8,469.1 1526.0,469.1 1527.2,469.1 1528.4,469.1 1529.6,469.0 1530.8,469.0 1532.0,469.0 1533.2,469.0 1534.4,469.0 1535.6,468.9 1536.8,468.9 1538.0,468.9 1539.2,468.9 1540.4,468.8 1541.6,468.8 1542.8,468.8 1544.0,468.7 1545.2,468.7 1546.4,468.7 1547.6,468.6 1548.8,468.6 1550.0,468.5 1551.2,468.5 1552.4,468.5 1553.6,468.4 1554.8,468.3 1556.0,468.3 1557.2,468.2 1558.4,468.1 1559.6,468.0 1560.8,467.9 1562.0,467.7 1563.2,467.6 1564.4,467.4 1565.6,467.2 1566.8,466.9 1568.0,466.7 1569.2,466.4 1570.4,466.0 1571.6,465.6 1572.8,465.2 1574.0,464.7 1575.2,464.1 1576.4,463.5 1577.6,462.9 1578.8,462.3 1580.0,461.7 1581.2,461.1 1582.4,460.5 1583.6,460.0 1584.8,459.7 1586.0,459.4 1587.2,459.4 1588.4,459.4 1589.6,459.7 1590.8,460.0 1592.0,460.4 1593.2,460.9 1594.4,461.4 1595.6,462.0 1596.8,462.5 1598.0,462.9 1599.2,463.4 1600.4,463.8 1601.6,464.1 1602.8,464.5 1604.0,464.7 1605.2,465.0 1606.4,465.2 1607.6,465.3 1608.8,465.5 1610.0,465.6 1611.2,465.7 1612.4,465.8 1613.6,465.8 1614.8,465.9 1616.0,465.9 1617.2,466.0 1618.4,466.0 1619.6,466.1 1620.8,466.1 1622.0,466.1 1623.2,466.2 1624.4,466.2 1625.6,466.2 1626.8,466.2 1628.0,466.3 1629.2,466.3 1630.4,466.3 1631.6,466.3 1632.8,466.4 1634.0,466.4 1635.2,466.4 1636.4,466.5 1637.6,466.5 1638.8,466.5 1640.0,466.5 1641.2,466.6 1642.4,466.6 1643.6,466.6 1644.8,466.6 1646.0,466.7 1647.2,466.7 1648.4,466.7 1649.6,466.7 1650.8,466.8 1652.0,466.8 1653.2,466.8 1654.4,466.8 1655.6,466.9 1656.8,466.9 1658.0,466.9 1659.2,466.9 1660.4,466.9 1661.6,467.0 1662.8,467.0 1664.0,467.0 1665.2,467.0 1666.4,467.0 1667.6,467.1 1668.8,467.1 1670.0,467.1 1671.2,467.1 1672.4,467.1 1673.6,467.1 1674.8,467.1 1676.0,467.1 1677.2,467.2 1678.4,467.2 1679.6,467.2 1680.8,467.2 1682.0,467.2 1683.2,467.2 1684.4,467.2 1685.6,467.2 1686.8,467.1 1688.0,467.1 1689.2,467.1 1690.4,467.1 1691.6,467.1 1692.8,467.1 1694.0,467.0 1695.2,467.0 1696.4,466.9 1697.6,466.8 1698.8,466.7 1700.0,466.6 1701.2,466.4 1702.4,466.2 1703.6,466.0 1704.8,465.7 1706.0,465.3 1707.2,464.8 1708.4,464.3 1709.6,463.7 1710.8,463.1 1712.0,462.4 1713.2,461.6 1714.4,460.9 1715.6,460.1 1716.8,459.4 1718.0,458.8 1719.2,458.4 1720.4,458.2 1721.6,458.2 1722.8,458.5 1724.0,458.9 1725.2,459.6 1726.4,460.3 1727.6,461.1 1728.8,461.9 1730.0,462.7 1731.2,463.4 1732.4,464.1 1733.6,464.7 1734.8,465.3 1736.0,465.7 1737.2,466.2 1738.4,466.5 1739.6,466.8 1740.8,467.1 1742.0,467.3 1743.2,467.4 1744.4,467.6 1745.6,467.7 1746.8,467.8 1748.0,467.9 1749.2,467.9 1750.4,468.0 1751.6,468.0 1752.8,468.1 1754.0,468.1 1755.2,468.2 1756.4,468.2 1757.6,468.3 1758.8,468.3 1760.0,468.3 1761.2,468.4 1762.4,468.4 1763.6,468.4 1764.8,468.4 1766.0,468.5 1767.2,468.5 1768.4,468.5 1769.6,468.5 1770.8,468.6 1772.0,468.6 1773.2,468.6 1774.4,468.6 1775.6,468.6 1776.8,468.6 1778.0,468.7 1779.2,468.7 1780.4,468.7 1781.6,468.7 1782.8,468.7 1784.0,468.7 1785.2,468.7 1786.4,468.7 1787.6,468.7 1788.8,468.8 1790.0,468.8 1791.2,468.8 1792.4,468.8 1793.6,468.8 1794.8,468.8 1796.0,468.8 1797.2,468.8 1798.4,468.8 1799.6,468.8 1800.8,468.8 1802.0,468.8 1803.2,468.8 1804.4,468.8 1805.6,468.8 1806.8,468.8 1808.0,468.8 1809.2,468.8 1810.4,468.8 1811.6,468.8 1812.8,468.8 1814.0,468.8 1815.2,468.8 1816.4,468.8 1816.4,477.8 1815.2,477.8 1814.0,477.8 1812.8,477.8 1811.6,477.8 1810.4,477.8 1809.2,477.8 1808.0,477.8 1806.8,477.8 1805.6,477.8 1804.4,477.8 1803.2,477.8 1802.0,477.8 1800.8,477.8 1799.6,477.8 1798.4,477.8 1797.2,477.8 1796.0,477.8 1794.8,477.8 1793.6,477.8 1792.4,477.8 1791.2,477.8 1790.0,477.8 1788.8,477.8 1787.6,477.7 1786.4,477.7 1785.2,477.7 1784.0,477.7 1782.8,477.7 1781.6,477.7 1780.4,477.7 1779.2,477.7 1778.0,477.7 1776.8,477.6 1775.6,477.6 1774.4,477.6 1773.2,477.6 1772.0,477.6 1770.8,477.6 1769.6,477.5 1768.4,477.5 1767.2,477.5 1766.0,477.5 1764.8,477.4 1763.6,477.4 1762.4,477.4 1761.2,477.4 1760.0,477.3 1758.8,477.3 1757.6,477.3 1756.4,477.2 1755.2,477.2 1754.0,477.1 1752.8,477.1 1751.6,477.0 1750.4,477.0 1749.2,476.9 1748.0,476.9 1746.8,476.8 1745.6,476.7 1744.4,476.6 1743.2,476.4 1742.0,476.3 1740.8,476.1 1739.6,475.8 1738.4,475.5 1737.2,475.2 1736.0,474.7 1734.8,474.3 1733.6,473.7 1732.4,473.1 1731.2,472.4 1730.0,471.7 1728.8,470.9 1727.6,470.1 1726.4,469.3 1725.2,468.5 1724.0,467.9 1722.8,467.5 1721.6,467.2 1720.4,467.2 1719.2,467.4 1718.0,467.8 1716.8,468.4 1715.6,469.1 1714.4,469.9 1713.2,470.6 1712.0,471.4 1710.8,472.1 1709.6,472.7 1708.4,473.3 1707.2,473.8 1706.0,474.3 1704.8,474.7 1703.6,475.0 1702.4,475.2 1701.2,475.4 1700.0,475.6 1698.8,475.7 1697.6,475.8 1696.4,475.9 1695.2,476.0 1694.0,476.0 1692.8,476.1 1691.6,476.1 1690.4,476.1 1689.2,476.1 1688.0,476.1 1686.8,476.1 1685.6,476.2 1684.4,476.2 1683.2,476.2 1682.0,476.2 1680.8,476.2 1679.6,476.2 1678.4,476.2 1677.2,476.2 1676.0,476.1 1674.8,476.1 1673.6,476.1 1672.4,476.1 1671.2,476.1 1670.0,476.1 1668.8,476.1 1667.6,476.1 1666.4,476.0 1665.2,476.0 1664.0,476.0 1662.8,476.0 1661.6,476.0 1660.4,475.9 1659.2,475.9 1658.0,475.9 1656.8,475.9 1655.6,475.9 1654.4,475.8 1653.2,475.8 1652.0,475.8 1650.8,475.8 1649.6,475.7 1648.4,475.7 1647.2,475.7 1646.0,475.7 1644.8,475.6 1643.6,475.6 1642.4,475.6 1641.2,475.6 1640.0,475.5 1638.8,475.5 1637.6,475.5 1636.4,475.5 1635.2,475.4 1634.0,475.4 1632.8,475.4 1631.6,475.3 1630.4,475.3 1629.2,475.3 1628.0,475.3 1626.8,475.2 1625.6,475.2 1624.4,475.2 1623.2,475.2 1622.0,475.1 1620.8,475.1 1619.6,475.1 1618.4,475.0 1617.2,475.0 1616.0,474.9 1614.8,474.9 1613.6,474.8 1612.4,474.8 1611.2,474.7 1610.0,474.6 1608.8,474.5 1607.6,474.3 1606.4,474.2 1605.2,474.0 1604.0,473.7 1602.8,473.5 1601.6,473.1 1600.4,472.8 1599.2,472.4 1598.0,471.9 1596.8,471.5 1595.6,471.0 1594.4,470.4 1593.2,469.9 1592.0,469.4 1590.8,469.0 1589.6,468.7 1588.4,468.4 1587.2,468.4 1586.0,468.4 1584.8,468.7 1583.6,469.0 1582.4,469.5 1581.2,470.1 1580.0,470.7 1578.8,471.3 1577.6,471.9 1576.4,472.5 1575.2,473.1 1574.0,473.7 1572.8,474.2 1571.6,474.6 1570.4,475.0 1569.2,475.4 1568.0,475.7 1566.8,475.9 1565.6,476.2 1564.4,476.4 1563.2,476.6 1562.0,476.7 1560.8,476.9 1559.6,477.0 1558.4,477.1 1557.2,477.2 1556.0,477.3 1554.8,477.3 1553.6,477.4 1552.4,477.4 1551.2,477.5 1550.0,477.5 1548.8,477.6 1547.6,477.6 1546.4,477.7 1545.2,477.7 1544.0,477.7 1542.8,477.8 1541.6,477.8 1540.4,477.8 1539.2,477.9 1538.0,477.9 1536.8,477.9 1535.6,477.9 1534.4,478.0 1533.2,478.0 1532.0,478.0 1530.8,478.0 1529.6,478.0 1528.4,478.1 1527.2,478.1 1526.0,478.1 1524.8,478.1 1523.6,478.1 1522.4,478.2 1521.2,478.2 1520.0,478.2 1518.8,478.2 1517.6,478.2 1516.4,478.2 1515.2,478.2 1514.0,478.3 1512.8,478.3 1511.6,478.3 1510.4,478.3 1509.2,478.3 1508.0,478.3 1506.8,478.3 1505.6,478.3 1504.4,478.4 1503.2,478.4 1502.0,478.4 1500.8,478.4 1499.6,478.4 1498.4,478.4 1497.2,478.4 1496.0,478.4 1494.8,478.4 1493.6,478.5 1492.4,478.5 1491.2,478.5 1490.0,478.5 1488.8,478.5 1487.6,478.5 1486.4,478.5 1485.2,478.5 1484.0,478.6 1482.8,478.6 1481.6,478.6 1480.4,478.6 1479.2,478.6 1478.0,478.6 1476.8,478.6 1475.6,478.6 1474.4,478.7 1473.2,478.7 1472.0,478.7 1470.8,478.7 1469.6,478.7 1468.4,478.7 1467.2,478.8 1466.0,478.8 1464.8,478.8 1463.6,478.8 1462.4,478.8 1461.2,478.8 1460.0,478.9 1458.8,478.9 1457.6,478.9 1456.4,478.9 1455.2,479.0 1454.0,479.0 1452.8,479.0 1451.6,479.0 1450.4,479.0 1449.2,479.1 1448.0,479.1 1446.8,479.1 1445.6,479.2 1444.4,479.2 1443.2,479.3 1442.0,479.3 1440.8,479.4 1439.6,479.4 1438.4,479.5 1437.2,479.6 1436.0,479.6 1434.8,479.7 1433.6,479.8 1432.4,479.8 1431.2,479.9 1430.0,480.0 1428.8,480.1 1427.6,480.2 1426.4,480.2 1425.2,480.3 1424.0,480.4 1422.8,480.5 1421.6,480.6 1420.4,480.7 1419.2,480.8 1418.0,480.9 1416.8,481.0 1415.6,481.0 1414.4,481.1 1413.2,481.2 1412.0,481.3 1410.8,481.4 1409.6,481.5 1408.4,481.6 1407.2,481.7 1406.0,481.7 1404.8,481.8 1403.6,481.9 1402.4,482.0 1401.2,482.1 1400.0,482.2 1398.8,482.2 1397.6,482.3 1396.4,482.4 1395.2,482.4 1394.0,482.5 1392.8,482.6 1391.6,482.6 1390.4,482.7 1389.2,482.7 1388.0,482.8 1386.8,482.8 1385.6,482.8 1384.4,482.9 1383.2,482.9 1382.0,482.9 1380.8,482.9 1379.6,483.0 1378.4,483.0 1377.2,483.0 1376.0,483.0 1374.8,483.0 1373.6,483.0 1372.4,483.0 1371.2,483.0 1370.0,483.1 1368.8,483.1 1367.6,483.1 1366.4,483.1 1365.2,483.1 1364.0,483.1 1362.8,483.1 1361.6,483.1 1360.4,483.1 1359.2,483.1 1358.0,483.2 1356.8,483.2 1355.6,483.2 1354.4,483.2 1353.2,483.2 1352.0,483.2 1350.8,483.2 1349.6,483.2 1348.4,483.2 1347.2,483.2 1346.0,483.2 1344.8,483.2 1343.6,483.2 1342.4,483.2 1341.2,483.2 1340.0,483.2 1338.8,483.2 1337.6,483.2 1336.4,483.2 1335.2,483.2 1334.0,483.2 1332.8,483.2 1331.6,483.1 1330.4,483.1 1329.2,483.0 1328.0,482.9 1326.8,482.8 1325.6,482.7 1324.4,482.5 1323.2,482.3 1322.0,482.1 1320.8,481.8 1319.6,481.6 1318.4,481.4 1317.2,481.2 1316.0,481.1 1314.8,481.2 1313.6,481.4 1312.4,481.6 1311.2,481.8 1310.0,482.1 1308.8,482.3 1307.6,482.6 1306.4,482.7 1305.2,482.9 1304.0,483.0 1302.8,483.1 1301.6,483.2 1300.4,483.2 1299.2,483.2 1298.0,483.3 1296.8,483.3 1295.6,483.3 1294.4,483.3 1293.2,483.3 1292.0,483.3 1290.8,483.3 1289.6,483.3 1288.4,483.3 1287.2,483.3 1286.0,483.3 1284.8,483.3 1283.6,483.3 1282.4,483.2 1281.2,483.2 1280.0,483.2 1278.8,483.2 1277.6,483.2 1276.4,483.2 1275.2,483.1 1274.0,483.1 1272.8,483.1 1271.6,483.1 1270.4,483.0 1269.2,483.0 1268.0,483.0 1266.8,482.9 1265.6,482.9 1264.4,482.9 1263.2,482.8 1262.0,482.8 1260.8,482.8 1259.6,482.7 1258.4,482.7 1257.2,482.6 1256.0,482.6 1254.8,482.5 1253.6,482.4 1252.4,482.3 1251.2,482.2 1250.0,482.1 1248.8,481.9 1247.6,481.7 1246.4,481.5 1245.2,481.2 1244.0,480.9 1242.8,480.6 1241.6,480.4 1240.4,480.2 1239.2,480.1 1238.0,480.1 1236.8,480.2 1235.6,480.3 1234.4,480.5 1233.2,480.7 1232.0,480.9 1230.8,481.1 1229.6,481.3 1228.4,481.4 1227.2,481.4 1226.0,481.5 1224.8,481.5 1223.6,481.5 1222.4,481.5 1221.2,481.5 1220.0,481.5 1218.8,481.5 1217.6,481.4 1216.4,481.4 1215.2,481.4 1214.0,481.3 1212.8,481.3 1211.6,481.2 1210.4,481.2 1209.2,481.1 1208.0,481.1 1206.8,481.0 1205.6,481.0 1204.4,480.9 1203.2,480.8 1202.0,480.7 1200.8,480.6 1199.6,480.5 1198.4,480.4 1197.2,480.3 1196.0,480.1 1194.8,479.8 1193.6,479.5 1192.4,479.1 1191.2,478.6 1190.0,478.0 1188.8,477.2 1187.6,476.1 1186.4,474.9 1185.2,473.4 1184.0,471.8 1182.8,470.1 1181.6,468.5 1180.4,467.1 1179.2,466.2 1178.0,466.1 1176.8,466.7 1175.6,467.9 1174.4,469.4 1173.2,471.1 1172.0,472.7 1170.8,474.2 1169.6,475.5 1168.4,476.5 1167.2,477.4 1166.0,478.1 1164.8,478.6 1163.6,479.0 1162.4,479.3 1161.2,479.5 1160.0,479.7 1158.8,479.8 1157.6,479.9 1156.4,480.0 1155.2,480.0 1154.0,480.1 1152.8,480.1 1151.6,480.2 1150.4,480.2 1149.2,480.2 1148.0,480.2 1146.8,480.3 1145.6,480.3 1144.4,480.3 1143.2,480.3 1142.0,480.3 1140.8,480.3 1139.6,480.3 1138.4,480.3 1137.2,480.3 1136.0,480.3 1134.8,480.3 1133.6,480.3 1132.4,480.3 1131.2,480.3 1130.0,480.3 1128.8,480.3 1127.6,480.2 1126.4,480.2 1125.2,480.2 1124.0,480.2 1122.8,480.2 1121.6,480.2 1120.4,480.2 1119.2,480.1 1118.0,480.1 1116.8,480.1 1115.6,480.0 1114.4,480.0 1113.2,479.9 1112.0,479.8 1110.8,479.6 1109.6,479.4 1108.4,479.2 1107.2,479.0 1106.0,478.8 1104.8,478.7 1103.6,478.8 1102.4,478.9 1101.2,479.1 1100.0,479.3 1098.8,479.5 1097.6,479.6 1096.4,479.7 1095.2,479.8 1094.0,479.8 1092.8,479.8 1091.6,479.8 1090.4,479.8 1089.2,479.8 1088.0,479.7 1086.8,479.6 1085.6,479.5 1084.4,479.3 1083.2,479.1 1082.0,478.8 1080.8,478.3 1079.6,477.8 1078.4,477.3 1077.2,476.8 1076.0,476.5 1074.8,476.6 1073.6,476.9 1072.4,477.4 1071.2,477.9 1070.0,478.4 1068.8,478.8 1067.6,479.1 1066.4,479.3 1065.2,479.5 1064.0,479.6 1062.8,479.6 1061.6,479.7 1060.4,479.7 1059.2,479.7 1058.0,479.7 1056.8,479.7 1055.6,479.7 1054.4,479.7 1053.2,479.7 1052.0,479.7 1050.8,479.7 1049.6,479.7 1048.4,479.7 1047.2,479.7 1046.0,479.7 1044.8,479.7 1043.6,479.7 1042.4,479.7 1041.2,479.7 1040.0,479.7 1038.8,479.7 1037.6,479.7 1036.4,479.7 1035.2,479.7 1034.0,479.7 1032.8,479.7 1031.6,479.7 1030.4,479.7 1029.2,479.7 1028.0,479.7 1026.8,479.7 1025.6,479.6 1024.4,479.6 1023.2,479.6 1022.0,479.6 1020.8,479.6 1019.6,479.6 1018.4,479.6 1017.2,479.6 1016.0,479.6 1014.8,479.6 1013.6,479.6 1012.4,479.5 1011.2,479.5 1010.0,479.5 1008.8,479.5 1007.6,479.5 1006.4,479.5 1005.2,479.5 1004.0,479.5 1002.8,479.5 1001.6,479.4 1000.4,479.4 999.2,479.4 998.0,479.4 996.8,479.4 995.6,479.4 994.4,479.3 993.2,479.3 992.0,479.3 990.8,479.3 989.6,479.2 988.4,479.2 987.2,479.2 986.0,479.2 984.8,479.1 983.6,479.1 982.4,479.1 981.2,479.1 980.0,479.1 978.8,479.1 977.6,479.1 976.4,479.1 975.2,479.1 974.0,479.0 972.8,479.0 971.6,479.0 970.4,479.0 969.2,478.9 968.0,478.9 966.8,478.8 965.6,478.6 964.4,478.3 963.2,477.7 962.0,476.6 960.8,475.4 959.6,474.3 958.4,474.3 957.2,475.4 956.0,476.6 954.8,477.7 953.6,478.3 952.4,478.6 951.2,478.8 950.0,478.9 948.8,478.9 947.6,479.0 946.4,479.0 945.2,479.0 944.0,479.0 942.8,479.1 941.6,479.1 940.4,479.1 939.2,479.1 938.0,479.1 936.8,479.1 935.6,479.1 934.4,479.1 933.2,479.1 932.0,479.1 930.8,479.1 929.6,479.1 928.4,479.1 927.2,479.1 926.0,479.1 924.8,479.1 923.6,479.1 922.4,479.1 921.2,479.1 920.0,479.1 918.8,479.1 917.6,479.1 916.4,479.1 915.2,479.1 914.0,479.1 912.8,479.1 911.6,479.1 910.4,479.1 909.2,479.1 908.0,479.1 906.8,479.1 905.6,479.1 904.4,479.1 903.2,479.1 902.0,479.1 900.8,479.1 899.6,479.1 898.4,479.1 897.2,479.1 896.0,479.0 894.8,479.0 893.6,479.0 892.4,479.0 891.2,478.9 890.0,478.9 888.8,478.9 887.6,478.8 886.4,478.8 885.2,478.8 884.0,478.7 882.8,478.7 881.6,478.6 880.4,478.5 879.2,478.4 878.0,478.4 876.8,478.3 875.6,478.2 874.4,478.0 873.2,477.8 872.0,477.5 870.8,477.1 869.6,476.3 868.4,475.3 867.2,473.9 866.0,472.2 864.8,470.7 863.6,469.9 862.4,470.2 861.2,471.5 860.0,473.0 858.8,474.4 857.6,475.5 856.4,476.2 855.2,476.6 854.0,476.8 852.8,476.9 851.6,477.0 850.4,477.0 849.2,477.0 848.0,477.0 846.8,476.9 845.6,476.9 844.4,476.9 843.2,476.8 842.0,476.8 840.8,476.7 839.6,476.7 838.4,476.6 837.2,476.6 836.0,476.5 834.8,476.4 833.6,476.3 832.4,476.3 831.2,476.2 830.0,476.1 828.8,476.0 827.6,475.9 826.4,475.8 825.2,475.6 824.0,475.5 822.8,475.4 821.6,475.2 820.4,475.1 819.2,474.9 818.0,474.7 816.8,474.5 815.6,474.2 814.4,473.9 813.2,473.5 812.0,473.1 810.8,472.7 809.6,472.3 808.4,471.7 807.2,471.2 806.0,470.6 804.8,470.0 803.6,469.3 802.4,468.6 801.2,467.9 800.0,467.0 798.8,466.1 797.6,464.9 796.4,463.4 795.2,461.7 794.0,459.7 792.8,457.4 791.6,454.5 790.4,450.2 789.2,444.5 788.0,437.4 786.8,429.2 785.6,421.0 784.4,412.1 783.2,402.1 782.0,391.7 780.8,382.0 779.6,374.6 778.4,371.2 777.2,372.7 776.0,378.1 774.8,386.0 773.6,395.0 772.4,403.6 771.2,411.3 770.0,417.6 768.8,423.6 767.6,427.9 766.4,430.9 765.2,433.0 764.0,434.6 762.8,435.8 761.6,436.9 760.4,437.9 759.2,438.7 758.0,439.4 756.8,440.0 755.6,440.6 754.4,441.1 753.2,441.6 752.0,442.0 750.8,442.4 749.6,442.9 748.4,443.3 747.2,443.7 746.0,444.1 744.8,444.5 743.6,444.9 742.4,445.4 741.2,445.8 740.0,446.4 738.8,446.9 737.6,447.5 736.4,448.1 735.2,448.8 734.0,449.5 732.8,450.2 731.6,450.9 730.4,451.7 729.2,452.5 728.0,453.3 726.8,454.1 725.6,454.9 724.4,455.8 723.2,456.6 722.0,457.4 720.8,458.2 719.6,459.0 718.4,459.8 717.2,460.6 716.0,461.4 714.8,462.1 713.6,462.9 712.4,463.5 711.2,464.2 710.0,464.8 708.8,465.4 707.6,466.0 706.4,466.5 705.2,466.9 704.0,467.3 702.8,467.6 701.6,467.9 700.4,468.1 699.2,468.3 698.0,468.5 696.8,468.6 695.6,468.8 694.4,468.9 693.2,469.0 692.0,469.2 690.8,469.3 689.6,469.4 688.4,469.5 687.2,469.5 686.0,469.6 684.8,469.6 683.6,469.6 682.4,469.5 681.2,469.1 680.0,468.2 678.8,466.8 677.6,464.8 676.4,462.8 675.2,462.4 674.0,463.9 672.8,466.1 671.6,468.0 670.4,469.3 669.2,470.0 668.0,470.3 666.8,470.4 665.6,470.2 664.4,469.6 663.2,468.5 662.0,466.9 660.8,465.1 659.6,464.3 658.4,465.3 657.2,467.2 656.0,469.0 654.8,470.3 653.6,471.0 652.4,471.4 651.2,471.7 650.0,471.8 648.8,471.9 647.6,472.0 646.4,472.1 645.2,472.2 644.0,472.3 642.8,472.3 641.6,472.4 640.4,472.5 639.2,472.5 638.0,472.6 636.8,472.6 635.6,472.6 634.4,472.7 633.2,472.7 632.0,472.7 630.8,472.7 629.6,472.7 628.4,472.7 627.2,472.7 626.0,472.7 624.8,472.7 623.6,472.6 622.4,472.6 621.2,472.5 620.0,472.4 618.8,472.3 617.6,472.1 616.4,471.9 615.2,471.6 614.0,471.3 612.8,470.8 611.6,470.0 610.4,468.7 609.2,466.3 608.0,462.2 606.8,456.1 605.6,449.2 604.4,442.7 603.2,438.7 602.0,440.1 600.8,445.6 599.6,452.1 598.4,458.9 597.2,463.8 596.0,466.8 594.8,468.4 593.6,469.3 592.4,469.7 591.2,470.0 590.0,470.1 588.8,470.2 587.6,470.2 586.4,470.2 585.2,470.0 584.0,469.9 582.8,469.6 581.6,469.2 580.4,468.5 579.2,467.2 578.0,465.0 576.8,461.5 575.6,456.8 574.4,451.6 573.2,447.6 572.0,447.5 570.8,451.1 569.6,456.0 568.4,460.4 567.2,463.4 566.0,465.2 564.8,466.0 563.6,466.2 562.4,465.9 561.2,465.3 560.0,464.3 558.8,462.7 557.6,460.3 556.4,456.7 555.2,451.7 554.0,446.5 552.8,440.1 551.6,432.8 550.4,425.5 549.2,420.1 548.0,418.5 546.8,421.5 545.6,427.8 544.4,435.2 543.2,442.2 542.0,448.2 540.8,453.4 539.6,457.8 538.4,461.0 537.2,463.1 536.0,464.5 534.8,465.5 533.6,466.2 532.4,466.7 531.2,467.1 530.0,467.4 528.8,467.6 527.6,467.8 526.4,468.0 525.2,468.1 524.0,468.2 522.8,468.2 521.6,468.3 520.4,468.3 519.2,468.3 518.0,468.3 516.8,468.3 515.6,468.3 514.4,468.3 513.2,468.2 512.0,468.2 510.8,468.2 509.6,468.1 508.4,468.0 507.2,468.0 506.0,467.9 504.8,467.8 503.6,467.8 502.4,467.7 501.2,467.6 500.0,467.5 498.8,467.5 497.6,467.4 496.4,467.3 495.2,467.3 494.0,467.2 492.8,467.1 491.6,467.1 490.4,467.0 489.2,467.0 488.0,466.9 486.8,466.9 485.6,466.8 484.4,466.8 483.2,466.7 482.0,466.7 480.8,466.6 479.6,466.6 478.4,466.5 477.2,466.4 476.0,466.4 474.8,466.3 473.6,466.3 472.4,466.2 471.2,466.2 470.0,466.1 468.8,466.0 467.6,466.0 466.4,465.9 465.2,465.9 464.0,465.8 462.8,465.7 461.6,465.6 460.4,465.5 459.2,465.4 458.0,465.2 456.8,465.0 455.6,464.7 454.4,464.0 453.2,462.9 452.0,461.2 450.8,458.7 449.6,455.4 448.4,451.9 447.2,449.2 446.0,448.6 444.8,450.7 443.6,454.2 442.4,458.0 441.2,461.1 440.0,463.5 438.8,465.1 437.6,466.2 436.4,466.9 435.2,467.4 434.0,467.7 432.8,468.0 431.6,468.3 430.4,468.5 429.2,468.8 428.0,469.0 426.8,469.3 425.6,469.5 424.4,469.8 423.2,470.0 422.0,470.3 420.8,470.6 419.6,470.8 418.4,471.0 417.2,471.2 416.0,471.4 414.8,471.6 413.6,471.7 412.4,471.8 411.2,471.9 410.0,471.9 408.8,472.0 407.6,472.0 406.4,472.1 405.2,472.1 404.0,472.1 402.8,472.2 401.6,472.2 400.4,472.2 399.2,472.2 398.0,472.2 396.8,472.2 395.6,472.2 394.4,472.2 393.2,472.1 392.0,472.1 390.8,472.0 389.6,472.0 388.4,471.9 387.2,471.8 386.0,471.7 384.8,471.5 383.6,471.4 382.4,471.2 381.2,471.0 380.0,470.7 378.8,470.4 377.6,470.0 376.4,469.6 375.2,469.1 374.0,468.4 372.8,467.6 371.6,466.6 370.4,465.3 369.2,463.5 368.0,460.9 366.8,456.7 365.6,450.3 364.4,439.9 363.2,422.3 362.0,395.5 360.8,360.8 359.6,325.8 358.4,306.4 357.2,316.6 356.0,348.5 354.8,384.5 353.6,414.2 352.4,434.8 351.2,447.2 350.0,454.3 348.8,459.3 347.6,462.2 346.4,464.1 345.2,465.3 344.0,466.1 342.8,466.4 341.6,465.9 340.4,464.2 339.2,461.0 338.0,456.3 336.8,451.8 335.6,450.7 334.4,454.5 333.2,460.0 332.0,464.6 330.8,467.8 329.6,469.5 328.4,470.5 327.2,471.0 326.0,471.4 324.8,471.6 323.6,471.8 322.4,472.0 321.2,472.1 320.0,472.2 318.8,472.4 317.6,472.5 316.4,472.6 315.2,472.8 314.0,472.9 312.8,473.0 311.6,473.2 310.4,473.3 309.2,473.4 308.0,473.5 306.8,473.6 305.6,473.7 304.4,473.8 303.2,473.9 302.0,473.9 300.8,474.0 299.6,474.0 298.4,474.0 297.2,474.0 296.0,474.0 294.8,474.0 293.6,474.0 292.4,473.9 291.2,473.9 290.0,473.8 288.8,473.8 287.6,473.7 286.4,473.6 285.2,473.5 284.0,473.5 282.8,473.4 281.6,473.3 280.4,473.2 279.2,473.1 278.0,472.9 276.8,472.8 275.6,472.7 274.4,472.6 273.2,472.5 272.0,472.4 270.8,472.2 269.6,472.1 268.4,472.0 267.2,471.9 266.0,471.7 264.8,471.6 263.6,471.5 262.4,471.3 261.2,471.2 260.0,471.1 258.8,471.0 257.6,470.9 256.4,470.7 255.2,470.6 254.0,470.5 252.8,470.4 251.6,470.3 250.4,470.2 249.2,470.1 248.0,469.9 246.8,469.8 245.6,469.6 244.4,469.4 243.2,469.1 242.0,468.7 240.8,468.2 239.6,467.3 238.4,466.1 237.2,464.6 236.0,463.0 234.8,461.8 233.6,461.5 232.4,462.3 231.2,463.6 230.0,465.0 228.8,466.2 227.6,467.0 226.4,467.5 225.2,467.8 224.0,467.9 222.8,468.0 221.6,468.1 220.4,468.1 219.2,468.2 218.0,468.2 216.8,468.2 215.6,468.2 214.4,468.3 213.2,468.3 212.0,468.3 210.8,468.3 209.6,468.3 208.4,468.3 207.2,468.3 206.0,468.3"/>
<polyline fill="none" stroke="#00ff00" stroke-width="9.0" stroke-linejoin="round" stroke-linecap="round" points="206.0,464.1 206.6,463.2 207.2,463.4 207.8,461.6 208.4,466.0 209.0,465.2 209.6,463.4 210.2,464.8 210.8,464.2 211.4,463.2 212.0,465.0 212.6,463.4 213.2,463.4 213.8,462.8 214.4,464.3 215.0,463.6 215.6,464.4 216.2,463.0 216.8,463.9 217.4,462.7 218.0,464.7 218.6,463.9 219.2,464.1 219.8,464.1 220.4,462.4 221.0,464.6 221.6,465.9 222.2,461.6 222.8,461.5 223.4,461.7 224.0,464.5 224.6,463.6 225.2,464.6 225.8,464.0 226.4,463.3 227.0,463.1 227.6,462.3 228.2,463.2 228.8,460.3 229.4,460.6 230.0,460.8 230.6,462.0 231.2,458.2 231.8,457.2 232.4,457.1 233.0,458.5 233.6,456.8 234.2,458.6 234.8,455.1 235.4,459.2 236.0,459.8 236.6,457.6 237.2,460.3 237.8,462.3 238.4,461.7 239.0,463.4 239.6,465.1 240.2,463.6 240.8,463.3 241.4,463.1 242.0,465.0 242.6,464.3 243.2,464.5 243.8,464.7 244.4,465.7 245.0,463.8 245.6,463.3 246.2,463.0 246.8,466.7 247.4,465.5 248.0,467.3 248.6,465.5 249.2,464.7 249.8,466.2 250.4,465.6 251.0,464.3 251.6,464.8 252.2,468.0 252.8,466.3 253.4,466.5 254.0,465.7 254.6,465.3 255.2,467.2 255.8,466.1 256.4,465.4 257.0,466.2 257.6,465.3 258.2,466.7 258.8,467.9 259.4,465.6 260.0,468.3 260.6,465.9 261.2,466.9 261.8,465.8 262.4,466.6 263.0,467.0 263.6,466.5 264.2,466.2 264.8,466.3 265.4,466.2 266.0,465.4 266.6,467.0 267.2,467.9 267.8,468.5 268.4,468.3 269.0,469.9 269.6,468.0 270.2,467.2 270.8,470.0 271.4,466.6 272.0,469.1 272.6,466.8 273.2,468.4 273.8,465.8 274.4,469.2 275.0,468.0 275.6,467.1 276.2,470.3 276.8,469.3 277.4,468.5 278.0,467.6 278.6,468.5 279.2,468.4 279.8,469.5 280.4,469.7 281.0,468.0 281.6,468.2 282.2,468.2 282.8,467.3 283.4,468.3 284.0,468.9 284.6,469.9 285.2,470.7 285.8,468.2 286.4,469.8 287.0,468.7 287.6,471.5 288.2,469.2 288.8,469.9 289.4,468.2 290.0,468.4 290.6,469.7 291.2,469.0 291.8,469.9 292.4,467.6 293.0,470.3 293.6,468.5 294.2,471.6 294.8,469.2 295.4,470.9 296.0,467.9 296.6,470.1 297.2,468.5 297.8,469.0 298.4,469.6 299.0,469.2 299.6,469.9 300.2,470.5 300.8,470.4 301.4,469.5 302.0,467.9 302.6,468.6 303.2,469.3 303.8,467.2 304.4,470.3 305.0,469.1 305.6,469.0 306.2,470.4 306.8,470.0 307.4,469.5 308.0,468.0 308.6,469.5 309.2,469.5 309.8,467.9 310.4,470.2 311.0,469.5 311.6,466.6 312.2,468.9 312.8,467.2 313.4,470.0 314.0,469.5 314.6,467.2 315.2,467.4 315.8,468.5 316.4,468.0 317.0,470.1 317.6,469.1 318.2,467.8 318.8,468.8 319.4,465.8 320.0,468.3 320.6,468.9 321.2,467.6 321.8,466.9 322.4,468.4 323.0,469.9 323.6,467.8 324.2,466.2 324.8,469.1 325.4,465.1 326.0,467.7 326.6,466.3 327.2,467.9 327.8,465.6 328.4,467.8 329.0,466.3 329.6,463.4 330.2,462.5 330.8,463.3 331.4,463.8 332.0,460.7 332.6,458.5 333.2,455.7 333.8,454.0 334.4,450.9 335.0,448.5 335.6,445.7 336.2,448.0 336.8,449.4 337.4,448.5 338.0,454.6 338.6,455.8 339.2,456.7 339.8,457.1 340.4,461.3 341.0,462.3 341.6,461.8 342.2,461.0 342.8,464.2 343.4,462.5 344.0,462.5 344.6,464.7 345.2,464.3 345.8,463.0 346.4,461.1 347.0,461.5 347.6,458.5 348.2,459.3 348.8,457.4 349.4,455.4 350.0,453.2 350.6,451.5 351.2,447.2 351.8,441.9 352.4,434.9 353.0,425.5 353.6,414.0 354.2,400.1 354.8,384.4 355.4,367.0 356.0,348.5 356.6,331.1 357.2,316.4 357.8,307.7 358.4,306.3 359.0,312.7 359.6,326.1 360.2,342.7 360.8,360.7 361.4,378.7 362.0,395.5 362.6,409.8 363.2,422.3 363.8,431.9 364.4,439.8 365.0,445.6 365.6,450.1 366.2,452.8 366.8,455.0 367.4,457.2 368.0,458.7 368.6,460.1 369.2,461.3 369.8,463.4 370.4,463.4 371.0,462.9 371.6,464.4 372.2,463.4 372.8,465.9 373.4,465.3 374.0,463.6 374.6,466.1 375.2,466.4 375.8,463.7 376.4,465.2 377.0,465.6 377.6,464.2 378.2,465.3 378.8,465.5 379.4,467.3 380.0,467.2 380.6,469.1 381.2,466.6 381.8,468.4 382.4,467.3 383.0,467.6 383.6,466.0 384.2,465.2 384.8,466.6 385.4,468.4 386.0,469.4 386.6,468.3 387.2,468.2 387.8,466.7 388.4,469.5 389.0,469.3 389.6,467.2 390.2,467.7 390.8,466.7 391.4,469.5 392.0,468.3 392.6,467.8 393.2,468.4 393.8,468.4 394.4,467.4 395.0,466.4 395.6,466.4 396.2,465.9 396.8,468.4 397.4,470.1 398.0,465.9 398.6,468.1 399.2,468.4 399.8,466.7 400.4,468.1 401.0,466.6 401.6,469.3 402.2,467.1 402.8,467.9 403.4,468.6 404.0,467.3 404.6,465.7 405.2,467.1 405.8,468.6 406.4,467.6 407.0,468.0 407.6,466.4 408.2,467.8 408.8,468.5 409.4,467.6 410.0,469.8 410.6,467.3 411.2,466.3 411.8,465.6 412.4,468.8 413.0,467.3 413.6,468.5 414.2,467.8 414.8,469.1 415.4,468.6 416.0,466.6 416.6,467.3 417.2,468.1 417.8,465.3 418.4,468.4 419.0,468.0 419.6,467.6 420.2,466.0 420.8,466.5 421.4,464.7 422.0,466.0 422.6,465.1 423.2,465.7 423.8,464.9 424.4,465.7 425.0,466.6 425.6,463.5 426.2,466.1 426.8,462.6 427.4,462.4 428.0,464.4 428.6,464.5 429.2,464.9 429.8,462.3 430.4,464.0 431.0,464.2 431.6,465.4 432.2,463.6 432.8,464.2 433.4,462.3 434.0,463.1 434.6,462.6 435.2,463.8 435.8,461.5 436.4,461.5 437.0,462.8 437.6,463.9 438.2,461.7 438.8,461.1 439.4,459.6 440.0,460.4 440.6,458.6 441.2,458.8 441.8,455.6 442.4,452.4 443.0,451.0 443.6,448.6 444.2,446.4 444.8,447.8 445.4,445.9 446.0,442.7 446.6,446.2 447.2,445.0 447.8,444.8 448.4,447.9 449.0,449.1 449.6,450.1 450.2,450.4 450.8,454.3 451.4,456.0 452.0,454.5 452.6,458.4 453.2,459.2 453.8,458.5 454.4,459.7 455.0,459.6 455.6,459.2 456.2,460.0 456.8,462.2 457.4,459.0 458.0,461.1 458.6,461.1 459.2,460.1 459.8,460.5 460.4,459.4 461.0,460.1 461.6,461.2 462.2,461.6 462.8,460.2 463.4,463.6 464.0,460.7 464.6,461.5 465.2,461.1 465.8,461.0 466.4,463.0 467.0,460.9 467.6,463.1 468.2,462.9 468.8,460.4 469.4,462.9 470.0,460.9 470.6,464.0 471.2,461.3 471.8,460.6 472.4,459.5 473.0,460.3 473.6,461.1 474.2,460.7 474.8,460.4 475.4,461.1 476.0,461.7 476.6,463.7 477.2,460.0 477.8,461.4 478.4,460.9 479.0,460.3 479.6,460.6 480.2,461.1 480.8,463.0 481.4,462.0 482.0,461.6 482.6,463.0 483.2,462.6 483.8,462.1 484.4,462.8 485.0,461.4 485.6,463.2 486.2,463.0 486.8,462.0 487.4,461.0 488.0,464.3 488.6,462.7 489.2,464.8 489.8,461.8 490.4,463.6 491.0,462.1 491.6,463.0 492.2,463.7 492.8,461.8 493.4,462.6 494.0,463.0 494.6,463.0 495.2,463.6 495.8,464.1 496.4,463.9 497.0,463.3 497.6,462.6 498.2,461.7 498.8,462.2 499.4,462.5 500.0,464.0 500.6,462.8 501.2,461.8 501.8,464.0 502.4,462.4 503.0,462.4 503.6,463.1 504.2,464.0 504.8,461.2 505.4,462.2 506.0,463.8 506.6,463.2 507.2,462.6 507.8,463.0 508.4,465.3 509.0,463.2 509.6,464.6 510.2,464.7 510.8,463.3 511.4,464.4 512.0,463.4 512.6,463.2 513.2,462.6 513.8,465.0 514.4,463.5 515.0,463.4 515.6,462.7 516.2,466.2 516.8,464.9 517.4,463.9 518.0,463.3 518.6,462.3 519.2,464.4 519.8,464.4 520.4,462.5 521.0,465.4 521.6,465.0 522.2,463.0 522.8,463.4 523.4,463.6 524.0,464.2 524.6,463.9 525.2,462.1 525.8,465.6 526.4,464.3 527.0,465.3 527.6,465.3 528.2,463.5 528.8,464.1 529.4,464.5 530.0,464.4 530.6,463.3 531.2,462.6 531.8,463.2 532.4,462.2 533.0,462.3 533.6,460.6 534.2,462.5 534.8,461.1 535.4,461.2 536.0,461.3 536.6,461.2 537.2,462.1 537.8,459.8 538.4,457.4 539.0,457.7 539.6,455.8 540.2,455.0 540.8,452.4 541.4,450.3 542.0,447.9 542.6,445.1 543.2,441.8 543.8,438.7 544.4,435.1 545.0,431.6 545.6,427.7 546.2,424.3 546.8,421.6 547.4,419.6 548.0,418.8 548.6,418.8 549.2,420.1 549.8,422.7 550.4,425.8 551.0,429.0 551.6,432.8 552.2,436.2 552.8,440.0 553.4,443.2 554.0,446.4 554.6,449.0 555.2,451.5 555.8,453.6 556.4,455.9 557.0,457.2 557.6,457.7 558.2,458.0 558.8,461.2 559.4,462.1 560.0,460.8 560.6,462.2 561.2,460.4 561.8,460.6 562.4,462.1 563.0,464.1 563.6,461.4 564.2,461.6 564.8,464.0 565.4,459.8 566.0,462.1 566.6,461.2 567.2,459.3 567.8,458.4 568.4,458.6 569.0,453.1 569.6,451.7 570.2,449.2 570.8,446.2 571.4,443.3 572.0,445.2 572.6,443.1 573.2,441.5 573.8,444.3 574.4,447.9 575.0,450.5 575.6,451.0 576.2,455.1 576.8,457.7 577.4,459.7 578.0,461.3 578.6,460.0 579.2,465.2 579.8,464.0 580.4,466.4 581.0,466.9 581.6,464.8 582.2,463.8 582.8,466.4 583.4,465.4 584.0,465.2 584.6,464.6 585.2,467.8 585.8,465.4 586.4,464.4 587.0,465.5 587.6,464.7 588.2,466.3 588.8,465.6 589.4,464.9 590.0,466.8 590.6,465.3 591.2,466.8 591.8,467.3 592.4,465.4 593.0,465.0 593.6,465.7 594.2,466.2 594.8,464.8 595.4,464.5 596.0,463.6 596.6,462.9 597.2,461.9 597.8,459.0 598.4,457.2 599.0,455.0 599.6,451.7 600.2,448.9 600.8,445.7 601.4,442.5 602.0,440.0 602.6,438.6 603.2,439.1 603.8,440.3 604.4,442.5 605.0,445.6 605.6,450.0 606.2,453.3 606.8,455.6 607.4,459.0 608.0,459.0 608.6,462.0 609.2,464.1 609.8,462.5 610.4,464.4 611.0,466.7 611.6,467.5 612.2,465.9 612.8,467.2 613.4,468.9 614.0,466.8 614.6,465.9 615.2,467.5 615.8,467.2 616.4,469.2 617.0,468.0 617.6,467.0 618.2,470.2 618.8,467.4 619.4,468.6 620.0,468.9 620.6,469.1 621.2,468.4 621.8,468.9 622.4,468.2 623.0,466.6 623.6,468.0 624.2,468.1 624.8,468.1 625.4,468.5 626.0,467.6 626.6,469.9 627.2,470.2 627.8,466.1 628.4,468.4 629.0,467.5 629.6,466.1 630.2,468.8 630.8,467.6 631.4,467.9 632.0,467.5 632.6,469.6 633.2,469.8 633.8,468.6 634.4,469.1 635.0,468.1 635.6,468.4 636.2,467.3 636.8,468.2 637.4,467.3 638.0,468.6 638.6,469.1 639.2,468.5 639.8,469.5 640.4,470.3 641.0,465.7 641.6,468.0 642.2,467.3 642.8,467.4 643.4,466.3 644.0,467.9 644.6,467.5 645.2,467.0 645.8,467.4 646.4,467.0 647.0,465.4 647.6,468.9 648.2,467.2 648.8,466.4 649.4,467.8 650.0,466.6 650.6,465.0 651.2,468.3 651.8,465.1 652.4,466.7 653.0,467.0 653.6,468.2 654.2,467.7 654.8,466.0 655.4,464.4 656.0,464.1 656.6,465.0 657.2,464.9 657.8,462.4 658.4,460.1 659.0,461.4 659.6,459.4 660.2,459.6 660.8,460.3 661.4,462.2 662.0,462.8 662.6,464.5 663.2,465.6 663.8,465.3 664.4,462.9 665.0,463.5 665.6,465.9 666.2,465.8 666.8,468.2 667.4,465.9 668.0,465.6 668.6,466.8 669.2,466.8 669.8,465.0 670.4,465.4 671.0,462.9 671.6,462.4 672.2,464.2 672.8,460.0 673.4,461.6 674.0,460.2 674.6,459.4 675.2,459.0 675.8,458.5 676.4,456.1 677.0,458.0 677.6,459.6 678.2,462.4 678.8,461.0 679.4,462.3 680.0,463.4 680.6,465.8 681.2,462.9 681.8,463.2 682.4,465.8 683.0,462.8 683.6,465.5 684.2,464.6 684.8,463.3 685.4,464.7 686.0,464.0 686.6,465.3 687.2,465.5 687.8,466.8 688.4,465.0 689.0,465.1 689.6,464.2 690.2,464.8 690.8,466.1 691.4,462.5 692.0,465.5 692.6,464.0 693.2,464.7 693.8,464.9 694.4,465.5 695.0,464.7 695.6,463.8 696.2,464.6 696.8,464.2 697.4,463.9 698.0,464.3 698.6,465.0 699.2,464.0 699.8,464.0 700.4,462.2 701.0,463.4 701.6,461.3 702.2,464.2 702.8,462.1 703.4,464.6 704.0,465.1 704.6,462.2 705.2,464.0 705.8,462.7 706.4,461.3 707.0,460.8 707.6,462.2 708.2,462.9 708.8,461.4 709.4,458.9 710.0,459.1 710.6,459.8 711.2,461.4 711.8,459.8 712.4,459.5 713.0,460.2 713.6,458.2 714.2,457.9 714.8,457.5 715.4,455.2 716.0,457.5 716.6,457.1 717.2,457.3 717.8,454.4 718.4,454.4 719.0,456.1 719.6,455.0 720.2,455.8 720.8,452.8 721.4,453.6 722.0,452.2 722.6,452.9 723.2,451.6 723.8,452.4 724.4,452.6 725.0,451.7 725.6,448.4 726.2,451.2 726.8,450.2 727.4,448.0 728.0,447.8 728.6,448.5 729.2,448.8 729.8,447.2 730.4,445.4 731.0,447.2 731.6,446.7 732.2,448.4 732.8,444.3 733.4,447.7 734.0,447.1 734.6,445.1 735.2,446.4 735.8,444.2 736.4,444.9 737.0,442.5 737.6,443.2 738.2,441.6 738.8,440.6 739.4,441.9 740.0,441.2 740.6,442.4 741.2,443.0 741.8,441.0 742.4,441.1 743.0,441.0 743.6,438.6 744.2,440.7 744.8,440.2 745.4,439.9 746.0,438.4 746.6,437.3 747.2,439.0 747.8,439.5 748.4,440.5 749.0,440.1 749.6,440.3 750.2,438.8 750.8,439.5 751.4,437.7 752.0,438.5 752.6,438.6 753.2,439.5 753.8,437.4 754.4,435.4 755.0,438.2 755.6,435.5 756.2,436.1 756.8,435.5 757.4,434.5 758.0,436.8 758.6,435.7 759.2,433.9 759.8,434.3 760.4,433.4 761.0,434.1 761.6,432.5 762.2,431.6 762.8,431.3 763.4,431.0 764.0,431.2 764.6,429.3 765.2,429.5 765.8,429.3 766.4,429.8 767.0,427.7 767.6,423.8 768.2,423.6 768.8,421.8 769.4,420.2 770.0,418.4 770.6,414.9 771.2,410.6 771.8,407.7 772.4,403.7 773.0,399.5 773.6,395.2 774.2,390.3 774.8,386.2 775.4,381.5 776.0,378.1 776.6,375.0 777.2,373.0 777.8,371.3 778.4,370.9 779.0,372.5 779.6,374.5 780.2,378.2 780.8,381.8 781.4,386.5 782.0,391.9 782.6,396.9 783.2,402.3 783.8,407.0 784.4,412.4 785.0,416.6 785.6,421.4 786.2,424.3 786.8,427.5 787.4,432.0 788.0,435.8 788.6,440.2 789.2,442.2 789.8,445.3 790.4,447.7 791.0,451.2 791.6,450.1 792.2,453.8 792.8,453.5 793.4,455.1 794.0,455.2 794.6,458.1 795.2,456.3 795.8,457.1 796.4,459.1 797.0,458.8 797.6,461.6 798.2,462.5 798.8,461.1 799.4,463.3 800.0,462.1 800.6,463.2 801.2,463.7 801.8,466.2 802.4,464.4 803.0,463.7 803.6,464.0 804.2,466.8 804.8,463.8 805.4,465.5 806.0,465.9 806.6,464.4 807.2,466.3 807.8,468.3 808.4,467.7 809.0,466.6 809.6,468.7 810.2,468.8 810.8,470.6 811.4,467.7 812.0,468.3 812.6,469.0 813.2,469.0 813.8,469.4 814.4,469.4 815.0,468.8 815.6,467.9 816.2,469.3 816.8,468.4 817.4,469.0 818.0,469.7 818.6,471.0 819.2,471.5 819.8,469.4 820.4,471.0 821.0,471.7 821.6,470.8 822.2,468.9 822.8,468.7 823.4,472.0 824.0,472.2 824.6,471.5 825.2,469.9 825.8,473.0 826.4,472.8 827.0,471.3 827.6,471.2 828.2,469.2 828.8,472.4 829.4,469.6 830.0,472.4 830.6,472.5 831.2,471.8 831.8,473.6 832.4,471.4 833.0,472.5 833.6,472.8 834.2,472.2 834.8,471.4 835.4,473.5 836.0,472.5 836.6,471.8 837.2,471.9 837.8,472.3 838.4,474.4 839.0,472.3 839.6,471.9 840.2,471.0 840.8,470.8 841.4,470.0 842.0,472.6 842.6,472.4 843.2,471.1 843.8,470.6 844.4,472.0 845.0,471.8 845.6,470.8 846.2,472.8 846.8,472.6 847.4,472.4 848.0,473.4 848.6,471.7 849.2,474.1 849.8,471.3 850.4,473.1 851.0,473.3 851.6,472.2 852.2,472.9 852.8,470.9 853.4,470.6 854.0,472.1 854.6,471.3 855.2,472.8 855.8,471.9 856.4,472.4 857.0,471.7 857.6,471.2 858.2,470.6 858.8,469.4 859.4,468.7 860.0,470.8 860.6,465.6 861.2,466.7 861.8,467.5 862.4,466.2 863.0,467.1 863.6,466.0 864.2,464.2 864.8,465.8 865.4,465.2 866.0,468.9 866.6,470.3 867.2,468.8 867.8,470.7 868.4,470.3 869.0,469.6 869.6,471.3 870.2,470.3 870.8,471.8 871.4,473.0 872.0,473.9 872.6,474.7 873.2,472.9 873.8,473.7 874.4,474.0 875.0,474.2 875.6,471.4 876.2,472.7 876.8,474.7 877.4,472.4 878.0,474.1 878.6,474.9 879.2,471.7 879.8,473.7 880.4,474.3 881.0,474.0 881.6,472.2 882.2,474.5 882.8,473.4 883.4,475.1 884.0,474.7 884.6,473.5 885.2,474.4 885.8,473.4 886.4,473.4 887.0,472.4 887.6,474.0 888.2,475.3 888.8,474.5 889.4,474.3 890.0,473.6 890.6,473.7 891.2,475.3 891.8,472.6 892.4,476.8 893.0,474.3 893.6,476.8 894.2,475.8 894.8,473.9 895.4,475.3 896.0,474.7 896.6,475.0 897.2,475.4 897.8,473.8 898.4,473.7 899.0,474.0 899.6,472.8 900.2,474.1 900.8,474.7 901.4,474.8 902.0,474.7 902.6,474.0 903.2,475.4 903.8,472.3 904.4,474.0 905.0,474.1 905.6,475.5 906.2,475.2 906.8,475.4 907.4,474.5 908.0,475.6 908.6,473.2 909.2,474.5 909.8,472.3 910.4,476.5 911.0,476.3 911.6,473.7 912.2,473.4 912.8,472.3 913.4,472.6 914.0,474.6 914.6,474.2 915.2,472.7 915.8,473.8 916.4,473.6 917.0,475.0 917.6,475.3 918.2,474.2 918.8,474.6 919.4,474.4 920.0,472.3 920.6,474.7 921.2,474.4 921.8,475.3 922.4,472.3 923.0,475.4 923.6,473.7 924.2,474.8 924.8,475.9 925.4,472.7 926.0,472.9 926.6,475.6 927.2,473.1 927.8,473.3 928.4,475.2 929.0,474.2 929.6,475.4 930.2,474.8 930.8,474.4 931.4,475.6 932.0,476.9 932.6,474.3 933.2,476.2 933.8,475.8 934.4,474.6 935.0,475.0 935.6,473.3 936.2,473.7 936.8,474.8 937.4,474.4 938.0,476.0 938.6,472.9 939.2,474.1 939.8,473.7 940.4,474.2 941.0,475.8 941.6,473.0 942.2,475.4 942.8,473.7 943.4,474.0 944.0,475.6 944.6,474.0 945.2,475.2 945.8,474.5 946.4,474.1 947.0,473.9 947.6,472.3 948.2,473.4 948.8,474.5 949.4,474.5 950.0,472.4 950.6,475.4 951.2,474.8 951.8,472.5 952.4,472.7 953.0,474.5 953.6,471.5 954.2,472.5 954.8,473.0 955.4,472.4 956.0,471.9 956.6,471.8 957.2,469.8 957.8,469.5 958.4,472.1 959.0,467.8 959.6,469.1 960.2,470.3 960.8,470.0 961.4,472.9 962.0,472.1 962.6,473.5 963.2,470.9 963.8,474.8 964.4,475.0 965.0,473.0 965.6,475.6 966.2,474.4 966.8,475.3 967.4,476.4 968.0,474.4 968.6,473.1 969.2,474.3 969.8,472.8 970.4,473.4 971.0,473.5 971.6,473.6 972.2,475.8 972.8,475.4 973.4,473.4 974.0,475.8 974.6,472.4 975.2,473.7 975.8,474.3 976.4,475.9 977.0,475.4 977.6,475.0 978.2,476.1 978.8,475.4 979.4,476.1 980.0,473.6 980.6,472.5 981.2,474.0 981.8,475.5 982.4,474.8 983.0,475.6 983.6,475.4 984.2,475.2 984.8,475.6 985.4,473.7 986.0,475.9 986.6,473.4 987.2,474.5 987.8,472.9 988.4,475.2 989.0,472.8 989.6,476.4 990.2,473.1 990.8,475.0 991.4,474.5 992.0,473.7 992.6,476.2 993.2,474.2 993.8,476.5 994.4,473.5 995.0,473.8 995.6,472.6 996.2,475.5 996.8,475.9 997.4,475.1 998.0,474.6 998.6,473.7 999.2,477.2 999.8,475.8 1000.4,472.7 1001.0,474.5 1001.6,472.7 1002.2,476.8 1002.8,477.2 1003.4,476.7 1004.0,474.8 1004.6,474.2 1005.2,473.2 1005.8,475.6 1006.4,474.0 1007.0,474.5 1007.6,474.2 1008.2,474.6 1008.8,476.0 1009.4,477.0 1010.0,475.1 1010.6,475.0 1011.2,473.6 1011.8,473.5 1012.4,473.7 1013.0,476.1 1013.6,475.3 1014.2,476.2 1014.8,475.5 1015.4,474.5 1016.0,473.5 1016.6,474.6 1017.2,473.3 1017.8,477.4 1018.4,475.4 1019.0,474.6 1019.6,477.4 1020.2,474.6 1020.8,475.7 1021.4,474.9 1022.0,475.5 1022.6,474.6 1023.2,475.7 1023.8,476.8 1024.4,473.6 1025.0,472.9 1025.6,476.7 1026.2,475.3 1026.8,476.2 1027.4,474.8 1028.0,477.0 1028.6,477.3 1029.2,473.7 1029.8,475.9 1030.4,474.4 1031.0,473.2 1031.6,474.8 1032.2,475.8 1032.8,473.5 1033.4,473.6 1034.0,476.6 1034.6,475.2 1035.2,475.6 1035.8,473.7 1036.4,474.3 1037.0,475.3 1037.6,475.4 1038.2,475.3 1038.8,477.1 1039.4,475.3 1040.0,473.3 1040.6,474.1 1041.2,475.0 1041.8,476.7 1042.4,474.3 1043.0,474.6 1043.6,475.1 1044.2,474.3 1044.8,474.1 1045.4,474.8 1046.0,476.3 1046.6,475.7 1047.2,474.8 1047.8,475.6 1048.4,473.5 1049.0,476.3 1049.6,476.0 1050.2,475.5 1050.8,473.1 1051.4,477.5 1052.0,473.0 1052.6,473.9 1053.2,474.0 1053.8,475.9 1054.4,473.3 1055.0,475.4 1055.6,474.9 1056.2,474.7 1056.8,476.1 1057.4,476.8 1058.0,475.6 1058.6,474.7 1059.2,472.9 1059.8,476.8 1060.4,474.7 1061.0,472.9 1061.6,475.2 1062.2,476.8 1062.8,474.8 1063.4,473.5 1064.0,477.3 1064.6,475.6 1065.2,475.3 1065.8,476.0 1066.4,472.6 1067.0,474.5 1067.6,474.3 1068.2,476.8 1068.8,473.5 1069.4,473.3 1070.0,472.1 1070.6,472.6 1071.2,473.1 1071.8,473.4 1072.4,472.6 1073.0,474.9 1073.6,472.9 1074.2,472.9 1074.8,473.6 1075.4,472.7 1076.0,471.3 1076.6,470.1 1077.2,472.6 1077.8,471.4 1078.4,474.3 1079.0,472.0 1079.6,471.0 1080.2,473.5 1080.8,475.0 1081.4,473.7 1082.0,474.4 1082.6,474.5 1083.2,476.6 1083.8,475.0 1084.4,474.7 1085.0,474.1 1085.6,472.9 1086.2,476.7 1086.8,476.4 1087.4,473.9 1088.0,475.8 1088.6,475.5 1089.2,474.7 1089.8,474.8 1090.4,476.1 1091.0,473.7 1091.6,474.5 1092.2,475.1 1092.8,475.2 1093.4,474.9 1094.0,475.4 1094.6,475.8 1095.2,474.1 1095.8,475.2 1096.4,474.5 1097.0,476.9 1097.6,473.3 1098.2,474.7 1098.8,475.7 1099.4,474.5 1100.0,474.3 1100.6,474.0 1101.2,474.9 1101.8,473.0 1102.4,474.2 1103.0,474.1 1103.6,472.4 1104.2,474.5 1104.8,473.6 1105.4,474.5 1106.0,475.3 1106.6,474.7 1107.2,473.0 1107.8,474.9 1108.4,472.7 1109.0,473.8 1109.6,476.9 1110.2,475.0 1110.8,476.9 1111.4,474.9 1112.0,475.2 1112.6,473.9 1113.2,476.5 1113.8,475.1 1114.4,476.2 1115.0,476.0 1115.6,476.1 1116.2,475.9 1116.8,475.5 1117.4,475.5 1118.0,474.7 1118.6,473.4 1119.2,476.2 1119.8,477.9 1120.4,476.9 1121.0,478.0 1121.6,476.2 1122.2,474.5 1122.8,474.5 1123.4,476.6 1124.0,476.1 1124.6,475.5 1125.2,476.6 1125.8,474.7 1126.4,476.4 1127.0,475.4 1127.6,475.9 1128.2,477.2 1128.8,475.6 1129.4,477.4 1130.0,477.4 1130.6,474.8 1131.2,478.1 1131.8,474.3 1132.4,475.7 1133.0,476.7 1133.6,473.5 1134.2,477.1 1134.8,477.2 1135.4,475.7 1136.0,476.1 1136.6,476.1 1137.2,475.6 1137.8,477.1 1138.4,475.4 1139.0,475.8 1139.6,476.3 1140.2,476.8 1140.8,477.2 1141.4,474.0 1142.0,473.5 1142.6,475.6 1143.2,475.7 1143.8,474.5 1144.4,476.2 1145.0,476.6 1145.6,476.2 1146.2,477.8 1146.8,474.5 1147.4,475.8 1148.0,478.0 1148.6,476.6 1149.2,474.4 1149.8,476.0 1150.4,477.1 1151.0,478.0 1151.6,476.5 1152.2,477.1 1152.8,474.3 1153.4,475.3 1154.0,477.1 1154.6,474.4 1155.2,475.5 1155.8,473.2 1156.4,477.3 1157.0,475.3 1157.6,476.1 1158.2,473.5 1158.8,473.7 1159.4,477.5 1160.0,474.8 1160.6,474.4 1161.2,475.6 1161.8,475.6 1162.4,472.5 1163.0,473.5 1163.6,474.6 1164.2,474.3 1164.8,474.5 1165.4,473.3 1166.0,473.2 1166.6,473.5 1167.2,472.1 1167.8,471.5 1168.4,471.4 1169.0,471.5 1169.6,470.8 1170.2,469.8 1170.8,469.4 1171.4,468.9 1172.0,468.6 1172.6,467.9 1173.2,465.0 1173.8,467.0 1174.4,463.0 1175.0,464.8 1175.6,462.5 1176.2,463.4 1176.8,463.5 1177.4,459.5 1178.0,462.3 1178.6,461.9 1179.2,461.2 1179.8,462.5 1180.4,462.0 1181.0,463.4 1181.6,462.7 1182.2,465.7 1182.8,466.3 1183.4,467.4 1184.0,466.5 1184.6,470.4 1185.2,471.2 1185.8,469.6 1186.4,469.9 1187.0,470.5 1187.6,472.4 1188.2,473.4 1188.8,471.7 1189.4,470.8 1190.0,474.0 1190.6,473.8 1191.2,474.3 1191.8,475.0 1192.4,473.3 1193.0,474.9 1193.6,474.7 1194.2,475.6 1194.8,476.8 1195.4,475.4 1196.0,474.5 1196.6,477.2 1197.2,476.6 1197.8,475.6 1198.4,473.7 1199.0,474.9 1199.6,476.2 1200.2,476.7 1200.8,475.5 1201.4,476.7 1202.0,475.4 1202.6,475.7 1203.2,476.9 1203.8,476.0 1204.4,476.5 1205.0,477.4 1205.6,477.8 1206.2,475.7 1206.8,476.2 1207.4,474.9 1208.0,475.0 1208.6,476.9 1209.2,476.0 1209.8,474.4 1210.4,477.3 1211.0,475.6 1211.6,476.3 1212.2,477.2 1212.8,477.2 1213.4,476.7 1214.0,474.6 1214.6,477.5 1215.2,476.1 1215.8,475.1 1216.4,474.6 1217.0,478.4 1217.6,477.0 1218.2,477.0 1218.8,477.6 1219.4,476.8 1220.0,475.2 1220.6,477.8 1221.2,478.2 1221.8,477.6 1222.4,478.8 1223.0,479.3 1223.6,476.0 1224.2,476.4 1224.8,478.0 1225.4,477.2 1226.0,477.2 1226.6,478.0 1227.2,477.8 1227.8,476.3 1228.4,477.0 1229.0,475.9 1229.6,476.5 1230.2,475.3 1230.8,474.3 1231.4,475.9 1232.0,475.7 1232.6,477.4 1233.2,478.1 1233.8,476.1 1234.4,476.5 1235.0,475.1 1235.6,474.7 1236.2,475.3 1236.8,475.3 1237.4,475.9 1238.0,475.7 1238.6,477.5 1239.2,475.3 1239.8,473.6 1240.4,475.8 1241.0,474.9 1241.6,476.1 1242.2,477.3 1242.8,475.3 1243.4,476.1 1244.0,477.0 1244.6,475.4 1245.2,476.9 1245.8,477.4 1246.4,477.9 1247.0,478.4 1247.6,477.8 1248.2,477.7 1248.8,475.7 1249.4,475.2 1250.0,476.4 1250.6,479.3 1251.2,477.8 1251.8,475.5 1252.4,477.3 1253.0,478.3 1253.6,475.7 1254.2,478.6 1254.8,476.6 1255.4,479.3 1256.0,478.1 1256.6,480.4 1257.2,476.5 1257.8,478.5 1258.4,476.4 1259.0,479.6 1259.6,478.4 1260.2,479.3 1260.8,478.4 1261.4,476.9 1262.0,477.5 1262.6,476.8 1263.2,477.1 1263.8,478.5 1264.4,479.6 1265.0,479.4 1265.6,479.0 1266.2,477.7 1266.8,479.0 1267.4,477.4 1268.0,478.7 1268.6,479.5 1269.2,478.3 1269.8,477.9 1270.4,478.0 1271.0,479.3 1271.6,478.2 1272.2,476.9 1272.8,478.1 1273.4,477.3 1274.0,480.4 1274.6,478.6 1275.2,476.9 1275.8,479.0 1276.4,479.5 1277.0,479.1 1277.6,478.2 1278.2,478.9 1278.8,479.0 1279.4,479.9 1280.0,479.1 1280.6,481.0 1281.2,478.5 1281.8,480.6 1282.4,478.8 1283.0,476.7 1283.6,477.4 1284.2,476.6 1284.8,476.7 1285.4,480.2 1286.0,478.0 1286.6,479.5 1287.2,477.7 1287.8,478.8 1288.4,477.5 1289.0,479.8 1289.6,478.5 1290.2,478.3 1290.8,478.6 1291.4,481.1 1292.0,479.3 1292.6,479.8 1293.2,477.3 1293.8,478.0 1294.4,479.2 1295.0,476.6 1295.6,480.4 1296.2,479.1 1296.8,478.8 1297.4,478.5 1298.0,478.5 1298.6,478.2 1299.2,480.4 1299.8,479.5 1300.4,480.2 1301.0,478.3 1301.6,477.6 1302.2,480.2 1302.8,477.1 1303.4,477.8 1304.0,479.3 1304.6,479.7 1305.2,476.8 1305.8,478.0 1306.4,478.3 1307.0,478.0 1307.6,477.0 1308.2,478.8 1308.8,477.2 1309.4,477.4 1310.0,475.3 1310.6,477.3 1311.2,475.1 1311.8,478.0 1312.4,477.7 1313.0,476.4 1313.6,477.1 1314.2,476.9 1314.8,476.5 1315.4,477.1 1316.0,476.5 1316.6,476.1 1317.2,475.7 1317.8,478.8 1318.4,477.1 1319.0,476.9 1319.6,477.9 1320.2,476.7 1320.8,476.9 1321.4,478.2 1322.0,478.8 1322.6,478.5 1323.2,476.0 1323.8,478.0 1324.4,478.0 1325.0,478.6 1325.6,477.1 1326.2,477.0 1326.8,478.2 1327.4,477.3 1328.0,477.2 1328.6,478.4 1329.2,479.6 1329.8,478.7 1330.4,479.9 1331.0,477.4 1331.6,479.5 1332.2,478.6 1332.8,477.6 1333.4,478.2 1334.0,477.7 1334.6,478.4 1335.2,477.8 1335.8,480.2 1336.4,478.3 1337.0,477.0 1337.6,478.5 1338.2,479.2 1338.8,478.3 1339.4,479.7 1340.0,477.6 1340.6,477.7 1341.2,480.7 1341.8,478.7 1342.4,479.4 1343.0,479.3 1343.6,479.4 1344.2,478.8 1344.8,478.5 1345.4,480.0 1346.0,478.1 1346.6,478.8 1347.2,479.5 1347.8,478.2 1348.4,476.9 1349.0,479.2 1349.6,480.0 1350.2,479.0 1350.8,476.7 1351.4,479.4 1352.0,481.0 1352.6,476.9 1353.2,476.4 1353.8,478.4 1354.4,478.8 1355.0,479.6 1355.6,479.6 1356.2,478.8 1356.8,479.3 1357.4,479.1 1358.0,478.8 1358.6,478.6 1359.2,478.5 1359.8,479.5 1360.4,479.1 1361.0,478.1 1361.6,479.9 1362.2,477.8 1362.8,478.3 1363.4,478.8 1364.0,476.4 1364.6,478.2 1365.2,479.6 1365.8,479.5 1366.4,477.2 1367.0,477.6 1367.6,477.3 1368.2,478.3 1368.8,478.5 1369.4,476.7 1370.0,478.9 1370.6,478.6 1371.2,478.5 1371.8,477.8 1372.4,478.3 1373.0,476.4 1373.6,478.8 1374.2,478.8 1374.8,478.4 1375.4,477.1 1376.0,480.0 1376.6,479.8 1377.2,476.3 1377.8,479.0 1378.4,478.6 1379.0,476.2 1379.6,479.1 1380.2,479.2 1380.8,479.3 1381.4,478.6 1382.0,477.7 1382.6,477.8 1383.2,479.0 1383.8,479.8 1384.4,477.8 1385.0,478.0 1385.6,479.2 1386.2,476.0 1386.8,478.8 1387.4,478.0 1388.0,476.0 1388.6,479.1 1389.2,477.1 1389.8,479.1 1390.4,479.8 1391.0,476.7 1391.6,476.7 1392.2,478.1 1392.8,476.0 1393.4,478.9 1394.0,478.2 1394.6,479.1 1395.2,475.8 1395.8,478.1 1396.4,478.4 1397.0,475.7 1397.6,478.9 1398.2,476.2 1398.8,478.0 1399.4,476.2 1400.0,478.6 1400.6,479.6 1401.2,477.7 1401.8,477.6 1402.4,479.0 1403.0,477.0 1403.6,477.5 1404.2,478.4 1404.8,477.9 1405.4,479.2 1406.0,478.7 1406.6,479.5 1407.2,477.2 1407.8,478.5 1408.4,476.2 1409.0,478.2 1409.6,479.1 1410.2,479.2 1410.8,475.5 1411.4,476.8 1412.0,477.7 1412.6,475.8 1413.2,477.5 1413.8,477.4 1414.4,476.2 1415.0,476.1 1415.6,475.6 1416.2,477.0 1416.8,478.0 1417.4,476.9 1418.0,478.6 1418.6,474.7 1419.2,475.7 1419.8,477.1 1420.4,475.0 1421.0,476.7 1421.6,477.2 1422.2,476.4 1422.8,475.9 1423.4,477.2 1424.0,476.5 1424.6,476.8 1425.2,476.6 1425.8,475.1 1426.4,474.6 1427.0,475.4 1427.6,476.0 1428.2,475.5 1428.8,476.8 1429.4,475.9 1430.0,476.7 1430.6,475.7 1431.2,474.7 1431.8,476.5 1432.4,476.0 1433.0,474.4 1433.6,474.9 1434.2,477.5 1434.8,472.9 1435.4,476.6 1436.0,475.3 1436.6,475.1 1437.2,474.8 1437.8,474.5 1438.4,477.3 1439.0,474.5 1439.6,474.6 1440.2,475.9 1440.8,475.4 1441.4,474.7 1442.0,474.5 1442.6,473.3 1443.2,476.1 1443.8,473.5 1444.4,472.4 1445.0,476.0 1445.6,475.6 1446.2,475.1 1446.8,474.1 1447.4,476.1 1448.0,473.4 1448.6,472.3 1449.2,474.8 1449.8,475.6 1450.4,475.3 1451.0,476.8 1451.6,475.5 1452.2,474.3 1452.8,474.3 1453.4,475.6 1454.0,474.4 1454.6,474.3 1455.2,472.4 1455.8,474.1 1456.4,472.9 1457.0,474.7 1457.6,474.6 1458.2,475.3 1458.8,476.5 1459.4,474.2 1460.0,476.1 1460.6,473.0 1461.2,474.6 1461.8,475.5 1462.4,476.6 1463.0,473.0 1463.6,474.0 1464.2,474.5 1464.8,474.2 1465.4,473.2 1466.0,472.3 1466.6,472.8 1467.2,474.2 1467.8,472.7 1468.4,476.4 1469.0,475.7 1469.6,472.0 1470.2,473.6 1470.8,475.8 1471.4,476.0 1472.0,475.6 1472.6,472.5 1473.2,473.8 1473.8,475.7 1474.4,474.3 1475.0,473.6 1475.6,474.8 1476.2,475.3 1476.8,474.3 1477.4,474.4 1478.0,475.4 1478.6,473.5 1479.2,473.0 1479.8,475.0 1480.4,472.7 1481.0,474.7 1481.6,473.2 1482.2,475.1 1482.8,472.7 1483.4,475.4 1484.0,474.4 1484.6,473.7 1485.2,473.0 1485.8,473.9 1486.4,472.9 1487.0,472.6 1487.6,475.3 1488.2,474.7 1488.8,475.5 1489.4,472.4 1490.0,471.7 1490.6,472.1 1491.2,474.8 1491.8,475.0 1492.4,471.8 1493.0,475.2 1493.6,473.4 1494.2,472.5 1494.8,473.9 1495.4,474.6 1496.0,473.7 1496.6,473.7 1497.2,472.9 1497.8,472.2 1498.4,473.5 1499.0,472.0 1499.6,474.6 1500.2,472.9 1500.8,475.5 1501.4,472.0 1502.0,475.6 1502.6,472.8 1503.2,472.8 1503.8,474.2 1504.4,474.9 1505.0,473.8 1505.6,473.4 1506.2,476.1 1506.8,474.4 1507.4,472.4 1508.0,473.5 1508.6,475.8 1509.2,474.2 1509.8,474.8 1510.4,476.1 1511.0,473.1 1511.6,474.2 1512.2,473.0 1512.8,473.8 1513.4,474.4 1514.0,472.1 1514.6,473.9 1515.2,473.9 1515.8,475.0 1516.4,473.0 1517.0,472.2 1517.6,474.2 1518.2,472.4 1518.8,473.9 1519.4,474.4 1520.0,472.6 1520.6,473.5 1521.2,472.4 1521.8,471.4 1522.4,471.9 1523.0,471.4 1523.6,473.6 1524.2,472.3 1524.8,473.4 1525.4,473.5 1526.0,474.9 1526.6,473.2 1527.2,473.1 1527.8,474.2 1528.4,475.5 1529.0,473.4 1529.6,473.9 1530.2,473.3 1530.8,472.7 1531.4,471.6 1532.0,473.4 1532.6,473.2 1533.2,473.2 1533.8,475.7 1534.4,473.0 1535.0,473.8 1535.6,473.0 1536.2,474.8 1536.8,473.0 1537.4,475.6 1538.0,473.1 1538.6,474.3 1539.2,474.6 1539.8,473.0 1540.4,474.3 1541.0,473.4 1541.6,472.4 1542.2,472.5 1542.8,473.7 1543.4,475.4 1544.0,472.6 1544.6,473.9 1545.2,472.2 1545.8,473.5 1546.4,471.6 1547.0,472.2 1547.6,473.1 1548.2,472.2 1548.8,472.8 1549.4,474.3 1550.0,472.9 1550.6,472.2 1551.2,471.5 1551.8,472.3 1552.4,474.3 1553.0,472.8 1553.6,472.7 1554.2,473.7 1554.8,473.8 1555.4,474.0 1556.0,472.3 1556.6,471.6 1557.2,470.7 1557.8,471.8 1558.4,472.1 1559.0,473.4 1559.6,472.9 1560.2,471.7 1560.8,473.4 1561.4,470.8 1562.0,471.0 1562.6,470.7 1563.2,470.7 1563.8,471.7 1564.4,470.9 1565.0,470.9 1565.6,473.3 1566.2,469.8 1566.8,470.2 1567.4,471.0 1568.0,471.7 1568.6,471.6 1569.2,470.5 1569.8,470.2 1570.4,470.2 1571.0,471.2 1571.6,469.0 1572.2,467.6 1572.8,469.9 1573.4,468.0 1574.0,469.1 1574.6,470.6 1575.2,468.7 1575.8,470.5 1576.4,466.1 1577.0,468.0 1577.6,467.9 1578.2,468.1 1578.8,465.9 1579.4,466.7 1580.0,466.3 1580.6,466.0 1581.2,463.9 1581.8,463.2 1582.4,465.6 1583.0,465.2 1583.6,464.6 1584.2,465.1 1584.8,465.5 1585.4,462.6 1586.0,464.9 1586.6,465.7 1587.2,465.1 1587.8,464.6 1588.4,464.8 1589.0,462.3 1589.6,463.6 1590.2,465.6 1590.8,466.3 1591.4,465.3 1592.0,464.4 1592.6,465.0 1593.2,466.5 1593.8,468.0 1594.4,466.9 1595.0,465.6 1595.6,467.2 1596.2,467.3 1596.8,469.2 1597.4,468.0 1598.0,467.5 1598.6,467.6 1599.2,466.5 1599.8,466.9 1600.4,467.8 1601.0,467.5 1601.6,468.9 1602.2,469.0 1602.8,470.1 1603.4,471.0 1604.0,469.5 1604.6,469.2 1605.2,467.3 1605.8,470.1 1606.4,470.5 1607.0,468.9 1607.6,469.4 1608.2,469.1 1608.8,471.3 1609.4,470.8 1610.0,471.6 1610.6,468.7 1611.2,472.4 1611.8,469.2 1612.4,469.1 1613.0,470.6 1613.6,469.7 1614.2,472.6 1614.8,469.9 1615.4,469.6 1616.0,471.7 1616.6,472.0 1617.2,469.5 1617.8,470.0 1618.4,470.1 1619.0,470.4 1619.6,472.7 1620.2,472.1 1620.8,471.9 1621.4,472.2 1622.0,470.7 1622.6,471.7 1623.2,470.6 1623.8,469.8 1624.4,472.7 1625.0,468.6 1625.6,470.7 1626.2,470.1 1626.8,468.8 1627.4,470.3 1628.0,470.9 1628.6,471.4 1629.2,469.8 1629.8,471.7 1630.4,471.2 1631.0,471.8 1631.6,468.6 1632.2,470.3 1632.8,470.1 1633.4,471.6 1634.0,470.0 1634.6,470.3 1635.2,469.6 1635.8,469.5 1636.4,469.8 1637.0,472.1 1637.6,469.7 1638.2,468.7 1638.8,471.3 1639.4,470.5 1640.0,471.7 1640.6,471.7 1641.2,470.7 1641.8,470.5 1642.4,470.4 1643.0,471.1 1643.6,470.2 1644.2,471.3 1644.8,472.8 1645.4,470.3 1646.0,470.4 1646.6,470.4 1647.2,471.9 1647.8,472.0 1648.4,472.9 1649.0,472.1 1649.6,471.4 1650.2,471.8 1650.8,469.7 1651.4,471.9 1652.0,471.5 1652.6,473.6 1653.2,472.9 1653.8,470.3 1654.4,470.6 1655.0,472.4 1655.6,469.1 1656.2,470.3 1656.8,471.8 1657.4,472.2 1658.0,471.6 1658.6,472.8 1659.2,471.1 1659.8,471.5 1660.4,471.2 1661.0,470.1 1661.6,471.5 1662.2,470.8 1662.8,471.6 1663.4,469.2 1664.0,471.6 1664.6,470.9 1665.2,470.8 1665.8,471.6 1666.4,471.0 1667.0,472.7 1667.6,473.1 1668.2,472.6 1668.8,472.7 1669.4,472.0 1670.0,471.6 1670.6,470.1 1671.2,471.2 1671.8,473.1 1672.4,472.5 1673.0,471.0 1673.6,471.8 1674.2,472.9 1674.8,471.4 1675.4,473.6 1676.0,470.7 1676.6,472.6 1677.2,472.5 1677.8,471.9 1678.4,472.0 1679.0,472.3 1679.6,469.4 1680.2,472.2 1680.8,473.0 1681.4,472.1 1682.0,473.0 1682.6,470.3 1683.2,471.6 1683.8,472.1 1684.4,471.4 1685.0,473.1 1685.6,472.2 1686.2,471.0 1686.8,472.6 1687.4,472.6 1688.0,471.1 1688.6,472.4 1689.2,472.1 1689.8,472.1 1690.4,470.1 1691.0,473.1 1691.6,472.4 1692.2,471.5 1692.8,472.0 1693.4,471.9 1694.0,471.2 1694.6,470.8 1695.2,471.6 1695.8,470.7 1696.4,470.8 1697.0,470.0 1697.6,471.0 1698.2,472.5 1698.8,471.5 1699.4,471.2 1700.0,470.7 1700.6,470.5 1701.2,469.1 1701.8,472.8 1702.4,469.9 1703.0,468.8 1703.6,470.9 1704.2,470.6 1704.8,469.5 1705.4,468.2 1706.0,468.1 1706.6,471.4 1707.2,469.2 1707.8,468.3 1708.4,471.0 1709.0,467.9 1709.6,467.1 1710.2,468.6 1710.8,468.0 1711.4,469.1 1712.0,465.0 1712.6,466.8 1713.2,464.1 1713.8,466.3 1714.4,464.6 1715.0,464.4 1715.6,463.7 1716.2,465.3 1716.8,465.9 1717.4,463.5 1718.0,463.0 1718.6,462.5 1719.2,463.5 1719.8,461.5 1720.4,465.0 1721.0,462.4 1721.6,464.8 1722.2,463.0 1722.8,461.3 1723.4,461.3 1724.0,462.9 1724.6,462.9 1725.2,463.7 1725.8,463.0 1726.4,467.1 1727.0,467.5 1727.6,463.4 1728.2,466.5 1728.8,467.8 1729.4,466.4 1730.0,466.9 1730.6,468.8 1731.2,468.5 1731.8,466.8 1732.4,470.0 1733.0,468.3 1733.6,471.4 1734.2,468.3 1734.8,467.5 1735.4,470.1 1736.0,471.7 1736.6,471.1 1737.2,470.8 1737.8,469.7 1738.4,472.1 1739.0,468.9 1739.6,472.2 1740.2,469.9 1740.8,470.8 1741.4,470.0 1742.0,470.6 1742.6,473.6 1743.2,470.4 1743.8,472.2 1744.4,471.0 1745.0,473.3 1745.6,470.5 1746.2,472.2 1746.8,473.3 1747.4,474.6 1748.0,470.9 1748.6,471.3 1749.2,472.3 1749.8,474.2 1750.4,471.2 1751.0,473.4 1751.6,471.7 1752.2,471.2 1752.8,470.6 1753.4,472.7 1754.0,473.8 1754.6,472.5 1755.2,470.4 1755.8,471.9 1756.4,473.8 1757.0,473.7 1757.6,473.0 1758.2,474.5 1758.8,471.2 1759.4,471.2 1760.0,475.1 1760.6,473.6 1761.2,472.5 1761.8,472.2 1762.4,470.6 1763.0,473.8 1763.6,470.6 1764.2,470.6 1764.8,472.8 1765.4,474.7 1766.0,472.4 1766.6,473.3 1767.2,472.4 1767.8,473.4 1768.4,470.9 1769.0,475.3 1769.6,471.8 1770.2,473.6 1770.8,470.8 1771.4,475.1 1772.0,473.5 1772.6,475.4 1773.2,472.2 1773.8,474.3 1774.4,472.8 1775.0,473.0 1775.6,474.6 1776.2,471.9 1776.8,474.0 1777.4,475.4 1778.0,475.2 1778.6,474.4 1779.2,473.5 1779.8,471.9 1780.4,474.9 1781.0,472.3 1781.6,474.6 1782.2,472.7 1782.8,473.2 1783.4,473.2 1784.0,473.9 1784.6,472.6 1785.2,473.4 1785.8,472.5 1786.4,473.8 1787.0,473.5 1787.6,473.7 1788.2,472.2 1788.8,473.6 1789.4,473.3 1790.0,473.9 1790.6,473.3 1791.2,472.0 1791.8,474.1 1792.4,472.4 1793.0,473.6 1793.6,471.0 1794.2,473.8 1794.8,474.0 1795.4,472.1 1796.0,473.9 1796.6,472.8 1797.2,474.9 1797.8,474.1 1798.4,471.7 1799.0,473.0 1799.6,471.1 1800.2,472.9 1800.8,473.9 1801.4,474.3 1802.0,473.1 1802.6,473.0 1803.2,473.5 1803.8,472.5 1804.4,473.7 1805.0,474.6 1805.6,473.5 1806.2,474.3 1806.8,472.3 1807.4,472.7 1808.0,473.7 1808.6,475.6 1809.2,474.5 1809.8,475.4 1810.4,473.4 1811.0,474.8 1811.6,471.2 1812.2,473.9 1812.8,471.0 1813.4,474.8 1814.0,473.9 1814.6,474.7 1815.2,473.8 1815.8,472.7 1816.4,472.4"/>
<polygon fill="#000000" points="206.0,220.4 207.2,220.5 208.4,220.6 209.6,220.7 210.8,220.8 212.0,220.8 213.2,220.9 214.4,221.0 215.6,221.1 216.8,221.1 218.0,221.2 219.2,221.2 220.4,221.2 221.6,221.1 222.8,221.0 224.0,220.7 225.2,220.2 226.4,219.4 227.6,218.2 228.8,216.7 230.0,215.0 231.2,213.8 232.4,213.7 233.6,214.7 234.8,216.4 236.0,218.2 237.2,219.7 238.4,220.7 239.6,221.5 240.8,222.0 242.0,222.3 243.2,222.5 244.4,222.7 245.6,222.9 246.8,223.1 248.0,223.2 249.2,223.4 250.4,223.6 251.6,223.7 252.8,224.0 254.0,224.2 255.2,224.4 256.4,224.6 257.6,224.9 258.8,225.1 260.0,225.4 261.2,225.6 262.4,225.9 263.6,226.2 264.8,226.4 266.0,226.7 267.2,227.0 268.4,227.2 269.6,227.5 270.8,227.7 272.0,227.9 273.2,228.1 274.4,228.3 275.6,228.5 276.8,228.7 278.0,228.9 279.2,229.1 280.4,229.2 281.6,229.4 282.8,229.6 284.0,229.8 285.2,229.9 286.4,230.1 287.6,230.3 288.8,230.4 290.0,230.6 291.2,230.8 292.4,230.9 293.6,231.1 294.8,231.2 296.0,231.4 297.2,231.5 298.4,231.6 299.6,231.8 300.8,231.9 302.0,232.0 303.2,232.1 304.4,232.2 305.6,232.3 306.8,232.4 308.0,232.5 309.2,232.6 310.4,232.7 311.6,232.8 312.8,232.9 314.0,232.9 315.2,233.0 316.4,233.0 317.6,233.1 318.8,233.1 320.0,233.2 321.2,233.2 322.4,233.3 323.6,233.3 324.8,233.3 326.0,233.2 327.2,233.1 328.4,232.8 329.6,232.0 330.8,229.8 332.0,224.5 333.2,216.2 334.4,212.5 335.6,219.2 336.8,227.0 338.0,231.3 339.2,233.0 340.4,233.7 341.6,234.0 342.8,234.3 344.0,234.4 345.2,234.5 346.4,234.5 347.6,234.3 348.8,233.9 350.0,232.6 351.2,228.9 352.4,212.3 353.6,182.3 354.8,145.6 356.0,120.3 357.2,126.1 358.4,158.0 359.6,194.1 360.8,220.1 362.0,231.5 363.2,234.3 364.4,235.4 365.6,235.9 366.8,236.2 368.0,236.4 369.2,236.6 370.4,236.7 371.6,236.8 372.8,236.9 374.0,237.0 375.2,237.1 376.4,237.1 377.6,237.2 378.8,237.2 380.0,237.3 381.2,237.3 382.4,237.3 383.6,237.3 384.8,237.3 386.0,237.3 387.2,237.2 388.4,237.2 389.6,237.1 390.8,237.1 392.0,237.0 393.2,236.9 394.4,236.8 395.6,236.8 396.8,236.7 398.0,236.6 399.2,236.4 400.4,236.3 401.6,236.2 402.8,236.0 404.0,235.8 405.2,235.5 406.4,235.2 407.6,234.8 408.8,234.5 410.0,234.1 411.2,233.7 412.4,233.3 413.6,232.8 414.8,232.4 416.0,231.9 417.2,231.3 418.4,230.6 419.6,229.9 420.8,229.1 422.0,228.3 423.2,227.5 424.4,226.8 425.6,226.1 426.8,225.6 428.0,225.1 429.2,224.8 430.4,224.4 431.6,224.1 432.8,223.7 434.0,223.3 435.2,222.8 436.4,222.1 437.6,221.1 438.8,219.8 440.0,218.1 441.2,216.0 442.4,214.0 443.6,212.7 444.8,213.0 446.0,214.6 447.2,216.7 448.4,218.7 449.6,220.2 450.8,221.3 452.0,222.0 453.2,222.5 454.4,222.7 455.6,222.9 456.8,223.1 458.0,223.4 459.2,223.7 460.4,224.1 461.6,224.5 462.8,225.0 464.0,225.4 465.2,225.9 466.4,226.3 467.6,226.7 468.8,227.0 470.0,227.3 471.2,227.5 472.4,227.8 473.6,228.0 474.8,228.2 476.0,228.4 477.2,228.5 478.4,228.7 479.6,228.9 480.8,229.1 482.0,229.2 483.2,229.4 484.4,229.5 485.6,229.7 486.8,229.9 488.0,230.1 489.2,230.2 490.4,230.4 491.6,230.6 492.8,230.8 494.0,231.0 495.2,231.2 496.4,231.4 497.6,231.6 498.8,231.9 500.0,232.1 501.2,232.3 502.4,232.5 503.6,232.7 504.8,232.9 506.0,233.1 507.2,233.4 508.4,233.6 509.6,233.8 510.8,234.0 512.0,234.2 513.2,234.4 514.4,234.6 515.6,234.8 516.8,235.0 518.0,235.2 519.2,235.4 520.4,235.6 521.6,235.8 522.8,236.0 524.0,236.2 525.2,236.3 526.4,236.5 527.6,236.6 528.8,236.8 530.0,236.9 531.2,237.0 532.4,237.1 533.6,237.1 534.8,237.1 536.0,237.1 537.2,237.0 538.4,236.8 539.6,236.2 540.8,235.2 542.0,233.5 543.2,229.8 544.4,222.3 545.6,213.4 546.8,205.2 548.0,201.1 549.2,203.5 550.4,211.0 551.6,220.2 552.8,228.6 554.0,234.0 555.2,236.4 556.4,237.8 557.6,238.8 558.8,239.4 560.0,239.8 561.2,240.0 562.4,240.2 563.6,240.4 564.8,240.4 566.0,240.2 567.2,239.7 568.4,238.6 569.6,236.7 570.8,234.1 572.0,231.2 573.2,229.2 574.4,229.6 575.6,232.2 576.8,235.5 578.0,238.3 579.2,240.4 580.4,241.7 581.6,242.5 582.8,242.9 584.0,243.2 585.2,243.3 586.4,243.4 587.6,243.3 588.8,243.3 590.0,243.2 591.2,243.0 592.4,242.7 593.6,242.1 594.8,241.1 596.0,239.2 597.2,236.2 598.4,232.3 599.6,228.0 600.8,225.3 602.0,225.9 603.2,229.4 604.4,233.7 605.6,237.4 606.8,240.0 608.0,241.6 609.2,242.6 610.4,243.1 611.6,243.4 612.8,243.6 614.0,243.7 615.2,243.8 616.4,243.9 617.6,244.0 618.8,244.0 620.0,244.1 621.2,244.1 622.4,244.1 623.6,244.1 624.8,244.1 626.0,244.1 627.2,244.0 628.4,243.9 629.6,243.8 630.8,243.8 632.0,243.7 633.2,243.5 634.4,243.4 635.6,243.3 636.8,243.2 638.0,243.0 639.2,242.9 640.4,242.7 641.6,242.6 642.8,242.4 644.0,242.3 645.2,242.1 646.4,242.0 647.6,241.8 648.8,241.7 650.0,241.5 651.2,241.3 652.4,241.2 653.6,241.1 654.8,240.9 656.0,240.8 657.2,240.7 658.4,240.6 659.6,240.4 660.8,240.3 662.0,240.2 663.2,240.2 664.4,240.1 665.6,240.0 666.8,239.9 668.0,239.8 669.2,239.8 670.4,239.7 671.6,239.6 672.8,239.6 674.0,239.5 675.2,239.4 676.4,239.4 677.6,239.3 678.8,239.2 680.0,239.2 681.2,239.1 682.4,239.0 683.6,238.9 684.8,238.9 686.0,238.8 687.2,238.7 688.4,238.6 689.6,238.5 690.8,238.4 692.0,238.3 693.2,238.2 694.4,238.1 695.6,237.9 696.8,237.8 698.0,237.7 699.2,237.5 700.4,237.4 701.6,237.2 702.8,236.9 704.0,236.6 705.2,236.3 706.4,236.0 707.6,235.6 708.8,235.2 710.0,234.7 711.2,234.3 712.4,233.8 713.6,233.3 714.8,232.8 716.0,232.2 717.2,231.7 718.4,231.1 719.6,230.6 720.8,230.0 722.0,229.3 723.2,228.6 724.4,227.9 725.6,227.0 726.8,226.2 728.0,225.3 729.2,224.4 730.4,223.4 731.6,222.5 732.8,221.6 734.0,220.6 735.2,219.7 736.4,218.8 737.6,217.9 738.8,217.0 740.0,216.2 741.2,215.5 742.4,214.7 743.6,214.0 744.8,213.3 746.0,212.6 747.2,211.9 748.4,211.1 749.6,210.3 750.8,209.4 752.0,208.5 753.2,207.6 754.4,206.6 755.6,205.6 756.8,204.6 758.0,203.5 759.2,202.5 760.4,201.4 761.6,200.3 762.8,199.1 764.0,197.7 765.2,196.1 766.4,194.2 767.6,191.8 768.8,187.0 770.0,178.0 771.2,166.1 772.4,152.1 773.6,138.0 774.8,127.0 776.0,123.2 777.2,128.8 778.4,141.6 779.6,157.5 780.8,173.0 782.0,186.4 783.2,196.9 784.4,203.3 785.6,208.6 786.8,213.4 788.0,217.7 789.2,221.2 790.4,223.7 791.6,225.7 792.8,227.4 794.0,229.0 795.2,230.4 796.4,231.6 797.6,232.8 798.8,233.9 800.0,234.9 801.2,236.0 802.4,236.9 803.6,237.9 804.8,238.7 806.0,239.5 807.2,240.3 808.4,241.0 809.6,241.5 810.8,242.0 812.0,242.6 813.2,243.0 814.4,243.5 815.6,244.0 816.8,244.5 818.0,244.9 819.2,245.3 820.4,245.7 821.6,246.1 822.8,246.4 824.0,246.7 825.2,246.9 826.4,247.1 827.6,247.2 828.8,247.3 830.0,247.4 831.2,247.4 832.4,247.4 833.6,247.4 834.8,247.4 836.0,247.4 837.2,247.4 838.4,247.4 839.6,247.4 840.8,247.4 842.0,247.4 843.2,247.4 844.4,247.4 845.6,247.4 846.8,247.4 848.0,247.4 849.2,247.4 850.4,247.4 851.6,247.4 852.8,247.5 854.0,247.5 855.2,247.6 856.4,247.7 857.6,247.8 858.8,247.9 860.0,248.1 861.2,248.2 862.4,248.4 863.6,248.5 864.8,248.7 866.0,248.8 867.2,249.0 868.4,249.1 869.6,249.3 870.8,249.4 872.0,249.5 873.2,249.6 874.4,249.8 875.6,249.9 876.8,249.9 878.0,250.0 879.2,250.1 880.4,250.1 881.6,250.2 882.8,250.3 884.0,250.4 885.2,250.4 886.4,250.5 887.6,250.6 888.8,250.6 890.0,250.7 891.2,250.8 892.4,250.8 893.6,250.9 894.8,251.0 896.0,251.0 897.2,251.1 898.4,251.2 899.6,251.2 900.8,251.3 902.0,251.3 903.2,251.4 904.4,251.5 905.6,251.5 906.8,251.6 908.0,251.6 909.2,251.7 910.4,251.7 911.6,251.8 912.8,251.8 914.0,251.9 915.2,251.9 916.4,252.0 917.6,252.0 918.8,252.0 920.0,252.1 921.2,252.1 922.4,252.2 923.6,252.2 924.8,252.2 926.0,252.2 927.2,252.3 928.4,252.3 929.6,252.3 930.8,252.3 932.0,252.4 933.2,252.4 934.4,252.4 935.6,252.4 936.8,252.4 938.0,252.4 939.2,252.4 940.4,252.4 941.6,252.4 942.8,252.4 944.0,252.3 945.2,252.3 946.4,252.3 947.6,252.2 948.8,252.1 950.0,252.1 951.2,252.0 952.4,251.9 953.6,251.8 954.8,251.6 956.0,251.4 957.2,251.0 958.4,250.6 959.6,250.1 960.8,249.4 962.0,248.6 963.2,247.7 964.4,247.0 965.6,246.5 966.8,246.5 968.0,246.9 969.2,247.5 970.4,248.2 971.6,248.8 972.8,249.3 974.0,249.6 975.2,249.8 976.4,250.0 977.6,250.0 978.8,250.0 980.0,250.0 981.2,250.0 982.4,249.9 983.6,249.9 984.8,249.8 986.0,249.8 987.2,249.7 988.4,249.7 989.6,249.6 990.8,249.6 992.0,249.5 993.2,249.5 994.4,249.5 995.6,249.5 996.8,249.4 998.0,249.4 999.2,249.4 1000.4,249.4 1001.6,249.4 1002.8,249.4 1004.0,249.5 1005.2,249.5 1006.4,249.5 1007.6,249.5 1008.8,249.6 1010.0,249.6 1011.2,249.6 1012.4,249.7 1013.6,249.7 1014.8,249.7 1016.0,249.8 1017.2,249.8 1018.4,249.9 1019.6,249.9 1020.8,250.0 1022.0,250.1 1023.2,250.1 1024.4,250.2 1025.6,250.2 1026.8,250.3 1028.0,250.4 1029.2,250.4 1030.4,250.5 1031.6,250.5 1032.8,250.6 1034.0,250.7 1035.2,250.7 1036.4,250.8 1037.6,250.9 1038.8,250.9 1040.0,251.0 1041.2,251.1 1042.4,251.1 1043.6,251.2 1044.8,251.2 1046.0,251.3 1047.2,251.3 1048.4,251.4 1049.6,251.4 1050.8,251.5 1052.0,251.5 1053.2,251.6 1054.4,251.6 1055.6,251.7 1056.8,251.7 1058.0,251.8 1059.2,251.8 1060.4,251.9 1061.6,251.9 1062.8,252.0 1064.0,252.0 1065.2,252.1 1066.4,252.1 1067.6,252.2 1068.8,252.2 1070.0,252.2 1071.2,252.1 1072.4,252.0 1073.6,251.9 1074.8,251.7 1076.0,251.6 1077.2,251.6 1078.4,251.7 1079.6,252.0 1080.8,252.2 1082.0,252.5 1083.2,252.7 1084.4,252.8 1085.6,252.9 1086.8,253.0 1088.0,253.1 1089.2,253.1 1090.4,253.2 1091.6,253.2 1092.8,253.2 1094.0,253.3 1095.2,253.3 1096.4,253.3 1097.6,253.4 1098.8,253.4 1100.0,253.4 1101.2,253.4 1102.4,253.5 1103.6,253.5 1104.8,253.5 1106.0,253.5 1107.2,253.5 1108.4,253.5 1109.6,253.6 1110.8,253.6 1112.0,253.6 1113.2,253.6 1114.4,253.6 1115.6,253.6 1116.8,253.6 1118.0,253.6 1119.2,253.7 1120.4,253.7 1121.6,253.7 1122.8,253.7 1124.0,253.7 1125.2,253.7 1126.4,253.7 1127.6,253.7 1128.8,253.7 1130.0,253.7 1131.2,253.7 1132.4,253.7 1133.6,253.7 1134.8,253.7 1136.0,253.7 1137.2,253.7 1138.4,253.7 1139.6,253.7 1140.8,253.7 1142.0,253.7 1143.2,253.7 1144.4,253.7 1145.6,253.7 1146.8,253.7 1148.0,253.6 1149.2,253.6 1150.4,253.6 1151.6,253.6 1152.8,253.5 1154.0,253.5 1155.2,253.4 1156.4,253.4 1157.6,253.3 1158.8,253.2 1160.0,253.1 1161.2,252.9 1162.4,252.7 1163.6,252.4 1164.8,252.1 1166.0,251.5 1167.2,250.8 1168.4,249.8 1169.6,248.6 1170.8,247.0 1172.0,245.2 1173.2,243.2 1174.4,241.2 1175.6,239.6 1176.8,238.7 1178.0,238.9 1179.2,240.1 1180.4,241.9 1181.6,243.9 1182.8,245.9 1184.0,247.7 1185.2,249.1 1186.4,250.3 1187.6,251.2 1188.8,251.9 1190.0,252.4 1191.2,252.8 1192.4,253.1 1193.6,253.3 1194.8,253.4 1196.0,253.6 1197.2,253.7 1198.4,253.8 1199.6,253.9 1200.8,253.9 1202.0,254.0 1203.2,254.1 1204.4,254.1 1205.6,254.2 1206.8,254.2 1208.0,254.3 1209.2,254.3 1210.4,254.4 1211.6,254.4 1212.8,254.5 1214.0,254.5 1215.2,254.5 1216.4,254.6 1217.6,254.6 1218.8,254.6 1220.0,254.7 1221.2,254.7 1222.4,254.8 1223.6,254.8 1224.8,254.8 1226.0,254.9 1227.2,254.9 1228.4,254.9 1229.6,255.0 1230.8,255.0 1232.0,255.1 1233.2,255.1 1234.4,255.1 1235.6,255.2 1236.8,255.2 1238.0,255.2 1239.2,255.3 1240.4,255.3 1241.6,255.3 1242.8,255.4 1244.0,255.4 1245.2,255.5 1246.4,255.5 1247.6,255.5 1248.8,255.6 1250.0,255.6 1251.2,255.6 1252.4,255.7 1253.6,255.7 1254.8,255.7 1256.0,255.8 1257.2,255.8 1258.4,255.8 1259.6,255.9 1260.8,255.9 1262.0,255.9 1263.2,255.9 1264.4,256.0 1265.6,256.0 1266.8,256.0 1268.0,256.1 1269.2,256.1 1270.4,256.1 1271.6,256.1 1272.8,256.2 1274.0,256.2 1275.2,256.2 1276.4,256.2 1277.6,256.2 1278.8,256.3 1280.0,256.3 1281.2,256.3 1282.4,256.3 1283.6,256.3 1284.8,256.4 1286.0,256.4 1287.2,256.4 1288.4,256.4 1289.6,256.4 1290.8,256.4 1292.0,256.4 1293.2,256.4 1294.4,256.4 1295.6,256.5 1296.8,256.5 1298.0,256.5 1299.2,256.5 1300.4,256.5 1301.6,256.5 1302.8,256.5 1304.0,256.5 1305.2,256.5 1306.4,256.5 1307.6,256.5 1308.8,256.5 1310.0,256.5 1311.2,256.5 1312.4,256.5 1313.6,256.4 1314.8,256.4 1316.0,256.4 1317.2,256.4 1318.4,256.4 1319.6,256.4 1320.8,256.4 1322.0,256.4 1323.2,256.4 1324.4,256.4 1325.6,256.4 1326.8,256.4 1328.0,256.4 1329.2,256.4 1330.4,256.4 1331.6,256.4 1332.8,256.4 1334.0,256.3 1335.2,256.3 1336.4,256.3 1337.6,256.3 1338.8,256.3 1340.0,256.3 1341.2,256.3 1342.4,256.3 1343.6,256.3 1344.8,256.3 1346.0,256.3 1347.2,256.2 1348.4,256.2 1349.6,256.2 1350.8,256.2 1352.0,256.2 1353.2,256.2 1354.4,256.2 1355.6,256.2 1356.8,256.1 1358.0,256.1 1359.2,256.1 1360.4,256.1 1361.6,256.1 1362.8,256.1 1364.0,256.1 1365.2,256.0 1366.4,256.0 1367.6,256.0 1368.8,256.0 1370.0,256.0 1371.2,256.0 1372.4,255.9 1373.6,255.9 1374.8,255.9 1376.0,255.9 1377.2,255.9 1378.4,255.8 1379.6,255.8 1380.8,255.8 1382.0,255.8 1383.2,255.8 1384.4,255.7 1385.6,255.7 1386.8,255.7 1388.0,255.7 1389.2,255.7 1390.4,255.6 1391.6,255.6 1392.8,255.6 1394.0,255.6 1395.2,255.6 1396.4,255.5 1397.6,255.5 1398.8,255.5 1400.0,255.5 1401.2,255.4 1402.4,255.4 1403.6,255.3 1404.8,255.3 1406.0,255.2 1407.2,255.1 1408.4,255.1 1409.6,255.0 1410.8,254.9 1412.0,254.7 1413.2,254.6 1414.4,254.5 1415.6,254.4 1416.8,254.3 1418.0,254.1 1419.2,254.0 1420.4,253.9 1421.6,253.7 1422.8,253.6 1424.0,253.5 1425.2,253.3 1426.4,253.2 1427.6,253.0 1428.8,252.9 1430.0,252.8 1431.2,252.6 1432.4,252.5 1433.6,252.4 1434.8,252.3 1436.0,252.2 1437.2,252.1 1438.4,252.0 1439.6,251.9 1440.8,251.8 1442.0,251.7 1443.2,251.6 1444.4,251.6 1445.6,251.5 1446.8,251.5 1448.0,251.5 1449.2,251.5 1450.4,251.4 1451.6,251.5 1452.8,251.5 1454.0,251.5 1455.2,251.5 1456.4,251.5 1457.6,251.5 1458.8,251.5 1460.0,251.5 1461.2,251.6 1462.4,251.6 1463.6,251.6 1464.8,251.7 1466.0,251.7 1467.2,251.7 1468.4,251.7 1469.6,251.8 1470.8,251.8 1472.0,251.8 1473.2,251.9 1474.4,251.9 1475.6,251.9 1476.8,252.0 1478.0,252.0 1479.2,252.1 1480.4,252.1 1481.6,252.1 1482.8,252.1 1484.0,252.2 1485.2,252.2 1486.4,252.2 1487.6,252.3 1488.8,252.3 1490.0,252.3 1491.2,252.3 1492.4,252.3 1493.6,252.4 1494.8,252.4 1496.0,252.4 1497.2,252.4 1498.4,252.4 1499.6,252.4 1500.8,252.4 1502.0,252.4 1503.2,252.4 1504.4,252.4 1505.6,252.4 1506.8,252.4 1508.0,252.4 1509.2,252.4 1510.4,252.4 1511.6,252.4 1512.8,252.4 1514.0,252.4 1515.2,252.4 1516.4,252.3 1517.6,252.3 1518.8,252.3 1520.0,252.3 1521.2,252.3 1522.4,252.3 1523.6,252.3 1524.8,252.3 1526.0,252.3 1527.2,252.3 1528.4,252.3 1529.6,252.3 1530.8,252.3 1532.0,252.3 1533.2,252.2 1534.4,252.2 1535.6,252.2 1536.8,252.2 1538.0,252.2 1539.2,252.2 1540.4,252.2 1541.6,252.2 1542.8,252.1 1544.0,252.1 1545.2,252.1 1546.4,252.0 1547.6,252.0 1548.8,251.9 1550.0,251.9 1551.2,251.8 1552.4,251.7 1553.6,251.7 1554.8,251.6 1556.0,251.5 1557.2,251.4 1558.4,251.3 1559.6,251.1 1560.8,251.0 1562.0,250.8 1563.2,250.7 1564.4,250.5 1565.6,250.3 1566.8,250.0 1568.0,249.8 1569.2,249.4 1570.4,249.0 1571.6,248.5 1572.8,247.8 1574.0,247.0 1575.2,246.1 1576.4,244.9 1577.6,243.6 1578.8,242.1 1580.0,240.4 1581.2,238.6 1582.4,236.8 1583.6,235.1 1584.8,233.8 1586.0,233.0 1587.2,232.9 1588.4,233.4 1589.6,234.5 1590.8,236.0 1592.0,237.6 1593.2,239.3 1594.4,240.8 1595.6,242.2 1596.8,243.5 1598.0,244.5 1599.2,245.4 1600.4,246.1 1601.6,246.6 1602.8,247.0 1604.0,247.4 1605.2,247.6 1606.4,247.8 1607.6,247.9 1608.8,248.0 1610.0,248.1 1611.2,248.1 1612.4,248.1 1613.6,248.2 1614.8,248.2 1616.0,248.2 1617.2,248.2 1618.4,248.2 1619.6,248.1 1620.8,248.1 1622.0,248.1 1623.2,248.1 1624.4,248.0 1625.6,248.0 1626.8,248.0 1628.0,247.9 1629.2,247.9 1630.4,247.8 1631.6,247.8 1632.8,247.8 1634.0,247.7 1635.2,247.7 1636.4,247.6 1637.6,247.6 1638.8,247.6 1640.0,247.5 1641.2,247.5 1642.4,247.4 1643.6,247.4 1644.8,247.4 1646.0,247.3 1647.2,247.3 1648.4,247.2 1649.6,247.2 1650.8,247.1 1652.0,247.1 1653.2,247.0 1654.4,246.8 1655.6,246.7 1656.8,246.4 1658.0,246.2 1659.2,245.9 1660.4,245.6 1661.6,245.4 1662.8,245.3 1664.0,245.5 1665.2,245.7 1666.4,246.1 1667.6,246.4 1668.8,246.7 1670.0,246.9 1671.2,247.1 1672.4,247.3 1673.6,247.4 1674.8,247.5 1676.0,247.6 1677.2,247.7 1678.4,247.7 1679.6,247.8 1680.8,247.9 1682.0,247.9 1683.2,248.0 1684.4,248.1 1685.6,248.1 1686.8,248.2 1688.0,248.2 1689.2,248.3 1690.4,248.3 1691.6,248.3 1692.8,248.3 1694.0,248.3 1695.2,248.3 1696.4,248.3 1697.6,248.2 1698.8,248.1 1700.0,248.0 1701.2,247.8 1702.4,247.6 1703.6,247.3 1704.8,246.8 1706.0,246.3 1707.2,245.5 1708.4,244.5 1709.6,243.3 1710.8,241.8 1712.0,240.0 1713.2,238.1 1714.4,236.1 1715.6,234.2 1716.8,232.6 1718.0,231.8 1719.2,231.8 1720.4,232.7 1721.6,234.3 1722.8,236.3 1724.0,238.3 1725.2,240.3 1726.4,242.1 1727.6,243.7 1728.8,245.0 1730.0,246.0 1731.2,246.9 1732.4,247.5 1733.6,248.0 1734.8,248.4 1736.0,248.7 1737.2,249.0 1738.4,249.2 1739.6,249.3 1740.8,249.5 1742.0,249.6 1743.2,249.7 1744.4,249.9 1745.6,250.0 1746.8,250.1 1748.0,250.1 1749.2,250.2 1750.4,250.3 1751.6,250.4 1752.8,250.5 1754.0,250.6 1755.2,250.6 1756.4,250.7 1757.6,250.8 1758.8,250.9 1760.0,250.9 1761.2,251.0 1762.4,251.1 1763.6,251.1 1764.8,251.2 1766.0,251.3 1767.2,251.3 1768.4,251.4 1769.6,251.5 1770.8,251.5 1772.0,251.6 1773.2,251.6 1774.4,251.7 1775.6,251.8 1776.8,251.8 1778.0,251.9 1779.2,251.9 1780.4,252.0 1781.6,252.0 1782.8,252.1 1784.0,252.1 1785.2,252.1 1786.4,252.2 1787.6,252.2 1788.8,252.2 1790.0,252.3 1791.2,252.3 1792.4,252.3 1793.6,252.3 1794.8,252.4 1796.0,252.4 1797.2,252.4 1798.4,252.4 1799.6,252.4 1800.8,252.4 1802.0,252.4 1803.2,252.4 1804.4,252.4 1805.6,252.4 1806.8,252.4 1808.0,252.4 1809.2,252.4 1810.4,252.4 1811.6,252.4 1812.8,252.4 1814.0,252.4 1815.2,252.4 1816.4,252.4 1816.4,267.4 1815.2,267.4 1814.0,267.4 1812.8,267.4 1811.6,267.4 1810.4,267.4 1809.2,267.4 1808.0,267.4 1806.8,267.4 1805.6,267.4 1804.4,267.4 1803.2,267.4 1802.0,267.4 1800.8,267.4 1799.6,267.4 1798.4,267.4 1797.2,267.4 1796.0,267.4 1794.8,267.4 1793.6,267.3 1792.4,267.3 1791.2,267.3 1790.0,267.3 1788.8,267.2 1787.6,267.2 1786.4,267.2 1785.2,267.1 1784.0,267.1 1782.8,267.0 1781.6,267.0 1780.4,267.0 1779.2,266.9 1778.0,266.9 1776.8,266.8 1775.6,266.8 1774.4,266.7 1773.2,266.6 1772.0,266.6 1770.8,266.5 1769.6,266.5 1768.4,266.4 1767.2,266.3 1766.0,266.3 1764.8,266.2 1763.6,266.1 1762.4,266.1 1761.2,266.0 1760.0,265.9 1758.8,265.9 1757.6,265.8 1756.4,265.7 1755.2,265.6 1754.0,265.6 1752.8,265.5 1751.6,265.4 1750.4,265.3 1749.2,265.2 1748.0,265.1 1746.8,265.1 1745.6,265.0 1744.4,264.9 1743.2,264.7 1742.0,264.6 1740.8,264.5 1739.6,264.3 1738.4,264.2 1737.2,264.0 1736.0,263.7 1734.8,263.4 1733.6,263.0 1732.4,262.5 1731.2,261.9 1730.0,261.0 1728.8,260.0 1727.6,258.7 1726.4,257.1 1725.2,255.3 1724.0,253.3 1722.8,251.3 1721.6,249.3 1720.4,247.7 1719.2,246.8 1718.0,246.8 1716.8,247.6 1715.6,249.2 1714.4,251.1 1713.2,253.1 1712.0,255.0 1710.8,256.8 1709.6,258.3 1708.4,259.5 1707.2,260.5 1706.0,261.3 1704.8,261.8 1703.6,262.3 1702.4,262.6 1701.2,262.8 1700.0,263.0 1698.8,263.1 1697.6,263.2 1696.4,263.3 1695.2,263.3 1694.0,263.3 1692.8,263.3 1691.6,263.3 1690.4,263.3 1689.2,263.3 1688.0,263.2 1686.8,263.2 1685.6,263.1 1684.4,263.1 1683.2,263.0 1682.0,262.9 1680.8,262.9 1679.6,262.8 1678.4,262.7 1677.2,262.7 1676.0,262.6 1674.8,262.5 1673.6,262.4 1672.4,262.3 1671.2,262.1 1670.0,261.9 1668.8,261.7 1667.6,261.4 1666.4,261.1 1665.2,260.7 1664.0,260.5 1662.8,260.3 1661.6,260.4 1660.4,260.6 1659.2,260.9 1658.0,261.2 1656.8,261.4 1655.6,261.7 1654.4,261.8 1653.2,262.0 1652.0,262.1 1650.8,262.1 1649.6,262.2 1648.4,262.2 1647.2,262.3 1646.0,262.3 1644.8,262.4 1643.6,262.4 1642.4,262.4 1641.2,262.5 1640.0,262.5 1638.8,262.6 1637.6,262.6 1636.4,262.6 1635.2,262.7 1634.0,262.7 1632.8,262.8 1631.6,262.8 1630.4,262.8 1629.2,262.9 1628.0,262.9 1626.8,263.0 1625.6,263.0 1624.4,263.0 1623.2,263.1 1622.0,263.1 1620.8,263.1 1619.6,263.1 1618.4,263.2 1617.2,263.2 1616.0,263.2 1614.8,263.2 1613.6,263.2 1612.4,263.1 1611.2,263.1 1610.0,263.1 1608.8,263.0 1607.6,262.9 1606.4,262.8 1605.2,262.6 1604.0,262.4 1602.8,262.0 1601.6,261.6 1600.4,261.1 1599.2,260.4 1598.0,259.5 1596.8,258.5 1595.6,257.2 1594.4,255.8 1593.2,254.3 1592.0,252.6 1590.8,251.0 1589.6,249.5 1588.4,248.4 1587.2,247.9 1586.0,248.0 1584.8,248.8 1583.6,250.1 1582.4,251.8 1581.2,253.6 1580.0,255.4 1578.8,257.0 1577.6,258.6 1576.4,259.9 1575.2,261.1 1574.0,262.0 1572.8,262.8 1571.6,263.5 1570.4,264.0 1569.2,264.4 1568.0,264.8 1566.8,265.0 1565.6,265.3 1564.4,265.5 1563.2,265.7 1562.0,265.8 1560.8,266.0 1559.6,266.1 1558.4,266.2 1557.2,266.4 1556.0,266.5 1554.8,266.6 1553.6,266.7 1552.4,266.7 1551.2,266.8 1550.0,266.9 1548.8,266.9 1547.6,267.0 1546.4,267.0 1545.2,267.1 1544.0,267.1 1542.8,267.1 1541.6,267.2 1540.4,267.2 1539.2,267.2 1538.0,267.2 1536.8,267.2 1535.6,267.2 1534.4,267.2 1533.2,267.2 1532.0,267.3 1530.8,267.3 1529.6,267.3 1528.4,267.3 1527.2,267.3 1526.0,267.3 1524.8,267.3 1523.6,267.3 1522.4,267.3 1521.2,267.3 1520.0,267.3 1518.8,267.3 1517.6,267.3 1516.4,267.3 1515.2,267.3 1514.0,267.4 1512.8,267.4 1511.6,267.4 1510.4,267.4 1509.2,267.4 1508.0,267.4 1506.8,267.4 1505.6,267.4 1504.4,267.4 1503.2,267.4 1502.0,267.4 1500.8,267.4 1499.6,267.4 1498.4,267.4 1497.2,267.4 1496.0,267.4 1494.8,267.4 1493.6,267.4 1492.4,267.3 1491.2,267.3 1490.0,267.3 1488.8,267.3 1487.6,267.3 1486.4,267.2 1485.2,267.2 1484.0,267.2 1482.8,267.1 1481.6,267.1 1480.4,267.1 1479.2,267.0 1478.0,267.0 1476.8,267.0 1475.6,266.9 1474.4,266.9 1473.2,266.9 1472.0,266.8 1470.8,266.8 1469.6,266.8 1468.4,266.7 1467.2,266.7 1466.0,266.7 1464.8,266.6 1463.6,266.6 1462.4,266.6 1461.2,266.6 1460.0,266.5 1458.8,266.5 1457.6,266.5 1456.4,266.5 1455.2,266.5 1454.0,266.5 1452.8,266.5 1451.6,266.4 1450.4,266.4 1449.2,266.5 1448.0,266.5 1446.8,266.5 1445.6,266.5 1444.4,266.6 1443.2,266.6 1442.0,266.7 1440.8,266.8 1439.6,266.9 1438.4,267.0 1437.2,267.1 1436.0,267.2 1434.8,267.3 1433.6,267.4 1432.4,267.5 1431.2,267.6 1430.0,267.8 1428.8,267.9 1427.6,268.0 1426.4,268.2 1425.2,268.3 1424.0,268.5 1422.8,268.6 1421.6,268.7 1420.4,268.9 1419.2,269.0 1418.0,269.1 1416.8,269.3 1415.6,269.4 1414.4,269.5 1413.2,269.6 1412.0,269.7 1410.8,269.9 1409.6,270.0 1408.4,270.0 1407.2,270.1 1406.0,270.2 1404.8,270.3 1403.6,270.3 1402.4,270.4 1401.2,270.4 1400.0,270.5 1398.8,270.5 1397.6,270.5 1396.4,270.5 1395.2,270.6 1394.0,270.6 1392.8,270.6 1391.6,270.6 1390.4,270.6 1389.2,270.7 1388.0,270.7 1386.8,270.7 1385.6,270.7 1384.4,270.7 1383.2,270.8 1382.0,270.8 1380.8,270.8 1379.6,270.8 1378.4,270.8 1377.2,270.9 1376.0,270.9 1374.8,270.9 1373.6,270.9 1372.4,270.9 1371.2,271.0 1370.0,271.0 1368.8,271.0 1367.6,271.0 1366.4,271.0 1365.2,271.0 1364.0,271.0 1362.8,271.1 1361.6,271.1 1360.4,271.1 1359.2,271.1 1358.0,271.1 1356.8,271.1 1355.6,271.2 1354.4,271.2 1353.2,271.2 1352.0,271.2 1350.8,271.2 1349.6,271.2 1348.4,271.2 1347.2,271.2 1346.0,271.2 1344.8,271.3 1343.6,271.3 1342.4,271.3 1341.2,271.3 1340.0,271.3 1338.8,271.3 1337.6,271.3 1336.4,271.3 1335.2,271.3 1334.0,271.3 1332.8,271.4 1331.6,271.4 1330.4,271.4 1329.2,271.4 1328.0,271.4 1326.8,271.4 1325.6,271.4 1324.4,271.4 1323.2,271.4 1322.0,271.4 1320.8,271.4 1319.6,271.4 1318.4,271.4 1317.2,271.4 1316.0,271.4 1314.8,271.4 1313.6,271.4 1312.4,271.4 1311.2,271.4 1310.0,271.5 1308.8,271.5 1307.6,271.5 1306.4,271.5 1305.2,271.5 1304.0,271.5 1302.8,271.5 1301.6,271.5 1300.4,271.5 1299.2,271.5 1298.0,271.5 1296.8,271.5 1295.6,271.4 1294.4,271.4 1293.2,271.4 1292.0,271.4 1290.8,271.4 1289.6,271.4 1288.4,271.4 1287.2,271.4 1286.0,271.4 1284.8,271.4 1283.6,271.3 1282.4,271.3 1281.2,271.3 1280.0,271.3 1278.8,271.3 1277.6,271.2 1276.4,271.2 1275.2,271.2 1274.0,271.2 1272.8,271.2 1271.6,271.1 1270.4,271.1 1269.2,271.1 1268.0,271.1 1266.8,271.0 1265.6,271.0 1264.4,271.0 1263.2,270.9 1262.0,270.9 1260.8,270.9 1259.6,270.8 1258.4,270.8 1257.2,270.8 1256.0,270.8 1254.8,270.7 1253.6,270.7 1252.4,270.7 1251.2,270.6 1250.0,270.6 1248.8,270.6 1247.6,270.5 1246.4,270.5 1245.2,270.4 1244.0,270.4 1242.8,270.4 1241.6,270.3 1240.4,270.3 1239.2,270.3 1238.0,270.2 1236.8,270.2 1235.6,270.2 1234.4,270.1 1233.2,270.1 1232.0,270.1 1230.8,270.0 1229.6,270.0 1228.4,269.9 1227.2,269.9 1226.0,269.9 1224.8,269.8 1223.6,269.8 1222.4,269.8 1221.2,269.7 1220.0,269.7 1218.8,269.6 1217.6,269.6 1216.4,269.6 1215.2,269.5 1214.0,269.5 1212.8,269.4 1211.6,269.4 1210.4,269.4 1209.2,269.3 1208.0,269.3 1206.8,269.2 1205.6,269.2 1204.4,269.1 1203.2,269.1 1202.0,269.0 1200.8,268.9 1199.6,268.9 1198.4,268.8 1197.2,268.7 1196.0,268.6 1194.8,268.4 1193.6,268.3 1192.4,268.1 1191.2,267.8 1190.0,267.4 1188.8,266.9 1187.6,266.2 1186.4,265.3 1185.2,264.1 1184.0,262.7 1182.8,260.9 1181.6,258.9 1180.4,256.9 1179.2,255.1 1178.0,253.9 1176.8,253.7 1175.6,254.6 1174.4,256.2 1173.2,258.2 1172.0,260.2 1170.8,262.0 1169.6,263.5 1168.4,264.8 1167.2,265.8 1166.0,266.5 1164.8,267.0 1163.6,267.4 1162.4,267.7 1161.2,267.9 1160.0,268.1 1158.8,268.2 1157.6,268.3 1156.4,268.4 1155.2,268.4 1154.0,268.5 1152.8,268.5 1151.6,268.6 1150.4,268.6 1149.2,268.6 1148.0,268.6 1146.8,268.7 1145.6,268.7 1144.4,268.7 1143.2,268.7 1142.0,268.7 1140.8,268.7 1139.6,268.7 1138.4,268.7 1137.2,268.7 1136.0,268.7 1134.8,268.7 1133.6,268.7 1132.4,268.7 1131.2,268.7 1130.0,268.7 1128.8,268.7 1127.6,268.7 1126.4,268.7 1125.2,268.7 1124.0,268.7 1122.8,268.7 1121.6,268.7 1120.4,268.7 1119.2,268.6 1118.0,268.6 1116.8,268.6 1115.6,268.6 1114.4,268.6 1113.2,268.6 1112.0,268.6 1110.8,268.6 1109.6,268.5 1108.4,268.5 1107.2,268.5 1106.0,268.5 1104.8,268.5 1103.6,268.5 1102.4,268.4 1101.2,268.4 1100.0,268.4 1098.8,268.4 1097.6,268.4 1096.4,268.3 1095.2,268.3 1094.0,268.3 1092.8,268.2 1091.6,268.2 1090.4,268.1 1089.2,268.1 1088.0,268.0 1086.8,268.0 1085.6,267.9 1084.4,267.8 1083.2,267.7 1082.0,267.5 1080.8,267.2 1079.6,267.0 1078.4,266.7 1077.2,266.6 1076.0,266.6 1074.8,266.7 1073.6,266.9 1072.4,267.0 1071.2,267.1 1070.0,267.1 1068.8,267.2 1067.6,267.1 1066.4,267.1 1065.2,267.1 1064.0,267.0 1062.8,267.0 1061.6,266.9 1060.4,266.9 1059.2,266.8 1058.0,266.8 1056.8,266.7 1055.6,266.7 1054.4,266.6 1053.2,266.6 1052.0,266.5 1050.8,266.5 1049.6,266.4 1048.4,266.4 1047.2,266.3 1046.0,266.3 1044.8,266.2 1043.6,266.2 1042.4,266.1 1041.2,266.0 1040.0,266.0 1038.8,265.9 1037.6,265.9 1036.4,265.8 1035.2,265.7 1034.0,265.7 1032.8,265.6 1031.6,265.5 1030.4,265.5 1029.2,265.4 1028.0,265.3 1026.8,265.3 1025.6,265.2 1024.4,265.2 1023.2,265.1 1022.0,265.0 1020.8,265.0 1019.6,264.9 1018.4,264.9 1017.2,264.8 1016.0,264.8 1014.8,264.7 1013.6,264.7 1012.4,264.6 1011.2,264.6 1010.0,264.6 1008.8,264.5 1007.6,264.5 1006.4,264.5 1005.2,264.5 1004.0,264.4 1002.8,264.4 1001.6,264.4 1000.4,264.4 999.2,264.4 998.0,264.4 996.8,264.4 995.6,264.4 994.4,264.5 993.2,264.5 992.0,264.5 990.8,264.6 989.6,264.6 988.4,264.6 987.2,264.7 986.0,264.7 984.8,264.8 983.6,264.8 982.4,264.9 981.2,264.9 980.0,265.0 978.8,265.0 977.6,265.0 976.4,264.9 975.2,264.8 974.0,264.6 972.8,264.3 971.6,263.8 970.4,263.2 969.2,262.5 968.0,261.9 966.8,261.5 965.6,261.5 964.4,262.0 963.2,262.7 962.0,263.6 960.8,264.4 959.6,265.1 958.4,265.6 957.2,266.0 956.0,266.3 954.8,266.6 953.6,266.7 952.4,266.9 951.2,267.0 950.0,267.0 948.8,267.1 947.6,267.2 946.4,267.2 945.2,267.3 944.0,267.3 942.8,267.3 941.6,267.4 940.4,267.4 939.2,267.4 938.0,267.4 936.8,267.4 935.6,267.4 934.4,267.3 933.2,267.3 932.0,267.3 930.8,267.3 929.6,267.3 928.4,267.3 927.2,267.2 926.0,267.2 924.8,267.2 923.6,267.2 922.4,267.1 921.2,267.1 920.0,267.0 918.8,267.0 917.6,267.0 916.4,266.9 915.2,266.9 914.0,266.8 912.8,266.8 911.6,266.7 910.4,266.7 909.2,266.6 908.0,266.6 906.8,266.5 905.6,266.5 904.4,266.4 903.2,266.4 902.0,266.3 900.8,266.2 899.6,266.2 898.4,266.1 897.2,266.0 896.0,266.0 894.8,265.9 893.6,265.9 892.4,265.8 891.2,265.7 890.0,265.6 888.8,265.6 887.6,265.5 886.4,265.4 885.2,265.4 884.0,265.3 882.8,265.2 881.6,265.2 880.4,265.1 879.2,265.0 878.0,264.9 876.8,264.9 875.6,264.8 874.4,264.7 873.2,264.6 872.0,264.5 870.8,264.3 869.6,264.2 868.4,264.0 867.2,263.9 866.0,263.7 864.8,263.6 863.6,263.4 862.4,263.3 861.2,263.1 860.0,263.0 858.8,262.8 857.6,262.7 856.4,262.6 855.2,262.5 854.0,262.4 852.8,262.4 851.6,262.3 850.4,262.3 849.2,262.3 848.0,262.3 846.8,262.3 845.6,262.3 844.4,262.3 843.2,262.3 842.0,262.3 840.8,262.3 839.6,262.2 838.4,262.2 837.2,262.2 836.0,262.2 834.8,262.2 833.6,262.2 832.4,262.2 831.2,262.2 830.0,262.2 828.8,262.1 827.6,262.0 826.4,261.8 825.2,261.6 824.0,261.4 822.8,261.1 821.6,260.8 820.4,260.4 819.2,260.0 818.0,259.5 816.8,259.1 815.6,258.6 814.4,258.1 813.2,257.6 812.0,257.1 810.8,256.5 809.6,256.0 808.4,255.4 807.2,254.6 806.0,253.8 804.8,253.0 803.6,252.0 802.4,251.0 801.2,250.0 800.0,248.9 798.8,247.7 797.6,246.5 796.4,245.2 795.2,243.7 794.0,242.1 792.8,240.3 791.6,238.2 790.4,235.8 789.2,232.8 788.0,228.5 786.8,223.0 785.6,216.0 784.4,207.2 783.2,196.9 782.0,186.4 780.8,173.0 779.6,157.5 778.4,141.6 777.2,128.8 776.0,123.2 774.8,127.0 773.6,138.0 772.4,152.1 771.2,166.1 770.0,178.0 768.8,187.0 767.6,195.0 766.4,201.2 765.2,205.4 764.0,208.3 762.8,210.6 761.6,212.4 760.4,213.9 759.2,215.3 758.0,216.6 756.8,217.9 755.6,219.1 754.4,220.2 753.2,221.4 752.0,222.4 750.8,223.4 749.6,224.4 748.4,225.2 747.2,226.1 746.0,226.9 744.8,227.6 743.6,228.4 742.4,229.2 741.2,229.9 740.0,230.7 738.8,231.6 737.6,232.4 736.4,233.4 735.2,234.3 734.0,235.2 732.8,236.2 731.6,237.2 730.4,238.1 729.2,239.1 728.0,240.0 726.8,240.9 725.6,241.8 724.4,242.6 723.2,243.4 722.0,244.1 720.8,244.8 719.6,245.3 718.4,245.9 717.2,246.5 716.0,247.0 714.8,247.6 713.6,248.1 712.4,248.6 711.2,249.1 710.0,249.6 708.8,250.0 707.6,250.4 706.4,250.8 705.2,251.2 704.0,251.5 702.8,251.8 701.6,252.0 700.4,252.2 699.2,252.4 698.0,252.5 696.8,252.7 695.6,252.8 694.4,253.0 693.2,253.1 692.0,253.2 690.8,253.3 689.6,253.4 688.4,253.5 687.2,253.6 686.0,253.7 684.8,253.8 683.6,253.8 682.4,253.9 681.2,254.0 680.0,254.1 678.8,254.1 677.6,254.2 676.4,254.3 675.2,254.3 674.0,254.4 672.8,254.5 671.6,254.5 670.4,254.6 669.2,254.7 668.0,254.8 666.8,254.8 665.6,254.9 664.4,255.0 663.2,255.1 662.0,255.2 660.8,255.3 659.6,255.4 658.4,255.5 657.2,255.6 656.0,255.7 654.8,255.8 653.6,256.0 652.4,256.1 651.2,256.3 650.0,256.4 648.8,256.6 647.6,256.7 646.4,256.9 645.2,257.0 644.0,257.2 642.8,257.4 641.6,257.5 640.4,257.7 639.2,257.8 638.0,257.9 636.8,258.1 635.6,258.2 634.4,258.3 633.2,258.5 632.0,258.6 630.8,258.7 629.6,258.8 628.4,258.8 627.2,258.9 626.0,259.0 624.8,259.0 623.6,259.0 622.4,259.0 621.2,259.0 620.0,259.0 618.8,258.9 617.6,258.9 616.4,258.8 615.2,258.7 614.0,258.6 612.8,258.5 611.6,258.3 610.4,258.0 609.2,257.4 608.0,256.5 606.8,254.9 605.6,252.3 604.4,248.6 603.2,244.3 602.0,240.8 600.8,240.2 599.6,242.9 598.4,247.1 597.2,251.0 596.0,254.0 594.8,255.9 593.6,256.9 592.4,257.5 591.2,257.8 590.0,258.0 588.8,258.1 587.6,258.1 586.4,258.1 585.2,258.0 584.0,257.9 582.8,257.6 581.6,257.2 580.4,256.4 579.2,255.0 578.0,252.9 576.8,250.0 575.6,246.7 574.4,244.1 573.2,243.6 572.0,245.5 570.8,248.4 569.6,250.9 568.4,252.7 567.2,253.7 566.0,254.1 564.8,254.1 563.6,253.9 562.4,253.5 561.2,253.0 560.0,252.3 558.8,251.3 557.6,249.7 556.4,247.1 555.2,242.9 554.0,236.2 552.8,228.6 551.6,220.2 550.4,211.0 549.2,203.5 548.0,201.1 546.8,205.2 545.6,213.4 544.4,222.3 543.2,229.8 542.0,237.3 540.8,242.8 539.6,246.1 538.4,248.1 537.2,249.2 536.0,249.8 534.8,250.2 533.6,250.5 532.4,250.6 531.2,250.7 530.0,250.8 528.8,250.8 527.6,250.8 526.4,250.7 525.2,250.6 524.0,250.5 522.8,250.4 521.6,250.3 520.4,250.1 519.2,250.0 518.0,249.8 516.8,249.6 515.6,249.5 514.4,249.3 513.2,249.1 512.0,248.9 510.8,248.7 509.6,248.5 508.4,248.3 507.2,248.1 506.0,247.9 504.8,247.7 503.6,247.5 502.4,247.3 501.2,247.1 500.0,246.9 498.8,246.7 497.6,246.5 496.4,246.3 495.2,246.1 494.0,245.9 492.8,245.7 491.6,245.5 490.4,245.3 489.2,245.1 488.0,244.9 486.8,244.8 485.6,244.6 484.4,244.4 483.2,244.3 482.0,244.1 480.8,244.0 479.6,243.8 478.4,243.6 477.2,243.5 476.0,243.3 474.8,243.1 473.6,242.9 472.4,242.7 471.2,242.5 470.0,242.2 468.8,242.0 467.6,241.6 466.4,241.2 465.2,240.8 464.0,240.3 462.8,239.9 461.6,239.4 460.4,239.0 459.2,238.6 458.0,238.3 456.8,238.0 455.6,237.8 454.4,237.6 453.2,237.4 452.0,237.0 450.8,236.3 449.6,235.2 448.4,233.6 447.2,231.6 446.0,229.5 444.8,227.9 443.6,227.7 442.4,228.9 441.2,230.9 440.0,233.0 438.8,234.7 437.6,236.1 436.4,237.0 435.2,237.7 434.0,238.2 432.8,238.6 431.6,239.0 430.4,239.4 429.2,239.7 428.0,240.1 426.8,240.5 425.6,241.0 424.4,241.7 423.2,242.4 422.0,243.2 420.8,244.0 419.6,244.8 418.4,245.6 417.2,246.2 416.0,246.8 414.8,247.3 413.6,247.8 412.4,248.2 411.2,248.6 410.0,249.0 408.8,249.4 407.6,249.7 406.4,250.1 405.2,250.4 404.0,250.6 402.8,250.9 401.6,251.1 400.4,251.2 399.2,251.3 398.0,251.4 396.8,251.5 395.6,251.6 394.4,251.7 393.2,251.8 392.0,251.8 390.8,251.9 389.6,252.0 388.4,252.0 387.2,252.0 386.0,252.0 384.8,252.0 383.6,252.0 382.4,252.0 381.2,252.0 380.0,251.9 378.8,251.8 377.6,251.8 376.4,251.7 375.2,251.5 374.0,251.4 372.8,251.2 371.6,251.0 370.4,250.8 369.2,250.5 368.0,250.1 366.8,249.5 365.6,248.8 364.4,247.5 363.2,244.3 362.0,235.9 360.8,220.1 359.6,194.1 358.4,158.0 357.2,126.1 356.0,120.3 354.8,145.6 353.6,182.3 352.4,212.3 351.2,230.0 350.0,241.3 348.8,245.5 347.6,247.0 346.4,247.7 345.2,248.0 344.0,248.2 342.8,248.3 341.6,248.2 340.4,248.0 339.2,247.4 338.0,245.8 336.8,241.5 335.6,233.8 334.4,227.1 333.2,230.8 332.0,239.1 330.8,244.5 329.6,246.8 328.4,247.5 327.2,247.8 326.0,248.0 324.8,248.1 323.6,248.1 322.4,248.1 321.2,248.1 320.0,248.0 318.8,248.0 317.6,248.0 316.4,247.9 315.2,247.9 314.0,247.8 312.8,247.7 311.6,247.7 310.4,247.6 309.2,247.5 308.0,247.4 306.8,247.4 305.6,247.3 304.4,247.2 303.2,247.1 302.0,246.9 300.8,246.8 299.6,246.7 298.4,246.6 297.2,246.4 296.0,246.3 294.8,246.2 293.6,246.0 292.4,245.9 291.2,245.7 290.0,245.6 288.8,245.4 287.6,245.2 286.4,245.1 285.2,244.9 284.0,244.7 282.8,244.6 281.6,244.4 280.4,244.2 279.2,244.0 278.0,243.8 276.8,243.7 275.6,243.5 274.4,243.3 273.2,243.1 272.0,242.9 270.8,242.7 269.6,242.4 268.4,242.2 267.2,241.9 266.0,241.7 264.8,241.4 263.6,241.1 262.4,240.9 261.2,240.6 260.0,240.4 258.8,240.1 257.6,239.8 256.4,239.6 255.2,239.4 254.0,239.1 252.8,238.9 251.6,238.7 250.4,238.5 249.2,238.4 248.0,238.2 246.8,238.0 245.6,237.9 244.4,237.7 243.2,237.5 242.0,237.3 240.8,237.0 239.6,236.5 238.4,235.7 237.2,234.6 236.0,233.2 234.8,231.4 233.6,229.7 232.4,228.7 231.2,228.8 230.0,230.0 228.8,231.7 227.6,233.2 226.4,234.4 225.2,235.2 224.0,235.7 222.8,236.0 221.6,236.1 220.4,236.2 219.2,236.2 218.0,236.1 216.8,236.1 215.6,236.0 214.4,236.0 213.2,235.9 212.0,235.8 210.8,235.7 209.6,235.7 208.4,235.6 207.2,235.5 206.0,235.4"/>
<polyline fill="none" stroke="#000000" stroke-width="9.0" stroke-linejoin="round" stroke-linecap="round" points="206.0,228.9 206.6,230.4 207.2,229.0 207.8,224.1 208.4,230.8 209.0,229.5 209.6,226.5 210.2,229.9 210.8,229.3 211.4,229.2 212.0,228.4 212.6,230.0 213.2,226.2 213.8,228.0 214.4,227.0 215.0,230.3 215.6,228.7 216.2,227.7 216.8,226.3 217.4,227.9 218.0,228.7 218.6,227.8 219.2,232.6 219.8,231.7 220.4,223.0 221.0,223.0 221.6,228.1 222.2,227.3 222.8,229.1 223.4,229.0 224.0,233.9 224.6,224.7 225.2,226.6 225.8,233.1 226.4,228.9 227.0,228.3 227.6,224.2 228.2,220.0 228.8,224.7 229.4,223.7 230.0,218.9 230.6,219.8 231.2,221.1 231.8,218.2 232.4,220.9 233.0,221.9 233.6,222.3 234.2,221.5 234.8,225.7 235.4,227.5 236.0,226.6 236.6,224.0 237.2,229.3 237.8,226.2 238.4,230.9 239.0,225.4 239.6,231.7 240.2,229.2 240.8,225.7 241.4,228.7 242.0,230.0 242.6,230.7 243.2,227.1 243.8,226.8 244.4,230.8 245.0,228.9 245.6,231.1 246.2,232.8 246.8,225.6 247.4,231.4 248.0,234.4 248.6,229.9 249.2,228.4 249.8,233.2 250.4,231.8 251.0,233.8 251.6,230.2 252.2,226.9 252.8,231.1 253.4,230.2 254.0,234.0 254.6,232.3 255.2,227.0 255.8,228.4 256.4,234.8 257.0,234.3 257.6,230.4 258.2,232.5 258.8,233.9 259.4,234.1 260.0,235.5 260.6,233.8 261.2,232.8 261.8,232.5 262.4,236.6 263.0,227.8 263.6,233.2 264.2,233.9 264.8,229.7 265.4,235.1 266.0,232.2 266.6,236.9 267.2,234.1 267.8,236.6 268.4,238.3 269.0,236.0 269.6,232.3 270.2,230.5 270.8,240.4 271.4,235.0 272.0,233.3 272.6,235.9 273.2,235.0 273.8,238.3 274.4,235.9 275.0,235.9 275.6,233.9 276.2,237.5 276.8,233.1 277.4,238.3 278.0,240.9 278.6,231.9 279.2,230.9 279.8,238.5 280.4,242.4 281.0,233.8 281.6,233.2 282.2,238.8 282.8,234.6 283.4,235.6 284.0,236.2 284.6,238.9 285.2,236.2 285.8,238.3 286.4,237.1 287.0,235.1 287.6,236.8 288.2,235.0 288.8,237.9 289.4,234.6 290.0,234.8 290.6,242.5 291.2,238.1 291.8,238.2 292.4,239.9 293.0,237.2 293.6,237.9 294.2,239.9 294.8,239.5 295.4,235.3 296.0,241.3 296.6,237.1 297.2,235.8 297.8,236.3 298.4,237.9 299.0,244.0 299.6,235.7 300.2,239.8 300.8,233.7 301.4,239.4 302.0,242.2 302.6,238.8 303.2,237.7 303.8,240.3 304.4,241.8 305.0,241.7 305.6,245.5 306.2,240.5 306.8,238.1 307.4,239.6 308.0,239.8 308.6,240.4 309.2,240.0 309.8,240.6 310.4,235.2 311.0,242.7 311.6,238.5 312.2,236.8 312.8,242.2 313.4,244.3 314.0,241.8 314.6,240.9 315.2,237.6 315.8,246.1 316.4,243.1 317.0,237.1 317.6,238.2 318.2,240.8 318.8,235.9 319.4,241.1 320.0,239.2 320.6,244.3 321.2,243.5 321.8,235.0 322.4,240.8 323.0,235.9 323.6,244.0 324.2,241.2 324.8,242.3 325.4,237.5 326.0,246.0 326.6,246.2 327.2,237.3 327.8,241.4 328.4,238.2 329.0,239.8 329.6,235.6 330.2,244.1 330.8,234.3 331.4,234.1 332.0,233.3 332.6,225.9 333.2,222.8 333.8,218.6 334.4,219.4 335.0,218.9 335.6,225.2 336.2,230.1 336.8,233.3 337.4,237.0 338.0,237.7 338.6,241.8 339.2,239.3 339.8,240.2 340.4,238.9 341.0,239.5 341.6,237.4 342.2,242.7 342.8,238.0 343.4,239.1 344.0,242.3 344.6,242.4 345.2,240.1 345.8,235.8 346.4,242.2 347.0,241.6 347.6,236.8 348.2,242.4 348.8,237.9 349.4,235.8 350.0,237.2 350.6,233.7 351.2,229.8 351.8,221.0 352.4,213.1 353.0,198.6 353.6,181.7 354.2,164.2 354.8,145.4 355.4,130.2 356.0,120.2 356.6,118.9 357.2,126.2 357.8,139.8 358.4,158.3 359.0,176.6 359.6,193.8 360.2,208.8 360.8,220.3 361.4,227.9 362.0,232.0 362.6,238.6 363.2,234.9 363.8,237.9 364.4,241.5 365.0,238.2 365.6,242.4 366.2,242.5 366.8,245.4 367.4,240.5 368.0,241.4 368.6,244.3 369.2,238.0 369.8,249.1 370.4,241.7 371.0,241.7 371.6,246.4 372.2,243.9 372.8,238.9 373.4,246.0 374.0,246.7 374.6,242.9 375.2,243.5 375.8,245.8 376.4,241.7 377.0,245.7 377.6,245.1 378.2,242.5 378.8,240.4 379.4,243.9 380.0,242.0 380.6,247.6 381.2,245.1 381.8,247.0 382.4,245.1 383.0,245.4 383.6,242.3 384.2,246.7 384.8,250.0 385.4,243.7 386.0,242.9 386.6,244.2 387.2,243.2 387.8,242.5 388.4,245.0 389.0,243.7 389.6,248.8 390.2,244.5 390.8,245.5 391.4,247.3 392.0,243.5 392.6,248.7 393.2,242.5 393.8,241.9 394.4,243.2 395.0,243.9 395.6,240.0 396.2,244.0 396.8,239.1 397.4,248.2 398.0,243.7 398.6,242.0 399.2,241.2 399.8,242.7 400.4,243.1 401.0,240.6 401.6,240.9 402.2,243.0 402.8,241.9 403.4,246.1 404.0,246.6 404.6,243.1 405.2,244.3 405.8,238.8 406.4,244.5 407.0,242.4 407.6,243.7 408.2,246.9 408.8,236.2 409.4,242.5 410.0,238.3 410.6,243.1 411.2,237.2 411.8,239.5 412.4,241.3 413.0,242.4 413.6,240.5 414.2,237.7 414.8,238.2 415.4,242.3 416.0,239.4 416.6,234.1 417.2,241.3 417.8,239.7 418.4,240.7 419.0,236.7 419.6,239.8 420.2,233.8 420.8,238.2 421.4,234.7 422.0,237.8 422.6,238.4 423.2,232.8 423.8,234.4 424.4,234.3 425.0,237.4 425.6,235.7 426.2,229.6 426.8,234.4 427.4,235.0 428.0,238.3 428.6,227.4 429.2,230.6 429.8,236.1 430.4,227.8 431.0,228.1 431.6,233.1 432.2,234.4 432.8,229.1 433.4,232.6 434.0,231.1 434.6,235.0 435.2,230.2 435.8,232.9 436.4,226.8 437.0,228.6 437.6,228.3 438.2,231.4 438.8,229.0 439.4,224.2 440.0,227.6 440.6,226.8 441.2,223.1 441.8,221.6 442.4,220.9 443.0,215.6 443.6,220.8 444.2,220.8 444.8,217.9 445.4,223.4 446.0,217.9 446.6,221.4 447.2,222.7 447.8,230.9 448.4,221.4 449.0,228.7 449.6,230.5 450.2,229.4 450.8,232.3 451.4,226.2 452.0,223.8 452.6,232.0 453.2,226.3 453.8,229.1 454.4,226.6 455.0,233.4 455.6,232.9 456.2,228.3 456.8,233.3 457.4,231.0 458.0,230.4 458.6,231.2 459.2,230.6 459.8,233.2 460.4,232.5 461.0,230.7 461.6,235.0 462.2,230.4 462.8,233.3 463.4,233.9 464.0,237.3 464.6,231.6 465.2,238.5 465.8,234.1 466.4,233.2 467.0,231.9 467.6,235.9 468.2,234.5 468.8,231.2 469.4,231.3 470.0,233.1 470.6,232.9 471.2,238.3 471.8,239.2 472.4,237.8 473.0,236.4 473.6,234.2 474.2,235.7 474.8,238.3 475.4,241.4 476.0,238.6 476.6,235.1 477.2,236.1 477.8,234.6 478.4,233.8 479.0,235.7 479.6,236.9 480.2,241.9 480.8,236.7 481.4,240.6 482.0,242.0 482.6,237.0 483.2,241.6 483.8,239.0 484.4,235.7 485.0,237.9 485.6,237.2 486.2,236.5 486.8,236.7 487.4,237.8 488.0,238.8 488.6,234.9 489.2,237.7 489.8,233.2 490.4,238.6 491.0,239.8 491.6,238.6 492.2,239.0 492.8,240.0 493.4,236.4 494.0,237.7 494.6,240.1 495.2,241.6 495.8,239.9 496.4,244.5 497.0,238.7 497.6,242.0 498.2,242.9 498.8,238.9 499.4,236.9 500.0,236.0 500.6,240.1 501.2,243.0 501.8,240.6 502.4,240.4 503.0,238.9 503.6,241.8 504.2,234.6 504.8,241.0 505.4,240.5 506.0,236.4 506.6,246.3 507.2,236.6 507.8,237.6 508.4,237.4 509.0,244.4 509.6,238.5 510.2,243.2 510.8,243.1 511.4,242.2 512.0,237.7 512.6,239.8 513.2,246.7 513.8,238.0 514.4,239.5 515.0,241.6 515.6,244.6 516.2,243.0 516.8,244.5 517.4,239.3 518.0,245.3 518.6,244.3 519.2,238.0 519.8,247.3 520.4,248.5 521.0,240.7 521.6,243.2 522.2,247.2 522.8,238.8 523.4,237.7 524.0,239.5 524.6,241.7 525.2,241.8 525.8,245.3 526.4,244.4 527.0,240.0 527.6,245.3 528.2,249.2 528.8,247.2 529.4,246.7 530.0,243.9 530.6,246.7 531.2,241.1 531.8,246.0 532.4,243.6 533.0,247.1 533.6,245.1 534.2,240.7 534.8,244.0 535.4,247.0 536.0,240.3 536.6,241.8 537.2,241.0 537.8,238.8 538.4,244.9 539.0,245.2 539.6,243.2 540.2,240.8 540.8,238.9 541.4,237.9 542.0,234.0 542.6,234.3 543.2,231.2 543.8,227.1 544.4,222.0 545.0,218.0 545.6,213.4 546.2,209.9 546.8,205.3 547.4,201.6 548.0,201.3 548.6,202.3 549.2,203.8 549.8,207.2 550.4,211.0 551.0,214.8 551.6,219.4 552.2,223.8 552.8,228.5 553.4,232.5 554.0,236.3 554.6,236.9 555.2,241.6 555.8,240.6 556.4,240.8 557.0,245.6 557.6,241.9 558.2,239.8 558.8,242.5 559.4,246.0 560.0,240.8 560.6,245.3 561.2,245.6 561.8,242.7 562.4,242.7 563.0,245.7 563.6,245.6 564.2,250.8 564.8,248.3 565.4,242.7 566.0,244.7 566.6,249.0 567.2,252.2 567.8,247.4 568.4,246.6 569.0,250.3 569.6,243.7 570.2,241.7 570.8,237.1 571.4,238.3 572.0,243.9 572.6,233.0 573.2,236.4 573.8,232.1 574.4,237.2 575.0,240.6 575.6,238.7 576.2,243.3 576.8,244.9 577.4,245.6 578.0,250.7 578.6,249.1 579.2,246.8 579.8,246.5 580.4,246.6 581.0,250.9 581.6,248.9 582.2,255.7 582.8,255.7 583.4,249.8 584.0,249.6 584.6,255.6 585.2,245.1 585.8,249.4 586.4,253.5 587.0,248.0 587.6,249.3 588.2,249.7 588.8,252.6 589.4,251.1 590.0,251.8 590.6,252.3 591.2,250.5 591.8,253.6 592.4,247.9 593.0,245.6 593.6,244.2 594.2,244.2 594.8,246.8 595.4,250.7 596.0,247.1 596.6,243.4 597.2,240.4 597.8,240.2 598.4,238.5 599.0,235.8 599.6,231.2 600.2,232.3 600.8,235.8 601.4,226.9 602.0,232.6 602.6,229.2 603.2,237.4 603.8,236.8 604.4,235.5 605.0,243.4 605.6,250.3 606.2,246.6 606.8,250.9 607.4,248.2 608.0,243.4 608.6,251.1 609.2,248.8 609.8,245.9 610.4,252.9 611.0,251.5 611.6,249.2 612.2,253.5 612.8,248.4 613.4,253.0 614.0,248.3 614.6,252.8 615.2,248.0 615.8,255.8 616.4,252.1 617.0,255.7 617.6,249.0 618.2,250.0 618.8,254.0 619.4,245.8 620.0,248.3 620.6,254.6 621.2,253.0 621.8,254.5 622.4,250.6 623.0,253.3 623.6,249.4 624.2,247.5 624.8,246.5 625.4,249.9 626.0,249.9 626.6,249.6 627.2,245.8 627.8,245.7 628.4,249.8 629.0,252.2 629.6,249.6 630.2,248.6 630.8,245.5 631.4,256.8 632.0,247.8 632.6,256.1 633.2,255.7 633.8,251.8 634.4,249.2 635.0,251.2 635.6,247.3 636.2,251.5 636.8,250.6 637.4,252.1 638.0,253.3 638.6,255.6 639.2,249.2 639.8,253.4 640.4,247.8 641.0,247.4 641.6,248.2 642.2,247.0 642.8,252.8 643.4,252.6 644.0,253.5 644.6,249.6 645.2,250.4 645.8,247.8 646.4,246.0 647.0,250.7 647.6,250.1 648.2,245.9 648.8,250.9 649.4,243.8 650.0,248.4 650.6,247.0 651.2,247.2 651.8,245.5 652.4,251.5 653.0,250.3 653.6,252.1 654.2,248.8 654.8,244.5 655.4,247.2 656.0,244.7 656.6,249.5 657.2,251.7 657.8,249.0 658.4,246.2 659.0,246.8 659.6,248.5 660.2,243.5 660.8,248.2 661.4,248.3 662.0,246.0 662.6,246.4 663.2,248.1 663.8,245.1 664.4,245.0 665.0,249.8 665.6,248.1 666.2,252.4 666.8,244.4 667.4,241.9 668.0,250.0 668.6,250.1 669.2,244.9 669.8,242.7 670.4,246.9 671.0,241.8 671.6,246.0 672.2,241.4 672.8,246.2 673.4,241.3 674.0,246.1 674.6,251.4 675.2,246.0 675.8,249.0 676.4,244.8 677.0,244.0 677.6,242.2 678.2,249.7 678.8,246.4 679.4,251.4 680.0,243.0 680.6,245.8 681.2,246.6 681.8,250.6 682.4,251.8 683.0,244.4 683.6,242.9 684.2,241.0 684.8,250.2 685.4,245.9 686.0,244.1 686.6,245.9 687.2,240.5 687.8,240.8 688.4,248.7 689.0,247.0 689.6,246.2 690.2,242.8 690.8,247.5 691.4,251.0 692.0,241.9 692.6,245.6 693.2,244.2 693.8,246.5 694.4,245.4 695.0,244.8 695.6,242.6 696.2,245.1 696.8,243.3 697.4,244.6 698.0,244.8 698.6,246.8 699.2,243.1 699.8,243.7 700.4,247.8 701.0,243.9 701.6,243.6 702.2,246.9 702.8,245.0 703.4,244.3 704.0,244.6 704.6,240.1 705.2,245.0 705.8,247.4 706.4,245.0 707.0,238.4 707.6,243.7 708.2,240.0 708.8,241.8 709.4,242.6 710.0,238.5 710.6,245.8 711.2,241.4 711.8,243.7 712.4,243.0 713.0,244.8 713.6,244.1 714.2,235.9 714.8,240.2 715.4,234.2 716.0,238.2 716.6,241.4 717.2,241.7 717.8,242.5 718.4,237.3 719.0,239.1 719.6,238.1 720.2,241.3 720.8,242.0 721.4,235.9 722.0,242.4 722.6,236.3 723.2,234.8 723.8,237.3 724.4,237.4 725.0,236.4 725.6,232.4 726.2,238.3 726.8,233.6 727.4,237.6 728.0,236.7 728.6,228.3 729.2,228.7 729.8,228.2 730.4,231.5 731.0,230.4 731.6,230.6 732.2,226.9 732.8,230.1 733.4,232.5 734.0,223.9 734.6,226.8 735.2,227.7 735.8,226.1 736.4,225.4 737.0,230.8 737.6,228.9 738.2,227.2 738.8,222.0 739.4,229.5 740.0,224.5 740.6,221.3 741.2,221.7 741.8,220.8 742.4,227.5 743.0,222.1 743.6,221.3 744.2,215.3 744.8,222.6 745.4,217.0 746.0,216.4 746.6,221.1 747.2,216.4 747.8,221.0 748.4,221.4 749.0,212.5 749.6,216.9 750.2,212.3 750.8,216.2 751.4,218.6 752.0,211.5 752.6,220.1 753.2,213.5 753.8,210.5 754.4,213.0 755.0,215.1 755.6,208.4 756.2,211.7 756.8,207.3 757.4,214.0 758.0,210.4 758.6,208.2 759.2,211.7 759.8,204.7 760.4,206.6 761.0,212.0 761.6,206.0 762.2,209.2 762.8,205.3 763.4,202.1 764.0,202.3 764.6,202.1 765.2,199.7 765.8,197.4 766.4,196.0 767.0,192.7 767.6,193.5 768.2,191.1 768.8,187.9 769.4,181.4 770.0,178.3 770.6,172.4 771.2,165.5 771.8,159.3 772.4,152.5 773.0,145.1 773.6,138.3 774.2,132.2 774.8,127.4 775.4,124.0 776.0,122.4 776.6,124.5 777.2,128.9 777.8,134.4 778.4,141.9 779.0,149.8 779.6,157.5 780.2,166.3 780.8,172.6 781.4,180.5 782.0,186.2 782.6,191.2 783.2,197.6 783.8,200.2 784.4,206.8 785.0,206.5 785.6,212.3 786.2,213.3 786.8,217.6 787.4,219.8 788.0,220.2 788.6,226.9 789.2,223.7 789.8,225.9 790.4,232.1 791.0,233.5 791.6,233.7 792.2,233.8 792.8,239.1 793.4,231.3 794.0,233.4 794.6,233.4 795.2,239.5 795.8,238.5 796.4,241.5 797.0,241.8 797.6,238.9 798.2,237.8 798.8,237.9 799.4,246.8 800.0,244.7 800.6,244.1 801.2,241.9 801.8,242.9 802.4,242.9 803.0,243.5 803.6,239.4 804.2,245.2 804.8,244.7 805.4,247.1 806.0,247.3 806.6,249.5 807.2,247.4 807.8,250.1 808.4,242.6 809.0,245.2 809.6,253.8 810.2,245.4 810.8,248.4 811.4,251.6 812.0,247.2 812.6,252.2 813.2,246.1 813.8,245.0 814.4,246.8 815.0,246.1 815.6,251.2 816.2,250.6 816.8,252.7 817.4,248.9 818.0,257.9 818.6,252.1 819.2,252.5 819.8,254.2 820.4,252.3 821.0,251.3 821.6,253.6 822.2,256.3 822.8,255.7 823.4,256.6 824.0,252.3 824.6,251.8 825.2,259.9 825.8,253.6 826.4,255.9 827.0,256.7 827.6,258.8 828.2,250.6 828.8,253.3 829.4,253.4 830.0,253.8 830.6,249.1 831.2,254.5 831.8,249.1 832.4,255.6 833.0,256.4 833.6,256.5 834.2,251.2 834.8,257.6 835.4,252.2 836.0,251.1 836.6,251.9 837.2,252.3 837.8,255.3 838.4,257.3 839.0,249.2 839.6,253.2 840.2,257.5 840.8,255.4 841.4,256.3 842.0,250.3 842.6,257.7 843.2,250.2 843.8,255.4 844.4,258.9 845.0,260.5 845.6,256.4 846.2,257.5 846.8,253.0 847.4,253.4 848.0,258.4 848.6,254.9 849.2,254.5 849.8,250.6 850.4,255.3 851.0,256.8 851.6,252.5 852.2,253.4 852.8,259.7 853.4,255.5 854.0,254.1 854.6,251.6 855.2,253.2 855.8,254.4 856.4,259.3 857.0,253.4 857.6,260.6 858.2,252.6 858.8,254.3 859.4,258.0 860.0,254.8 860.6,253.1 861.2,255.3 861.8,257.1 862.4,250.7 863.0,255.1 863.6,255.6 864.2,254.8 864.8,258.3 865.4,254.5 866.0,255.2 866.6,256.5 867.2,258.6 867.8,255.8 868.4,261.1 869.0,253.9 869.6,260.6 870.2,254.2 870.8,256.4 871.4,258.0 872.0,262.7 872.6,259.7 873.2,255.9 873.8,261.1 874.4,256.6 875.0,254.9 875.6,258.7 876.2,257.6 876.8,260.3 877.4,255.8 878.0,258.6 878.6,259.4 879.2,258.4 879.8,257.5 880.4,255.5 881.0,260.4 881.6,258.1 882.2,259.2 882.8,256.7 883.4,257.8 884.0,254.7 884.6,258.1 885.2,260.2 885.8,258.2 886.4,260.5 887.0,258.9 887.6,262.1 888.2,257.5 888.8,253.2 889.4,259.4 890.0,257.7 890.6,255.3 891.2,260.2 891.8,259.1 892.4,259.6 893.0,257.3 893.6,259.0 894.2,259.2 894.8,263.8 895.4,256.4 896.0,258.5 896.6,259.6 897.2,253.4 897.8,253.8 898.4,264.3 899.0,253.4 899.6,260.4 900.2,256.2 900.8,256.5 901.4,253.1 902.0,256.1 902.6,261.2 903.2,254.7 903.8,260.7 904.4,259.9 905.0,264.7 905.6,257.6 906.2,262.8 906.8,261.7 907.4,258.2 908.0,254.1 908.6,263.7 909.2,255.1 909.8,257.8 910.4,261.9 911.0,262.6 911.6,256.7 912.2,259.2 912.8,258.5 913.4,262.9 914.0,265.0 914.6,253.9 915.2,262.1 915.8,253.7 916.4,259.5 917.0,256.1 917.6,265.2 918.2,260.0 918.8,257.3 919.4,258.1 920.0,257.8 920.6,260.1 921.2,259.1 921.8,261.6 922.4,264.3 923.0,261.8 923.6,256.0 924.2,254.8 924.8,257.4 925.4,262.9 926.0,258.7 926.6,257.7 927.2,260.2 927.8,255.5 928.4,256.4 929.0,261.3 929.6,258.9 930.2,258.5 930.8,260.8 931.4,258.1 932.0,257.8 932.6,258.5 933.2,261.7 933.8,260.0 934.4,256.3 935.0,259.0 935.6,261.8 936.2,265.5 936.8,256.5 937.4,260.9 938.0,259.1 938.6,262.4 939.2,261.2 939.8,264.3 940.4,261.4 941.0,258.2 941.6,258.2 942.2,261.1 942.8,261.0 943.4,265.5 944.0,264.8 944.6,256.3 945.2,260.8 945.8,255.8 946.4,254.8 947.0,261.9 947.6,261.3 948.2,256.6 948.8,264.6 949.4,256.7 950.0,256.1 950.6,261.5 951.2,260.1 951.8,258.9 952.4,259.2 953.0,260.0 953.6,258.8 954.2,258.6 954.8,253.4 955.4,254.9 956.0,260.7 956.6,256.6 957.2,260.2 957.8,262.0 958.4,257.1 959.0,258.7 959.6,263.3 960.2,259.3 960.8,262.4 961.4,261.1 962.0,258.3 962.6,255.3 963.2,252.7 963.8,251.5 964.4,255.9 965.0,255.6 965.6,253.5 966.2,256.5 966.8,252.2 967.4,257.5 968.0,254.5 968.6,254.6 969.2,255.0 969.8,255.1 970.4,261.4 971.0,251.2 971.6,256.8 972.2,260.3 972.8,258.9 973.4,256.1 974.0,262.3 974.6,254.0 975.2,253.4 975.8,259.1 976.4,253.1 977.0,251.8 977.6,260.1 978.2,259.8 978.8,259.7 979.4,256.0 980.0,258.0 980.6,254.6 981.2,262.6 981.8,259.8 982.4,259.6 983.0,251.7 983.6,259.8 984.2,261.8 984.8,260.9 985.4,259.6 986.0,257.2 986.6,256.2 987.2,259.0 987.8,258.3 988.4,257.9 989.0,256.2 989.6,262.2 990.2,253.6 990.8,257.0 991.4,255.3 992.0,260.1 992.6,261.3 993.2,260.7 993.8,259.2 994.4,252.8 995.0,262.7 995.6,258.5 996.2,256.6 996.8,257.0 997.4,255.9 998.0,258.2 998.6,257.8 999.2,255.8 999.8,251.2 1000.4,256.8 1001.0,258.4 1001.6,258.5 1002.2,256.5 1002.8,258.3 1003.4,260.0 1004.0,255.5 1004.6,261.4 1005.2,251.3 1005.8,253.2 1006.4,254.3 1007.0,251.3 1007.6,254.0 1008.2,260.8 1008.8,260.8 1009.4,257.4 1010.0,262.2 1010.6,257.8 1011.2,255.6 1011.8,257.9 1012.4,256.7 1013.0,259.4 1013.6,252.7 1014.2,260.2 1014.8,255.9 1015.4,259.8 1016.0,252.7 1016.6,256.1 1017.2,257.6 1017.8,260.1 1018.4,253.7 1019.0,262.4 1019.6,258.9 1020.2,255.9 1020.8,261.1 1021.4,257.8 1022.0,261.0 1022.6,263.3 1023.2,259.9 1023.8,256.1 1024.4,256.4 1025.0,259.4 1025.6,258.6 1026.2,255.3 1026.8,255.8 1027.4,259.8 1028.0,263.5 1028.6,252.2 1029.2,260.1 1029.8,257.3 1030.4,260.3 1031.0,260.6 1031.6,258.2 1032.2,255.0 1032.8,253.9 1033.4,252.5 1034.0,261.8 1034.6,257.6 1035.2,256.6 1035.8,257.4 1036.4,254.3 1037.0,259.2 1037.6,262.3 1038.2,261.8 1038.8,253.7 1039.4,262.5 1040.0,256.2 1040.6,252.8 1041.2,254.9 1041.8,255.7 1042.4,258.6 1043.0,255.5 1043.6,254.1 1044.2,257.9 1044.8,264.4 1045.4,256.6 1046.0,260.2 1046.6,259.0 1047.2,264.5 1047.8,253.2 1048.4,262.2 1049.0,255.1 1049.6,257.2 1050.2,258.7 1050.8,264.7 1051.4,256.7 1052.0,253.4 1052.6,262.9 1053.2,256.6 1053.8,258.4 1054.4,259.0 1055.0,259.4 1055.6,258.7 1056.2,260.0 1056.8,260.4 1057.4,261.8 1058.0,258.0 1058.6,257.1 1059.2,256.1 1059.8,261.1 1060.4,259.2 1061.0,261.1 1061.6,261.0 1062.2,264.5 1062.8,260.1 1063.4,261.8 1064.0,255.9 1064.6,256.3 1065.2,258.6 1065.8,255.9 1066.4,261.7 1067.0,255.6 1067.6,259.9 1068.2,254.0 1068.8,256.4 1069.4,258.6 1070.0,258.9 1070.6,254.3 1071.2,259.9 1071.8,262.5 1072.4,261.4 1073.0,257.5 1073.6,257.6 1074.2,255.7 1074.8,261.1 1075.4,263.4 1076.0,257.5 1076.6,253.9 1077.2,259.7 1077.8,261.2 1078.4,253.5 1079.0,259.8 1079.6,265.2 1080.2,262.1 1080.8,261.4 1081.4,261.1 1082.0,263.2 1082.6,257.3 1083.2,257.6 1083.8,261.5 1084.4,258.3 1085.0,261.1 1085.6,254.7 1086.2,262.7 1086.8,263.0 1087.4,260.7 1088.0,261.0 1088.6,265.4 1089.2,257.4 1089.8,257.9 1090.4,257.4 1091.0,259.4 1091.6,257.7 1092.2,260.8 1092.8,258.8 1093.4,256.4 1094.0,256.1 1094.6,264.4 1095.2,260.6 1095.8,260.1 1096.4,260.9 1097.0,260.6 1097.6,263.1 1098.2,262.6 1098.8,259.1 1099.4,258.4 1100.0,257.7 1100.6,257.2 1101.2,265.1 1101.8,258.2 1102.4,255.3 1103.0,258.4 1103.6,258.6 1104.2,262.0 1104.8,258.3 1105.4,262.6 1106.0,262.2 1106.6,264.8 1107.2,266.7 1107.8,266.7 1108.4,265.1 1109.0,257.6 1109.6,259.8 1110.2,261.8 1110.8,266.8 1111.4,263.1 1112.0,264.7 1112.6,260.6 1113.2,262.9 1113.8,263.3 1114.4,259.7 1115.0,263.4 1115.6,264.3 1116.2,260.7 1116.8,264.2 1117.4,266.1 1118.0,261.3 1118.6,261.1 1119.2,260.2 1119.8,259.3 1120.4,261.6 1121.0,259.9 1121.6,260.2 1122.2,258.9 1122.8,256.6 1123.4,258.4 1124.0,262.2 1124.6,257.6 1125.2,259.3 1125.8,266.1 1126.4,264.6 1127.0,259.1 1127.6,263.0 1128.2,259.3 1128.8,266.1 1129.4,259.5 1130.0,261.5 1130.6,265.4 1131.2,258.7 1131.8,265.1 1132.4,258.8 1133.0,261.9 1133.6,260.3 1134.2,261.0 1134.8,261.7 1135.4,261.0 1136.0,258.2 1136.6,263.8 1137.2,263.4 1137.8,265.1 1138.4,265.4 1139.0,257.2 1139.6,265.1 1140.2,265.1 1140.8,259.6 1141.4,264.3 1142.0,265.6 1142.6,259.6 1143.2,257.1 1143.8,260.1 1144.4,266.9 1145.0,261.9 1145.6,257.5 1146.2,260.4 1146.8,258.2 1147.4,260.0 1148.0,261.4 1148.6,255.4 1149.2,262.2 1149.8,265.3 1150.4,260.5 1151.0,259.9 1151.6,264.3 1152.2,257.2 1152.8,257.3 1153.4,256.8 1154.0,260.5 1154.6,262.1 1155.2,260.7 1155.8,262.5 1156.4,263.4 1157.0,262.3 1157.6,258.4 1158.2,259.9 1158.8,264.4 1159.4,257.5 1160.0,259.8 1160.6,259.2 1161.2,259.9 1161.8,257.1 1162.4,256.2 1163.0,265.8 1163.6,262.8 1164.2,257.6 1164.8,259.4 1165.4,261.3 1166.0,258.0 1166.6,260.5 1167.2,256.4 1167.8,256.8 1168.4,257.1 1169.0,255.3 1169.6,250.3 1170.2,255.4 1170.8,255.3 1171.4,255.0 1172.0,249.7 1172.6,252.7 1173.2,251.3 1173.8,244.4 1174.4,243.0 1175.0,249.3 1175.6,244.2 1176.2,249.6 1176.8,251.9 1177.4,244.5 1178.0,244.4 1178.6,246.9 1179.2,249.6 1179.8,245.0 1180.4,253.1 1181.0,253.4 1181.6,253.4 1182.2,250.8 1182.8,256.2 1183.4,256.9 1184.0,251.6 1184.6,261.6 1185.2,255.7 1185.8,258.4 1186.4,256.3 1187.0,259.5 1187.6,262.2 1188.2,256.7 1188.8,254.5 1189.4,258.3 1190.0,256.0 1190.6,257.8 1191.2,259.9 1191.8,260.2 1192.4,264.4 1193.0,257.6 1193.6,261.8 1194.2,259.3 1194.8,265.0 1195.4,266.7 1196.0,262.0 1196.6,266.1 1197.2,259.6 1197.8,256.4 1198.4,257.5 1199.0,256.6 1199.6,258.5 1200.2,260.7 1200.8,264.9 1201.4,263.6 1202.0,262.9 1202.6,260.3 1203.2,259.4 1203.8,261.7 1204.4,262.0 1205.0,262.4 1205.6,262.8 1206.2,261.3 1206.8,256.0 1207.4,258.4 1208.0,259.3 1208.6,266.9 1209.2,260.5 1209.8,263.9 1210.4,266.3 1211.0,262.9 1211.6,260.7 1212.2,261.0 1212.8,258.9 1213.4,262.9 1214.0,265.4 1214.6,263.7 1215.2,264.3 1215.8,264.2 1216.4,267.8 1217.0,260.2 1217.6,262.6 1218.2,264.2 1218.8,265.9 1219.4,256.5 1220.0,260.6 1220.6,261.6 1221.2,259.1 1221.8,264.8 1222.4,262.9 1223.0,261.1 1223.6,257.4 1224.2,258.3 1224.8,259.4 1225.4,263.7 1226.0,258.7 1226.6,256.7 1227.2,258.1 1227.8,260.7 1228.4,267.5 1229.0,268.2 1229.6,261.0 1230.2,265.3 1230.8,266.7 1231.4,266.4 1232.0,262.2 1232.6,258.7 1233.2,261.1 1233.8,257.0 1234.4,263.3 1235.0,265.0 1235.6,257.0 1236.2,262.5 1236.8,263.6 1237.4,266.5 1238.0,266.9 1238.6,265.2 1239.2,260.7 1239.8,261.7 1240.4,266.4 1241.0,261.0 1241.6,262.7 1242.2,267.5 1242.8,263.3 1243.4,258.8 1244.0,262.0 1244.6,264.9 1245.2,262.4 1245.8,266.5 1246.4,266.8 1247.0,261.1 1247.6,261.5 1248.2,262.7 1248.8,259.5 1249.4,264.2 1250.0,262.5 1250.6,265.5 1251.2,261.3 1251.8,260.5 1252.4,268.7 1253.0,260.5 1253.6,261.4 1254.2,261.0 1254.8,262.3 1255.4,260.5 1256.0,263.1 1256.6,261.2 1257.2,262.0 1257.8,264.4 1258.4,265.4 1259.0,264.7 1259.6,261.1 1260.2,264.6 1260.8,263.0 1261.4,263.1 1262.0,258.2 1262.6,265.4 1263.2,263.0 1263.8,268.6 1264.4,265.4 1265.0,260.1 1265.6,259.4 1266.2,267.0 1266.8,260.9 1267.4,265.6 1268.0,262.7 1268.6,269.3 1269.2,263.8 1269.8,268.1 1270.4,267.6 1271.0,262.2 1271.6,262.7 1272.2,268.1 1272.8,263.7 1273.4,261.1 1274.0,267.3 1274.6,269.4 1275.2,263.6 1275.8,268.0 1276.4,263.3 1277.0,267.9 1277.6,263.1 1278.2,267.8 1278.8,265.5 1279.4,263.3 1280.0,264.6 1280.6,262.3 1281.2,260.6 1281.8,260.8 1282.4,263.8 1283.0,260.8 1283.6,265.3 1284.2,265.6 1284.8,265.4 1285.4,262.6 1286.0,264.2 1286.6,264.0 1287.2,268.0 1287.8,261.7 1288.4,262.9 1289.0,263.4 1289.6,263.7 1290.2,261.9 1290.8,262.2 1291.4,267.2 1292.0,262.2 1292.6,266.9 1293.2,269.6 1293.8,268.0 1294.4,258.7 1295.0,266.5 1295.6,265.6 1296.2,265.8 1296.8,259.3 1297.4,266.4 1298.0,260.9 1298.6,268.1 1299.2,267.4 1299.8,269.7 1300.4,263.0 1301.0,259.6 1301.6,267.3 1302.2,266.8 1302.8,263.0 1303.4,268.2 1304.0,266.2 1304.6,260.3 1305.2,263.1 1305.8,262.8 1306.4,263.8 1307.0,264.7 1307.6,262.1 1308.2,263.5 1308.8,265.9 1309.4,263.9 1310.0,263.3 1310.6,263.2 1311.2,263.8 1311.8,258.4 1312.4,264.6 1313.0,261.0 1313.6,264.4 1314.2,259.7 1314.8,266.9 1315.4,264.8 1316.0,260.1 1316.6,264.8 1317.2,261.8 1317.8,269.5 1318.4,265.6 1319.0,261.7 1319.6,264.8 1320.2,264.0 1320.8,267.7 1321.4,265.2 1322.0,265.6 1322.6,260.8 1323.2,266.5 1323.8,269.6 1324.4,266.0 1325.0,264.0 1325.6,264.6 1326.2,261.2 1326.8,264.7 1327.4,260.8 1328.0,264.2 1328.6,262.9 1329.2,261.6 1329.8,265.8 1330.4,259.6 1331.0,264.0 1331.6,260.1 1332.2,269.6 1332.8,269.6 1333.4,266.6 1334.0,269.5 1334.6,265.8 1335.2,265.7 1335.8,262.8 1336.4,261.4 1337.0,264.4 1337.6,262.4 1338.2,262.7 1338.8,266.2 1339.4,263.6 1340.0,259.3 1340.6,263.3 1341.2,261.7 1341.8,263.1 1342.4,260.7 1343.0,267.6 1343.6,269.5 1344.2,260.6 1344.8,265.9 1345.4,265.7 1346.0,260.7 1346.6,264.2 1347.2,268.2 1347.8,266.5 1348.4,268.8 1349.0,260.4 1349.6,261.7 1350.2,264.8 1350.8,264.9 1351.4,263.9 1352.0,262.7 1352.6,262.6 1353.2,262.0 1353.8,265.2 1354.4,258.0 1355.0,268.6 1355.6,262.2 1356.2,259.5 1356.8,265.4 1357.4,259.6 1358.0,264.9 1358.6,262.6 1359.2,265.5 1359.8,266.1 1360.4,267.6 1361.0,262.2 1361.6,262.8 1362.2,263.7 1362.8,259.4 1363.4,265.5 1364.0,264.1 1364.6,259.6 1365.2,267.3 1365.8,267.7 1366.4,259.7 1367.0,265.3 1367.6,267.4 1368.2,266.1 1368.8,260.7 1369.4,259.4 1370.0,263.2 1370.6,262.1 1371.2,263.5 1371.8,263.2 1372.4,265.1 1373.0,261.8 1373.6,263.0 1374.2,269.1 1374.8,263.1 1375.4,265.7 1376.0,264.3 1376.6,264.1 1377.2,260.7 1377.8,265.0 1378.4,263.3 1379.0,265.9 1379.6,269.0 1380.2,263.9 1380.8,265.7 1381.4,260.3 1382.0,263.7 1382.6,268.0 1383.2,263.2 1383.8,261.4 1384.4,263.9 1385.0,262.8 1385.6,262.6 1386.2,262.2 1386.8,268.9 1387.4,260.7 1388.0,262.0 1388.6,261.5 1389.2,267.0 1389.8,262.4 1390.4,267.1 1391.0,263.7 1391.6,263.1 1392.2,258.8 1392.8,266.8 1393.4,264.8 1394.0,264.4 1394.6,262.8 1395.2,261.9 1395.8,259.3 1396.4,265.9 1397.0,263.9 1397.6,262.0 1398.2,261.2 1398.8,263.4 1399.4,262.8 1400.0,268.0 1400.6,265.3 1401.2,261.2 1401.8,259.7 1402.4,262.3 1403.0,260.2 1403.6,263.1 1404.2,264.1 1404.8,264.8 1405.4,264.1 1406.0,262.2 1406.6,264.6 1407.2,260.0 1407.8,262.4 1408.4,265.1 1409.0,263.4 1409.6,258.7 1410.2,259.0 1410.8,257.6 1411.4,267.8 1412.0,257.7 1412.6,261.9 1413.2,267.7 1413.8,265.4 1414.4,266.1 1415.0,260.6 1415.6,264.2 1416.2,267.5 1416.8,261.8 1417.4,263.0 1418.0,260.8 1418.6,261.6 1419.2,262.7 1419.8,265.7 1420.4,258.8 1421.0,257.1 1421.6,261.4 1422.2,261.9 1422.8,265.4 1423.4,263.3 1424.0,259.2 1424.6,262.7 1425.2,264.3 1425.8,261.7 1426.4,259.8 1427.0,262.7 1427.6,259.6 1428.2,255.0 1428.8,264.5 1429.4,256.6 1430.0,259.4 1430.6,259.4 1431.2,259.2 1431.8,259.3 1432.4,255.8 1433.0,261.6 1433.6,260.1 1434.2,260.0 1434.8,263.1 1435.4,263.1 1436.0,263.8 1436.6,265.2 1437.2,261.0 1437.8,255.0 1438.4,260.2 1439.0,259.5 1439.6,259.7 1440.2,257.6 1440.8,256.7 1441.4,261.7 1442.0,262.2 1442.6,255.9 1443.2,260.8 1443.8,258.7 1444.4,258.0 1445.0,261.2 1445.6,259.0 1446.2,257.4 1446.8,259.2 1447.4,253.3 1448.0,257.3 1448.6,257.7 1449.2,254.8 1449.8,259.5 1450.4,259.8 1451.0,257.2 1451.6,258.5 1452.2,261.0 1452.8,262.2 1453.4,256.7 1454.0,260.0 1454.6,262.1 1455.2,258.9 1455.8,256.7 1456.4,256.7 1457.0,258.1 1457.6,255.9 1458.2,264.7 1458.8,257.3 1459.4,260.2 1460.0,259.6 1460.6,261.0 1461.2,257.9 1461.8,255.2 1462.4,264.0 1463.0,258.9 1463.6,259.5 1464.2,259.7 1464.8,262.9 1465.4,261.5 1466.0,262.7 1466.6,261.7 1467.2,259.7 1467.8,260.0 1468.4,257.0 1469.0,253.6 1469.6,258.6 1470.2,256.1 1470.8,265.0 1471.4,264.0 1472.0,262.9 1472.6,257.7 1473.2,265.1 1473.8,254.3 1474.4,255.8 1475.0,257.1 1475.6,256.6 1476.2,259.9 1476.8,260.1 1477.4,265.2 1478.0,262.5 1478.6,263.2 1479.2,260.8 1479.8,259.1 1480.4,257.5 1481.0,255.1 1481.6,257.0 1482.2,258.5 1482.8,261.9 1483.4,254.6 1484.0,255.6 1484.6,260.4 1485.2,256.6 1485.8,260.7 1486.4,258.5 1487.0,257.5 1487.6,255.8 1488.2,259.5 1488.8,257.6 1489.4,258.0 1490.0,257.9 1490.6,260.4 1491.2,260.3 1491.8,254.7 1492.4,259.4 1493.0,261.0 1493.6,263.0 1494.2,262.2 1494.8,260.5 1495.4,256.5 1496.0,257.6 1496.6,262.6 1497.2,257.8 1497.8,263.0 1498.4,263.7 1499.0,256.7 1499.6,261.2 1500.2,259.6 1500.8,265.6 1501.4,262.4 1502.0,258.4 1502.6,261.1 1503.2,257.1 1503.8,259.4 1504.4,260.5 1505.0,260.3 1505.6,260.8 1506.2,257.2 1506.8,254.3 1507.4,258.8 1508.0,257.2 1508.6,257.8 1509.2,265.6 1509.8,263.4 1510.4,259.3 1511.0,255.6 1511.6,256.0 1512.2,260.9 1512.8,263.1 1513.4,259.0 1514.0,260.3 1514.6,260.6 1515.2,263.0 1515.8,254.2 1516.4,260.3 1517.0,261.1 1517.6,262.7 1518.2,261.0 1518.8,256.5 1519.4,258.1 1520.0,255.3 1520.6,260.4 1521.2,260.4 1521.8,261.4 1522.4,256.9 1523.0,256.4 1523.6,264.4 1524.2,260.4 1524.8,265.0 1525.4,261.1 1526.0,255.4 1526.6,262.2 1527.2,263.5 1527.8,258.4 1528.4,254.1 1529.0,261.8 1529.6,259.4 1530.2,260.6 1530.8,254.1 1531.4,261.1 1532.0,254.1 1532.6,257.1 1533.2,262.4 1533.8,254.3 1534.4,254.1 1535.0,258.4 1535.6,264.7 1536.2,264.6 1536.8,257.9 1537.4,262.7 1538.0,261.4 1538.6,260.5 1539.2,260.7 1539.8,257.5 1540.4,262.1 1541.0,262.8 1541.6,265.4 1542.2,262.4 1542.8,253.9 1543.4,256.0 1544.0,260.6 1544.6,259.8 1545.2,254.0 1545.8,259.1 1546.4,258.5 1547.0,259.4 1547.6,259.1 1548.2,262.2 1548.8,263.8 1549.4,261.5 1550.0,256.0 1550.6,256.7 1551.2,257.3 1551.8,259.1 1552.4,257.9 1553.0,258.1 1553.6,256.4 1554.2,262.0 1554.8,261.6 1555.4,261.9 1556.0,258.7 1556.6,260.3 1557.2,256.1 1557.8,255.8 1558.4,257.1 1559.0,260.4 1559.6,258.2 1560.2,255.1 1560.8,258.8 1561.4,259.7 1562.0,258.8 1562.6,256.3 1563.2,258.4 1563.8,256.8 1564.4,257.0 1565.0,257.6 1565.6,260.0 1566.2,263.1 1566.8,262.2 1567.4,259.3 1568.0,256.1 1568.6,256.2 1569.2,256.1 1569.8,260.2 1570.4,250.8 1571.0,257.0 1571.6,250.3 1572.2,255.7 1572.8,259.3 1573.4,252.2 1574.0,248.8 1574.6,258.0 1575.2,258.1 1575.8,254.5 1576.4,256.2 1577.0,249.4 1577.6,254.6 1578.2,255.4 1578.8,251.5 1579.4,249.6 1580.0,251.7 1580.6,250.4 1581.2,243.8 1581.8,249.3 1582.4,246.5 1583.0,243.9 1583.6,246.5 1584.2,244.7 1584.8,243.6 1585.4,239.3 1586.0,243.0 1586.6,237.0 1587.2,240.0 1587.8,235.5 1588.4,235.8 1589.0,242.7 1589.6,241.8 1590.2,243.0 1590.8,245.3 1591.4,245.3 1592.0,242.4 1592.6,246.2 1593.2,246.6 1593.8,246.0 1594.4,247.9 1595.0,247.9 1595.6,247.8 1596.2,249.4 1596.8,251.7 1597.4,257.2 1598.0,249.6 1598.6,254.0 1599.2,248.5 1599.8,258.0 1600.4,252.6 1601.0,254.3 1601.6,257.9 1602.2,257.3 1602.8,250.1 1603.4,256.4 1604.0,254.2 1604.6,256.8 1605.2,255.6 1605.8,257.4 1606.4,256.2 1607.0,254.9 1607.6,258.9 1608.2,250.8 1608.8,254.2 1609.4,252.7 1610.0,255.1 1610.6,254.3 1611.2,255.2 1611.8,254.2 1612.4,254.2 1613.0,250.7 1613.6,255.6 1614.2,256.6 1614.8,253.9 1615.4,253.7 1616.0,253.7 1616.6,260.7 1617.2,256.2 1617.8,256.8 1618.4,254.8 1619.0,254.1 1619.6,253.0 1620.2,260.2 1620.8,250.5 1621.4,256.5 1622.0,255.5 1622.6,254.8 1623.2,250.9 1623.8,251.8 1624.4,258.5 1625.0,253.4 1625.6,258.1 1626.2,257.5 1626.8,257.2 1627.4,257.7 1628.0,251.8 1628.6,254.0 1629.2,257.4 1629.8,251.6 1630.4,260.3 1631.0,253.6 1631.6,255.1 1632.2,252.2 1632.8,256.4 1633.4,253.0 1634.0,254.5 1634.6,251.8 1635.2,258.8 1635.8,250.3 1636.4,256.5 1637.0,255.8 1637.6,256.4 1638.2,252.0 1638.8,258.2 1639.4,257.9 1640.0,255.5 1640.6,255.9 1641.2,254.5 1641.8,256.9 1642.4,252.5 1643.0,256.6 1643.6,256.1 1644.2,250.7 1644.8,249.2 1645.4,254.5 1646.0,254.3 1646.6,258.5 1647.2,255.0 1647.8,253.3 1648.4,250.7 1649.0,254.5 1649.6,252.9 1650.2,251.4 1650.8,254.3 1651.4,257.8 1652.0,254.9 1652.6,251.4 1653.2,255.5 1653.8,251.1 1654.4,249.6 1655.0,255.7 1655.6,252.5 1656.2,257.4 1656.8,254.9 1657.4,251.4 1658.0,254.3 1658.6,257.4 1659.2,252.8 1659.8,250.0 1660.4,251.1 1661.0,250.5 1661.6,249.3 1662.2,248.9 1662.8,254.1 1663.4,256.2 1664.0,251.9 1664.6,255.4 1665.2,255.9 1665.8,258.4 1666.4,253.0 1667.0,252.7 1667.6,255.1 1668.2,254.3 1668.8,255.1 1669.4,258.2 1670.0,253.1 1670.6,255.2 1671.2,251.7 1671.8,254.2 1672.4,252.7 1673.0,252.6 1673.6,254.2 1674.2,253.6 1674.8,256.1 1675.4,257.4 1676.0,250.6 1676.6,258.1 1677.2,249.5 1677.8,255.9 1678.4,257.4 1679.0,253.3 1679.6,254.6 1680.2,253.0 1680.8,258.1 1681.4,249.7 1682.0,252.5 1682.6,249.8 1683.2,256.1 1683.8,259.4 1684.4,259.1 1685.0,257.6 1685.6,256.4 1686.2,253.4 1686.8,259.3 1687.4,257.6 1688.0,253.2 1688.6,251.9 1689.2,253.9 1689.8,259.0 1690.4,259.5 1691.0,260.7 1691.6,253.5 1692.2,254.7 1692.8,260.0 1693.4,256.5 1694.0,258.1 1694.6,251.9 1695.2,254.7 1695.8,255.7 1696.4,254.7 1697.0,254.5 1697.6,250.8 1698.2,260.6 1698.8,256.1 1699.4,251.2 1700.0,258.8 1700.6,255.6 1701.2,257.5 1701.8,254.7 1702.4,252.8 1703.0,252.7 1703.6,255.8 1704.2,256.9 1704.8,255.9 1705.4,256.1 1706.0,257.4 1706.6,254.3 1707.2,256.1 1707.8,255.9 1708.4,252.9 1709.0,251.3 1709.6,249.5 1710.2,246.5 1710.8,244.7 1711.4,252.5 1712.0,247.6 1712.6,245.0 1713.2,250.4 1713.8,247.6 1714.4,243.9 1715.0,245.7 1715.6,241.2 1716.2,242.0 1716.8,245.7 1717.4,242.9 1718.0,238.6 1718.6,241.4 1719.2,243.0 1719.8,239.4 1720.4,239.1 1721.0,246.6 1721.6,241.1 1722.2,239.0 1722.8,244.4 1723.4,250.5 1724.0,248.0 1724.6,250.0 1725.2,242.1 1725.8,247.4 1726.4,253.6 1727.0,249.6 1727.6,255.5 1728.2,253.7 1728.8,254.0 1729.4,258.5 1730.0,252.4 1730.6,253.0 1731.2,255.1 1731.8,255.8 1732.4,250.3 1733.0,259.4 1733.6,256.6 1734.2,255.6 1734.8,258.2 1735.4,255.3 1736.0,260.3 1736.6,257.0 1737.2,259.0 1737.8,254.3 1738.4,256.2 1739.0,258.3 1739.6,254.4 1740.2,255.3 1740.8,257.2 1741.4,260.8 1742.0,259.8 1742.6,260.3 1743.2,258.5 1743.8,260.4 1744.4,262.4 1745.0,258.3 1745.6,259.1 1746.2,259.6 1746.8,251.9 1747.4,257.7 1748.0,259.3 1748.6,260.3 1749.2,257.1 1749.8,261.1 1750.4,256.3 1751.0,257.7 1751.6,263.3 1752.2,254.2 1752.8,258.1 1753.4,257.9 1754.0,258.1 1754.6,256.8 1755.2,260.4 1755.8,255.3 1756.4,254.6 1757.0,260.0 1757.6,255.0 1758.2,259.7 1758.8,258.7 1759.4,256.6 1760.0,257.7 1760.6,258.4 1761.2,260.1 1761.8,256.9 1762.4,258.2 1763.0,254.6 1763.6,258.1 1764.2,253.1 1764.8,258.8 1765.4,257.6 1766.0,264.5 1766.6,262.9 1767.2,258.6 1767.8,261.9 1768.4,259.9 1769.0,255.7 1769.6,253.3 1770.2,262.5 1770.8,260.3 1771.4,253.4 1772.0,261.1 1772.6,262.0 1773.2,257.2 1773.8,261.7 1774.4,254.2 1775.0,258.7 1775.6,259.5 1776.2,261.7 1776.8,260.6 1777.4,260.1 1778.0,261.1 1778.6,257.5 1779.2,263.9 1779.8,258.5 1780.4,261.9 1781.0,259.6 1781.6,258.9 1782.2,261.4 1782.8,261.0 1783.4,263.7 1784.0,262.9 1784.6,258.0 1785.2,261.2 1785.8,260.0 1786.4,257.4 1787.0,256.5 1787.6,260.5 1788.2,258.2 1788.8,255.7 1789.4,259.5 1790.0,260.5 1790.6,260.2 1791.2,256.3 1791.8,258.1 1792.4,264.0 1793.0,257.6 1793.6,258.9 1794.2,265.5 1794.8,261.0 1795.4,258.4 1796.0,254.2 1796.6,260.9 1797.2,255.8 1797.8,259.9 1798.4,257.3 1799.0,254.9 1799.6,264.9 1800.2,259.6 1800.8,262.7 1801.4,262.2 1802.0,257.7 1802.6,260.2 1803.2,258.9 1803.8,262.8 1804.4,261.2 1805.0,258.9 1805.6,264.9 1806.2,261.5 1806.8,261.3 1807.4,257.6 1808.0,261.2 1808.6,255.5 1809.2,261.3 1809.8,257.1 1810.4,260.5 1811.0,259.1 1811.6,260.6 1812.2,261.0 1812.8,259.8 1813.4,259.8 1814.0,255.5 1814.6,254.2 1815.2,263.7 1815.8,261.6 1816.4,255.5"/>
</g>
<rect x="205.5" y="27.8" width="1611.0" height="1199.2" fill="none" stroke="#000" stroke-width="9.2" stroke-linejoin="round"/>
<line x1="206.2" y1="1227.0" x2="206.2" y2="1236.5" stroke="#000" stroke-width="9.2" stroke-linecap="round"/>
<line x1="352.6" y1="1227.0" x2="352.6" y2="1249.2" stroke="#000" stroke-width="9.2" stroke-linecap="round"/>
<line x1="499.0" y1="1227.0" x2="499.0" y2="1236.5" stroke="#000" stroke-width="9.2" stroke-linecap="round"/>
<line x1="645.4" y1="1227.0" x2="645.4" y2="1249.2" stroke="#000" stroke-width="9.2" stroke-linecap="round"/>
<line x1="791.8" y1="1227.0" x2="791.8" y2="1236.5" stroke="#000" stroke-width="9.2" stroke-linecap="round"/>
<line x1="938.2" y1="1227.0" x2="938.2" y2="1249.2" stroke="#000" stroke-width="9.2" stroke-linecap="round"/>
<line x1="1084.6" y1="1227.0" x2="1084.6" y2="1236.5" stroke="#000" stroke-width="9.2" stroke-linecap="round"/>
<line x1="1231.0" y1="1227.0" x2="1231.0" y2="1249.2" stroke="#000" stroke-width="9.2" stroke-linecap="round"/>
<line x1="1377.4" y1="1227.0" x2="1377.4" y2="1236.5" stroke="#000" stroke-width="9.2" stroke-linecap="round"/>
<line x1="1523.8" y1="1227.0" x2="1523.8" y2="1249.2" stroke="#000" stroke-width="9.2" stroke-linecap="round"/>
<line x1="1670.2" y1="1227.0" x2="1670.2" y2="1236.5" stroke="#000" stroke-width="9.2" stroke-linecap="round"/>
<line x1="1816.6" y1="1227.0" x2="1816.6" y2="1249.2" stroke="#000" stroke-width="9.2" stroke-linecap="round"/>
<line x1="355.5" y1="1227.0" x2="355.5" y2="1055.4" stroke="#000080" stroke-width="8.8" stroke-linecap="round"/>
<line x1="547.3" y1="1227.0" x2="547.3" y2="1153.0" stroke="#000080" stroke-width="8.8" stroke-linecap="round"/>
<line x1="1175.4" y1="1227.0" x2="1175.4" y2="1190.4" stroke="#000080" stroke-width="8.8" stroke-linecap="round"/>
<line x1="1585.3" y1="1227.0" x2="1585.3" y2="1193.1" stroke="#000080" stroke-width="8.8" stroke-linecap="round"/>
<line x1="1717.0" y1="1227.0" x2="1717.0" y2="1217.8" stroke="#000080" stroke-width="8.8" stroke-linecap="round"/>
<text x="352.6" y="1321" font-family="'Liberation Sans', Arial, sans-serif" font-weight="bold" font-size="71" fill="#000" text-anchor="middle" >40</text>
<text x="645.4" y="1321" font-family="'Liberation Sans', Arial, sans-serif" font-weight="bold" font-size="71" fill="#000" text-anchor="middle" >50</text>
<text x="938.2" y="1321" font-family="'Liberation Sans', Arial, sans-serif" font-weight="bold" font-size="71" fill="#000" text-anchor="middle" >60</text>
<text x="1231.0" y="1321" font-family="'Liberation Sans', Arial, sans-serif" font-weight="bold" font-size="71" fill="#000" text-anchor="middle" >70</text>
<text x="1523.8" y="1321" font-family="'Liberation Sans', Arial, sans-serif" font-weight="bold" font-size="71" fill="#000" text-anchor="middle" >80</text>
<text x="1816.6" y="1321" font-family="'Liberation Sans', Arial, sans-serif" font-weight="bold" font-size="71" fill="#000" text-anchor="middle" >90</text>
<text x="1433.92" y="148.7" font-family="'Liberation Sans', Arial, sans-serif" font-weight="bold" font-size="60.18" fill="#000000" text-anchor="start" >Pds–Mixed</text>
<text x="1440.52" y="383.2" font-family="'Liberation Sans', Arial, sans-serif" font-weight="bold" font-size="60.22" fill="#00ff00" text-anchor="start" >Pds–90 Hz</text>
<text x="1440.52" y="568.7" font-family="'Liberation Sans', Arial, sans-serif" font-weight="bold" font-size="60.22" fill="#0000ff" text-anchor="start" >Pds–10 Hz</text>
<text x="1463.53" y="793.7" font-family="'Liberation Sans', Arial, sans-serif" font-weight="bold" font-size="59.97" fill="#ff0000" text-anchor="start" >Pds–Des</text>
<text x="1392.77" y="1007.7" font-family="'Liberation Sans', Arial, sans-serif" font-weight="bold" font-size="60.67" fill="#800080" text-anchor="start" >carbon paper</text>
<text x="416.71" y="975.0" font-family="'Liberation Sans', Arial, sans-serif" font-weight="bold" font-size="56.84" fill="#800080" text-anchor="start" >(100)</text>
<text x="823.38" y="975.0" font-family="'Liberation Sans', Arial, sans-serif" font-weight="bold" font-size="55.95" fill="#800080" text-anchor="start" >(004)</text>
<text x="592.09" y="1116.5" font-family="'Liberation Sans', Arial, sans-serif" font-weight="bold" font-size="60.47" fill="#000080" text-anchor="start" >Pd JCPDS 89-4897</text>
<text x="230.90" y="1198.3" font-family="'Liberation Sans', Arial, sans-serif" font-weight="bold" font-size="50.00" fill="#000080" text-anchor="start" letter-spacing="1.6">(111)</text>
<text x="423.58" y="1197.5" font-family="'Liberation Sans', Arial, sans-serif" font-weight="bold" font-size="49.28" fill="#000080" text-anchor="start" >(200)</text>
<text x="1043.14" y="1208.7" font-family="'Liberation Sans', Arial, sans-serif" font-weight="bold" font-size="49.90" fill="#000080" text-anchor="start" >(220)</text>
<text x="1446.71" y="1201.8" font-family="'Liberation Sans', Arial, sans-serif" font-weight="bold" font-size="50.39" fill="#000080" text-anchor="start" >(311)</text>
<text x="1598.94" y="1201.8" font-family="'Liberation Sans', Arial, sans-serif" font-weight="bold" font-size="49.81" fill="#000080" text-anchor="start" >(222)</text>
<text x="905.94" y="1454.2" font-family="'Liberation Sans', Arial, sans-serif" font-weight="bold" font-size="80.98" fill="#000000" text-anchor="start" >(degree)</text>
<text x="795.20" y="1454.2" font-family="'Liberation Sans', Arial, sans-serif" font-weight="bold" font-size="82.00" fill="#000000" text-anchor="start" >2</text>
<text transform="translate(95.8,918) rotate(-90)" x="0" y="0" font-family="'Liberation Sans', Arial, sans-serif" font-weight="bold" font-size="79.3" fill="#000">Intensity (a.u.)</text>
<text transform="translate(841,1454.2) scale(1.1,0.93)" x="0" y="0" font-family="'Liberation Serif', serif" font-size="80" fill="#000">θ</text>
</svg>
</body></html>
